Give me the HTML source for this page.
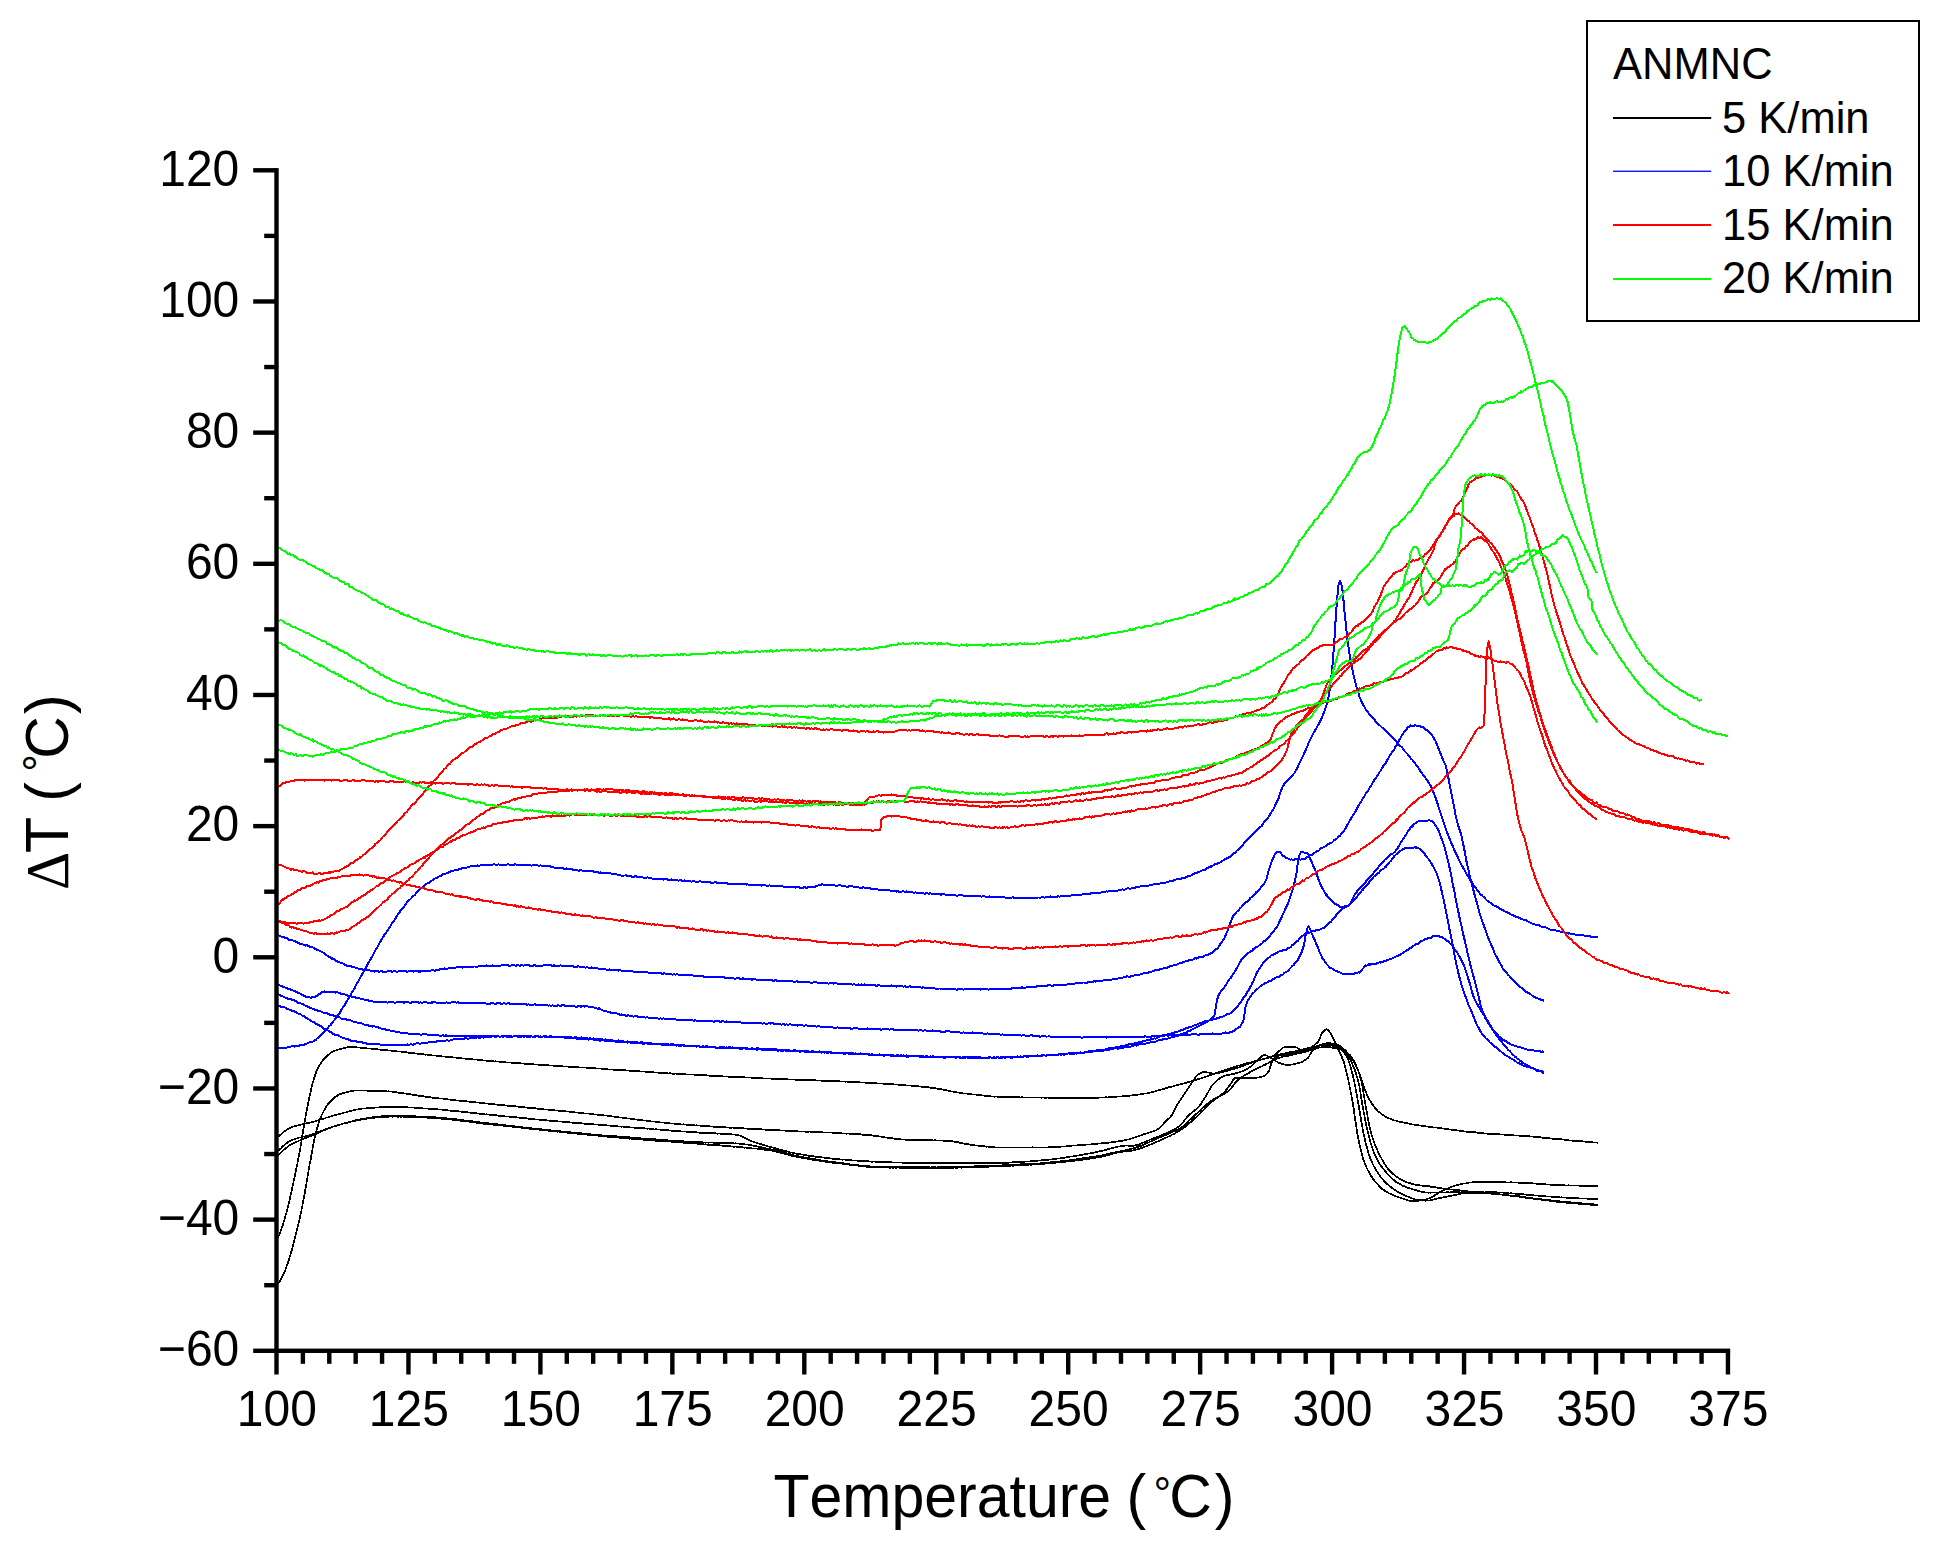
<!DOCTYPE html>
<html lang="en">
<head>
<meta charset="utf-8">
<title>ANMNC DTA curves</title>
<style>
html,body{margin:0;padding:0;background:#fff;}
body{width:1939px;height:1550px;overflow:hidden;}
svg{display:block;font-family:"Liberation Sans",Arial,sans-serif;font-kerning:none;}
text{fill:#000;font-kerning:none;}
.tick text{font-size:48px;}
.curves path{fill:none;stroke-linejoin:round;}
.legend text{font-size:43.5px;}
.title text{font-size:59.0px;}
</style>
</head>
<body>
<svg width="1939" height="1550" viewBox="0 0 1939 1550">
<rect x="0" y="0" width="1939" height="1550" fill="#ffffff"/>
<g class="curves" shape-rendering="crispEdges">
<path d="M278.1,1237.7 279.6,1234.1 281.1,1229.8 282.6,1225.6 284.1,1220.6 285.6,1215.5 286.3,1213.4 287.1,1210.1 288.6,1204.2 290.1,1197.6 291.6,1191.0 293.1,1184.0 294.4,1178.1 294.6,1177.1 296.1,1169.8 297.6,1162.4 299.1,1154.6 299.8,1151.0 300.6,1146.3 302.1,1137.1 303.6,1127.9 305.1,1119.0 305.2,1118.5 306.6,1111.0 308.1,1103.2 309.6,1095.9 310.7,1091.4 311.1,1089.3 312.6,1083.3 314.1,1078.1 315.6,1073.5 316.1,1072.3 317.1,1070.1 318.6,1067.1 320.1,1064.4 321.6,1062.2 323.1,1059.9 324.2,1058.9 324.6,1058.4 326.1,1056.8 327.6,1055.5 329.1,1054.3 330.6,1053.1 332.1,1052.0 333.6,1051.4 335.0,1050.7 335.1,1050.7 336.6,1050.3 338.1,1049.6 339.6,1049.3 341.1,1048.8 342.6,1048.5 344.1,1048.0 345.6,1047.8 347.1,1047.4 348.6,1047.2 350.1,1047.3 351.3,1047.3 351.6,1047.3 353.1,1047.2 354.6,1047.2 356.1,1047.2 357.6,1047.4 359.1,1047.6 360.6,1047.7 362.1,1047.7 363.6,1047.8 365.1,1048.1 366.6,1048.3 368.1,1048.5 369.6,1048.4 371.1,1048.6 372.6,1048.9 374.1,1048.9 375.6,1049.1 377.1,1049.1 378.4,1049.4 378.6,1049.5 380.1,1049.6 381.6,1049.8 383.1,1049.9 384.6,1049.9 386.1,1050.2 387.6,1050.2 389.1,1050.5 390.6,1050.5 392.1,1050.9 393.6,1050.8 395.1,1051.1 396.6,1051.2 398.1,1051.5 399.6,1051.5 401.1,1051.7 402.6,1051.8 404.1,1052.1 405.6,1052.3 407.1,1052.4 408.6,1052.7 410.1,1052.8 411.6,1053.1 413.1,1053.2 414.6,1053.3 416.1,1053.6 417.6,1053.7 419.1,1054.0 420.6,1054.0 422.1,1054.2 423.6,1054.3 425.1,1054.7 426.6,1054.6 428.1,1054.8 429.6,1054.9 431.1,1055.1 432.6,1055.4 432.6,1055.4 434.1,1055.4 435.6,1055.6 437.1,1055.8 438.6,1056.0 440.1,1056.1 441.6,1056.3 443.1,1056.5 444.6,1056.6 446.1,1056.7 447.6,1056.8 449.1,1057.0 450.6,1057.0 452.1,1057.2 453.6,1057.4 455.1,1057.6 456.6,1057.7 458.1,1057.9 459.6,1058.2 461.1,1058.3 462.6,1058.4 464.1,1058.6 465.6,1058.7 467.1,1058.9 468.6,1059.0 470.1,1059.1 471.6,1059.1 473.1,1059.4 474.6,1059.4 476.1,1059.5 477.6,1059.8 479.1,1060.0 480.6,1060.0 482.1,1060.3 483.6,1060.4 485.1,1060.4 486.6,1060.8 488.1,1060.7 489.6,1060.8 491.1,1061.1 492.6,1061.0 494.1,1061.4 495.6,1061.3 497.1,1061.5 498.6,1061.6 500.1,1061.9 501.6,1061.9 503.1,1062.2 504.6,1062.2 506.1,1062.4 507.6,1062.4 509.1,1062.5 510.6,1062.6 512.1,1062.9 513.6,1062.8 513.9,1063.1 515.1,1063.1 516.6,1063.1 518.1,1063.3 519.6,1063.3 521.1,1063.4 522.6,1063.6 524.1,1063.6 525.6,1063.8 527.1,1064.1 528.6,1064.0 530.1,1064.2 531.6,1064.2 533.1,1064.2 534.6,1064.6 536.1,1064.4 537.6,1064.6 539.1,1064.9 540.6,1064.8 542.1,1065.0 543.6,1065.1 545.1,1065.2 546.6,1065.3 548.1,1065.3 549.6,1065.5 551.1,1065.4 552.6,1065.6 554.1,1065.7 555.6,1065.8 557.1,1065.8 558.6,1065.9 560.1,1066.1 561.6,1066.2 563.1,1066.4 564.6,1066.4 566.1,1066.6 567.6,1066.6 569.1,1066.7 570.6,1066.7 572.1,1066.9 573.6,1066.9 575.1,1066.9 576.6,1067.3 578.1,1067.3 579.6,1067.4 581.1,1067.4 582.6,1067.6 584.1,1067.5 585.6,1067.6 587.1,1067.9 588.6,1067.9 590.1,1067.9 591.6,1068.2 593.1,1068.1 594.6,1068.3 595.2,1068.2 596.1,1068.5 597.6,1068.4 599.1,1068.5 600.6,1068.6 602.1,1068.7 603.6,1068.8 605.1,1069.0 606.6,1069.1 608.1,1069.4 609.6,1069.5 611.1,1069.5 612.6,1069.6 614.1,1069.7 615.6,1069.9 617.1,1069.7 618.6,1069.8 620.1,1070.0 621.6,1070.0 623.1,1070.3 624.6,1070.3 626.1,1070.4 627.6,1070.5 629.1,1070.6 630.6,1070.9 632.1,1070.9 633.6,1071.0 635.1,1070.9 636.6,1071.2 638.1,1071.3 639.6,1071.3 641.1,1071.5 642.6,1071.5 644.1,1071.6 645.6,1071.7 647.1,1071.9 648.6,1072.0 650.1,1072.2 651.6,1072.1 653.1,1072.2 654.6,1072.5 656.1,1072.4 657.6,1072.5 659.1,1072.8 660.6,1072.9 662.1,1072.8 663.6,1072.9 665.1,1073.0 666.6,1073.1 668.1,1073.4 669.6,1073.3 671.1,1073.3 672.6,1073.7 674.1,1073.7 675.6,1073.6 676.5,1073.7 677.1,1073.8 678.6,1073.8 680.1,1074.0 681.6,1074.1 683.1,1074.0 684.6,1074.3 686.1,1074.4 687.6,1074.5 689.1,1074.5 690.6,1074.6 692.1,1074.6 693.6,1074.6 695.1,1074.7 696.6,1075.1 698.1,1075.0 699.6,1075.2 701.1,1075.1 702.6,1075.3 704.1,1075.2 705.6,1075.3 707.1,1075.4 708.6,1075.6 710.1,1075.7 711.6,1075.7 713.1,1075.8 714.6,1075.9 716.1,1076.1 717.6,1076.1 719.1,1076.2 720.6,1076.1 722.1,1076.3 723.6,1076.4 725.1,1076.5 726.6,1076.5 728.1,1076.6 729.6,1076.8 731.1,1076.8 732.6,1076.9 734.1,1076.8 735.6,1076.9 737.1,1077.0 738.6,1077.0 740.1,1077.4 741.6,1077.2 743.1,1077.3 744.6,1077.3 746.1,1077.6 747.6,1077.5 749.1,1077.5 750.6,1077.6 752.1,1077.7 753.6,1077.9 755.1,1078.0 756.6,1078.0 758.1,1078.0 759.6,1078.3 761.1,1078.3 762.6,1078.2 764.1,1078.5 765.6,1078.5 767.1,1078.4 768.6,1078.6 770.0,1078.6 770.1,1078.6 771.6,1078.7 773.1,1078.8 774.6,1078.8 776.1,1078.9 777.6,1078.9 779.1,1079.1 780.6,1079.0 782.1,1079.3 783.6,1079.2 785.1,1079.2 786.6,1079.2 788.1,1079.4 789.6,1079.4 791.1,1079.5 792.6,1079.6 794.1,1079.5 795.6,1079.8 797.1,1079.6 798.6,1079.9 800.1,1079.9 801.6,1080.0 803.1,1080.0 804.6,1079.9 806.1,1080.0 807.6,1080.1 809.1,1080.2 810.6,1080.2 812.1,1080.3 813.6,1080.2 815.1,1080.3 816.6,1080.4 818.1,1080.5 819.6,1080.4 821.1,1080.7 822.6,1080.7 824.1,1080.8 825.6,1080.7 827.1,1080.9 828.6,1081.0 830.1,1081.1 831.6,1080.9 833.1,1081.1 834.6,1081.1 836.1,1081.2 837.6,1081.2 839.1,1081.2 840.6,1081.4 842.1,1081.5 843.6,1081.5 845.1,1081.7 846.6,1081.6 848.1,1081.7 849.6,1081.9 851.1,1081.9 851.3,1081.8 852.6,1081.9 854.1,1082.2 855.6,1082.3 857.1,1082.2 858.6,1082.2 860.1,1082.4 861.6,1082.4 863.1,1082.5 864.6,1082.6 866.1,1082.7 867.6,1082.7 869.1,1083.0 870.6,1082.8 872.1,1083.1 873.6,1083.0 875.1,1083.1 876.6,1083.2 878.1,1083.5 879.6,1083.5 881.1,1083.7 882.6,1083.5 884.1,1083.8 885.6,1083.8 887.1,1083.9 888.6,1084.1 890.1,1084.1 891.6,1084.2 893.1,1084.3 894.6,1084.4 896.1,1084.6 897.6,1084.6 899.1,1084.7 900.6,1084.9 902.1,1085.0 903.6,1085.2 905.1,1085.3 906.6,1085.4 908.1,1085.6 909.6,1085.5 911.1,1085.6 912.6,1085.8 914.1,1085.9 915.6,1086.2 917.1,1086.3 918.6,1086.3 920.1,1086.6 921.6,1086.7 923.1,1086.8 924.6,1087.1 926.1,1087.3 927.6,1087.2 929.1,1087.4 930.6,1087.8 932.1,1087.7 932.6,1087.9 933.6,1087.9 935.1,1088.1 936.6,1088.4 938.1,1088.8 939.6,1088.8 941.1,1089.1 942.6,1089.6 944.1,1089.8 945.6,1090.1 947.1,1090.6 948.6,1090.7 950.1,1091.1 951.6,1091.5 953.1,1091.7 954.6,1092.0 956.1,1092.3 957.6,1092.5 959.1,1092.6 959.7,1092.8 960.6,1092.9 962.1,1093.2 963.6,1093.4 965.1,1093.6 966.6,1093.5 968.1,1093.8 969.6,1094.0 971.1,1094.3 972.6,1094.4 974.1,1094.5 975.6,1094.6 977.1,1094.9 978.6,1095.2 980.1,1095.1 981.6,1095.3 983.1,1095.5 984.6,1095.7 986.1,1095.8 987.6,1096.1 989.1,1096.1 990.6,1096.3 992.1,1096.5 993.6,1096.6 995.1,1096.7 996.6,1096.5 998.1,1096.8 999.6,1096.8 1000.4,1096.8 1001.1,1096.7 1002.6,1096.8 1004.1,1097.0 1005.6,1096.8 1007.1,1096.9 1008.6,1097.0 1010.1,1097.2 1011.6,1097.1 1013.1,1097.0 1014.6,1097.1 1016.1,1097.2 1017.6,1097.3 1019.1,1097.2 1020.6,1097.4 1022.1,1097.3 1023.6,1097.5 1025.1,1097.4 1026.6,1097.4 1028.1,1097.4 1029.6,1097.4 1031.1,1097.6 1032.6,1097.4 1034.1,1097.5 1035.6,1097.5 1037.1,1097.5 1038.6,1097.6 1040.1,1097.6 1041.0,1097.6 1041.6,1097.7 1043.1,1097.6 1044.6,1097.7 1046.1,1097.8 1047.6,1097.6 1049.1,1097.7 1050.6,1097.9 1052.1,1097.9 1053.6,1098.0 1055.1,1097.7 1056.6,1098.0 1058.1,1098.0 1059.6,1098.1 1061.1,1098.0 1062.6,1098.0 1064.1,1098.1 1065.6,1098.1 1067.1,1098.1 1068.6,1098.1 1070.1,1098.0 1071.6,1098.0 1073.1,1098.2 1074.6,1098.2 1076.1,1098.0 1077.6,1098.2 1079.1,1098.1 1080.6,1098.2 1081.7,1098.1 1082.1,1098.1 1083.6,1098.1 1085.1,1098.0 1086.6,1098.0 1088.1,1098.0 1089.6,1097.9 1091.1,1098.1 1092.6,1098.0 1094.1,1097.8 1095.6,1097.9 1097.1,1097.8 1098.6,1097.7 1100.1,1097.6 1101.6,1097.6 1103.1,1097.6 1104.6,1097.4 1106.1,1097.3 1107.6,1097.4 1109.1,1097.1 1110.6,1097.1 1112.1,1096.9 1113.6,1096.9 1115.1,1096.7 1116.6,1096.7 1118.1,1096.5 1119.6,1096.6 1121.1,1096.5 1122.3,1096.3 1122.6,1096.4 1124.1,1096.2 1125.6,1096.1 1127.1,1096.0 1128.6,1095.7 1130.1,1095.7 1131.6,1095.4 1133.1,1095.3 1134.6,1095.0 1136.1,1095.0 1137.6,1094.7 1139.1,1094.6 1140.6,1094.2 1142.1,1094.0 1143.6,1093.8 1145.1,1093.5 1145.5,1093.4 1146.6,1093.4 1148.1,1093.2 1149.6,1092.7 1151.1,1092.3 1152.6,1092.0 1154.1,1091.5 1155.6,1091.2 1157.1,1090.7 1158.6,1090.3 1160.1,1090.0 1161.6,1089.5 1163.1,1089.1 1164.6,1088.6 1166.1,1088.1 1167.6,1087.6 1168.7,1087.2 1169.1,1087.1 1170.6,1086.9 1172.1,1086.6 1173.6,1086.0 1175.1,1085.5 1176.6,1085.2 1178.1,1085.0 1179.6,1084.4 1181.1,1084.0 1182.6,1083.7 1184.1,1083.4 1185.6,1083.0 1187.1,1082.4 1188.6,1082.1 1190.1,1081.7 1191.6,1081.2 1191.9,1081.2 1193.1,1080.9 1194.6,1080.3 1196.1,1079.9 1197.6,1079.3 1199.1,1078.9 1200.6,1078.5 1202.1,1078.0 1203.6,1077.4 1205.1,1076.8 1206.6,1076.4 1208.1,1075.8 1209.6,1075.2 1211.1,1074.8 1212.6,1074.4 1214.1,1073.9 1215.1,1073.6 1215.6,1073.2 1217.1,1072.7 1218.6,1072.1 1220.1,1071.7 1221.6,1071.3 1223.1,1070.6 1224.6,1070.3 1226.1,1069.7 1227.6,1069.1 1229.1,1068.7 1230.6,1068.2 1232.1,1067.8 1233.6,1067.0 1235.1,1066.8 1236.6,1066.3 1238.1,1065.7 1238.3,1065.6 1239.6,1065.5 1241.1,1064.8 1242.6,1064.4 1244.1,1064.1 1245.6,1063.5 1247.1,1063.2 1248.6,1062.8 1250.1,1062.5 1251.6,1062.1 1253.1,1061.7 1254.6,1061.3 1256.1,1061.0 1257.6,1060.6 1259.1,1060.3 1260.6,1059.7 1261.5,1059.6 1262.1,1059.3 1263.6,1058.9 1265.1,1058.6 1266.6,1058.2 1268.1,1057.8 1269.6,1057.2 1271.1,1056.8 1272.6,1056.5 1274.1,1056.1 1275.6,1055.7 1277.1,1055.1 1278.6,1054.9 1280.1,1054.4 1281.6,1054.0 1283.1,1053.6 1284.6,1053.5 1284.7,1053.5 1286.1,1052.9 1287.6,1052.6 1289.1,1052.5 1290.6,1052.0 1292.1,1051.7 1293.6,1051.4 1295.1,1051.4 1296.6,1050.9 1298.1,1050.6 1299.6,1050.4 1300.2,1050.2 1301.1,1050.1 1302.6,1049.6 1304.1,1049.2 1305.6,1048.9 1307.1,1048.5 1308.6,1048.0 1310.1,1047.9 1311.6,1047.5 1313.1,1047.0 1314.6,1046.7 1315.7,1046.5 1316.1,1046.2 1317.6,1045.9 1319.1,1045.4 1320.6,1044.7 1322.1,1044.2 1323.6,1044.0 1325.1,1043.6 1326.6,1043.2 1328.1,1043.4 1328.1,1043.4 1329.6,1043.3 1331.1,1043.4 1332.6,1043.6 1334.1,1044.0 1335.6,1044.2 1337.1,1044.8 1337.3,1044.9 1338.6,1045.3 1340.1,1046.0 1341.6,1047.2 1343.1,1048.5 1344.6,1049.7 1346.1,1051.3 1346.6,1051.9 1347.6,1052.7 1349.1,1054.8 1350.6,1056.8 1352.1,1059.0 1353.6,1061.5 1354.4,1062.5 1355.1,1064.1 1356.6,1067.2 1358.1,1070.4 1359.6,1074.3 1360.5,1076.5 1361.1,1078.2 1362.6,1082.9 1364.1,1087.7 1365.2,1090.4 1365.6,1091.5 1367.1,1095.1 1368.6,1097.9 1370.1,1100.7 1371.4,1103.0 1371.6,1103.3 1373.1,1105.3 1374.6,1107.5 1376.1,1109.1 1377.6,1110.9 1379.1,1112.3 1379.5,1112.3 1380.6,1113.2 1382.1,1114.4 1383.6,1115.5 1385.1,1116.4 1386.6,1117.1 1388.1,1118.0 1389.6,1118.5 1391.1,1119.1 1391.9,1119.4 1392.6,1119.8 1394.1,1120.3 1395.6,1120.6 1397.1,1121.0 1398.6,1121.6 1400.1,1121.8 1401.6,1122.1 1403.1,1122.5 1404.6,1122.9 1406.1,1123.2 1407.4,1123.2 1407.6,1123.5 1409.1,1123.7 1410.6,1123.8 1412.1,1124.3 1413.6,1124.6 1415.1,1124.8 1416.6,1124.8 1418.1,1125.2 1419.6,1125.4 1421.1,1125.7 1422.6,1125.8 1424.1,1125.9 1425.6,1126.4 1427.1,1126.6 1428.6,1126.7 1430.1,1126.8 1431.6,1127.2 1433.1,1127.4 1434.6,1127.6 1436.1,1127.5 1437.6,1127.9 1438.3,1127.9 1439.1,1128.0 1440.6,1128.3 1442.1,1128.4 1443.6,1128.5 1445.1,1128.8 1446.6,1129.2 1448.1,1129.3 1449.6,1129.4 1451.1,1129.7 1452.6,1129.7 1454.1,1130.1 1455.6,1130.3 1457.1,1130.3 1458.6,1130.6 1460.1,1130.8 1461.6,1131.0 1463.1,1131.2 1464.6,1131.4 1466.1,1131.6 1467.6,1131.8 1469.1,1131.8 1470.6,1131.9 1472.1,1132.1 1473.6,1132.3 1475.1,1132.3 1476.6,1132.5 1478.1,1132.8 1479.6,1132.8 1481.1,1133.0 1482.6,1133.3 1484.1,1133.4 1484.7,1133.5 1485.6,1133.4 1487.1,1133.6 1488.6,1133.8 1490.1,1133.7 1491.6,1133.8 1493.1,1134.1 1494.6,1134.1 1496.1,1134.1 1497.6,1134.3 1499.1,1134.3 1500.6,1134.5 1502.1,1134.5 1503.6,1134.6 1505.1,1134.7 1506.6,1134.8 1508.1,1134.8 1509.6,1135.0 1511.1,1135.2 1512.6,1135.2 1514.1,1135.4 1515.6,1135.5 1517.1,1135.4 1518.6,1135.5 1520.1,1135.8 1521.6,1135.7 1523.1,1135.8 1524.6,1136.0 1526.1,1136.2 1527.6,1136.1 1529.1,1136.3 1530.6,1136.5 1531.1,1136.5 1532.1,1136.5 1533.6,1136.7 1535.1,1136.8 1536.6,1137.0 1538.1,1137.0 1539.6,1137.1 1541.1,1137.5 1542.6,1137.7 1544.1,1137.8 1545.6,1138.0 1547.1,1138.2 1548.6,1138.2 1550.1,1138.4 1551.6,1138.6 1553.1,1138.7 1554.6,1138.9 1556.1,1138.9 1557.6,1139.2 1559.1,1139.3 1560.6,1139.3 1562.1,1139.4 1562.1,1139.6 1563.6,1139.6 1565.1,1140.0 1566.6,1139.9 1568.1,1140.1 1569.6,1140.4 1571.1,1140.4 1572.6,1140.7 1574.1,1140.8 1575.6,1140.7 1577.1,1140.8 1578.6,1141.0 1580.1,1141.3 1581.6,1141.3 1583.1,1141.4 1584.6,1141.6 1586.1,1141.7 1587.6,1141.9 1589.1,1141.8 1590.6,1142.0 1592.1,1142.3 1593.6,1142.4 1595.1,1142.5 1596.6,1142.5 1597.7,1142.7" stroke="#000000" stroke-width="1.7"/>
<path d="M278.1,1283.8 279.6,1281.5 281.1,1279.0 282.6,1275.8 284.1,1272.7 285.6,1269.2 286.3,1267.4 287.1,1265.1 288.6,1260.8 290.1,1256.0 291.6,1250.7 293.1,1245.1 294.4,1240.4 294.6,1239.6 296.1,1233.6 297.6,1227.5 299.1,1221.2 300.6,1214.3 302.1,1207.1 302.5,1205.1 303.6,1199.4 305.1,1191.1 306.6,1182.4 308.1,1173.5 309.6,1164.7 310.7,1159.3 311.1,1156.6 312.6,1148.5 314.1,1140.5 315.6,1133.6 316.1,1131.9 317.1,1128.3 318.6,1123.4 320.1,1119.1 321.5,1115.8 321.6,1115.4 323.1,1112.3 324.6,1109.5 326.1,1107.0 327.6,1104.6 329.1,1102.9 329.6,1102.3 330.6,1101.3 332.1,1099.7 333.6,1098.4 335.1,1097.1 336.6,1096.1 338.1,1095.1 339.6,1094.3 340.5,1094.0 341.1,1093.9 342.6,1093.3 344.1,1093.0 345.6,1092.5 347.1,1092.0 348.6,1091.8 350.1,1091.3 351.6,1091.1 353.1,1090.8 354.6,1090.6 356.1,1090.5 356.7,1090.5 357.6,1090.6 359.1,1090.5 360.6,1090.4 362.1,1090.7 363.6,1090.5 365.1,1090.6 366.6,1090.6 368.1,1090.7 369.6,1090.7 371.1,1090.8 372.6,1090.8 374.1,1090.8 375.6,1090.8 377.1,1090.8 378.4,1091.0 378.6,1090.8 380.1,1090.9 381.6,1091.0 383.1,1090.9 384.6,1091.1 386.1,1091.3 387.6,1091.4 389.1,1091.3 390.6,1091.6 392.1,1091.6 393.6,1092.0 395.1,1092.0 396.6,1092.2 398.1,1092.7 399.6,1092.7 401.1,1092.9 402.6,1093.0 404.1,1093.3 405.6,1093.6 407.1,1093.8 408.6,1093.9 410.1,1094.2 411.6,1094.5 413.1,1094.8 414.6,1095.0 416.1,1095.3 417.6,1095.4 419.1,1095.9 420.6,1096.1 422.1,1096.1 423.6,1096.3 425.1,1096.7 426.6,1096.9 428.1,1096.9 429.6,1097.2 431.1,1097.4 432.6,1097.7 432.6,1097.7 434.1,1097.9 435.6,1098.1 437.1,1098.0 438.6,1098.4 440.1,1098.5 441.6,1098.5 443.1,1098.7 444.6,1099.0 446.1,1099.1 447.6,1099.3 449.1,1099.6 450.6,1099.7 452.1,1099.8 453.6,1100.1 455.1,1100.1 456.6,1100.4 458.1,1100.5 459.6,1100.8 461.1,1100.7 462.6,1101.1 464.1,1101.1 465.6,1101.3 467.1,1101.3 468.6,1101.6 470.1,1101.7 471.6,1101.8 473.1,1101.9 474.6,1102.3 476.1,1102.4 477.6,1102.4 479.1,1102.6 480.6,1102.8 482.1,1103.1 483.6,1103.0 485.1,1103.5 486.6,1103.6 488.1,1103.6 489.6,1103.8 491.1,1103.9 492.6,1104.2 494.1,1104.1 495.6,1104.4 497.1,1104.6 498.6,1104.8 500.1,1104.9 501.6,1105.1 503.1,1105.1 504.6,1105.2 506.1,1105.5 507.6,1105.7 509.1,1105.9 510.6,1106.0 512.1,1106.2 513.6,1106.4 513.9,1106.2 515.1,1106.3 516.6,1106.5 518.1,1106.7 519.6,1106.9 521.1,1107.2 522.6,1107.1 524.1,1107.3 525.6,1107.5 527.1,1107.6 528.6,1107.9 530.1,1108.0 531.6,1108.2 533.1,1108.1 534.6,1108.3 536.1,1108.4 537.6,1108.8 539.1,1108.9 540.6,1108.8 542.1,1109.2 543.6,1109.3 545.1,1109.5 546.6,1109.5 548.1,1109.7 549.6,1109.7 551.1,1109.8 552.6,1110.2 554.1,1110.1 555.6,1110.5 557.1,1110.5 558.6,1110.7 560.1,1111.0 561.6,1110.9 563.1,1111.1 564.6,1111.2 566.1,1111.3 567.6,1111.6 569.1,1111.6 570.6,1112.0 572.1,1112.1 573.6,1112.1 575.1,1112.5 576.6,1112.4 578.1,1112.7 579.6,1112.9 581.1,1112.9 582.6,1112.9 584.1,1113.4 585.6,1113.5 587.1,1113.5 588.6,1113.6 590.1,1113.9 591.6,1114.1 593.1,1114.3 594.6,1114.5 595.2,1114.6 596.1,1114.4 597.6,1114.7 599.1,1114.8 600.6,1114.9 602.1,1115.1 603.6,1115.3 605.1,1115.5 606.6,1115.6 608.1,1115.8 609.6,1115.9 611.1,1116.3 612.6,1116.5 614.1,1116.6 615.6,1116.8 617.1,1117.0 618.6,1117.3 620.1,1117.5 621.6,1117.5 623.1,1117.8 624.6,1117.9 626.1,1118.3 627.6,1118.4 629.1,1118.4 630.6,1118.7 632.1,1118.8 633.6,1119.0 635.1,1119.3 636.6,1119.6 638.1,1119.7 639.6,1119.8 641.1,1120.1 642.6,1120.2 644.1,1120.5 645.6,1120.5 647.1,1120.8 648.6,1120.9 650.1,1121.1 651.6,1121.4 653.1,1121.4 654.6,1121.6 656.1,1121.7 657.6,1122.1 659.1,1122.2 660.6,1122.4 662.1,1122.4 663.6,1122.5 665.1,1122.8 666.6,1123.1 668.1,1123.2 669.6,1123.2 671.1,1123.5 672.6,1123.4 674.1,1123.7 675.6,1123.8 676.5,1123.9 677.1,1123.9 678.6,1124.2 680.1,1124.1 681.6,1124.5 683.1,1124.3 684.6,1124.5 686.1,1124.7 687.6,1124.8 689.1,1124.9 690.6,1125.0 692.1,1125.0 693.6,1125.2 695.1,1125.4 696.6,1125.3 698.1,1125.5 699.6,1125.6 701.1,1125.7 702.6,1125.8 704.1,1126.1 705.6,1126.1 707.1,1126.1 708.6,1126.2 710.1,1126.4 711.6,1126.5 713.1,1126.7 714.6,1126.8 716.1,1126.7 717.6,1126.9 719.1,1126.9 720.6,1127.0 722.1,1127.1 723.6,1127.3 725.1,1127.3 726.6,1127.4 728.1,1127.5 729.6,1127.7 731.1,1127.7 732.6,1127.6 734.1,1127.9 735.6,1128.0 737.1,1128.1 738.6,1128.0 740.1,1128.1 741.6,1128.2 743.1,1128.2 744.6,1128.4 746.1,1128.6 747.6,1128.7 749.1,1128.7 750.6,1128.9 752.1,1128.9 753.6,1128.9 755.1,1129.1 756.6,1129.1 758.1,1129.3 759.6,1129.2 761.1,1129.2 762.6,1129.5 764.1,1129.4 765.6,1129.7 767.1,1129.7 768.6,1129.9 770.0,1129.7 770.1,1129.9 771.6,1130.0 773.1,1129.9 774.6,1130.2 776.1,1130.1 777.6,1130.2 779.1,1130.3 780.6,1130.5 782.1,1130.4 783.6,1130.5 785.1,1130.7 786.6,1130.8 788.1,1130.8 789.6,1130.8 791.1,1131.0 792.6,1131.0 794.1,1131.0 795.6,1131.2 797.1,1131.1 798.6,1131.4 800.1,1131.4 801.6,1131.4 803.1,1131.5 804.6,1131.6 806.1,1131.7 807.6,1131.8 809.1,1131.6 810.6,1131.7 812.1,1132.0 813.6,1131.8 815.1,1131.9 816.6,1132.1 818.1,1132.2 819.6,1132.3 821.1,1132.2 822.6,1132.3 824.1,1132.5 825.6,1132.5 827.1,1132.6 828.6,1132.4 830.1,1132.6 831.6,1132.6 833.1,1132.9 834.6,1132.8 836.1,1132.9 837.6,1133.1 839.1,1133.0 840.6,1133.2 842.1,1133.4 843.6,1133.5 845.1,1133.4 846.6,1133.7 848.1,1133.6 849.6,1133.7 851.1,1133.7 852.6,1134.0 854.1,1133.9 855.6,1134.2 857.1,1134.2 858.6,1134.3 860.1,1134.3 861.6,1134.5 863.1,1134.8 864.6,1134.7 864.9,1134.7 866.1,1134.7 867.6,1134.9 869.1,1135.2 870.6,1135.2 872.1,1135.3 873.6,1135.7 875.1,1136.0 876.6,1136.1 878.1,1136.3 879.6,1136.4 881.1,1136.7 882.6,1137.0 884.1,1137.1 885.6,1137.4 887.1,1137.5 888.6,1138.0 890.1,1138.1 891.6,1138.2 893.1,1138.4 894.6,1138.8 896.1,1138.8 897.6,1138.9 899.1,1139.0 900.6,1139.4 902.1,1139.4 903.6,1139.6 905.1,1139.5 905.5,1139.7 906.6,1139.8 908.1,1139.8 909.6,1139.9 911.1,1139.8 912.6,1139.7 914.1,1140.0 915.6,1139.8 917.1,1139.9 918.6,1140.0 920.1,1139.9 921.6,1140.1 923.1,1140.2 924.6,1140.0 926.1,1140.2 927.6,1140.3 929.1,1140.1 930.6,1140.2 932.1,1140.3 933.6,1140.4 935.1,1140.3 936.6,1140.5 938.1,1140.4 939.6,1140.4 941.1,1140.5 942.6,1140.6 944.1,1140.7 945.6,1140.7 946.2,1140.6 947.1,1140.8 948.6,1140.8 950.1,1141.1 951.6,1141.1 953.1,1141.5 954.6,1141.8 956.1,1141.8 957.6,1142.1 959.1,1142.6 960.6,1142.9 962.1,1143.0 963.6,1143.6 965.1,1143.7 966.6,1144.0 968.1,1144.3 969.6,1144.5 971.1,1144.9 972.6,1145.0 973.3,1145.2 974.1,1145.2 975.6,1145.4 977.1,1145.5 978.6,1145.7 980.1,1145.9 981.6,1145.9 983.1,1146.3 984.6,1146.3 986.1,1146.7 987.6,1146.6 989.1,1146.9 990.6,1147.1 992.1,1147.2 993.6,1147.1 995.1,1147.4 996.6,1147.4 998.1,1147.4 999.6,1147.5 1000.4,1147.6 1001.1,1147.4 1002.6,1147.5 1004.1,1147.5 1005.6,1147.4 1007.1,1147.6 1008.6,1147.5 1010.1,1147.4 1011.6,1147.4 1013.1,1147.4 1014.6,1147.5 1016.1,1147.6 1017.6,1147.4 1019.1,1147.4 1020.6,1147.4 1022.1,1147.5 1023.6,1147.5 1025.1,1147.5 1026.6,1147.4 1028.1,1147.6 1029.6,1147.5 1031.1,1147.6 1032.6,1147.3 1034.1,1147.5 1035.6,1147.4 1037.1,1147.6 1038.6,1147.5 1040.1,1147.5 1041.0,1147.4 1041.6,1147.5 1043.1,1147.6 1044.6,1147.5 1046.1,1147.6 1047.6,1147.4 1049.1,1147.3 1050.6,1147.2 1052.1,1147.3 1053.6,1147.2 1055.1,1147.1 1056.6,1147.0 1058.1,1146.9 1059.6,1146.9 1061.1,1146.7 1062.6,1146.5 1064.1,1146.5 1065.6,1146.4 1067.1,1146.1 1068.6,1146.2 1070.1,1146.1 1071.6,1145.7 1073.1,1145.6 1074.6,1145.5 1076.1,1145.6 1077.6,1145.3 1079.1,1145.3 1080.6,1145.1 1081.7,1144.9 1082.1,1144.9 1083.6,1144.8 1085.1,1144.9 1086.6,1144.6 1088.1,1144.4 1089.6,1144.6 1091.1,1144.3 1092.6,1144.0 1094.1,1144.2 1095.6,1144.0 1097.1,1143.8 1098.6,1143.5 1100.1,1143.6 1101.6,1143.2 1103.1,1143.3 1104.6,1143.1 1106.1,1142.9 1107.6,1142.8 1109.1,1142.7 1110.6,1142.4 1112.1,1142.3 1113.6,1141.9 1115.1,1141.8 1116.6,1141.6 1118.1,1141.3 1119.6,1141.0 1121.1,1141.0 1122.3,1140.8 1122.6,1140.5 1124.1,1140.4 1125.6,1140.0 1127.1,1139.6 1128.6,1139.4 1130.1,1138.9 1131.6,1138.5 1133.1,1137.9 1134.6,1137.6 1136.1,1137.1 1137.6,1136.4 1139.1,1136.0 1140.6,1135.4 1142.1,1135.0 1143.6,1134.3 1145.1,1133.9 1145.5,1133.9 1146.6,1133.5 1148.1,1133.0 1149.6,1132.4 1151.1,1132.1 1152.6,1131.5 1154.1,1131.0 1155.6,1130.4 1157.1,1129.7 1157.9,1129.2 1158.6,1128.7 1160.1,1127.2 1161.6,1125.7 1163.1,1124.2 1164.6,1122.5 1165.6,1121.5 1166.1,1120.8 1167.6,1119.5 1169.1,1118.3 1170.6,1116.7 1171.8,1115.3 1172.1,1114.7 1173.6,1111.9 1175.1,1108.6 1176.4,1106.1 1176.6,1105.5 1178.1,1103.3 1179.6,1100.9 1181.1,1098.8 1182.6,1096.8 1182.6,1096.7 1184.1,1094.4 1185.6,1092.1 1187.1,1089.9 1188.6,1087.6 1188.8,1087.4 1190.1,1085.3 1191.6,1082.8 1193.1,1080.5 1194.6,1078.7 1195.0,1078.1 1196.1,1076.6 1197.6,1075.0 1199.1,1073.8 1199.6,1073.4 1200.6,1073.1 1202.1,1072.3 1203.6,1072.0 1204.3,1071.9 1205.1,1071.8 1206.6,1072.3 1208.1,1072.6 1209.6,1072.7 1211.1,1073.2 1212.6,1073.4 1213.6,1073.4 1214.1,1073.4 1215.6,1073.3 1217.1,1073.2 1218.6,1072.9 1220.1,1072.5 1221.6,1072.2 1223.1,1071.8 1224.6,1071.5 1226.1,1071.1 1227.6,1070.7 1229.0,1070.4 1229.1,1070.4 1230.6,1069.8 1232.1,1069.4 1233.6,1069.2 1235.1,1068.4 1236.6,1068.0 1238.1,1067.6 1239.6,1067.1 1241.1,1066.3 1242.6,1065.9 1244.1,1065.5 1245.6,1064.7 1247.1,1064.2 1247.6,1064.2 1248.6,1063.9 1250.1,1063.2 1251.6,1062.8 1253.1,1062.3 1254.6,1061.8 1256.1,1061.3 1257.6,1060.9 1259.1,1060.4 1260.6,1059.7 1261.5,1059.4 1262.1,1059.3 1263.6,1058.8 1265.1,1058.5 1266.6,1058.2 1268.1,1058.0 1269.6,1057.3 1271.1,1056.8 1272.3,1056.5 1272.6,1056.2 1274.1,1055.2 1275.6,1054.0 1277.1,1052.9 1278.6,1051.3 1280.1,1050.3 1280.1,1050.2 1281.6,1049.0 1283.1,1047.7 1284.6,1047.1 1284.7,1047.0 1286.1,1047.1 1287.6,1047.1 1289.1,1047.1 1290.6,1047.1 1292.1,1047.2 1293.6,1047.1 1295.1,1047.0 1295.6,1047.1 1296.6,1047.5 1298.1,1048.4 1299.6,1049.3 1301.1,1050.0 1301.7,1050.2 1302.6,1050.1 1304.1,1050.0 1305.6,1050.0 1307.1,1049.6 1308.6,1049.1 1310.1,1048.8 1311.6,1048.4 1313.1,1047.9 1314.6,1047.5 1315.7,1047.2 1316.1,1047.0 1317.6,1046.4 1319.1,1046.0 1320.6,1045.4 1322.1,1044.6 1323.6,1044.0 1325.1,1043.7 1326.6,1043.3 1328.1,1043.4 1328.1,1043.2 1329.6,1043.4 1331.1,1043.7 1332.6,1044.1 1334.1,1044.7 1335.6,1045.5 1337.1,1046.2 1337.3,1046.2 1338.6,1047.0 1340.1,1048.3 1341.6,1049.6 1343.1,1051.5 1344.6,1053.4 1346.1,1055.6 1346.6,1056.3 1347.6,1058.5 1349.1,1062.1 1350.6,1067.2 1352.1,1072.5 1352.8,1075.1 1353.6,1078.4 1355.1,1085.7 1356.6,1094.0 1358.1,1102.5 1358.2,1102.8 1359.6,1110.9 1361.1,1120.0 1362.6,1128.7 1363.6,1133.8 1364.1,1136.0 1365.6,1142.6 1367.1,1148.2 1368.6,1153.5 1369.8,1156.9 1370.1,1157.7 1371.6,1161.4 1373.1,1164.8 1374.6,1167.5 1376.1,1170.1 1377.6,1172.5 1377.6,1172.6 1379.1,1174.6 1380.6,1176.8 1382.1,1178.7 1383.6,1180.4 1385.1,1182.1 1386.6,1183.6 1388.1,1184.8 1389.6,1186.2 1389.9,1186.4 1391.1,1187.2 1392.6,1188.4 1394.1,1189.6 1395.6,1190.5 1397.1,1191.3 1398.6,1192.3 1400.1,1193.1 1401.6,1193.8 1403.1,1194.6 1404.6,1195.4 1405.4,1195.6 1406.1,1196.0 1407.6,1196.5 1409.1,1197.2 1410.6,1198.0 1412.1,1198.4 1413.6,1199.0 1415.1,1199.4 1416.2,1199.6 1416.6,1199.5 1418.1,1199.9 1419.6,1200.2 1421.1,1200.4 1422.6,1200.4 1424.1,1200.6 1425.6,1200.7 1425.9,1200.7 1427.1,1200.6 1428.6,1200.6 1430.1,1200.3 1431.6,1200.0 1433.1,1199.7 1434.6,1199.3 1436.1,1198.9 1437.6,1198.4 1438.3,1198.2 1439.1,1198.1 1440.6,1197.9 1442.1,1197.5 1443.6,1197.2 1445.1,1197.1 1446.6,1196.7 1448.1,1196.3 1449.6,1196.1 1451.1,1195.9 1452.6,1195.6 1453.8,1195.4 1454.1,1195.1 1455.6,1195.0 1457.1,1194.6 1458.6,1194.2 1460.1,1193.9 1461.6,1193.6 1463.1,1193.5 1464.6,1193.1 1466.1,1192.9 1467.6,1192.7 1469.1,1192.7 1469.3,1192.7 1470.6,1192.5 1472.1,1192.6 1473.6,1192.5 1475.1,1192.3 1476.6,1192.4 1478.1,1192.5 1479.6,1192.4 1481.1,1192.3 1482.6,1192.2 1484.1,1192.4 1485.6,1192.3 1487.1,1192.3 1488.6,1192.2 1490.1,1192.3 1491.6,1192.1 1492.5,1192.3 1493.1,1192.3 1494.6,1192.2 1496.1,1192.2 1497.6,1192.4 1499.1,1192.4 1500.6,1192.5 1502.1,1192.5 1503.6,1192.8 1505.1,1192.7 1506.6,1193.0 1508.1,1193.1 1509.6,1193.4 1511.1,1193.2 1512.6,1193.5 1514.1,1193.5 1515.6,1193.9 1515.7,1193.6 1517.1,1194.0 1518.6,1194.0 1520.1,1194.0 1521.6,1194.2 1523.1,1194.3 1524.6,1194.5 1526.1,1194.7 1527.6,1194.7 1529.1,1195.0 1530.6,1195.1 1532.1,1195.1 1533.6,1195.2 1535.1,1195.5 1536.6,1195.5 1538.1,1195.6 1539.6,1195.9 1541.1,1196.0 1542.6,1196.0 1544.1,1196.2 1545.6,1196.3 1546.6,1196.4 1547.1,1196.4 1548.6,1196.5 1550.1,1196.5 1551.6,1196.8 1553.1,1196.9 1554.6,1196.7 1556.1,1197.1 1557.6,1197.2 1559.1,1197.3 1560.6,1197.4 1562.1,1197.3 1563.6,1197.6 1565.1,1197.5 1566.6,1197.7 1568.1,1197.8 1569.6,1197.8 1571.1,1198.0 1572.6,1198.1 1574.1,1198.0 1575.6,1198.1 1577.1,1198.3 1578.6,1198.3 1580.1,1198.5 1581.6,1198.4 1583.1,1198.5 1584.6,1198.6 1586.1,1198.6 1587.6,1198.7 1589.1,1198.7 1590.6,1198.8 1592.1,1198.9 1593.6,1198.9 1595.1,1199.0 1596.6,1199.1 1597.7,1199.1" stroke="#000000" stroke-width="1.7"/>
<path d="M278.1,1136.9 279.6,1135.5 281.1,1134.3 282.6,1133.0 284.1,1131.6 285.6,1130.6 287.1,1129.5 288.6,1128.5 290.1,1127.9 291.6,1127.1 291.7,1127.1 293.1,1126.6 294.6,1126.2 296.1,1125.8 297.6,1125.4 299.1,1125.2 300.6,1124.6 302.1,1124.4 303.6,1124.2 305.1,1123.7 306.6,1123.3 308.1,1123.3 309.6,1122.7 310.7,1122.5 311.1,1122.5 312.6,1122.0 314.1,1121.6 315.6,1121.2 317.1,1120.5 318.6,1120.3 320.1,1119.7 321.6,1119.1 323.1,1118.8 324.6,1118.4 326.1,1117.7 327.6,1117.4 329.1,1116.8 330.6,1116.5 332.1,1116.0 333.6,1115.5 335.1,1115.2 336.6,1114.8 337.8,1114.5 338.1,1114.4 339.6,1113.9 341.1,1113.6 342.6,1113.3 344.1,1112.6 345.6,1112.5 347.1,1111.9 348.6,1111.6 350.1,1111.1 351.6,1110.9 353.1,1110.4 354.6,1110.2 356.1,1109.7 357.6,1109.5 359.1,1109.2 360.6,1109.0 362.1,1108.7 363.6,1108.5 364.9,1108.5 365.1,1108.5 366.6,1108.3 368.1,1108.3 369.6,1107.9 371.1,1108.0 372.6,1107.7 374.1,1107.8 375.6,1107.6 377.1,1107.4 378.6,1107.4 380.1,1107.3 381.6,1107.2 383.1,1106.9 384.6,1106.9 386.1,1106.8 387.6,1106.8 389.1,1106.8 390.6,1106.9 392.0,1106.7 392.1,1106.8 393.6,1106.8 395.1,1107.0 396.6,1107.0 398.1,1107.0 399.6,1106.9 401.1,1107.0 402.6,1107.1 404.1,1107.0 405.6,1107.2 407.1,1107.2 408.6,1107.4 410.1,1107.5 411.6,1107.6 413.1,1107.6 414.6,1107.7 416.1,1107.7 417.6,1107.9 419.1,1107.9 420.6,1108.1 422.1,1108.3 423.6,1108.4 425.1,1108.4 426.6,1108.4 428.1,1108.7 429.6,1108.7 431.1,1109.0 432.6,1109.0 432.6,1109.0 434.1,1109.2 435.6,1109.2 437.1,1109.3 438.6,1109.4 440.1,1109.6 441.6,1109.6 443.1,1109.8 444.6,1110.1 446.1,1110.1 447.6,1110.3 449.1,1110.5 450.6,1110.7 452.1,1110.8 453.6,1110.9 455.1,1111.1 456.6,1111.1 458.1,1111.3 459.6,1111.4 461.1,1111.6 462.6,1111.8 464.1,1111.9 465.6,1112.2 467.1,1112.3 468.6,1112.4 470.1,1112.6 471.6,1112.8 473.1,1113.0 474.6,1113.0 476.1,1113.2 477.6,1113.5 479.1,1113.6 480.6,1113.8 482.1,1113.9 483.6,1114.0 485.1,1114.4 486.6,1114.3 486.8,1114.3 488.1,1114.5 489.6,1114.7 491.1,1114.8 492.6,1115.0 494.1,1115.3 495.6,1115.2 497.1,1115.4 498.6,1115.7 500.1,1115.9 501.6,1116.1 503.1,1116.0 504.6,1116.2 506.1,1116.5 507.6,1116.4 509.1,1116.7 510.6,1116.8 512.1,1117.1 513.6,1117.3 515.1,1117.3 516.6,1117.3 518.1,1117.5 519.6,1117.7 521.1,1118.0 522.6,1118.0 524.1,1118.3 525.6,1118.3 527.1,1118.4 528.6,1118.7 530.1,1118.8 531.6,1118.9 533.1,1119.2 534.6,1119.2 536.1,1119.5 537.6,1119.5 539.1,1119.6 540.6,1119.8 541.0,1119.9 542.1,1120.0 543.6,1120.2 545.1,1120.1 546.6,1120.3 548.1,1120.6 549.6,1120.7 551.1,1120.8 552.6,1120.9 554.1,1121.1 555.6,1121.2 557.1,1121.3 558.6,1121.4 560.1,1121.6 561.6,1121.6 563.1,1121.8 564.6,1122.0 566.1,1122.1 567.6,1122.2 569.1,1122.2 570.6,1122.4 572.1,1122.7 573.6,1122.7 575.1,1122.8 576.6,1122.9 578.1,1123.0 579.6,1123.2 581.1,1123.2 582.6,1123.5 584.1,1123.7 585.6,1123.8 587.1,1123.7 588.6,1123.8 590.1,1124.2 591.6,1124.1 593.1,1124.2 594.6,1124.4 596.1,1124.6 597.6,1124.5 599.1,1124.8 600.6,1124.9 602.1,1125.1 603.6,1125.0 605.1,1125.3 606.6,1125.3 608.1,1125.5 609.6,1125.6 611.1,1125.7 612.6,1126.0 614.1,1125.9 615.6,1126.1 617.1,1126.1 618.6,1126.4 620.1,1126.6 621.6,1126.7 622.3,1126.5 623.1,1126.7 624.6,1126.9 626.1,1126.8 627.6,1127.0 629.1,1127.2 630.6,1127.4 632.1,1127.4 633.6,1127.6 635.1,1127.7 636.6,1127.7 638.1,1127.9 639.6,1128.0 641.1,1128.2 642.6,1128.3 644.1,1128.3 645.6,1128.5 647.1,1128.7 648.6,1128.6 650.1,1128.8 651.6,1128.8 653.1,1129.2 654.6,1129.4 656.1,1129.3 657.6,1129.4 659.1,1129.5 660.6,1129.7 662.1,1129.8 663.6,1130.0 665.1,1130.0 666.6,1130.3 668.1,1130.3 669.6,1130.5 671.1,1130.6 672.6,1130.8 674.1,1130.7 675.6,1130.9 677.1,1131.0 678.6,1131.0 680.1,1131.2 681.6,1131.4 683.1,1131.5 684.6,1131.4 686.1,1131.7 687.6,1131.7 689.1,1131.7 690.6,1131.9 692.1,1132.2 693.6,1132.3 695.1,1132.3 696.6,1132.3 698.1,1132.5 699.6,1132.7 701.1,1132.8 702.6,1132.7 703.6,1132.8 704.1,1133.0 705.6,1133.0 707.1,1133.1 708.6,1133.2 710.1,1133.2 711.6,1133.3 713.1,1133.3 714.6,1133.3 716.1,1133.4 717.6,1133.7 719.1,1133.4 720.6,1133.7 722.1,1133.8 723.6,1133.7 725.1,1133.7 726.6,1133.9 728.1,1134.0 729.6,1134.1 731.1,1134.2 732.6,1134.5 734.1,1134.4 735.6,1134.8 736.1,1134.6 737.1,1135.0 738.6,1135.2 740.1,1135.8 741.6,1136.2 743.1,1137.1 744.6,1137.9 746.1,1138.6 747.6,1139.5 749.1,1140.0 750.6,1140.8 752.1,1141.5 752.4,1141.4 753.6,1142.1 755.1,1142.4 756.6,1142.9 758.1,1143.4 759.6,1144.0 761.1,1144.2 762.6,1144.8 764.1,1145.2 765.6,1145.6 767.1,1146.2 768.6,1146.6 770.0,1147.1 770.1,1147.0 771.6,1147.3 773.1,1147.8 774.6,1148.1 776.1,1148.6 777.6,1149.1 779.1,1149.5 780.6,1149.8 782.1,1150.2 783.6,1150.8 785.1,1151.2 786.6,1151.3 788.1,1151.7 789.6,1152.2 791.1,1152.5 792.6,1152.8 794.1,1153.2 795.6,1153.5 797.1,1153.6 797.1,1153.9 798.6,1154.1 800.1,1154.2 801.6,1154.5 803.1,1154.7 804.6,1155.0 806.1,1155.1 807.6,1155.5 809.1,1155.8 810.6,1155.9 812.1,1156.2 813.6,1156.3 815.1,1156.7 816.6,1156.7 818.1,1156.9 819.6,1157.2 821.1,1157.3 822.6,1157.4 824.1,1157.6 825.6,1158.0 827.1,1157.9 828.6,1158.1 830.1,1158.5 831.6,1158.6 833.1,1158.7 834.6,1158.8 836.1,1159.1 837.6,1159.2 837.8,1159.2 839.1,1159.3 840.6,1159.4 842.1,1159.7 843.6,1159.6 845.1,1159.6 846.6,1159.8 848.1,1160.0 849.6,1160.2 851.1,1160.3 852.6,1160.4 854.1,1160.4 855.6,1160.5 857.1,1160.6 858.6,1160.8 860.1,1160.8 861.6,1161.1 863.1,1161.0 864.6,1161.1 866.1,1161.3 867.6,1161.3 869.1,1161.4 870.6,1161.6 872.1,1161.7 873.6,1161.6 875.1,1161.6 876.6,1161.8 878.1,1161.9 878.4,1161.8 879.6,1161.9 881.1,1162.0 882.6,1162.1 884.1,1162.0 885.6,1162.2 887.1,1162.0 888.6,1162.1 890.1,1162.1 891.6,1162.2 893.1,1162.5 894.6,1162.4 896.1,1162.5 897.6,1162.5 899.1,1162.5 900.6,1162.5 902.1,1162.6 903.6,1162.8 905.1,1162.7 906.6,1162.8 908.1,1162.8 909.6,1163.0 911.1,1163.0 912.6,1162.9 914.1,1163.0 915.6,1163.0 917.1,1163.1 918.6,1163.1 920.1,1163.1 921.6,1163.2 923.1,1163.3 924.6,1163.0 926.1,1163.1 927.6,1163.0 929.1,1163.2 930.6,1163.3 932.1,1163.3 932.6,1163.2 933.6,1163.1 935.1,1163.3 936.6,1163.2 938.1,1163.1 939.6,1163.3 941.1,1163.1 942.6,1163.1 944.1,1163.3 945.6,1163.1 947.1,1163.1 948.6,1163.2 950.1,1163.3 951.6,1163.2 953.1,1163.1 954.6,1163.1 956.1,1163.3 957.6,1163.2 959.1,1163.1 960.6,1163.0 962.1,1163.1 963.6,1163.3 965.1,1163.1 966.6,1163.2 968.1,1163.3 969.6,1163.3 971.1,1163.1 972.6,1163.2 974.1,1163.1 975.6,1163.2 977.1,1163.1 978.6,1163.3 980.1,1163.3 981.6,1163.3 983.1,1163.2 984.6,1163.3 986.1,1163.3 986.8,1163.2 987.6,1163.2 989.1,1163.1 990.6,1163.1 992.1,1163.2 993.6,1163.0 995.1,1163.1 996.6,1163.0 998.1,1163.1 999.6,1163.1 1001.1,1163.1 1002.6,1162.9 1004.1,1162.8 1005.6,1162.7 1007.1,1162.8 1008.6,1162.7 1010.1,1162.4 1011.6,1162.4 1013.1,1162.3 1014.6,1162.2 1016.1,1162.3 1017.6,1162.3 1019.1,1162.2 1020.6,1161.8 1022.1,1161.8 1023.6,1161.9 1025.1,1161.6 1026.6,1161.5 1028.1,1161.5 1029.6,1161.4 1031.1,1161.1 1032.6,1161.1 1034.1,1160.9 1035.6,1160.8 1037.1,1160.8 1038.6,1160.6 1040.1,1160.6 1041.0,1160.4 1041.6,1160.3 1043.1,1160.4 1044.6,1160.1 1046.1,1159.9 1047.6,1160.0 1049.1,1159.6 1050.6,1159.5 1052.1,1159.4 1053.6,1159.1 1055.1,1159.1 1056.6,1158.7 1058.1,1158.5 1059.6,1158.5 1061.1,1158.2 1062.6,1158.1 1064.1,1157.9 1065.6,1157.6 1067.1,1157.1 1068.6,1157.1 1070.1,1156.6 1071.6,1156.4 1073.1,1156.4 1074.6,1156.0 1076.1,1155.8 1077.6,1155.5 1079.1,1155.3 1080.6,1155.0 1082.1,1154.8 1083.6,1154.4 1085.1,1154.3 1086.6,1154.0 1088.1,1153.6 1089.6,1153.4 1091.1,1153.1 1092.6,1152.9 1094.1,1152.5 1095.2,1152.3 1095.6,1152.3 1097.1,1151.9 1098.6,1151.6 1100.1,1151.2 1101.6,1151.0 1103.1,1150.7 1104.6,1150.2 1106.1,1149.8 1107.6,1149.3 1109.1,1148.8 1110.6,1148.6 1112.1,1148.1 1113.6,1147.7 1115.1,1147.2 1116.6,1147.0 1118.1,1146.5 1119.6,1146.5 1121.1,1146.2 1122.6,1145.9 1124.1,1145.8 1125.6,1145.6 1127.1,1145.6 1127.7,1145.5 1128.6,1145.7 1130.0,1146.1 1130.1,1146.1 1131.6,1146.1 1133.1,1145.8 1134.6,1145.5 1136.1,1145.2 1137.6,1145.0 1139.1,1144.4 1140.6,1143.8 1142.1,1143.1 1143.6,1142.5 1145.1,1141.9 1146.6,1141.3 1148.1,1140.7 1149.6,1139.9 1151.1,1139.4 1152.6,1138.7 1153.2,1138.5 1154.1,1138.0 1155.6,1137.5 1157.1,1136.8 1158.6,1136.4 1160.1,1135.7 1161.6,1135.2 1163.1,1134.5 1164.6,1134.0 1166.1,1133.3 1167.6,1132.6 1169.1,1132.1 1170.6,1131.3 1172.1,1130.6 1173.6,1129.7 1175.1,1128.9 1176.6,1127.9 1178.1,1126.9 1179.5,1126.0 1179.6,1126.0 1181.1,1124.5 1182.6,1123.0 1184.1,1121.0 1185.6,1118.8 1187.1,1117.0 1188.6,1115.3 1188.8,1115.2 1190.1,1114.0 1191.6,1112.8 1193.1,1111.6 1194.6,1110.5 1196.1,1109.2 1197.6,1108.0 1198.1,1107.5 1199.1,1106.2 1200.6,1104.4 1202.1,1101.9 1203.6,1099.5 1205.1,1097.2 1206.6,1094.8 1207.4,1093.7 1208.1,1092.3 1209.6,1089.4 1211.1,1087.0 1212.0,1085.7 1212.6,1085.2 1214.1,1083.3 1215.6,1081.7 1217.1,1080.3 1218.6,1079.2 1220.1,1078.1 1221.6,1077.0 1222.8,1076.7 1223.1,1076.5 1224.6,1075.9 1226.1,1075.4 1227.6,1075.0 1229.1,1074.8 1230.6,1074.4 1232.1,1074.1 1233.6,1073.8 1235.1,1073.6 1235.2,1073.3 1236.6,1073.1 1238.1,1072.5 1239.6,1072.1 1241.1,1071.6 1242.6,1071.1 1244.1,1070.3 1245.6,1069.7 1247.1,1069.0 1247.6,1068.8 1248.6,1068.1 1250.1,1067.0 1251.6,1065.7 1253.1,1064.4 1254.6,1063.0 1256.1,1061.6 1257.6,1060.1 1258.4,1059.7 1259.1,1059.0 1260.6,1057.4 1262.1,1055.9 1263.6,1055.2 1264.6,1055.0 1265.1,1055.0 1266.6,1055.5 1268.1,1056.3 1269.6,1057.3 1270.8,1057.8 1271.1,1058.1 1272.6,1059.2 1274.1,1060.0 1275.6,1061.0 1277.1,1061.8 1278.5,1062.6 1278.6,1062.7 1280.1,1063.2 1281.6,1063.8 1283.1,1064.2 1284.6,1064.6 1286.1,1064.8 1287.6,1064.9 1287.8,1064.8 1289.1,1064.8 1290.6,1064.8 1292.1,1064.5 1293.6,1064.3 1295.1,1064.0 1296.6,1063.6 1298.1,1063.1 1299.6,1062.7 1300.2,1062.5 1301.1,1062.3 1302.6,1061.7 1304.1,1060.7 1305.6,1059.8 1307.1,1058.6 1307.9,1058.0 1308.6,1057.1 1310.1,1054.5 1311.6,1051.4 1312.6,1050.3 1313.1,1049.8 1314.6,1048.6 1316.1,1047.5 1317.6,1046.7 1319.1,1045.9 1320.3,1045.4 1320.6,1045.5 1322.1,1045.3 1323.6,1045.0 1325.1,1044.9 1326.5,1044.7 1326.6,1044.9 1328.1,1044.9 1329.6,1045.2 1331.1,1045.3 1332.6,1045.9 1334.1,1046.5 1335.6,1047.0 1335.8,1047.1 1337.1,1048.1 1338.6,1050.1 1340.1,1053.0 1341.6,1056.5 1343.1,1060.1 1343.5,1061.0 1344.6,1064.5 1346.1,1070.6 1347.6,1077.3 1348.2,1079.5 1349.1,1083.9 1350.6,1091.4 1352.1,1099.0 1352.8,1102.9 1353.6,1108.0 1355.1,1118.7 1356.6,1128.9 1357.4,1133.9 1358.1,1137.4 1359.6,1144.6 1361.1,1151.4 1362.6,1156.8 1363.6,1160.2 1364.1,1161.4 1365.6,1165.3 1367.1,1168.8 1368.6,1171.6 1370.1,1174.5 1371.6,1176.7 1372.9,1178.5 1373.1,1178.9 1374.6,1180.8 1376.1,1182.8 1377.6,1184.3 1379.1,1186.0 1380.6,1187.5 1382.1,1188.9 1383.6,1189.9 1385.1,1190.9 1385.3,1191.1 1386.6,1191.9 1388.1,1192.8 1389.6,1193.5 1391.1,1194.2 1392.6,1194.9 1394.1,1195.6 1395.6,1196.2 1397.1,1196.6 1398.6,1197.2 1400.1,1197.7 1400.8,1198.0 1401.6,1198.2 1403.1,1198.7 1404.6,1199.3 1406.1,1199.8 1407.6,1200.2 1409.1,1200.7 1410.6,1200.8 1412.1,1200.9 1413.2,1201.1 1413.6,1201.1 1415.1,1201.1 1416.6,1201.0 1418.1,1200.7 1419.6,1200.6 1421.1,1200.3 1422.6,1200.0 1424.1,1199.6 1425.6,1199.4 1427.1,1198.8 1428.6,1198.4 1429.0,1198.4 1430.1,1198.0 1431.6,1197.2 1433.1,1196.6 1434.6,1195.4 1436.1,1194.6 1437.6,1193.6 1439.1,1192.7 1440.6,1191.8 1441.4,1191.4 1442.1,1190.9 1443.6,1190.3 1445.1,1189.7 1446.6,1188.9 1448.1,1188.4 1449.6,1187.6 1451.1,1187.0 1452.6,1186.5 1454.1,1186.1 1455.6,1185.4 1456.9,1185.1 1457.1,1185.0 1458.6,1184.7 1460.1,1184.3 1461.6,1184.3 1463.1,1183.7 1464.6,1183.5 1466.1,1183.4 1467.6,1183.0 1469.1,1182.7 1470.6,1182.5 1472.1,1182.3 1473.6,1182.2 1475.1,1182.2 1476.6,1182.1 1477.0,1182.0 1478.1,1182.2 1479.6,1182.3 1481.1,1182.1 1482.6,1182.0 1484.1,1182.2 1485.6,1182.1 1487.1,1182.1 1488.6,1182.0 1490.1,1182.2 1491.6,1182.2 1493.1,1182.1 1494.6,1182.1 1496.1,1182.1 1497.6,1182.1 1499.1,1182.2 1500.2,1182.3 1500.6,1182.0 1502.1,1182.2 1503.6,1182.3 1505.1,1182.1 1506.6,1182.4 1508.1,1182.4 1509.6,1182.4 1511.1,1182.2 1512.6,1182.4 1514.1,1182.6 1515.6,1182.6 1517.1,1182.5 1518.6,1182.8 1520.1,1182.8 1521.6,1182.8 1523.1,1182.9 1524.6,1182.9 1526.1,1183.1 1527.6,1183.0 1529.1,1183.4 1530.6,1183.2 1531.1,1183.3 1532.1,1183.3 1533.6,1183.5 1535.1,1183.5 1536.6,1183.8 1538.1,1183.7 1539.6,1184.0 1541.1,1183.9 1542.6,1184.2 1544.1,1184.1 1545.6,1184.2 1547.1,1184.5 1548.6,1184.4 1550.1,1184.7 1551.6,1184.8 1553.1,1184.7 1554.6,1184.8 1556.1,1185.0 1557.6,1185.1 1559.1,1185.2 1560.6,1185.2 1562.1,1185.2 1562.1,1185.3 1563.6,1185.2 1565.1,1185.4 1566.6,1185.5 1568.1,1185.3 1569.6,1185.5 1571.1,1185.6 1572.6,1185.6 1574.1,1185.5 1575.6,1185.5 1577.1,1185.6 1578.6,1185.6 1580.1,1185.7 1581.6,1185.9 1583.1,1185.8 1584.6,1186.0 1586.1,1185.9 1587.6,1185.9 1589.1,1185.8 1590.6,1186.1 1592.1,1186.0 1593.6,1186.1 1595.1,1186.1 1596.6,1185.9 1597.7,1186.0" stroke="#000000" stroke-width="1.7"/>
<path d="M278.1,1151.0 279.6,1149.5 281.1,1148.2 282.6,1146.5 284.1,1145.3 285.6,1144.0 287.1,1142.9 288.6,1141.7 290.1,1141.0 291.6,1140.2 291.7,1140.3 293.1,1139.6 294.6,1139.0 296.1,1138.6 297.6,1138.2 299.1,1137.6 300.6,1137.4 302.1,1137.1 303.6,1136.5 305.1,1136.3 306.6,1135.9 308.1,1135.6 309.6,1135.1 310.7,1134.6 311.1,1134.6 312.6,1134.1 314.1,1133.6 315.6,1133.2 317.1,1132.5 318.6,1131.9 320.1,1131.5 321.6,1130.9 323.1,1130.5 324.6,1129.8 326.1,1129.1 327.6,1128.8 329.1,1128.1 330.6,1127.6 332.1,1127.0 333.6,1126.5 335.1,1126.1 336.6,1125.7 337.8,1125.2 338.1,1125.1 339.6,1124.7 341.1,1124.2 342.6,1123.7 344.1,1123.5 345.6,1123.1 347.1,1122.5 348.6,1122.2 350.1,1121.5 351.6,1121.4 353.1,1120.9 354.6,1120.6 356.1,1120.1 357.6,1119.8 359.1,1119.4 360.6,1119.3 362.1,1118.9 363.6,1118.7 364.9,1118.6 365.1,1118.6 366.6,1118.2 368.1,1118.0 369.6,1117.9 371.1,1117.5 372.6,1117.3 374.1,1117.3 375.6,1117.1 377.1,1116.7 378.6,1116.5 380.1,1116.5 381.6,1116.3 383.1,1116.1 384.6,1116.1 386.1,1115.8 387.6,1115.9 389.1,1115.8 390.6,1115.8 392.0,1115.6 392.1,1115.8 393.6,1115.7 395.1,1115.8 396.6,1115.7 398.1,1115.9 399.6,1115.9 401.1,1115.9 402.6,1115.8 404.1,1115.9 405.6,1115.8 407.1,1116.0 408.6,1116.1 410.1,1116.0 411.6,1116.2 413.1,1116.2 414.6,1116.3 416.1,1116.4 417.6,1116.5 419.1,1116.5 420.6,1116.4 422.1,1116.5 423.6,1116.7 425.1,1116.7 426.6,1116.9 428.1,1116.9 429.6,1116.9 431.1,1117.1 432.6,1117.0 432.6,1117.1 434.1,1117.1 435.6,1117.3 437.1,1117.5 438.6,1117.6 440.1,1117.7 441.6,1117.8 443.1,1117.7 444.6,1117.9 446.1,1118.2 447.6,1118.4 449.1,1118.4 450.6,1118.6 452.1,1118.9 453.6,1118.9 455.1,1119.2 456.6,1119.3 458.1,1119.5 459.6,1119.7 461.1,1119.9 462.6,1119.9 464.1,1120.4 465.6,1120.6 467.1,1120.7 468.6,1120.8 470.1,1121.1 471.6,1121.3 473.1,1121.3 474.6,1121.7 476.1,1121.7 477.6,1122.1 479.1,1122.1 480.6,1122.5 482.1,1122.5 483.6,1122.7 485.1,1123.0 486.6,1123.2 486.8,1123.2 488.1,1123.3 489.6,1123.4 491.1,1123.7 492.6,1123.7 494.1,1124.1 495.6,1124.2 497.1,1124.2 498.6,1124.5 500.1,1124.5 501.6,1124.9 503.1,1125.0 504.6,1125.1 506.1,1125.4 507.6,1125.6 509.1,1125.7 510.6,1126.0 512.1,1126.0 513.6,1126.2 515.1,1126.4 516.6,1126.5 518.1,1126.8 519.6,1127.0 521.1,1127.2 522.6,1127.3 524.1,1127.5 525.6,1127.8 527.1,1127.9 528.6,1127.9 530.1,1128.2 531.6,1128.2 533.1,1128.5 534.6,1128.8 536.1,1128.8 537.6,1129.1 539.1,1129.0 540.6,1129.4 541.0,1129.2 542.1,1129.5 543.6,1129.5 545.1,1129.7 546.6,1129.8 548.1,1129.9 549.6,1130.3 551.1,1130.4 552.6,1130.4 554.1,1130.7 555.6,1130.8 557.1,1131.1 558.6,1131.0 560.1,1131.3 561.6,1131.5 563.1,1131.6 564.6,1131.8 566.1,1132.0 567.6,1132.1 569.1,1132.3 570.6,1132.2 572.1,1132.6 573.6,1132.6 575.1,1132.9 576.6,1133.0 578.1,1133.1 579.6,1133.3 581.1,1133.2 582.6,1133.6 584.1,1133.6 585.6,1133.9 587.1,1133.8 588.6,1134.0 590.1,1134.1 591.6,1134.4 593.1,1134.4 594.6,1134.6 596.1,1134.8 597.6,1134.8 599.1,1135.1 600.6,1135.1 602.1,1135.4 603.6,1135.5 605.1,1135.7 606.6,1135.7 608.1,1135.7 609.6,1135.9 611.1,1136.1 612.6,1136.3 614.1,1136.2 615.6,1136.3 617.1,1136.4 618.6,1136.7 620.1,1136.6 621.6,1136.9 622.3,1136.9 623.1,1137.1 624.6,1137.0 626.1,1137.3 627.6,1137.3 629.1,1137.3 630.6,1137.5 632.1,1137.8 633.6,1137.7 635.1,1137.8 636.6,1138.2 638.1,1138.1 639.6,1138.3 641.1,1138.4 642.6,1138.5 644.1,1138.7 645.6,1138.6 647.1,1138.8 648.6,1138.9 650.1,1139.1 651.6,1139.2 653.1,1139.1 654.6,1139.3 656.1,1139.4 657.6,1139.6 659.1,1139.8 660.6,1139.9 662.1,1140.1 663.6,1140.0 665.1,1140.1 666.6,1140.1 668.1,1140.5 669.6,1140.6 671.1,1140.7 672.6,1140.7 674.1,1140.8 675.6,1140.8 677.1,1141.0 678.6,1141.0 680.1,1141.2 681.6,1141.3 683.1,1141.3 684.6,1141.5 686.1,1141.5 687.6,1141.5 689.1,1141.5 690.6,1141.7 692.1,1141.7 693.6,1142.0 695.1,1141.9 696.6,1142.1 698.1,1142.2 699.6,1142.2 701.1,1142.3 702.6,1142.3 703.6,1142.4 704.1,1142.5 705.6,1142.4 707.1,1142.5 708.6,1142.7 710.1,1142.5 711.6,1142.5 713.1,1142.6 714.6,1142.8 716.1,1142.7 717.6,1142.7 719.1,1142.9 720.6,1142.8 722.1,1142.9 723.6,1142.8 725.1,1142.9 726.6,1143.2 728.1,1143.0 729.6,1143.2 731.1,1143.3 732.6,1143.1 734.1,1143.4 735.6,1143.3 736.1,1143.4 737.1,1143.6 738.6,1143.5 740.1,1143.8 741.6,1143.8 743.1,1144.1 744.6,1144.3 746.1,1144.5 747.6,1144.6 749.1,1145.0 750.6,1145.1 752.1,1145.4 753.6,1145.8 755.1,1146.0 756.6,1146.2 758.1,1146.7 759.6,1147.1 761.1,1147.2 762.6,1147.7 764.1,1147.7 765.6,1148.3 767.1,1148.5 768.6,1148.8 770.0,1149.0 770.1,1149.1 771.6,1149.4 773.1,1149.8 774.6,1150.1 776.1,1150.4 777.6,1150.8 779.1,1151.2 780.6,1151.8 782.1,1152.0 783.6,1152.6 785.1,1152.8 786.6,1153.4 788.1,1153.7 789.6,1154.1 791.1,1154.6 792.6,1154.8 794.1,1155.3 795.6,1155.7 797.1,1156.0 797.1,1155.9 798.6,1156.2 800.1,1156.6 801.6,1156.6 803.1,1157.2 804.6,1157.4 806.1,1157.8 807.6,1157.8 809.1,1158.1 810.6,1158.5 812.1,1158.8 813.6,1159.1 815.1,1159.2 816.6,1159.5 818.1,1159.8 819.6,1159.9 821.1,1160.4 822.6,1160.4 824.1,1160.6 825.6,1161.0 827.1,1161.1 828.6,1161.5 830.1,1161.5 831.6,1161.8 833.1,1162.1 834.6,1162.3 836.1,1162.3 837.6,1162.6 837.8,1162.5 839.1,1162.7 840.6,1163.1 842.1,1163.1 843.6,1163.3 845.1,1163.5 846.6,1163.9 848.1,1164.1 849.6,1164.3 851.1,1164.5 852.6,1164.5 854.1,1164.8 855.6,1165.0 857.1,1165.0 858.6,1165.4 860.1,1165.5 861.6,1165.6 863.1,1165.8 864.6,1165.8 866.1,1166.0 867.6,1166.1 869.1,1166.2 870.6,1166.5 872.1,1166.6 873.6,1166.4 875.1,1166.6 876.6,1166.6 878.1,1166.8 878.4,1166.9 879.6,1166.6 881.1,1166.7 882.6,1166.8 884.1,1166.9 885.6,1166.9 887.1,1166.7 888.6,1166.8 890.1,1166.9 891.6,1167.1 893.1,1167.0 894.6,1167.0 896.1,1167.1 897.6,1167.0 899.1,1167.1 900.6,1167.0 902.1,1167.0 903.6,1167.2 905.1,1167.2 906.6,1167.2 908.1,1167.0 909.6,1167.1 911.1,1167.3 912.6,1167.2 914.1,1167.1 915.6,1167.1 917.1,1167.2 918.6,1167.3 920.1,1167.2 921.6,1167.2 923.1,1167.3 924.6,1167.2 926.1,1167.2 927.6,1167.3 929.1,1167.3 930.6,1167.4 932.1,1167.2 932.6,1167.3 933.6,1167.2 935.1,1167.3 936.6,1167.4 938.1,1167.1 939.6,1167.3 941.1,1167.3 942.6,1167.1 944.1,1167.0 945.6,1167.1 947.1,1167.2 948.6,1167.0 950.1,1167.0 951.6,1167.0 953.1,1167.1 954.6,1167.0 956.1,1167.0 957.6,1166.9 959.1,1166.9 960.6,1166.8 962.1,1166.7 963.6,1166.6 965.1,1166.8 966.6,1166.5 968.1,1166.6 969.6,1166.5 971.1,1166.5 972.6,1166.4 974.1,1166.4 975.6,1166.2 977.1,1166.1 978.6,1166.2 980.1,1166.2 981.6,1166.0 983.1,1166.2 984.6,1166.1 986.1,1165.9 986.8,1165.9 987.6,1165.8 989.1,1165.9 990.6,1165.7 992.1,1165.7 993.6,1165.8 995.1,1165.5 996.6,1165.7 998.1,1165.5 999.6,1165.4 1001.1,1165.5 1002.6,1165.3 1004.1,1165.3 1005.6,1165.2 1007.1,1165.1 1008.6,1164.9 1010.1,1164.9 1011.6,1164.9 1013.1,1164.8 1014.6,1164.6 1016.1,1164.6 1017.6,1164.6 1019.1,1164.4 1020.6,1164.3 1022.1,1164.4 1023.6,1164.2 1025.1,1164.2 1026.6,1164.3 1028.1,1163.9 1029.6,1163.9 1031.1,1163.8 1032.6,1163.9 1034.1,1163.7 1035.6,1163.4 1037.1,1163.5 1038.6,1163.5 1040.1,1163.3 1041.0,1163.1 1041.6,1163.3 1043.1,1163.1 1044.6,1162.9 1046.1,1162.7 1047.6,1162.7 1049.1,1162.4 1050.6,1162.3 1052.1,1162.3 1053.6,1162.2 1055.1,1162.0 1056.6,1161.8 1058.1,1161.7 1059.6,1161.6 1061.1,1161.1 1062.6,1161.2 1064.1,1161.0 1065.6,1160.8 1067.1,1160.5 1068.6,1160.4 1070.1,1160.0 1071.6,1160.1 1073.1,1159.7 1074.6,1159.6 1076.1,1159.4 1077.6,1159.1 1079.1,1158.8 1080.6,1158.6 1082.1,1158.3 1083.6,1158.1 1085.1,1158.1 1086.6,1157.9 1088.1,1157.6 1089.6,1157.2 1091.1,1157.0 1092.6,1156.9 1094.1,1156.6 1095.2,1156.4 1095.6,1156.4 1097.1,1156.0 1098.6,1155.7 1100.1,1155.5 1101.6,1155.4 1103.1,1155.1 1104.6,1154.6 1106.1,1154.4 1107.6,1153.9 1109.1,1153.7 1110.6,1153.2 1112.1,1152.9 1113.6,1152.7 1115.1,1152.2 1116.6,1152.0 1118.1,1151.6 1119.6,1151.4 1121.1,1151.1 1122.6,1150.6 1124.1,1150.5 1125.6,1150.1 1127.1,1149.7 1127.7,1149.6 1128.6,1149.6 1130.0,1149.4 1130.1,1149.1 1131.6,1148.9 1133.1,1148.4 1134.6,1148.1 1136.1,1147.4 1137.6,1147.1 1139.1,1146.5 1140.6,1146.0 1142.1,1145.3 1143.6,1144.7 1145.1,1144.1 1146.6,1143.3 1148.1,1142.7 1149.6,1141.9 1151.1,1141.3 1152.6,1140.7 1154.1,1139.9 1155.6,1139.3 1157.1,1138.4 1158.6,1137.8 1160.1,1137.1 1160.9,1136.8 1161.6,1136.6 1163.1,1136.0 1164.6,1135.3 1166.1,1134.8 1167.6,1134.1 1169.1,1133.5 1170.6,1132.7 1172.1,1132.2 1173.6,1131.4 1175.1,1130.9 1176.6,1130.1 1178.1,1129.4 1179.6,1128.6 1181.1,1127.6 1181.1,1127.4 1182.6,1126.5 1184.1,1125.4 1185.6,1124.2 1187.1,1122.8 1188.6,1121.2 1190.1,1119.7 1191.6,1118.4 1193.1,1116.8 1194.6,1115.4 1196.1,1114.0 1196.5,1113.8 1197.6,1112.6 1199.1,1111.4 1200.6,1109.8 1202.1,1108.5 1203.6,1107.0 1205.1,1105.7 1206.6,1104.4 1208.1,1103.2 1209.6,1102.0 1210.5,1101.3 1211.1,1100.8 1212.6,1099.9 1214.1,1098.9 1215.6,1098.2 1217.1,1097.2 1218.6,1096.5 1220.1,1095.5 1221.6,1094.4 1222.8,1093.5 1223.1,1093.4 1224.6,1091.8 1226.1,1090.0 1227.6,1088.2 1229.1,1086.1 1230.6,1084.3 1230.6,1084.2 1232.1,1081.9 1233.6,1079.2 1235.1,1078.2 1235.2,1077.9 1236.6,1078.0 1238.1,1078.2 1239.6,1078.0 1241.1,1078.0 1242.6,1078.0 1244.1,1078.2 1245.6,1078.0 1247.1,1078.0 1248.6,1078.0 1250.1,1078.0 1250.7,1078.1 1251.6,1078.0 1253.1,1078.1 1254.6,1077.9 1256.1,1077.8 1257.6,1077.4 1259.1,1077.4 1260.6,1077.1 1262.1,1076.7 1263.1,1076.5 1263.6,1076.2 1265.1,1075.4 1266.6,1074.1 1268.1,1072.1 1269.3,1070.5 1269.6,1069.5 1271.1,1063.9 1271.6,1062.7 1272.6,1060.7 1274.1,1058.8 1275.6,1057.3 1277.0,1056.3 1277.1,1056.3 1278.6,1055.8 1280.1,1055.5 1281.6,1055.1 1283.1,1054.9 1284.6,1054.6 1286.1,1054.4 1287.6,1054.2 1289.1,1053.8 1290.6,1053.9 1292.1,1053.4 1292.5,1053.2 1293.6,1053.0 1295.1,1052.8 1296.6,1052.5 1298.1,1051.9 1299.6,1051.5 1301.1,1051.1 1302.6,1050.6 1304.1,1050.2 1305.6,1049.6 1307.1,1048.9 1307.9,1048.8 1308.6,1048.3 1310.1,1047.6 1311.6,1047.0 1313.1,1046.0 1314.6,1045.1 1316.1,1043.7 1317.6,1042.3 1318.8,1040.8 1319.1,1040.4 1320.6,1036.0 1321.9,1033.3 1322.1,1032.8 1323.6,1031.2 1325.1,1029.9 1326.6,1029.5 1326.8,1029.3 1328.1,1030.0 1329.6,1031.9 1331.1,1033.8 1331.1,1034.0 1332.6,1036.9 1334.1,1040.1 1335.6,1042.9 1335.8,1043.3 1337.1,1045.0 1338.6,1046.4 1340.1,1047.5 1341.6,1048.6 1343.1,1049.7 1344.6,1051.1 1346.1,1052.6 1346.6,1053.4 1347.6,1054.8 1349.1,1057.3 1350.6,1060.1 1352.1,1063.5 1353.6,1067.1 1354.4,1068.8 1355.1,1070.9 1356.6,1075.5 1358.1,1080.6 1359.0,1084.4 1359.6,1087.5 1361.1,1096.9 1362.1,1103.0 1362.6,1105.7 1364.1,1114.0 1365.6,1121.9 1367.1,1129.0 1368.3,1133.8 1368.6,1135.2 1370.1,1140.7 1371.6,1146.0 1373.1,1150.5 1374.5,1153.8 1374.6,1154.2 1376.1,1157.5 1377.6,1160.1 1379.1,1163.0 1380.6,1165.1 1382.1,1167.4 1383.6,1169.3 1383.8,1169.4 1385.1,1171.2 1386.6,1172.8 1388.1,1174.6 1389.6,1176.2 1391.1,1177.7 1392.6,1179.0 1394.1,1180.2 1395.6,1181.5 1396.1,1181.9 1397.1,1182.4 1398.6,1183.4 1400.1,1184.1 1401.6,1185.0 1403.1,1185.9 1404.6,1186.4 1406.1,1187.1 1407.6,1187.7 1408.5,1188.0 1409.1,1188.3 1410.6,1188.5 1412.1,1189.1 1413.6,1189.6 1415.1,1190.0 1416.6,1190.4 1418.1,1190.9 1419.6,1191.2 1421.1,1191.6 1422.6,1191.8 1424.1,1192.1 1425.6,1192.5 1427.1,1192.4 1428.6,1192.7 1429.9,1192.5 1430.1,1192.7 1431.6,1192.6 1433.1,1192.5 1434.6,1192.6 1436.1,1192.6 1437.6,1192.6 1439.1,1192.5 1440.6,1192.5 1442.1,1192.3 1443.6,1192.4 1445.1,1192.4 1446.6,1192.3 1448.1,1192.2 1449.6,1192.4 1451.1,1192.2 1452.6,1192.3 1453.8,1192.1 1454.1,1192.1 1455.6,1192.1 1457.1,1192.3 1458.6,1192.2 1460.1,1192.4 1461.6,1192.3 1463.1,1192.3 1464.6,1192.4 1466.1,1192.4 1467.6,1192.6 1469.1,1192.6 1470.6,1192.8 1472.1,1192.7 1473.6,1192.7 1475.1,1193.0 1476.6,1193.1 1477.0,1193.0 1478.1,1192.9 1479.6,1193.1 1481.1,1193.1 1482.6,1193.2 1484.1,1193.3 1485.6,1193.3 1487.1,1193.5 1488.6,1193.6 1490.1,1193.6 1491.6,1193.7 1493.1,1194.0 1494.6,1194.1 1496.1,1194.3 1497.6,1194.3 1499.1,1194.3 1500.2,1194.4 1500.6,1194.4 1502.1,1194.6 1503.6,1194.9 1505.1,1194.8 1506.6,1195.1 1508.1,1195.2 1509.6,1195.5 1511.1,1195.8 1512.6,1195.9 1514.1,1196.1 1515.6,1196.1 1517.1,1196.4 1518.6,1196.6 1520.1,1196.8 1521.6,1197.0 1523.1,1197.4 1524.6,1197.6 1526.1,1197.8 1527.6,1197.8 1529.1,1198.1 1530.6,1198.3 1531.1,1198.3 1532.1,1198.4 1533.6,1198.7 1535.1,1198.9 1536.6,1199.0 1538.1,1199.2 1539.6,1199.6 1541.1,1199.6 1542.6,1199.9 1544.1,1200.1 1545.6,1200.2 1547.1,1200.6 1548.6,1200.6 1550.1,1200.9 1551.6,1201.1 1553.1,1201.1 1554.6,1201.3 1556.1,1201.6 1557.6,1201.8 1559.1,1201.8 1560.6,1202.2 1562.1,1202.1 1562.1,1202.2 1563.6,1202.3 1565.1,1202.4 1566.6,1202.7 1568.1,1202.9 1569.6,1202.8 1571.1,1203.2 1572.6,1203.2 1574.1,1203.4 1575.6,1203.5 1577.1,1203.5 1578.6,1203.9 1580.1,1204.0 1581.6,1203.8 1583.1,1204.0 1584.6,1204.1 1586.1,1204.3 1587.6,1204.4 1589.1,1204.6 1590.6,1204.7 1592.1,1204.8 1593.6,1204.9 1595.1,1204.8 1596.6,1205.0 1597.7,1205.0" stroke="#000000" stroke-width="1.7"/>
<path d="M278.1,1155.1 279.6,1153.7 281.1,1152.3 282.6,1150.9 284.1,1149.5 285.6,1148.4 287.1,1147.2 288.6,1146.0 290.1,1145.0 291.6,1144.4 291.7,1144.3 293.1,1143.4 294.6,1142.6 296.1,1142.1 297.6,1141.4 299.1,1140.7 300.6,1140.0 302.1,1139.4 303.6,1138.9 305.1,1138.1 306.6,1137.7 308.1,1137.0 309.6,1136.6 310.7,1136.0 311.1,1136.0 312.6,1135.4 314.1,1134.5 315.6,1134.1 317.1,1133.4 318.6,1132.5 320.1,1132.1 321.6,1131.2 323.1,1130.7 324.6,1130.1 326.1,1129.4 327.6,1128.8 329.1,1128.3 330.6,1127.6 332.1,1127.0 333.6,1126.6 335.1,1126.1 336.6,1125.7 337.8,1125.2 338.1,1125.1 339.6,1124.8 341.1,1124.3 342.6,1123.9 344.1,1123.4 345.6,1122.9 347.1,1122.8 348.6,1122.1 350.1,1122.0 351.6,1121.5 353.1,1121.3 354.6,1120.8 356.1,1120.6 357.6,1120.2 359.1,1119.8 360.6,1119.7 362.1,1119.5 363.6,1119.2 364.9,1119.0 365.1,1118.9 366.6,1118.8 368.1,1118.5 369.6,1118.5 371.1,1118.3 372.6,1118.0 374.1,1117.9 375.6,1117.6 377.1,1117.5 378.6,1117.4 380.1,1117.2 381.6,1117.1 383.1,1117.0 384.6,1117.0 386.1,1116.9 387.6,1116.7 389.1,1116.7 390.6,1116.5 392.0,1116.6 392.1,1116.7 393.6,1116.6 395.1,1116.6 396.6,1116.6 398.1,1116.8 399.6,1116.6 401.1,1116.7 402.6,1116.6 404.1,1116.7 405.6,1116.8 407.1,1117.0 408.6,1117.0 410.1,1116.9 411.6,1117.1 413.1,1116.9 414.6,1117.2 416.1,1117.1 417.6,1117.2 419.1,1117.2 420.6,1117.5 422.1,1117.5 423.6,1117.4 425.1,1117.6 426.6,1117.6 428.1,1117.7 429.6,1117.8 431.1,1117.7 432.6,1118.0 432.6,1117.9 434.1,1118.0 435.6,1118.0 437.1,1118.1 438.6,1118.2 440.1,1118.4 441.6,1118.7 443.1,1118.8 444.6,1118.8 446.1,1119.0 447.6,1119.2 449.1,1119.4 450.6,1119.4 452.1,1119.7 453.6,1119.7 455.1,1120.0 456.6,1120.2 458.1,1120.3 459.6,1120.6 461.1,1120.8 462.6,1120.7 464.1,1120.9 465.6,1121.2 467.1,1121.4 468.6,1121.6 470.1,1121.7 471.6,1122.0 473.1,1122.3 474.6,1122.6 476.1,1122.6 477.6,1122.8 479.1,1123.0 480.6,1123.2 482.1,1123.5 483.6,1123.7 485.1,1123.7 486.6,1123.9 486.8,1123.9 488.1,1124.1 489.6,1124.1 491.1,1124.5 492.6,1124.5 494.1,1124.8 495.6,1124.9 497.1,1125.0 498.6,1125.2 500.1,1125.2 501.6,1125.4 503.1,1125.7 504.6,1125.9 506.1,1126.2 507.6,1126.1 509.1,1126.4 510.6,1126.5 512.1,1126.7 513.6,1127.0 515.1,1127.1 516.6,1127.2 518.1,1127.4 519.6,1127.6 521.1,1127.6 522.6,1127.9 524.1,1128.1 525.6,1128.1 527.1,1128.5 528.6,1128.6 530.1,1128.8 531.6,1128.8 533.1,1129.0 534.6,1129.1 536.1,1129.2 537.6,1129.4 539.1,1129.6 540.6,1129.9 541.0,1129.8 542.1,1130.0 543.6,1130.1 545.1,1130.2 546.6,1130.4 548.1,1130.7 549.6,1130.8 551.1,1130.9 552.6,1131.1 554.1,1131.2 555.6,1131.4 557.1,1131.7 558.6,1131.6 560.1,1131.9 561.6,1132.0 563.1,1132.1 564.6,1132.3 566.1,1132.4 567.6,1132.8 569.1,1132.8 570.6,1132.9 572.1,1133.0 573.6,1133.2 575.1,1133.4 576.6,1133.6 578.1,1133.8 579.6,1134.1 581.1,1134.2 582.6,1134.1 584.1,1134.4 585.6,1134.6 587.1,1134.6 588.6,1134.9 590.1,1134.9 591.6,1135.2 593.1,1135.2 594.6,1135.5 596.1,1135.6 597.6,1135.6 599.1,1135.9 600.6,1136.1 602.1,1136.1 603.6,1136.3 605.1,1136.6 606.6,1136.5 608.1,1136.8 609.6,1136.8 611.1,1137.0 612.6,1137.1 614.1,1137.1 615.6,1137.3 617.1,1137.5 618.6,1137.5 620.1,1137.8 621.6,1137.9 622.3,1137.9 623.1,1138.0 624.6,1138.3 626.1,1138.2 627.6,1138.4 629.1,1138.7 630.6,1138.6 632.1,1138.8 633.6,1139.0 635.1,1138.9 636.6,1139.0 638.1,1139.4 639.6,1139.5 641.1,1139.5 642.6,1139.6 644.1,1139.7 645.6,1140.0 647.1,1140.1 648.6,1140.0 650.1,1140.2 651.6,1140.2 653.1,1140.4 654.6,1140.6 656.1,1140.7 657.6,1140.7 659.1,1140.8 660.6,1140.9 662.1,1141.0 663.6,1141.2 665.1,1141.4 666.6,1141.3 668.1,1141.5 669.6,1141.5 671.1,1141.7 672.6,1142.0 674.1,1141.9 675.6,1142.1 677.1,1142.2 678.6,1142.3 680.1,1142.5 681.6,1142.4 683.1,1142.6 684.6,1142.8 686.1,1142.8 687.6,1143.1 689.1,1143.0 690.6,1143.3 692.1,1143.3 693.6,1143.4 695.1,1143.6 696.6,1143.5 698.1,1143.8 699.6,1143.8 701.1,1144.0 702.6,1144.2 703.6,1144.2 704.1,1144.4 705.6,1144.3 707.1,1144.7 708.6,1144.8 710.1,1144.8 711.6,1144.8 713.1,1145.0 714.6,1145.0 716.1,1145.2 717.6,1145.2 719.1,1145.3 720.6,1145.5 722.1,1145.6 723.6,1145.9 725.1,1145.8 726.6,1146.1 728.1,1146.0 729.6,1146.1 731.1,1146.3 732.6,1146.6 734.1,1146.7 735.6,1146.6 737.1,1147.0 738.6,1146.9 740.1,1147.1 741.6,1147.3 743.1,1147.3 744.6,1147.7 746.1,1147.6 747.6,1147.8 749.1,1148.0 750.6,1148.1 752.1,1148.3 753.6,1148.6 755.1,1148.6 756.6,1148.6 758.1,1149.0 759.6,1149.2 761.1,1149.3 762.6,1149.5 764.1,1149.6 765.6,1149.8 767.1,1150.1 768.6,1150.1 770.0,1150.5 770.1,1150.4 771.6,1150.6 773.1,1151.1 774.6,1151.3 776.1,1151.6 777.6,1152.0 779.1,1152.5 780.6,1152.9 782.1,1153.3 783.6,1153.5 785.1,1154.0 786.6,1154.4 788.1,1154.7 789.6,1155.3 791.1,1155.6 792.6,1156.0 794.1,1156.4 795.6,1156.5 797.1,1156.9 797.1,1157.1 798.6,1157.2 800.1,1157.5 801.6,1157.7 803.1,1158.0 804.6,1158.4 806.1,1158.5 807.6,1158.8 809.1,1159.0 810.6,1159.3 812.1,1159.7 813.6,1160.0 815.1,1160.2 816.6,1160.3 818.1,1160.4 819.6,1160.7 821.1,1161.0 822.6,1161.2 824.1,1161.5 825.6,1161.7 827.1,1162.0 828.6,1162.0 830.1,1162.2 831.6,1162.6 833.1,1162.7 834.6,1162.7 836.1,1162.9 837.6,1163.2 837.8,1163.3 839.1,1163.5 840.6,1163.4 842.1,1163.6 843.6,1163.9 845.1,1164.1 846.6,1164.4 848.1,1164.5 849.6,1164.7 851.1,1164.8 852.6,1165.1 854.1,1165.3 855.6,1165.6 857.1,1165.5 858.6,1165.7 860.1,1165.9 861.6,1166.0 863.1,1166.2 864.6,1166.3 866.1,1166.6 867.6,1166.8 869.1,1166.6 870.6,1167.0 872.1,1166.9 873.6,1167.0 875.1,1167.1 876.6,1167.2 878.1,1167.2 878.4,1167.3 879.6,1167.4 881.1,1167.3 882.6,1167.3 884.1,1167.4 885.6,1167.3 887.1,1167.6 888.6,1167.6 890.1,1167.7 891.6,1167.6 893.1,1167.7 894.6,1167.6 896.1,1167.7 897.6,1167.6 899.1,1167.6 900.6,1167.8 902.1,1167.7 903.6,1168.0 905.1,1167.9 906.6,1167.9 908.1,1168.0 909.6,1167.9 911.1,1167.8 912.6,1167.9 914.1,1168.0 915.6,1167.9 917.1,1167.9 918.6,1168.1 920.1,1168.0 921.6,1168.0 923.1,1168.0 924.6,1168.1 926.1,1168.2 927.6,1168.0 929.1,1168.2 930.6,1168.2 932.1,1168.1 932.6,1168.1 933.6,1168.1 935.1,1168.0 936.6,1168.1 938.1,1168.2 939.6,1168.1 941.1,1168.0 942.6,1168.0 944.1,1168.1 945.6,1167.8 947.1,1167.8 948.6,1168.0 950.1,1167.9 951.6,1167.9 953.1,1167.8 954.6,1167.6 956.1,1167.7 957.6,1167.7 959.1,1167.5 960.6,1167.6 962.1,1167.7 963.6,1167.4 965.1,1167.3 966.6,1167.3 968.1,1167.4 969.6,1167.4 971.1,1167.2 972.6,1167.3 974.1,1167.1 975.6,1167.1 977.1,1167.1 978.6,1166.9 980.1,1166.9 981.6,1167.0 983.1,1166.8 984.6,1166.9 986.1,1166.7 986.8,1166.9 987.6,1166.7 989.1,1166.7 990.6,1166.5 992.1,1166.5 993.6,1166.4 995.1,1166.4 996.6,1166.3 998.1,1166.2 999.6,1166.2 1001.1,1166.2 1002.6,1166.1 1004.1,1166.0 1005.6,1166.1 1007.1,1166.0 1008.6,1165.8 1010.1,1165.8 1011.6,1165.6 1013.1,1165.8 1014.6,1165.5 1016.1,1165.4 1017.6,1165.6 1019.1,1165.3 1020.6,1165.2 1022.1,1165.1 1023.6,1165.1 1025.1,1165.0 1026.6,1164.9 1028.1,1164.9 1029.6,1164.6 1031.1,1164.8 1032.6,1164.6 1034.1,1164.5 1035.6,1164.4 1037.1,1164.2 1038.6,1164.3 1040.1,1164.1 1041.0,1163.9 1041.6,1163.9 1043.1,1163.9 1044.6,1163.7 1046.1,1163.5 1047.6,1163.6 1049.1,1163.3 1050.6,1163.3 1052.1,1163.1 1053.6,1163.0 1055.1,1162.9 1056.6,1162.5 1058.1,1162.5 1059.6,1162.4 1061.1,1162.2 1062.6,1161.9 1064.1,1161.8 1065.6,1161.7 1067.1,1161.6 1068.6,1161.3 1070.1,1161.1 1071.6,1161.0 1073.1,1160.9 1074.6,1160.8 1076.1,1160.5 1077.6,1160.1 1079.1,1160.0 1080.6,1159.9 1082.1,1159.8 1083.6,1159.5 1085.1,1159.3 1086.6,1159.1 1088.1,1158.7 1089.6,1158.8 1091.1,1158.4 1092.6,1158.2 1094.1,1157.9 1095.2,1157.9 1095.6,1157.9 1097.1,1157.4 1098.6,1157.2 1100.1,1156.8 1101.6,1156.7 1103.1,1156.3 1104.6,1155.8 1106.1,1155.6 1107.6,1155.2 1109.1,1154.9 1110.6,1154.5 1112.1,1153.9 1113.6,1153.6 1115.1,1153.4 1116.6,1152.8 1118.1,1152.5 1119.6,1152.5 1121.1,1152.1 1122.6,1151.7 1124.1,1151.4 1125.6,1151.1 1127.1,1151.0 1127.7,1150.9 1128.6,1150.9 1130.0,1150.8 1130.1,1150.7 1131.6,1150.7 1133.1,1150.3 1134.6,1150.0 1136.1,1149.7 1137.6,1149.1 1139.1,1148.9 1140.6,1148.3 1142.1,1147.8 1143.6,1147.1 1145.1,1146.6 1146.6,1146.1 1148.1,1145.5 1149.6,1144.8 1151.1,1144.2 1152.6,1143.6 1154.1,1142.9 1155.6,1142.1 1157.1,1141.6 1158.6,1141.1 1160.1,1140.2 1160.9,1140.0 1161.6,1139.7 1163.1,1139.0 1164.6,1138.3 1166.1,1137.7 1167.6,1136.9 1169.1,1136.2 1170.6,1135.6 1172.1,1134.7 1173.6,1134.1 1175.1,1133.4 1176.6,1132.3 1178.1,1131.7 1179.5,1130.6 1179.6,1130.7 1181.1,1129.6 1182.6,1128.7 1184.1,1127.6 1185.6,1126.4 1187.1,1125.0 1188.6,1124.0 1190.1,1122.5 1191.6,1121.4 1193.1,1119.8 1194.6,1118.6 1195.0,1118.2 1196.1,1117.3 1197.6,1115.7 1199.1,1114.3 1200.6,1112.6 1202.1,1111.1 1203.6,1109.7 1205.1,1108.1 1206.6,1106.6 1207.4,1106.0 1208.1,1105.4 1209.6,1103.9 1211.1,1102.5 1212.6,1101.2 1214.1,1100.0 1215.6,1098.9 1216.6,1098.3 1217.1,1097.9 1218.6,1096.8 1220.1,1095.9 1221.6,1095.1 1223.1,1094.4 1224.6,1093.5 1226.1,1092.6 1227.6,1091.5 1229.0,1090.5 1229.1,1090.4 1230.6,1088.8 1232.1,1087.1 1233.6,1085.2 1235.1,1083.1 1236.6,1081.3 1238.1,1079.7 1238.3,1079.6 1239.6,1078.4 1241.1,1077.4 1242.6,1076.4 1244.1,1075.7 1245.6,1074.8 1247.1,1073.9 1248.6,1073.1 1250.1,1072.1 1250.7,1071.8 1251.6,1071.4 1253.1,1070.7 1254.6,1069.8 1256.1,1068.9 1257.6,1068.2 1259.1,1067.4 1260.6,1066.9 1262.1,1066.2 1263.6,1065.3 1265.1,1064.8 1266.2,1064.0 1266.6,1064.0 1268.1,1063.2 1269.6,1062.3 1271.1,1061.4 1272.6,1060.5 1274.1,1060.0 1275.6,1059.0 1277.1,1058.4 1278.5,1058.0 1278.6,1058.0 1280.1,1057.5 1281.6,1057.1 1283.1,1056.7 1284.6,1056.3 1286.1,1056.3 1287.6,1055.9 1289.1,1055.6 1290.6,1055.3 1292.1,1054.9 1292.5,1054.8 1293.6,1054.6 1295.1,1054.1 1296.6,1053.7 1298.1,1053.4 1299.6,1053.1 1301.1,1052.9 1302.6,1052.3 1304.1,1051.9 1305.6,1051.7 1307.1,1051.1 1307.9,1051.0 1308.6,1050.8 1310.1,1050.3 1311.6,1049.8 1313.1,1049.3 1314.6,1049.0 1316.1,1048.4 1317.6,1048.1 1319.1,1047.6 1320.6,1047.4 1322.1,1047.3 1323.4,1047.1 1323.6,1047.0 1325.1,1047.2 1326.6,1047.1 1328.1,1047.3 1329.6,1047.3 1331.1,1047.4 1332.6,1047.7 1334.1,1047.8 1335.6,1048.0 1335.8,1048.0 1337.1,1048.2 1338.6,1048.6 1340.1,1048.9 1341.6,1049.5 1343.1,1050.2 1344.6,1051.2 1346.1,1052.0 1347.6,1053.1 1349.1,1054.4 1349.7,1054.8 1350.6,1055.9 1352.1,1057.8 1353.6,1060.5 1355.1,1063.3 1356.6,1066.9 1357.4,1068.9 1358.1,1070.4 1359.6,1074.9 1361.1,1080.3 1362.1,1084.2 1362.6,1087.0 1364.1,1096.5 1365.2,1102.9 1365.6,1105.3 1367.1,1113.8 1368.6,1121.8 1370.1,1129.0 1371.4,1133.7 1371.6,1134.7 1373.1,1139.3 1374.6,1143.8 1376.1,1147.3 1377.6,1150.8 1379.1,1153.9 1379.1,1153.9 1380.6,1156.8 1382.1,1159.6 1383.6,1162.3 1385.1,1164.7 1386.6,1167.0 1388.1,1168.9 1389.6,1170.7 1389.9,1170.8 1391.1,1172.2 1392.6,1173.6 1394.1,1174.7 1395.6,1176.1 1397.1,1177.2 1398.6,1178.0 1400.1,1179.1 1401.6,1179.8 1402.3,1180.2 1403.1,1180.7 1404.6,1181.3 1406.1,1181.9 1407.6,1182.5 1409.1,1183.0 1410.6,1183.4 1412.1,1184.1 1413.6,1184.2 1415.1,1184.8 1416.2,1185.0 1416.6,1184.9 1418.1,1185.0 1419.6,1185.3 1421.1,1185.5 1422.6,1185.7 1424.1,1185.9 1425.6,1185.8 1427.1,1185.9 1428.6,1186.4 1429.9,1186.2 1430.1,1186.6 1431.6,1186.8 1433.1,1187.0 1434.6,1187.1 1436.1,1187.3 1437.6,1187.7 1439.1,1187.9 1440.6,1188.3 1441.4,1188.2 1442.1,1188.4 1443.6,1188.7 1445.1,1188.8 1446.6,1189.1 1448.1,1189.2 1449.6,1189.2 1451.1,1189.6 1452.6,1189.6 1454.1,1189.7 1455.6,1190.0 1457.1,1190.0 1458.6,1190.2 1460.1,1190.4 1461.5,1190.5 1461.6,1190.7 1463.1,1190.7 1464.6,1190.9 1466.1,1191.1 1467.6,1191.3 1469.1,1191.5 1470.6,1191.7 1472.1,1191.8 1473.6,1191.7 1475.1,1191.9 1476.6,1192.2 1478.1,1192.3 1479.6,1192.3 1481.1,1192.6 1482.6,1192.7 1484.1,1192.8 1484.7,1193.0 1485.6,1193.1 1487.1,1193.1 1488.6,1193.4 1490.1,1193.4 1491.6,1193.7 1493.1,1193.7 1494.6,1193.9 1496.1,1194.0 1497.6,1194.2 1499.1,1194.3 1500.6,1194.6 1502.1,1194.5 1503.6,1194.8 1505.1,1194.9 1506.6,1195.2 1508.1,1195.3 1509.6,1195.4 1511.1,1195.4 1512.6,1195.6 1514.1,1195.9 1515.6,1196.2 1515.7,1195.9 1517.1,1196.2 1518.6,1196.3 1520.1,1196.4 1521.6,1196.8 1523.1,1196.9 1524.6,1197.1 1526.1,1197.4 1527.6,1197.6 1529.1,1197.7 1530.6,1198.1 1532.1,1198.3 1533.6,1198.4 1535.1,1198.4 1536.6,1198.8 1538.1,1198.8 1539.6,1199.0 1541.1,1199.3 1542.6,1199.5 1544.1,1199.7 1545.6,1199.8 1546.6,1200.0 1547.1,1200.0 1548.6,1200.2 1550.1,1200.2 1551.6,1200.6 1553.1,1200.7 1554.6,1200.9 1556.1,1201.0 1557.6,1201.1 1559.1,1201.1 1560.6,1201.5 1562.1,1201.6 1563.6,1201.7 1565.1,1201.7 1566.6,1202.1 1568.1,1202.0 1569.6,1202.1 1571.1,1202.4 1572.6,1202.6 1574.1,1202.6 1575.6,1202.7 1577.1,1203.0 1578.6,1203.1 1580.1,1203.2 1581.6,1203.3 1583.1,1203.5 1584.6,1203.6 1586.1,1203.6 1587.6,1203.8 1589.1,1204.1 1590.6,1204.1 1592.1,1204.2 1593.6,1204.2 1595.1,1204.5 1596.6,1204.4 1597.7,1204.6" stroke="#000000" stroke-width="1.7"/>
<path d="M278.1,1048.0 279.6,1047.8 281.1,1047.8 282.6,1047.7 284.1,1048.1 285.6,1047.6 287.1,1047.5 288.6,1047.0 290.1,1047.1 291.6,1046.3 293.1,1046.0 294.6,1046.6 296.1,1045.5 297.1,1046.3 297.6,1046.1 299.1,1045.8 300.6,1044.8 302.1,1044.6 303.6,1044.9 305.1,1044.1 306.6,1043.8 308.1,1042.9 309.6,1042.4 311.1,1042.2 312.6,1041.8 313.4,1041.3 314.1,1040.5 315.6,1040.3 317.1,1038.4 318.6,1037.3 320.1,1036.0 321.6,1034.2 323.1,1032.8 324.2,1032.1 324.6,1031.3 326.1,1029.8 327.6,1028.6 329.1,1026.2 330.6,1025.1 332.1,1022.7 333.6,1020.8 335.1,1019.4 336.6,1016.6 337.8,1015.9 338.1,1015.3 339.6,1013.2 341.1,1010.1 342.6,1008.0 344.1,1006.1 345.6,1003.3 347.1,1000.4 348.6,998.5 350.1,996.1 351.3,994.3 351.6,992.9 353.1,990.4 354.6,988.4 356.1,984.9 357.6,982.4 359.1,979.8 360.6,977.0 362.1,974.4 363.6,972.0 364.9,969.6 365.1,969.1 366.6,966.3 368.1,963.2 369.6,960.7 371.1,958.5 372.6,955.6 374.1,952.8 375.6,949.9 377.1,947.6 378.4,945.2 378.6,944.6 380.1,942.2 381.6,939.3 383.1,937.2 384.6,934.6 386.1,932.6 387.6,930.3 389.1,928.1 390.6,925.7 392.0,922.9 392.1,923.3 393.6,921.2 395.1,919.0 396.6,916.4 398.1,914.2 399.6,912.1 401.1,909.6 402.6,908.4 404.1,906.5 405.5,904.2 405.6,904.7 407.1,902.2 408.6,900.4 410.1,899.4 411.6,898.0 413.1,895.8 414.6,895.1 416.1,893.1 417.6,891.5 419.1,890.2 420.6,888.7 421.8,888.4 422.1,887.6 423.6,886.8 425.1,885.3 426.6,883.8 428.1,883.1 429.6,882.4 431.1,880.6 432.6,880.5 432.6,879.6 434.1,879.2 435.6,877.9 437.1,877.9 438.6,876.7 440.1,876.2 441.6,875.3 443.1,874.3 444.6,873.5 446.1,873.5 447.6,872.9 449.1,872.3 450.6,871.8 450.6,871.0 452.1,870.8 453.6,870.7 455.1,869.7 456.6,869.8 458.1,869.8 459.6,868.8 461.1,868.7 462.6,867.9 464.1,868.1 465.6,867.9 467.1,867.5 468.6,866.8 470.1,866.5 471.6,866.0 473.1,866.5 474.6,866.4 476.1,865.9 476.4,866.1 477.6,865.5 479.1,865.9 480.6,865.3 482.1,865.6 483.6,864.8 485.1,865.1 486.6,864.8 488.1,864.5 489.6,864.7 491.1,865.3 492.6,864.6 494.1,864.3 495.6,864.8 497.1,864.9 498.6,864.4 500.1,865.0 501.6,864.7 502.2,864.6 503.1,864.9 504.6,864.9 506.1,864.7 507.6,864.3 509.1,864.6 510.6,864.7 512.1,865.0 513.6,865.1 515.1,864.3 516.6,864.8 518.1,865.2 519.6,864.8 521.1,865.1 522.6,864.6 524.1,865.3 525.6,864.7 527.1,864.8 528.0,864.8 528.6,864.7 530.1,865.3 531.6,865.6 533.1,864.9 534.6,865.1 536.1,865.4 537.6,865.4 539.1,865.8 540.6,865.4 542.1,866.0 543.6,866.1 545.1,865.9 546.6,866.3 548.1,866.4 549.6,866.3 551.1,866.7 552.6,867.2 554.1,867.6 555.6,867.8 557.1,867.8 558.6,867.7 560.1,867.6 561.6,868.3 563.1,868.4 564.6,868.8 566.1,868.4 567.6,869.0 569.1,868.6 570.6,869.0 572.1,869.3 573.6,869.9 575.1,869.6 576.6,870.0 578.1,870.6 579.6,870.7 579.6,870.2 581.1,870.1 582.6,870.7 584.1,871.0 585.6,871.0 587.1,871.3 588.6,870.9 590.1,871.2 591.6,871.2 593.1,871.3 594.6,871.9 596.1,872.3 597.6,872.1 599.1,872.9 600.6,872.5 602.1,872.7 603.6,873.3 605.1,873.3 606.6,873.4 608.1,873.2 609.6,873.3 611.1,873.5 612.6,873.7 614.1,874.1 615.6,874.2 617.1,874.6 618.6,874.5 620.1,875.1 621.6,875.6 623.1,875.6 624.6,875.5 626.1,875.4 627.6,876.1 629.1,876.3 630.6,875.7 632.1,876.7 633.6,876.9 635.1,876.3 636.6,876.5 638.1,877.2 639.6,877.1 641.1,876.9 642.6,877.5 644.1,877.9 645.6,878.0 647.1,877.4 648.6,877.6 650.1,878.2 651.6,878.4 653.1,878.8 654.6,878.8 656.1,878.8 657.0,879.1 657.6,878.7 659.1,878.6 660.6,878.6 662.1,879.0 663.6,879.6 665.1,879.4 666.6,879.0 668.1,880.0 669.6,880.0 671.1,879.4 672.6,880.2 674.1,879.7 675.6,879.7 677.1,880.2 678.6,880.6 680.1,880.2 681.6,880.5 683.1,881.0 684.6,880.4 686.1,881.0 687.6,880.8 689.1,880.7 690.6,881.5 692.1,881.5 693.6,881.4 695.1,881.5 696.6,881.5 698.1,881.9 699.6,881.3 701.1,881.5 702.6,881.6 704.1,881.7 705.6,882.2 707.1,882.2 708.6,882.5 710.1,882.4 711.6,882.8 713.1,882.8 714.6,882.2 716.1,882.4 717.6,883.0 719.1,883.3 720.6,883.4 722.1,882.7 723.6,883.3 725.1,883.0 726.6,883.2 728.1,883.8 729.6,883.7 731.1,884.0 732.6,883.8 734.1,884.2 735.6,883.7 737.1,883.9 738.6,884.5 740.1,884.4 741.6,883.8 743.1,884.0 744.6,884.2 746.1,884.6 747.6,884.3 749.1,885.0 750.6,885.0 752.1,884.7 753.6,884.6 755.1,884.7 756.6,884.7 758.1,885.1 759.6,885.2 761.1,885.6 762.6,885.3 764.1,885.5 765.6,885.2 767.1,886.0 768.6,885.6 770.0,885.4 770.1,885.5 771.6,886.0 773.1,885.6 774.6,886.5 776.1,886.1 777.6,886.4 779.1,886.3 780.6,886.5 782.1,886.3 783.6,886.8 785.1,886.9 786.6,887.0 788.1,886.9 789.6,887.2 791.1,887.3 792.6,886.8 794.1,886.7 795.6,887.6 797.1,887.1 798.6,886.9 800.1,887.7 801.6,887.8 803.1,887.6 804.6,887.1 806.1,887.9 807.6,887.5 808.7,887.1 809.1,887.2 810.6,887.0 812.1,887.4 813.6,887.1 815.1,886.7 816.6,885.6 818.1,885.5 819.6,885.2 821.1,884.8 821.6,884.4 822.6,884.5 824.1,884.5 825.6,884.9 827.1,884.9 828.6,884.6 830.1,884.7 831.6,885.1 833.1,885.4 834.6,885.4 836.1,885.7 837.6,885.6 839.1,885.3 840.6,885.4 842.1,885.7 843.6,886.1 845.1,886.4 846.6,886.6 847.4,886.7 848.1,886.6 849.6,886.3 851.1,886.5 852.6,886.2 854.1,887.2 855.6,887.0 857.1,886.5 858.6,887.5 860.1,887.5 861.6,887.9 863.1,887.2 864.6,887.7 866.1,887.5 867.6,888.5 869.1,887.9 870.6,888.6 872.1,888.8 873.6,888.9 875.1,888.9 876.6,889.0 878.1,889.6 879.6,889.6 881.1,889.5 882.6,890.0 884.1,890.1 885.6,890.1 887.1,890.5 888.6,890.1 890.1,890.5 891.6,891.0 893.1,891.2 894.6,891.3 896.1,891.6 897.6,891.2 899.0,891.8 899.1,891.7 900.6,891.8 902.1,891.4 903.6,891.3 905.1,892.1 906.6,891.5 908.1,892.2 909.6,891.7 911.1,892.0 912.6,892.3 914.1,892.8 915.6,892.4 917.1,893.1 918.6,893.2 920.1,893.2 921.6,892.8 923.1,893.1 924.6,893.7 926.1,893.4 927.6,893.5 929.1,893.6 930.6,893.2 932.1,894.2 933.6,893.9 935.1,894.0 936.6,894.3 938.1,894.0 939.6,893.9 941.1,894.7 942.6,894.0 944.1,894.3 945.6,894.7 947.1,894.5 948.6,894.7 950.1,894.5 951.6,895.2 953.1,895.3 954.6,894.9 956.1,895.5 957.6,895.5 959.1,895.4 960.6,895.0 962.1,894.9 963.6,895.9 965.1,895.9 966.6,895.7 968.1,895.7 969.6,896.0 971.1,895.7 972.6,895.7 974.1,895.8 975.6,895.8 976.4,896.1 977.1,895.6 978.6,895.9 980.1,896.3 981.6,896.6 983.1,896.4 984.6,896.2 986.1,896.9 987.6,896.9 989.1,896.4 990.6,897.2 992.1,897.0 993.6,896.6 995.1,897.0 996.6,896.8 998.1,897.5 999.6,897.2 1001.1,896.7 1002.6,897.2 1004.1,897.3 1005.6,897.7 1007.1,897.8 1008.6,897.6 1010.1,897.6 1011.6,897.6 1013.1,897.3 1014.6,897.9 1016.1,897.7 1017.6,897.6 1019.1,898.0 1020.6,897.6 1022.1,898.0 1023.6,897.6 1025.1,897.5 1026.6,897.9 1028.0,898.2 1028.1,897.5 1029.6,897.5 1031.1,897.6 1032.6,898.2 1034.1,897.7 1035.6,897.6 1037.1,897.6 1038.6,897.5 1040.1,897.6 1041.6,897.4 1043.1,897.1 1044.6,897.6 1046.1,896.9 1047.6,897.3 1049.1,897.1 1050.6,896.5 1052.1,896.7 1053.6,897.1 1055.1,897.1 1056.6,897.0 1058.1,896.1 1059.6,896.6 1061.1,896.1 1062.6,895.9 1064.1,895.7 1065.6,896.3 1067.1,896.3 1068.6,895.7 1070.1,896.0 1071.6,895.0 1073.1,894.8 1074.6,895.1 1076.1,895.4 1077.6,894.9 1079.1,894.5 1079.6,895.2 1080.6,894.8 1082.1,894.4 1083.6,894.5 1085.1,894.4 1086.6,893.7 1088.1,894.0 1089.6,893.9 1091.1,893.2 1092.6,893.2 1094.1,892.9 1095.6,892.9 1097.1,892.5 1098.6,892.9 1100.1,893.0 1101.6,892.1 1103.1,892.6 1104.6,891.8 1106.1,891.4 1107.6,891.6 1109.1,891.3 1110.6,891.1 1112.1,890.9 1113.6,891.2 1115.1,890.5 1116.6,890.8 1118.1,890.4 1119.6,890.2 1121.1,890.1 1122.6,889.3 1124.1,889.8 1125.6,889.2 1127.1,888.4 1128.6,888.4 1130.1,888.9 1131.2,888.4 1131.6,887.7 1133.1,887.6 1134.6,888.2 1136.1,887.2 1137.6,887.2 1139.1,887.1 1140.6,886.3 1142.1,886.5 1143.6,886.4 1145.1,885.6 1146.6,885.8 1148.1,885.8 1149.6,885.4 1151.1,884.7 1152.6,884.7 1154.1,884.1 1155.6,884.1 1157.1,883.7 1158.6,883.5 1160.1,883.5 1161.6,882.7 1163.1,883.1 1164.6,882.6 1166.1,882.5 1167.6,881.6 1169.1,881.5 1170.6,881.2 1172.1,881.1 1173.6,880.5 1175.1,880.0 1176.6,879.2 1178.1,879.5 1179.6,879.2 1181.1,878.6 1182.6,878.0 1182.8,877.5 1184.1,878.1 1185.6,877.5 1187.1,876.7 1188.6,876.1 1190.1,875.7 1191.6,875.3 1193.1,874.2 1194.6,873.4 1195.5,873.3 1196.1,872.8 1197.6,872.5 1199.1,872.1 1200.6,871.1 1202.1,870.5 1203.6,869.6 1205.1,869.7 1206.6,868.2 1208.1,868.2 1209.6,866.8 1211.0,866.8 1211.1,866.0 1212.6,865.8 1214.1,865.0 1215.6,863.9 1217.1,863.7 1218.6,862.9 1220.1,862.5 1221.6,861.0 1223.1,860.6 1224.6,859.3 1226.1,859.2 1226.4,858.3 1227.6,858.3 1229.1,857.2 1230.6,856.4 1232.1,854.9 1233.6,853.4 1235.1,852.8 1236.6,850.9 1238.1,849.7 1238.8,849.2 1239.6,848.7 1241.1,846.7 1242.6,845.4 1244.1,843.2 1245.6,841.5 1247.1,840.3 1248.6,838.2 1249.7,837.5 1250.1,836.8 1251.6,835.0 1253.1,834.0 1254.6,832.6 1256.1,830.8 1257.6,829.5 1259.1,828.1 1260.6,826.6 1261.7,826.0 1262.1,825.5 1263.6,822.8 1265.1,821.3 1266.6,819.0 1268.1,817.6 1269.6,815.1 1271.1,812.7 1272.6,810.5 1274.1,808.0 1275.6,804.4 1276.1,803.6 1277.1,801.3 1278.6,798.2 1280.1,793.4 1281.6,789.3 1283.1,786.0 1283.4,785.5 1284.6,783.6 1286.1,781.9 1287.6,780.8 1289.1,778.9 1290.6,777.1 1292.1,775.7 1293.6,773.9 1294.2,773.5 1295.1,771.9 1296.6,769.2 1298.1,766.1 1299.6,762.8 1301.1,759.7 1302.6,756.6 1304.1,753.8 1305.0,751.0 1305.6,750.1 1307.1,747.0 1308.6,742.9 1310.1,739.8 1311.6,736.8 1312.3,735.3 1313.1,733.5 1314.6,731.4 1316.1,728.6 1317.6,726.1 1319.1,723.2 1319.5,722.9 1320.6,720.1 1322.1,717.1 1323.6,713.3 1324.9,709.9 1325.1,709.1 1326.6,704.6 1328.1,699.2 1328.5,697.4 1329.6,690.2 1331.1,678.5 1331.2,677.8 1332.6,664.2 1333.0,659.5 1334.1,643.9 1334.9,632.4 1335.6,619.9 1336.7,604.8 1337.1,598.7 1338.5,585.3 1338.6,584.4 1340.1,580.5 1340.3,581.2 1341.6,585.2 1342.1,586.7 1343.1,595.8 1344.6,613.1 1344.8,614.6 1346.1,627.0 1347.6,640.5 1348.4,646.4 1349.1,651.1 1350.6,660.8 1352.1,668.6 1352.9,671.5 1353.6,675.7 1355.1,681.5 1356.6,687.2 1357.4,690.3 1358.1,691.9 1359.6,697.1 1361.1,700.5 1362.6,703.7 1362.9,704.4 1364.1,706.5 1365.6,709.1 1367.1,710.9 1368.6,713.2 1370.1,715.3 1371.6,716.7 1371.9,717.1 1373.1,718.4 1374.6,719.9 1376.1,722.1 1377.6,723.3 1379.1,724.9 1380.6,726.1 1382.1,727.6 1383.6,728.8 1384.5,729.8 1385.1,730.5 1386.6,731.7 1388.1,733.2 1389.6,734.4 1391.1,736.6 1392.6,737.4 1394.1,739.3 1395.6,740.7 1397.1,742.0 1397.2,742.4 1398.6,744.1 1400.1,745.9 1401.6,746.9 1403.1,748.9 1404.6,751.2 1406.1,752.5 1407.6,754.2 1409.1,756.1 1409.8,756.5 1410.6,758.4 1412.1,759.5 1413.6,762.0 1415.1,763.5 1416.6,765.9 1418.1,767.5 1419.6,769.6 1420.7,771.6 1421.1,771.6 1422.6,774.0 1424.1,776.0 1425.6,778.0 1427.1,780.2 1428.6,782.4 1429.7,784.1 1430.1,784.7 1431.6,788.2 1433.1,791.3 1434.6,795.2 1435.1,796.4 1436.1,799.2 1437.6,803.7 1439.1,808.7 1440.0,811.6 1440.6,813.1 1442.1,818.0 1443.6,822.2 1445.1,826.8 1446.6,831.1 1448.1,834.9 1449.1,838.0 1449.6,838.9 1451.1,842.7 1452.6,845.8 1454.1,849.5 1455.6,852.9 1457.1,855.7 1457.3,856.1 1458.6,859.1 1460.1,862.1 1461.6,865.0 1463.1,867.6 1464.6,870.3 1466.1,873.2 1467.6,875.5 1469.1,877.9 1469.7,879.2 1470.6,880.4 1472.1,882.3 1473.6,885.4 1475.1,887.0 1476.6,889.0 1478.1,891.1 1479.6,893.2 1481.1,894.8 1482.1,895.3 1482.6,896.2 1484.1,897.4 1485.6,899.1 1487.1,900.5 1488.6,901.7 1490.1,902.6 1491.6,903.4 1493.1,904.8 1494.6,905.9 1496.1,906.4 1497.6,907.1 1498.6,907.7 1499.1,908.1 1500.6,909.0 1502.1,909.9 1503.6,910.6 1505.1,911.6 1506.6,911.9 1508.1,913.1 1509.6,913.5 1511.1,914.5 1512.6,914.8 1514.1,915.9 1515.1,916.1 1515.6,916.8 1517.1,916.8 1518.6,917.6 1520.1,918.3 1521.6,918.9 1523.1,919.5 1524.6,920.4 1526.1,920.4 1527.6,921.4 1529.1,922.0 1530.6,923.0 1532.1,923.6 1533.6,924.0 1535.1,924.6 1535.8,925.0 1536.6,925.3 1538.1,925.4 1539.6,925.3 1541.1,926.6 1542.6,926.8 1544.1,926.8 1545.6,927.4 1547.1,928.2 1548.6,928.8 1550.1,929.5 1551.6,929.8 1553.1,930.2 1554.6,929.8 1556.1,930.5 1556.4,931.0 1557.6,931.3 1559.1,931.0 1560.6,931.7 1562.1,931.7 1563.6,932.0 1565.1,933.0 1566.6,932.8 1568.1,933.6 1569.6,933.1 1571.1,934.2 1572.6,934.4 1574.1,934.3 1575.6,934.6 1577.0,934.6 1577.1,934.8 1578.6,935.3 1580.1,935.4 1581.6,935.5 1583.1,935.3 1584.6,935.7 1586.1,936.5 1587.6,936.1 1589.1,936.3 1590.6,936.5 1592.1,937.1 1593.6,936.8 1595.1,937.1 1596.6,937.1 1597.7,937.3" stroke="#0000ff" stroke-width="2"/>
<path d="M278.1,935.0 279.6,936.0 281.1,936.5 282.6,936.5 284.1,937.2 285.6,938.3 287.1,938.1 288.6,939.5 290.1,940.0 291.6,940.2 293.1,940.6 294.6,941.2 296.1,941.7 297.1,942.3 297.6,942.5 299.1,943.1 300.6,944.1 302.1,944.4 303.6,944.7 305.1,945.6 306.6,945.3 308.1,945.7 309.6,946.7 311.1,946.7 312.6,947.2 314.1,948.3 315.6,948.9 316.1,949.5 317.1,949.7 318.6,950.4 320.1,951.2 321.6,951.9 323.1,952.6 324.6,953.7 326.1,955.2 327.6,955.6 329.1,956.7 330.6,957.2 332.1,958.8 332.3,958.2 333.6,959.0 335.1,960.4 336.6,960.8 338.1,961.8 339.6,962.4 341.1,963.2 342.6,963.2 344.1,964.3 345.6,964.9 347.1,965.8 348.6,965.8 350.1,966.5 351.3,966.3 351.6,966.7 353.1,967.0 354.6,967.2 356.1,968.2 357.6,968.2 359.1,969.1 360.6,969.1 362.1,969.4 363.6,969.8 365.1,970.1 366.6,969.8 368.1,970.4 369.6,970.4 371.1,970.8 372.6,970.6 374.1,971.6 375.6,971.0 377.1,971.5 378.4,971.1 378.6,971.7 380.1,971.5 381.6,971.0 383.1,971.7 384.6,971.8 386.1,971.7 387.6,971.4 389.1,971.0 390.6,971.0 392.1,971.8 393.6,971.4 395.1,971.0 396.6,971.7 398.1,971.5 399.6,971.4 401.1,971.2 402.6,971.2 404.1,971.1 405.6,970.9 407.1,971.7 408.6,971.3 410.1,971.4 411.6,971.2 413.1,971.6 414.6,970.9 416.1,971.2 417.6,970.9 419.1,971.0 419.1,971.8 420.6,971.5 422.1,971.2 423.6,971.2 425.1,971.5 426.6,970.9 428.1,971.0 429.6,970.9 431.1,970.5 432.6,970.4 434.1,970.5 435.6,970.5 437.1,969.5 438.6,970.1 440.1,969.0 441.6,969.5 443.1,969.4 444.6,968.5 446.1,968.6 447.6,968.8 449.1,967.8 450.6,968.2 452.1,968.2 453.6,967.8 455.1,967.8 456.6,967.2 458.1,967.1 459.6,967.1 459.7,966.9 461.1,967.0 462.6,967.6 464.1,967.1 465.6,966.8 467.1,966.6 468.6,967.2 470.1,966.7 471.6,967.1 473.1,966.6 474.6,966.5 476.1,966.8 477.6,966.6 479.1,966.4 480.6,966.1 482.1,966.5 483.6,966.0 485.1,966.4 486.6,965.5 488.1,965.8 489.6,965.9 491.1,966.2 492.6,965.5 494.1,966.0 495.6,965.8 497.1,965.8 498.6,965.7 500.1,966.0 501.6,965.3 503.1,965.4 504.6,965.1 506.1,965.0 507.6,965.1 509.1,965.8 510.6,965.7 512.1,965.0 513.6,965.5 513.9,965.3 515.1,965.5 516.6,965.5 518.1,965.2 519.6,965.8 521.1,965.3 522.6,965.5 524.1,965.5 525.6,965.1 527.1,965.0 528.6,965.3 530.1,965.7 531.6,965.8 533.1,965.7 534.6,965.1 536.1,965.9 537.6,965.8 539.1,965.9 540.6,965.6 542.1,966.0 543.6,965.1 545.1,965.1 546.6,965.2 548.1,965.4 549.6,965.4 551.1,965.4 552.6,965.8 554.1,965.3 555.6,965.9 557.1,965.5 558.6,966.0 560.1,965.4 561.6,965.7 562.7,966.3 563.1,966.0 564.6,966.3 566.1,966.2 567.6,966.2 569.1,965.8 570.6,966.3 572.1,965.8 573.6,966.7 575.1,966.9 576.6,966.9 578.1,966.2 579.6,966.6 581.1,966.7 582.6,966.6 584.1,967.3 585.6,967.6 587.1,967.2 588.6,967.9 590.1,968.0 591.6,967.5 593.1,968.3 594.6,968.5 596.1,968.0 597.6,968.5 599.1,968.8 600.6,968.9 602.1,968.5 603.6,969.2 605.1,969.4 606.6,969.7 608.1,969.8 609.6,969.5 611.1,970.0 612.6,970.3 614.1,970.5 615.6,969.9 617.1,969.9 618.6,970.6 620.1,970.3 621.6,970.8 622.3,971.2 623.1,970.7 624.6,970.7 626.1,971.0 627.6,971.3 629.1,970.9 630.6,971.3 632.1,971.1 633.6,971.8 635.1,972.0 636.6,971.7 638.1,971.8 639.6,972.1 641.1,971.8 642.6,972.0 644.1,972.2 645.6,972.4 647.1,972.1 648.6,972.9 650.1,972.8 651.6,972.6 653.1,972.5 654.6,973.3 656.1,972.8 657.6,972.9 659.1,973.0 660.6,973.0 662.1,974.0 663.6,973.4 665.1,973.5 666.6,974.2 668.1,974.1 669.6,973.7 671.1,974.1 672.6,974.6 674.1,974.2 675.6,974.6 677.1,974.1 678.6,974.8 680.1,975.0 681.6,975.1 683.1,975.1 684.6,974.9 686.1,974.7 687.6,975.2 689.1,975.5 690.6,975.1 692.1,975.2 693.6,975.6 695.1,975.9 696.6,976.2 698.1,975.5 699.6,975.6 701.1,976.3 702.6,976.3 703.6,976.4 704.1,976.7 705.6,976.8 707.1,976.8 708.6,976.8 710.1,976.5 711.6,976.9 713.1,976.5 714.6,977.2 716.1,977.3 717.6,977.3 719.1,977.1 720.6,977.2 722.1,977.3 723.6,977.0 725.1,977.9 726.6,977.7 728.1,977.7 729.6,977.9 731.1,978.2 732.6,977.9 734.1,978.5 735.6,978.7 737.1,978.2 738.6,978.1 740.1,978.8 741.6,979.1 743.1,978.3 744.6,979.0 746.1,979.2 747.6,979.4 749.1,978.7 750.6,978.7 752.1,979.7 753.6,978.9 755.1,979.1 756.6,979.6 758.1,979.5 759.6,979.9 761.1,979.5 762.6,980.3 764.1,979.7 765.6,980.3 767.1,979.7 768.6,980.2 770.0,979.8 770.1,980.1 771.6,980.2 773.1,980.7 774.6,980.5 776.1,980.2 777.6,981.2 779.1,981.2 780.6,981.3 782.1,980.7 783.6,980.9 785.1,980.8 786.6,980.8 788.1,980.8 789.6,981.3 791.1,981.0 792.6,981.2 794.1,981.9 795.6,981.6 797.1,981.4 798.6,982.0 800.1,981.6 801.6,982.0 803.1,981.8 804.6,982.1 806.1,982.3 807.6,982.3 809.1,982.2 810.6,982.7 812.1,982.9 813.6,982.2 815.1,982.3 816.6,982.3 818.1,983.3 819.6,983.3 821.1,982.7 822.6,983.5 824.1,982.8 825.6,983.2 827.1,983.2 828.6,983.7 830.1,982.9 831.6,983.3 833.1,983.6 834.6,983.1 836.1,983.4 837.6,983.7 839.1,984.2 840.6,984.1 842.1,984.3 843.6,984.3 845.1,984.3 846.6,984.5 848.1,984.4 849.6,984.5 851.1,984.1 851.3,984.0 852.6,984.7 854.1,984.1 855.6,984.9 857.1,984.7 858.6,984.5 860.1,985.1 861.6,984.4 863.1,984.8 864.6,984.5 866.1,985.4 867.6,985.1 869.1,985.4 870.6,984.9 872.1,985.5 873.6,985.4 875.1,985.4 876.6,985.8 878.1,985.3 879.6,985.4 881.1,985.7 882.6,985.9 884.1,985.5 885.6,985.9 887.1,985.5 888.6,985.9 890.1,986.1 891.6,985.5 893.1,986.2 894.6,985.6 896.1,986.6 897.6,986.1 899.1,986.1 900.6,986.5 902.1,986.4 903.6,986.7 905.1,986.1 905.5,986.6 906.6,986.6 908.1,987.1 909.6,986.2 911.1,986.7 912.6,987.0 914.1,987.0 915.6,986.6 917.1,987.2 918.6,987.0 920.1,987.0 921.6,987.8 923.1,987.2 924.6,987.6 926.1,988.0 927.6,988.0 929.1,988.0 930.6,988.3 932.1,988.1 933.6,988.3 935.1,988.6 936.6,988.6 938.1,988.6 939.6,988.5 941.1,988.7 942.6,988.6 944.1,989.1 945.6,988.8 947.1,988.9 948.6,989.3 950.1,989.1 951.6,988.9 953.1,989.5 954.6,989.0 956.1,989.5 957.6,989.5 959.1,989.2 959.7,989.4 960.6,988.7 962.1,989.1 963.6,989.6 965.1,989.3 966.6,989.3 968.1,989.4 969.6,989.4 971.1,989.3 972.6,989.1 974.1,988.9 975.6,989.0 977.1,989.0 978.6,989.1 980.1,989.6 981.6,989.0 983.1,989.1 984.6,989.0 986.1,989.2 987.6,989.5 989.1,989.5 990.6,988.9 992.1,988.8 993.6,989.4 995.1,989.0 996.6,989.2 998.1,988.5 999.6,989.3 1000.4,988.8 1001.1,988.9 1002.6,988.6 1004.1,988.8 1005.6,989.1 1007.1,989.1 1008.6,988.7 1010.1,988.9 1011.6,988.5 1013.1,988.3 1014.6,988.4 1016.1,987.9 1017.6,988.0 1019.1,988.2 1020.6,988.2 1022.1,987.3 1023.6,987.9 1025.1,987.9 1026.6,987.4 1028.1,986.9 1029.6,987.3 1031.1,986.8 1032.6,987.0 1034.1,986.7 1035.6,986.8 1037.1,986.3 1038.6,986.4 1040.1,986.3 1041.0,986.4 1041.6,985.9 1043.1,986.5 1044.6,985.8 1046.1,985.7 1047.6,985.5 1049.1,985.2 1050.6,985.4 1052.1,985.7 1053.6,985.5 1055.1,984.9 1056.6,984.7 1058.1,984.8 1059.6,985.1 1061.1,984.7 1062.6,985.1 1064.1,984.7 1065.6,984.5 1067.1,984.5 1068.6,984.4 1070.1,983.9 1071.6,983.7 1073.1,983.7 1074.6,983.6 1076.1,983.2 1077.6,983.3 1079.1,983.4 1080.6,982.8 1082.1,982.6 1083.6,982.5 1085.1,982.5 1086.6,983.0 1088.1,981.9 1089.6,981.9 1091.1,981.7 1092.6,981.9 1094.1,981.3 1095.2,981.6 1095.6,981.2 1097.1,981.2 1098.6,981.5 1100.1,980.7 1101.6,981.0 1103.1,980.5 1104.6,980.3 1106.1,980.5 1107.6,979.7 1109.1,980.2 1110.6,979.9 1112.1,979.5 1113.6,978.6 1115.1,979.0 1116.6,978.7 1118.1,978.6 1119.6,977.8 1121.1,978.3 1122.6,977.9 1124.1,976.9 1125.6,976.8 1127.1,976.3 1128.6,976.8 1130.1,976.6 1131.6,976.3 1133.1,975.7 1134.6,975.4 1136.1,975.1 1137.6,974.7 1139.1,974.8 1140.6,974.1 1142.1,973.6 1143.6,973.4 1145.1,972.6 1146.6,973.0 1148.1,972.6 1149.4,972.1 1149.6,972.4 1151.1,972.0 1152.6,971.2 1154.1,970.6 1155.6,970.3 1157.1,969.9 1158.6,969.7 1160.1,969.4 1161.6,969.4 1163.1,968.4 1164.6,968.5 1166.1,967.9 1167.6,967.6 1169.1,966.7 1170.6,965.9 1172.1,966.2 1173.6,965.2 1175.1,964.6 1176.5,964.9 1176.6,964.7 1178.1,963.8 1179.6,963.3 1181.1,963.5 1182.6,962.3 1184.1,962.2 1185.6,961.2 1187.1,961.3 1188.6,960.2 1190.1,960.1 1190.1,959.6 1191.6,959.7 1193.1,959.6 1194.6,958.4 1195.5,958.3 1196.1,958.6 1197.6,958.0 1199.1,957.3 1200.6,957.2 1202.1,956.5 1203.6,956.5 1205.1,955.4 1206.6,955.3 1208.1,954.6 1209.6,954.1 1211.1,953.0 1212.5,952.6 1212.6,952.5 1214.1,951.1 1215.6,949.4 1217.1,948.8 1218.6,946.8 1220.1,944.3 1221.6,942.8 1221.8,942.1 1223.1,940.1 1224.6,937.7 1226.1,934.1 1227.6,930.5 1228.0,929.7 1229.1,926.5 1230.6,922.2 1232.1,918.3 1232.6,917.2 1233.6,915.5 1235.1,913.9 1236.6,911.9 1238.1,910.8 1238.8,910.2 1239.6,908.7 1241.1,907.4 1242.6,905.8 1244.1,903.9 1245.6,902.5 1247.1,901.8 1248.6,899.9 1249.7,899.3 1250.1,898.0 1251.6,897.1 1253.1,896.0 1254.6,894.6 1256.1,892.3 1257.6,891.3 1259.1,889.6 1260.5,888.4 1260.6,887.5 1262.1,886.0 1263.6,884.6 1265.1,881.9 1265.9,880.3 1266.6,878.9 1268.1,872.5 1269.0,869.1 1269.6,867.5 1271.1,862.9 1272.6,858.9 1272.9,858.8 1274.1,856.0 1275.6,852.8 1276.0,852.7 1277.1,851.9 1278.6,851.8 1279.1,852.0 1280.1,852.3 1281.6,854.3 1283.1,856.0 1283.7,856.1 1284.6,857.0 1286.1,857.8 1287.6,858.2 1289.1,859.2 1290.6,859.7 1291.5,859.1 1292.1,859.5 1293.6,859.7 1295.1,859.4 1296.6,859.2 1298.1,859.3 1299.6,859.5 1300.7,859.7 1301.1,859.5 1302.6,858.8 1304.1,859.1 1305.6,858.5 1307.1,856.9 1308.6,856.2 1310.1,855.3 1311.6,855.2 1311.6,855.2 1313.1,853.5 1314.6,852.9 1316.1,851.8 1317.6,851.0 1319.1,850.5 1320.6,848.6 1322.1,847.7 1322.4,847.9 1323.6,847.1 1325.1,846.5 1326.6,845.3 1328.1,844.1 1329.6,843.5 1331.1,843.2 1332.6,842.0 1334.1,840.2 1334.8,840.4 1335.6,839.3 1337.1,838.5 1338.6,836.4 1340.1,835.8 1341.6,833.5 1343.1,832.0 1344.1,831.0 1344.6,830.1 1346.1,827.3 1347.6,824.5 1349.1,821.8 1350.3,819.6 1350.6,819.1 1352.1,816.5 1353.6,814.4 1355.1,811.8 1355.6,811.2 1356.6,809.2 1358.1,806.3 1359.6,803.9 1361.1,801.7 1362.6,798.6 1362.9,798.4 1364.1,796.6 1365.6,793.9 1367.1,792.0 1368.6,789.7 1370.1,786.7 1371.6,784.9 1373.1,782.1 1374.6,779.6 1375.5,778.5 1376.1,777.7 1377.6,775.7 1379.1,772.6 1380.6,770.8 1382.1,768.2 1383.6,765.5 1385.1,764.0 1386.6,761.3 1388.1,758.4 1388.1,759.1 1389.6,756.0 1391.1,753.6 1392.6,751.5 1394.1,749.7 1395.6,746.4 1397.1,744.8 1397.2,744.4 1398.6,741.2 1400.1,738.9 1401.6,735.9 1403.1,733.4 1404.4,731.9 1404.6,731.6 1406.1,730.1 1407.6,727.5 1409.1,726.7 1410.6,725.4 1411.6,725.6 1412.1,725.7 1413.6,725.9 1415.1,725.2 1416.6,725.6 1418.1,726.2 1419.6,726.5 1419.8,725.9 1421.1,726.8 1422.6,727.0 1424.1,727.9 1425.6,729.4 1427.1,730.3 1427.6,730.6 1428.6,731.5 1430.1,733.2 1431.6,734.7 1433.1,736.8 1434.6,739.9 1435.3,740.8 1436.1,742.5 1437.6,746.2 1439.1,749.7 1440.6,753.8 1441.5,756.0 1442.1,757.5 1443.6,761.0 1445.1,764.0 1446.1,766.9 1446.6,769.1 1448.1,776.3 1449.2,782.1 1449.6,784.8 1451.1,792.3 1452.3,797.8 1452.6,799.7 1454.1,807.1 1455.6,815.2 1457.0,821.3 1457.1,821.6 1458.6,826.7 1460.1,831.3 1461.5,835.8 1461.6,836.1 1463.1,843.5 1464.6,850.8 1466.1,859.7 1467.6,866.3 1467.6,866.4 1469.1,872.7 1470.6,879.6 1472.1,884.7 1473.6,890.8 1473.8,891.9 1475.1,896.9 1476.6,901.7 1478.1,907.7 1479.6,913.0 1480.0,914.4 1481.1,917.5 1482.6,922.1 1484.1,926.2 1485.6,930.5 1487.1,935.1 1488.6,938.5 1490.1,942.2 1490.4,942.9 1491.6,945.6 1493.1,949.0 1494.6,953.2 1496.1,955.9 1497.6,958.7 1499.1,962.0 1500.6,964.0 1502.1,966.7 1502.7,968.3 1503.6,969.5 1505.1,971.3 1506.6,972.7 1508.1,974.7 1509.6,976.1 1511.1,978.0 1512.6,979.3 1514.1,980.9 1515.1,982.4 1515.6,982.4 1517.1,983.9 1518.6,986.0 1520.1,986.8 1521.6,988.1 1523.1,989.0 1524.6,990.9 1526.1,991.9 1527.5,992.6 1527.6,992.8 1529.1,993.2 1530.6,994.3 1532.1,995.5 1533.6,996.7 1535.1,997.4 1536.6,998.0 1538.1,998.6 1539.6,998.7 1541.1,1000.2 1542.6,1000.0 1544.0,1000.8" stroke="#0000ff" stroke-width="2"/>
<path d="M278.1,984.3 279.6,985.5 281.1,985.5 282.6,986.7 284.1,987.4 285.6,987.6 287.1,988.3 288.6,988.9 290.1,989.2 291.6,990.2 293.1,990.6 294.6,991.2 296.1,991.8 297.1,992.2 297.6,993.0 299.1,993.3 300.6,993.8 302.1,994.9 303.6,995.6 305.1,996.3 306.6,997.2 308.1,996.9 309.6,997.5 311.1,997.6 312.0,997.4 312.6,997.5 314.1,997.3 315.6,996.5 317.1,995.7 318.6,994.5 320.1,993.6 321.6,992.3 323.1,991.7 324.2,991.8 324.6,991.5 326.1,991.8 327.6,991.9 329.1,992.1 330.6,992.3 332.1,991.5 332.3,992.4 333.6,992.2 335.1,992.6 336.6,992.0 338.1,992.6 339.6,993.1 341.1,993.7 342.6,993.8 344.1,994.4 345.6,994.7 347.1,995.4 348.6,995.9 350.1,996.3 351.3,996.7 351.6,996.3 353.1,997.1 354.6,996.9 356.1,997.8 357.6,998.0 359.1,998.1 360.6,998.6 362.1,998.8 363.6,999.5 365.1,999.9 366.6,1000.3 368.1,1000.2 369.6,1001.2 371.1,1001.0 372.6,1001.2 374.1,1002.0 375.6,1001.9 377.1,1002.1 378.4,1002.0 378.6,1001.7 380.1,1001.6 381.6,1001.7 383.1,1001.9 384.6,1001.7 386.1,1002.1 387.6,1002.6 389.1,1002.4 390.6,1002.0 392.1,1002.0 393.6,1002.5 395.1,1002.7 396.6,1002.3 398.1,1002.0 399.6,1002.2 401.1,1001.9 402.6,1002.2 404.1,1002.7 405.6,1002.0 407.1,1002.2 408.6,1002.4 410.1,1002.8 411.6,1002.5 413.1,1002.3 414.6,1002.5 416.1,1002.1 417.6,1002.0 419.1,1002.7 420.6,1002.3 422.1,1002.8 423.6,1002.1 425.1,1001.9 426.6,1002.4 428.1,1002.7 429.6,1002.9 431.1,1002.6 432.6,1002.1 432.6,1002.6 434.1,1002.4 435.6,1002.2 437.1,1002.9 438.6,1002.8 440.1,1002.9 441.6,1002.7 443.1,1002.8 444.6,1002.8 446.1,1002.4 447.6,1002.7 449.1,1003.1 450.6,1002.6 452.1,1002.4 453.6,1002.3 455.1,1002.4 456.6,1002.7 458.1,1002.3 459.6,1003.0 461.1,1003.1 462.6,1003.3 464.1,1003.2 465.6,1002.9 467.1,1003.2 468.6,1003.2 470.1,1002.6 471.6,1002.6 473.1,1002.7 474.6,1003.5 476.1,1003.0 477.6,1003.4 479.1,1003.0 480.6,1003.3 482.1,1003.1 483.6,1003.5 485.1,1003.3 486.6,1003.7 488.1,1003.6 489.6,1003.8 491.1,1003.2 492.6,1003.2 494.1,1003.6 495.6,1003.7 497.1,1003.4 498.6,1003.2 500.1,1003.3 501.6,1004.1 503.1,1003.4 504.6,1003.5 506.1,1003.7 507.6,1003.3 509.1,1003.4 510.6,1004.1 512.1,1003.8 513.6,1003.6 513.9,1004.3 515.1,1003.6 516.6,1004.1 518.1,1004.2 519.6,1003.6 521.1,1003.6 522.6,1004.4 524.1,1003.8 525.6,1003.9 527.1,1004.7 528.6,1004.4 530.1,1004.8 531.6,1004.9 533.1,1004.8 534.6,1004.2 536.1,1004.7 537.6,1004.5 539.1,1004.5 540.6,1004.8 542.1,1005.3 543.6,1005.5 545.1,1005.1 546.6,1005.2 548.1,1005.6 549.6,1005.4 551.1,1005.7 552.6,1005.4 554.1,1006.0 555.6,1005.8 557.1,1005.6 558.6,1005.3 560.1,1006.2 561.6,1005.4 563.1,1005.4 564.6,1005.4 566.1,1006.3 567.6,1006.2 568.1,1005.6 569.1,1005.6 570.6,1005.7 572.1,1006.3 573.6,1006.0 575.1,1006.5 576.6,1006.7 578.1,1006.4 579.6,1006.2 581.1,1006.7 582.6,1006.1 584.1,1006.6 585.6,1005.9 587.1,1006.2 588.6,1006.7 589.8,1006.8 590.1,1006.5 591.6,1006.7 593.1,1007.2 594.6,1007.6 596.1,1008.0 597.6,1008.7 599.1,1008.4 600.6,1009.1 602.1,1010.1 603.6,1010.8 605.1,1011.3 606.6,1011.4 608.1,1012.1 608.8,1012.1 609.6,1011.8 611.1,1012.9 612.6,1012.7 614.1,1012.7 615.6,1013.2 617.1,1013.5 618.6,1013.6 620.1,1014.8 621.6,1014.5 623.1,1014.9 624.6,1015.2 626.1,1015.7 627.6,1015.5 627.7,1015.3 629.1,1015.6 630.6,1015.7 632.1,1016.3 633.6,1016.6 635.1,1016.0 636.6,1016.0 638.1,1017.0 639.6,1017.0 641.1,1017.4 642.6,1016.9 644.1,1016.9 645.6,1017.8 647.1,1017.1 648.6,1017.9 650.1,1018.1 651.6,1018.2 653.1,1018.0 654.6,1017.8 656.1,1017.8 657.6,1018.3 659.1,1018.9 660.6,1018.4 662.1,1018.7 663.6,1018.4 665.1,1019.0 666.6,1019.3 668.1,1018.9 669.6,1019.2 671.1,1019.0 672.6,1019.1 674.1,1019.0 675.6,1019.4 676.5,1019.9 677.1,1019.9 678.6,1019.9 680.1,1019.7 681.6,1019.9 683.1,1020.1 684.6,1019.6 686.1,1020.4 687.6,1020.0 689.1,1020.1 690.6,1019.9 692.1,1020.4 693.6,1020.7 695.1,1020.4 696.6,1020.6 698.1,1020.8 699.6,1021.2 701.1,1021.2 702.6,1020.9 704.1,1020.8 705.6,1021.3 707.1,1021.1 708.6,1021.5 710.1,1020.9 711.6,1021.0 713.1,1021.5 714.6,1021.5 716.1,1021.3 717.6,1021.4 719.1,1021.4 720.6,1021.9 722.1,1021.2 723.6,1021.4 725.1,1022.0 726.6,1021.5 728.1,1022.0 729.6,1021.9 731.1,1022.3 732.6,1022.4 734.1,1021.9 735.6,1021.9 737.1,1021.8 738.6,1022.2 740.1,1022.3 741.6,1022.6 743.1,1022.7 744.6,1022.8 746.1,1022.8 747.6,1022.8 749.1,1022.6 750.6,1022.5 752.1,1023.1 753.6,1023.2 755.1,1022.6 756.6,1022.8 758.1,1023.1 759.6,1022.9 761.1,1023.2 762.6,1023.7 764.1,1023.2 765.6,1023.6 767.1,1023.6 768.6,1023.4 770.0,1023.5 770.1,1023.6 771.6,1023.2 773.1,1023.4 774.6,1024.2 776.1,1023.6 777.6,1023.8 779.1,1024.1 780.6,1024.5 782.1,1024.5 783.6,1024.3 785.1,1024.7 786.6,1024.3 788.1,1024.9 789.6,1024.3 791.1,1024.6 792.6,1024.7 794.1,1024.9 795.6,1024.7 797.1,1025.6 798.6,1025.1 800.1,1025.4 801.6,1025.0 803.1,1025.5 804.6,1025.6 806.1,1025.3 807.6,1025.8 809.1,1026.1 810.6,1026.3 812.1,1026.3 813.6,1026.5 815.1,1026.4 816.6,1026.6 818.1,1026.4 819.6,1026.5 821.1,1026.5 822.6,1026.9 824.1,1026.7 825.6,1027.0 827.1,1027.4 828.6,1027.2 830.1,1027.2 831.6,1027.2 833.1,1027.6 834.6,1027.7 836.1,1027.9 837.6,1027.4 839.1,1027.6 840.6,1027.8 842.1,1028.1 843.6,1027.9 845.1,1027.6 846.6,1028.3 848.1,1027.7 849.6,1028.2 851.1,1028.7 851.3,1028.6 852.6,1028.7 854.1,1028.1 855.6,1027.9 857.1,1028.1 858.6,1028.8 860.1,1029.0 861.6,1029.1 863.1,1028.6 864.6,1029.0 866.1,1029.1 867.6,1028.4 869.1,1029.0 870.6,1029.2 872.1,1028.9 873.6,1029.0 875.1,1028.6 876.6,1028.8 878.1,1028.8 879.6,1029.2 881.1,1029.7 882.6,1029.4 884.1,1029.4 885.6,1029.2 887.1,1029.1 888.6,1029.5 890.1,1029.5 891.6,1029.4 893.1,1029.2 894.6,1030.1 896.1,1029.9 897.6,1029.8 899.1,1029.9 900.6,1030.0 902.1,1030.0 903.6,1030.1 905.1,1029.8 906.6,1029.7 908.1,1030.2 909.6,1030.5 911.1,1030.1 912.6,1030.3 914.1,1029.8 915.6,1030.3 917.1,1030.2 918.6,1030.7 920.1,1030.1 921.6,1030.3 923.1,1030.9 924.6,1030.2 926.1,1030.5 927.6,1030.8 929.1,1030.8 930.6,1030.9 932.1,1031.4 932.6,1030.5 933.6,1031.2 935.1,1030.9 936.6,1030.9 938.1,1030.7 939.6,1031.0 941.1,1031.7 942.6,1031.8 944.1,1031.9 945.6,1031.5 947.1,1031.2 948.6,1031.2 950.1,1031.5 951.6,1031.8 953.1,1031.9 954.6,1032.3 956.1,1032.0 957.6,1032.4 959.1,1031.9 960.6,1032.7 962.1,1032.8 963.6,1032.3 965.1,1032.9 966.6,1032.7 968.1,1032.5 969.6,1032.6 971.1,1032.8 972.6,1032.5 974.1,1033.3 975.6,1032.8 977.1,1033.4 978.6,1032.9 980.1,1033.3 981.6,1033.0 983.1,1033.5 984.6,1033.8 986.1,1033.7 987.6,1033.4 989.1,1034.2 990.6,1034.3 992.1,1034.4 993.6,1034.0 995.1,1034.1 996.6,1033.9 998.1,1034.0 999.6,1034.5 1001.1,1034.6 1002.6,1034.4 1004.1,1034.7 1005.6,1034.8 1007.1,1034.7 1008.6,1034.7 1010.1,1035.3 1011.6,1034.6 1013.1,1034.8 1013.9,1035.4 1014.6,1035.2 1016.1,1035.2 1017.6,1035.2 1019.1,1035.1 1020.6,1035.5 1022.1,1035.5 1023.6,1035.3 1025.1,1035.6 1026.6,1035.7 1028.1,1035.9 1029.6,1035.5 1031.1,1035.4 1032.6,1035.5 1034.1,1036.0 1035.6,1036.2 1037.1,1036.5 1038.6,1036.2 1040.1,1036.7 1041.6,1036.4 1043.1,1036.1 1044.6,1036.1 1046.1,1036.6 1047.6,1036.5 1049.1,1036.4 1050.6,1036.7 1052.1,1037.2 1053.6,1037.4 1055.1,1036.5 1056.6,1036.6 1058.1,1036.6 1059.6,1036.9 1061.1,1037.0 1062.6,1036.9 1064.1,1037.4 1065.6,1036.9 1067.1,1037.0 1068.1,1037.0 1068.6,1037.1 1070.1,1036.9 1071.6,1037.4 1073.1,1037.2 1074.6,1037.3 1076.1,1037.1 1077.6,1037.0 1079.1,1037.2 1080.6,1037.5 1082.1,1037.6 1083.6,1037.4 1085.1,1036.9 1086.6,1037.1 1088.1,1037.4 1089.6,1037.5 1091.1,1036.9 1092.6,1036.9 1094.1,1036.8 1095.6,1037.4 1097.1,1036.9 1098.6,1037.4 1100.1,1037.2 1101.6,1037.5 1103.1,1037.1 1104.6,1037.3 1106.1,1037.6 1107.6,1036.9 1109.1,1037.1 1110.6,1037.2 1112.1,1037.5 1113.6,1037.1 1115.1,1037.0 1116.6,1037.3 1118.1,1037.1 1119.6,1037.1 1121.1,1037.2 1122.3,1036.9 1122.6,1036.7 1124.1,1037.1 1125.6,1037.2 1127.1,1037.0 1128.6,1037.0 1130.1,1037.1 1131.6,1036.7 1133.1,1036.6 1134.6,1036.9 1136.1,1036.6 1137.6,1036.7 1139.1,1036.7 1140.6,1036.5 1142.1,1036.7 1143.6,1036.8 1145.1,1036.2 1146.6,1036.9 1148.1,1036.6 1149.6,1036.9 1151.1,1036.6 1152.6,1036.3 1154.1,1036.3 1155.6,1036.2 1157.1,1035.6 1158.6,1036.4 1160.1,1035.6 1161.6,1035.6 1163.1,1035.2 1164.6,1035.5 1166.1,1035.3 1167.6,1035.7 1169.1,1035.4 1170.6,1035.5 1172.1,1035.0 1173.6,1035.1 1175.1,1035.0 1176.5,1034.7 1176.6,1035.0 1178.1,1035.0 1179.6,1035.1 1181.1,1034.7 1182.6,1034.6 1184.1,1034.8 1185.6,1035.1 1187.1,1034.4 1188.6,1034.9 1190.1,1034.9 1191.6,1034.1 1193.1,1034.4 1194.6,1034.0 1196.1,1034.4 1197.6,1034.7 1199.1,1034.7 1200.6,1033.8 1202.1,1033.7 1203.6,1034.4 1205.1,1033.6 1206.6,1034.3 1208.1,1033.8 1209.6,1034.0 1211.1,1034.2 1212.6,1033.4 1214.1,1033.8 1215.6,1033.6 1217.1,1033.8 1218.6,1033.5 1220.1,1033.5 1221.6,1033.6 1223.1,1032.9 1224.6,1032.8 1225.3,1032.4 1226.1,1033.1 1227.6,1032.6 1229.1,1032.7 1230.6,1031.7 1232.1,1031.9 1232.6,1031.2 1233.6,1031.3 1235.1,1029.9 1236.6,1028.8 1238.1,1027.8 1239.6,1027.0 1240.4,1026.2 1241.1,1024.7 1242.6,1022.7 1244.1,1018.7 1244.2,1017.9 1245.0,1009.2 1245.6,1006.7 1247.1,1001.8 1248.6,999.2 1249.7,997.9 1250.1,997.2 1251.6,994.9 1253.1,993.2 1254.6,991.9 1256.1,989.6 1257.4,989.2 1257.6,988.8 1259.1,987.4 1260.6,986.1 1262.1,985.0 1263.6,984.0 1265.1,983.1 1266.6,982.6 1268.1,981.8 1269.6,980.9 1269.8,981.3 1271.1,980.6 1272.6,979.1 1274.1,978.9 1275.6,977.8 1277.1,977.0 1278.6,977.2 1280.1,975.8 1281.6,975.0 1282.2,974.5 1283.1,974.5 1284.6,972.7 1286.1,972.0 1287.6,971.0 1289.1,969.6 1290.6,967.8 1291.5,967.2 1292.1,965.9 1293.6,965.3 1295.1,962.8 1296.6,961.6 1298.1,959.5 1299.2,957.3 1299.6,956.5 1301.1,953.4 1302.6,949.4 1303.8,945.6 1304.1,944.2 1305.6,935.9 1306.2,933.2 1307.1,929.3 1308.5,925.8 1308.6,926.3 1310.1,929.1 1311.6,933.2 1311.6,933.3 1313.1,936.6 1314.6,939.9 1316.1,943.3 1316.2,943.8 1317.6,946.8 1319.1,950.9 1320.6,954.0 1322.1,957.0 1322.4,958.3 1323.6,959.5 1325.1,962.2 1326.6,964.1 1328.1,965.6 1329.6,967.4 1331.1,968.4 1331.7,968.2 1332.6,969.0 1334.1,970.2 1335.6,970.8 1337.1,971.4 1338.6,972.1 1340.1,972.6 1341.6,973.3 1342.5,973.6 1343.1,973.6 1344.6,973.7 1346.1,974.0 1347.6,973.8 1349.1,974.3 1350.3,973.9 1350.6,974.4 1352.1,974.2 1353.6,973.8 1355.1,973.2 1356.6,973.4 1358.1,972.5 1359.6,972.3 1359.6,972.7 1361.1,971.3 1362.6,968.9 1364.1,967.4 1365.6,965.1 1365.8,965.8 1367.1,965.4 1368.6,964.3 1370.1,964.7 1371.6,963.7 1373.1,963.5 1374.6,963.6 1376.1,963.9 1377.6,963.0 1379.1,962.4 1380.6,962.7 1381.2,962.2 1382.1,962.6 1383.6,961.4 1385.1,961.4 1386.6,960.2 1388.1,960.2 1389.6,959.2 1391.1,959.2 1392.6,957.9 1394.1,957.5 1395.6,957.0 1396.7,955.8 1397.1,955.8 1398.6,955.6 1400.1,954.7 1401.6,953.8 1403.1,952.9 1404.6,951.8 1406.1,950.6 1407.6,950.2 1409.1,948.6 1410.6,948.2 1412.1,947.1 1412.2,946.8 1413.6,945.7 1415.1,944.7 1416.6,944.0 1418.1,943.6 1419.6,942.6 1421.1,941.2 1422.6,940.7 1424.1,939.6 1425.6,938.9 1427.1,938.8 1427.7,938.4 1428.6,938.3 1430.1,937.5 1431.6,937.5 1433.1,936.2 1434.6,936.3 1436.1,935.7 1437.0,935.6 1437.6,936.3 1439.1,935.9 1440.6,937.3 1442.1,937.2 1443.6,938.1 1445.1,939.4 1446.3,939.7 1446.6,940.4 1448.1,941.3 1449.6,943.1 1451.1,944.6 1452.6,946.2 1454.1,948.2 1455.5,950.4 1455.6,950.1 1457.1,952.5 1458.6,955.0 1460.1,957.5 1461.6,960.5 1463.1,963.8 1463.3,963.7 1464.6,967.0 1466.1,971.7 1467.6,976.6 1469.1,981.3 1469.5,982.6 1470.6,986.6 1472.1,992.2 1473.6,996.9 1474.1,998.4 1475.1,1000.5 1476.6,1003.0 1478.1,1005.8 1479.6,1007.8 1480.0,1009.0 1481.1,1011.2 1482.6,1013.2 1484.1,1014.8 1484.2,1015.3 1485.6,1017.2 1487.1,1020.3 1488.6,1022.1 1490.1,1025.2 1491.6,1027.0 1493.1,1030.1 1494.6,1032.4 1496.1,1034.8 1497.6,1037.0 1498.6,1038.0 1499.1,1039.1 1500.6,1040.8 1502.1,1042.5 1503.6,1044.3 1505.1,1046.1 1506.6,1047.9 1508.1,1049.9 1509.6,1050.8 1511.1,1052.6 1512.6,1054.7 1514.1,1055.6 1515.1,1056.8 1515.6,1056.7 1517.1,1058.6 1518.6,1059.1 1520.1,1060.8 1521.6,1061.4 1523.1,1062.9 1524.6,1064.0 1526.1,1064.5 1527.6,1065.5 1529.1,1066.2 1530.6,1067.3 1531.6,1067.6 1532.1,1067.8 1533.6,1068.6 1535.1,1069.2 1536.6,1070.6 1538.1,1071.0 1539.6,1070.9 1541.1,1071.5 1542.6,1072.7 1544.0,1072.7" stroke="#0000ff" stroke-width="2"/>
<path d="M278.1,994.4 279.6,994.7 281.1,995.7 282.6,996.4 284.1,997.0 285.6,997.8 287.1,998.3 288.6,999.0 290.1,998.7 291.6,999.7 293.1,1000.3 294.6,1000.5 296.1,1001.1 297.1,1002.3 297.6,1002.6 299.1,1003.1 300.6,1003.2 302.1,1004.2 303.6,1004.4 305.1,1005.5 306.6,1005.7 308.1,1006.8 309.6,1007.6 311.1,1008.2 312.6,1008.8 314.1,1009.4 315.6,1009.8 317.1,1010.2 318.6,1011.2 320.1,1010.9 321.6,1011.8 323.1,1012.5 324.2,1012.8 324.6,1013.2 326.1,1013.1 327.6,1013.5 329.1,1014.1 330.6,1015.4 332.1,1015.0 333.6,1015.6 335.1,1016.2 336.6,1016.9 338.1,1017.5 339.6,1017.2 341.1,1018.5 342.6,1018.8 344.1,1018.8 345.6,1019.0 347.1,1019.9 348.6,1020.3 350.1,1020.4 351.3,1020.6 351.6,1021.3 353.1,1021.6 354.6,1022.1 356.1,1021.9 357.6,1022.8 359.1,1022.6 360.6,1022.9 362.1,1023.5 363.6,1024.5 365.1,1024.6 366.6,1025.0 368.1,1025.4 369.6,1025.8 371.1,1025.8 372.6,1026.6 374.1,1026.2 375.6,1026.9 377.1,1027.0 378.4,1027.3 378.6,1028.2 380.1,1028.2 381.6,1028.7 383.1,1028.9 384.6,1029.2 386.1,1029.8 387.6,1030.0 389.1,1030.2 390.6,1030.6 392.1,1030.9 393.6,1031.0 395.1,1031.6 396.6,1031.7 398.1,1032.2 399.6,1032.3 401.1,1032.8 402.6,1033.0 404.1,1032.5 405.5,1033.4 405.6,1033.5 407.1,1033.1 408.6,1033.7 410.1,1033.9 411.6,1033.7 413.1,1033.5 414.6,1034.2 416.1,1034.4 417.6,1034.0 419.1,1034.0 420.6,1034.7 422.1,1034.5 423.6,1034.1 425.1,1034.4 426.6,1034.5 428.1,1034.9 429.6,1034.9 431.1,1035.0 432.6,1034.9 432.6,1034.9 434.1,1035.1 435.6,1035.2 437.1,1035.3 438.6,1035.5 440.1,1035.8 441.6,1035.6 443.1,1035.4 444.6,1035.9 446.1,1035.1 447.6,1036.0 449.1,1035.6 450.6,1035.7 452.1,1036.1 453.6,1035.9 455.1,1036.1 456.6,1035.7 458.1,1036.0 459.6,1036.1 461.1,1035.7 462.6,1036.3 464.1,1035.7 465.6,1035.7 467.1,1035.9 468.6,1036.5 470.1,1036.2 471.6,1035.8 473.1,1036.0 474.6,1036.3 476.1,1035.9 477.6,1036.1 479.1,1036.0 480.6,1036.5 482.1,1036.0 483.6,1036.2 485.1,1036.3 486.6,1036.8 486.8,1036.3 488.1,1036.0 489.6,1036.3 491.1,1036.2 492.6,1036.4 494.1,1036.0 495.6,1036.3 497.1,1036.5 498.6,1036.3 500.1,1036.8 501.6,1036.2 503.1,1036.7 504.6,1036.2 506.1,1036.3 507.6,1036.6 509.1,1036.4 510.6,1036.8 512.1,1036.8 513.6,1036.2 515.1,1036.2 516.6,1036.5 518.1,1036.7 519.6,1036.0 521.1,1036.8 522.6,1036.2 524.1,1036.0 525.6,1036.1 527.1,1036.7 528.6,1036.1 530.1,1036.0 531.6,1036.5 533.1,1036.8 534.6,1036.2 536.1,1036.4 537.6,1036.3 539.1,1036.8 540.6,1036.7 541.0,1036.4 542.1,1036.9 543.6,1036.1 545.1,1036.3 546.6,1036.5 548.1,1036.8 549.6,1036.7 551.1,1036.5 552.6,1037.1 554.1,1037.2 555.6,1037.2 557.1,1036.9 558.6,1037.3 560.1,1036.9 561.6,1036.9 563.1,1036.9 564.6,1037.7 566.1,1038.0 567.6,1037.4 569.1,1038.0 570.6,1037.7 572.1,1038.3 573.6,1037.8 575.1,1038.3 576.6,1038.7 578.1,1039.0 579.6,1038.8 581.1,1039.0 582.6,1038.8 584.1,1038.7 585.6,1039.5 587.1,1038.9 588.6,1039.7 590.1,1039.3 591.6,1039.2 593.1,1039.4 594.6,1039.9 595.2,1039.7 596.1,1039.6 597.6,1039.9 599.1,1040.5 600.6,1040.5 602.1,1040.3 603.6,1040.3 605.1,1041.1 606.6,1040.7 608.1,1040.9 609.6,1041.2 611.1,1041.0 612.6,1041.2 614.1,1041.1 615.6,1041.6 617.1,1041.7 618.6,1041.5 620.1,1041.9 621.6,1041.5 623.1,1041.7 624.6,1042.1 626.1,1041.7 627.6,1042.6 629.1,1041.8 630.6,1042.8 632.1,1042.3 633.6,1043.0 635.1,1042.5 636.6,1043.1 638.1,1042.9 639.6,1042.9 641.1,1043.1 642.6,1043.7 644.1,1043.7 645.6,1043.2 647.1,1043.3 648.6,1044.0 650.1,1043.3 651.6,1043.4 653.1,1044.1 654.6,1043.7 656.1,1043.6 657.6,1044.3 659.1,1043.9 660.6,1044.1 662.1,1044.7 663.6,1045.0 665.1,1044.6 666.6,1044.7 668.1,1044.4 669.6,1044.9 671.1,1044.7 672.6,1045.1 674.1,1044.8 675.6,1045.0 676.5,1045.7 677.1,1045.2 678.6,1045.7 680.1,1045.7 681.6,1045.2 683.1,1045.6 684.6,1045.7 686.1,1045.8 687.6,1045.6 689.1,1045.7 690.6,1046.3 692.1,1046.2 693.6,1046.1 695.1,1046.2 696.6,1046.2 698.1,1046.4 699.6,1046.5 701.1,1046.9 702.6,1046.1 704.1,1046.7 705.6,1046.3 707.1,1046.3 708.6,1047.3 710.1,1047.0 711.6,1046.9 713.1,1047.3 714.6,1047.1 716.1,1047.5 717.6,1047.6 719.1,1047.7 720.6,1046.9 722.1,1047.3 723.6,1047.1 725.1,1047.7 726.6,1047.7 728.1,1047.5 729.6,1047.3 731.1,1047.7 732.6,1047.4 734.1,1048.1 735.6,1047.9 737.1,1047.6 738.6,1048.3 740.1,1047.8 741.6,1048.2 743.1,1048.4 744.6,1048.2 746.1,1048.0 747.6,1048.5 749.1,1048.7 750.6,1048.9 752.1,1048.3 753.6,1048.6 755.1,1048.9 756.6,1048.4 758.1,1048.4 759.6,1049.3 761.1,1048.8 762.6,1049.4 764.1,1049.4 765.6,1049.4 767.1,1049.7 768.6,1049.0 770.0,1049.3 770.1,1049.1 771.6,1049.1 773.1,1049.3 774.6,1049.4 776.1,1049.4 777.6,1049.8 779.1,1050.2 780.6,1049.9 782.1,1049.6 783.6,1049.7 785.1,1050.4 786.6,1050.0 788.1,1049.8 789.6,1050.7 791.1,1050.9 792.6,1050.6 794.1,1050.1 795.6,1050.4 797.1,1050.9 798.6,1051.0 800.1,1050.5 801.6,1051.4 803.1,1050.7 804.6,1051.6 806.1,1051.3 807.6,1051.2 809.1,1051.7 810.6,1051.7 812.1,1051.1 813.6,1051.3 815.1,1052.1 816.6,1052.2 818.1,1052.2 819.6,1051.4 821.1,1052.0 822.6,1051.8 824.1,1052.2 825.6,1051.8 827.1,1052.5 828.6,1052.0 830.1,1052.2 831.6,1052.2 833.1,1053.0 834.6,1052.5 836.1,1052.5 837.6,1052.6 839.1,1052.8 840.6,1053.0 842.1,1053.2 843.6,1053.0 845.1,1053.4 846.6,1053.4 848.1,1053.3 849.6,1053.1 851.1,1053.7 851.3,1053.4 852.6,1053.4 854.1,1053.5 855.6,1054.0 857.1,1053.9 858.6,1054.2 860.1,1053.4 861.6,1053.7 863.1,1053.9 864.6,1053.9 866.1,1054.5 867.6,1053.7 869.1,1053.9 870.6,1054.7 872.1,1054.0 873.6,1055.0 875.1,1054.5 876.6,1055.0 878.1,1054.9 879.6,1054.9 881.1,1054.6 882.6,1055.1 884.1,1054.7 885.6,1054.6 887.1,1054.9 888.6,1055.1 890.1,1054.8 891.6,1055.2 893.1,1055.4 894.6,1055.6 896.1,1055.6 897.6,1055.1 899.1,1055.9 900.6,1055.2 902.1,1055.7 903.6,1055.4 905.1,1055.8 906.6,1055.5 908.1,1056.3 909.6,1056.4 911.1,1055.8 912.6,1055.7 914.1,1056.3 915.6,1056.3 917.1,1056.4 918.6,1056.1 920.1,1056.7 921.6,1056.0 923.1,1056.2 924.6,1057.0 926.1,1056.2 927.6,1056.3 929.1,1056.8 930.6,1056.4 932.1,1056.9 932.6,1056.3 933.6,1056.5 935.1,1057.1 936.6,1056.9 938.1,1056.8 939.6,1057.1 941.1,1056.5 942.6,1056.6 944.1,1056.7 945.6,1056.6 947.1,1056.8 948.6,1057.2 950.1,1056.9 951.6,1057.4 953.1,1056.8 954.6,1057.1 956.1,1057.5 957.6,1057.1 959.1,1057.4 960.6,1057.5 962.1,1057.6 963.6,1056.9 965.1,1057.6 966.6,1057.1 968.1,1056.9 969.6,1057.0 971.1,1057.6 972.6,1057.1 974.1,1057.6 975.6,1057.6 977.1,1057.3 978.6,1057.9 980.1,1057.1 981.6,1057.8 983.1,1057.5 984.6,1057.6 986.1,1057.8 986.8,1057.5 987.6,1057.8 989.1,1057.1 990.6,1057.4 992.1,1057.9 993.6,1057.2 995.1,1057.8 996.6,1057.6 998.1,1057.3 999.6,1057.6 1001.1,1057.2 1002.6,1057.1 1004.1,1057.4 1005.6,1057.2 1007.1,1056.8 1008.6,1056.9 1010.1,1057.0 1011.6,1056.7 1013.1,1056.7 1014.6,1056.6 1016.1,1057.1 1017.6,1056.3 1019.1,1056.8 1020.6,1056.5 1022.1,1056.9 1023.6,1056.1 1025.1,1056.0 1026.6,1056.7 1028.1,1056.4 1029.6,1056.3 1031.1,1056.2 1032.6,1056.2 1034.1,1055.7 1035.6,1056.1 1037.1,1055.4 1038.6,1055.6 1040.1,1055.6 1041.0,1055.5 1041.6,1055.1 1043.1,1055.0 1044.6,1055.5 1046.1,1055.5 1047.6,1055.3 1049.1,1055.1 1050.6,1054.8 1052.1,1054.9 1053.6,1055.1 1055.1,1055.2 1056.6,1054.6 1058.1,1054.8 1059.6,1054.0 1061.1,1054.1 1062.6,1054.3 1064.1,1054.4 1065.6,1054.4 1067.1,1053.7 1068.6,1053.4 1070.1,1054.0 1071.6,1053.8 1073.1,1053.6 1074.6,1052.9 1076.1,1053.6 1077.6,1053.3 1079.1,1053.1 1080.6,1052.6 1082.1,1052.5 1083.6,1052.7 1085.1,1052.4 1086.6,1051.7 1088.1,1052.4 1089.6,1051.8 1091.1,1051.5 1092.6,1051.9 1094.1,1050.9 1095.2,1051.5 1095.6,1051.0 1097.1,1050.9 1098.6,1051.2 1100.1,1050.7 1101.6,1051.0 1103.1,1050.6 1104.6,1050.5 1106.1,1050.4 1107.6,1049.8 1109.1,1049.7 1110.6,1049.3 1112.1,1049.1 1113.6,1048.7 1115.1,1048.2 1116.6,1048.3 1118.1,1048.7 1119.6,1048.1 1121.1,1048.1 1122.6,1047.8 1124.1,1047.5 1125.6,1046.7 1127.1,1046.5 1128.6,1046.8 1130.1,1046.6 1131.6,1046.5 1133.1,1045.6 1134.6,1045.0 1136.1,1045.6 1137.6,1045.0 1139.1,1044.5 1140.6,1044.0 1142.1,1043.7 1143.6,1043.5 1145.1,1043.7 1146.6,1043.4 1148.1,1042.8 1149.4,1043.0 1149.6,1042.9 1151.1,1041.9 1152.6,1042.3 1154.1,1041.5 1155.6,1041.6 1157.1,1041.1 1158.6,1040.2 1160.1,1040.0 1161.6,1040.4 1163.1,1039.2 1164.6,1039.3 1166.1,1039.0 1167.6,1038.9 1169.1,1037.8 1170.6,1037.7 1172.1,1036.9 1173.6,1036.6 1175.1,1036.6 1176.5,1035.6 1176.6,1036.1 1178.1,1035.7 1179.6,1034.8 1181.1,1034.1 1182.6,1034.1 1184.1,1033.0 1185.6,1033.0 1187.1,1031.6 1188.6,1031.3 1190.1,1030.6 1191.6,1029.7 1193.1,1028.9 1194.6,1028.3 1196.1,1027.4 1197.6,1026.7 1199.1,1025.7 1200.6,1025.4 1202.1,1024.3 1203.6,1024.1 1203.6,1023.4 1205.1,1022.6 1206.6,1022.1 1208.1,1020.9 1209.6,1020.4 1211.1,1019.1 1212.6,1017.5 1214.1,1015.5 1214.4,1015.3 1215.6,1008.7 1217.1,999.2 1217.2,999.6 1218.6,995.3 1220.1,992.4 1221.6,990.5 1223.1,988.7 1224.6,987.0 1225.3,985.7 1226.1,984.8 1227.6,981.7 1229.1,979.4 1230.6,978.1 1232.1,975.6 1233.6,973.1 1235.1,971.3 1236.1,969.0 1236.6,968.5 1238.1,965.8 1239.6,962.6 1241.1,960.4 1241.9,959.2 1242.6,958.8 1244.1,956.9 1245.6,955.9 1247.1,954.0 1248.6,952.7 1250.1,951.9 1251.6,951.0 1252.8,949.9 1253.1,949.3 1254.6,948.3 1256.1,947.1 1257.6,946.9 1259.1,945.4 1260.6,944.5 1262.1,943.5 1263.6,941.6 1265.1,940.4 1265.1,940.9 1266.6,939.2 1268.1,937.6 1269.6,936.1 1271.1,934.3 1272.6,932.7 1274.1,930.7 1275.6,928.7 1276.0,928.1 1277.1,926.6 1278.6,923.7 1280.1,920.2 1281.6,917.1 1282.2,915.9 1283.1,914.0 1284.6,910.7 1286.1,907.3 1287.6,904.2 1288.4,902.4 1289.1,900.0 1290.6,896.0 1292.1,891.3 1293.0,888.4 1293.6,886.2 1295.1,880.1 1296.1,875.6 1296.6,872.5 1298.1,860.2 1298.4,858.9 1299.6,855.0 1301.1,852.0 1301.5,851.6 1302.6,852.1 1304.1,852.5 1305.6,852.9 1306.9,853.3 1307.1,853.2 1308.6,855.1 1310.1,858.8 1311.6,861.7 1311.6,861.8 1313.1,865.5 1314.6,868.6 1316.1,872.4 1316.2,872.6 1317.6,876.7 1319.1,881.0 1320.6,884.6 1320.9,885.1 1322.1,887.9 1323.6,890.3 1325.1,893.0 1326.6,895.6 1327.1,895.4 1328.1,896.7 1329.6,898.8 1331.1,900.5 1332.6,901.6 1334.1,902.7 1334.8,903.4 1335.6,904.2 1337.1,904.7 1338.6,905.7 1340.1,906.7 1341.6,907.1 1343.1,907.2 1344.1,907.7 1344.6,907.7 1346.1,906.6 1347.6,906.4 1349.1,905.0 1350.3,903.4 1350.6,903.3 1352.1,900.1 1353.6,896.5 1354.9,894.4 1355.1,893.8 1356.6,892.2 1358.1,889.9 1359.6,888.9 1361.1,886.7 1362.6,885.1 1364.1,883.7 1365.6,882.5 1365.8,881.6 1367.1,880.3 1368.6,878.5 1370.1,876.9 1371.6,875.3 1373.1,873.5 1374.6,871.5 1375.0,871.1 1376.1,870.2 1377.6,868.2 1379.1,866.3 1380.6,864.0 1382.1,862.6 1383.6,861.3 1384.3,860.3 1385.1,859.4 1386.6,858.3 1388.1,856.6 1389.6,855.7 1391.1,854.3 1392.6,853.8 1394.1,852.5 1395.6,851.0 1396.7,849.2 1397.1,849.3 1398.6,846.4 1400.1,843.9 1401.6,841.4 1403.1,839.1 1404.5,836.9 1404.6,836.5 1406.1,834.8 1407.6,831.8 1409.1,830.2 1410.6,827.5 1412.1,826.3 1412.2,826.7 1413.6,824.6 1415.1,823.5 1416.6,822.7 1418.1,821.5 1419.6,821.2 1421.1,820.8 1421.5,821.0 1422.6,821.2 1424.1,821.1 1425.6,821.2 1427.1,820.9 1428.6,820.3 1430.1,820.5 1430.8,821.2 1431.6,820.6 1433.1,821.9 1434.6,824.2 1436.1,826.1 1437.0,828.2 1437.6,828.4 1439.1,832.1 1440.6,836.4 1442.1,839.7 1443.2,843.0 1443.6,844.3 1445.1,849.3 1446.6,855.7 1448.1,861.5 1449.3,866.4 1449.6,867.9 1451.1,874.6 1452.6,883.1 1454.0,889.7 1454.1,890.2 1455.6,898.1 1457.1,905.8 1458.6,913.0 1458.6,913.1 1460.1,920.2 1461.6,926.7 1463.1,933.7 1464.6,939.9 1464.8,941.0 1466.1,946.5 1467.6,953.0 1469.1,959.1 1470.6,965.8 1471.0,967.1 1472.1,971.3 1473.6,976.8 1475.1,982.6 1476.6,988.0 1477.2,990.6 1478.1,994.4 1479.6,1000.9 1480.0,1002.8 1481.1,1006.7 1482.6,1011.4 1484.1,1014.5 1485.6,1018.7 1486.2,1019.3 1487.1,1020.7 1488.6,1023.7 1490.1,1026.0 1491.6,1027.9 1493.1,1030.5 1494.6,1031.8 1496.1,1033.5 1497.6,1034.7 1498.6,1036.4 1499.1,1036.6 1500.6,1037.4 1502.1,1039.3 1503.6,1040.0 1505.1,1040.7 1506.6,1041.6 1508.1,1043.2 1509.6,1043.3 1511.0,1044.6 1511.1,1044.6 1512.6,1044.7 1514.1,1045.5 1515.6,1046.2 1517.1,1046.6 1518.6,1047.5 1520.1,1047.2 1521.6,1047.6 1523.1,1048.1 1524.6,1048.8 1526.1,1049.1 1527.5,1049.8 1527.6,1049.9 1529.1,1050.1 1530.6,1050.3 1532.1,1049.8 1533.6,1050.5 1535.1,1050.7 1536.6,1051.1 1538.1,1051.5 1539.6,1051.1 1541.1,1051.7 1542.6,1051.5 1544.0,1052.0" stroke="#0000ff" stroke-width="2"/>
<path d="M278.1,1005.5 279.6,1005.6 281.1,1006.7 282.6,1006.6 284.1,1007.4 285.6,1007.6 287.1,1008.7 288.6,1009.5 290.1,1009.7 291.6,1010.8 293.1,1011.3 294.6,1011.5 296.1,1012.4 297.1,1013.0 297.6,1013.4 299.1,1014.2 300.6,1014.2 302.1,1015.6 303.6,1015.8 305.1,1017.5 306.6,1017.7 308.1,1019.2 309.6,1019.6 311.1,1021.2 312.6,1021.6 314.1,1022.3 315.6,1023.2 316.1,1023.7 317.1,1024.1 318.6,1025.3 320.1,1025.7 321.6,1026.8 323.1,1028.3 324.6,1029.0 326.1,1029.5 327.6,1030.3 329.1,1031.1 330.6,1032.0 332.1,1032.9 332.3,1033.3 333.6,1034.1 335.1,1034.7 336.6,1034.9 338.1,1035.4 339.6,1036.4 341.1,1037.0 342.6,1037.7 344.1,1038.1 345.6,1038.9 347.1,1038.9 348.6,1039.5 350.1,1040.4 351.3,1040.9 351.6,1040.8 353.1,1041.2 354.6,1041.5 356.1,1041.4 357.6,1042.0 359.1,1042.1 360.6,1042.3 362.1,1042.4 363.6,1043.2 365.1,1042.6 366.6,1043.6 368.1,1043.8 369.6,1043.6 371.1,1044.1 372.6,1043.8 373.0,1044.0 374.1,1044.1 375.6,1043.9 377.1,1044.1 378.6,1044.2 380.1,1044.5 381.6,1044.8 383.1,1044.9 384.6,1044.9 386.1,1044.9 387.6,1045.0 389.1,1044.9 390.6,1044.8 392.1,1045.0 393.6,1045.4 395.1,1044.9 396.6,1045.4 397.4,1045.1 398.1,1045.0 399.6,1045.3 401.1,1045.1 402.6,1044.8 404.1,1045.3 405.6,1045.3 407.1,1044.4 408.6,1044.9 410.1,1044.4 411.6,1044.4 413.1,1044.6 414.6,1044.2 416.1,1043.5 417.6,1043.3 419.1,1043.5 420.6,1043.8 422.1,1043.0 423.6,1043.0 425.1,1042.5 426.6,1043.0 428.1,1042.4 429.6,1042.2 431.1,1042.0 432.6,1042.4 432.6,1042.0 434.1,1041.5 435.6,1042.0 437.1,1041.3 438.6,1041.1 440.1,1041.0 441.6,1041.1 443.1,1041.3 444.6,1040.5 446.1,1040.5 447.6,1040.4 449.1,1040.6 450.6,1040.4 452.1,1039.6 453.6,1039.4 455.1,1039.3 456.6,1038.8 458.1,1039.4 459.6,1039.3 461.1,1038.6 462.6,1038.8 464.1,1038.6 465.6,1038.2 467.1,1038.5 468.6,1038.5 470.1,1038.4 471.6,1037.7 473.1,1037.4 473.3,1038.0 474.6,1038.1 476.1,1037.6 477.6,1037.3 479.1,1037.8 480.6,1037.7 482.1,1037.3 483.6,1037.6 485.1,1037.0 486.6,1036.6 488.1,1036.6 489.6,1036.9 491.1,1036.7 492.6,1036.3 494.1,1036.5 495.6,1037.0 497.1,1036.3 498.6,1036.3 500.1,1037.0 501.6,1036.1 503.1,1036.4 504.6,1036.1 506.1,1036.6 507.6,1035.9 509.1,1036.7 510.6,1036.0 512.1,1036.7 513.6,1036.4 513.9,1036.3 515.1,1036.4 516.6,1036.3 518.1,1036.2 519.6,1036.8 521.1,1036.3 522.6,1036.4 524.1,1036.8 525.6,1036.0 527.1,1036.0 528.6,1036.9 530.1,1036.6 531.6,1036.3 533.1,1037.0 534.6,1036.5 536.1,1036.5 537.6,1036.3 539.1,1036.6 540.6,1036.4 542.1,1036.8 543.6,1036.4 545.1,1036.8 546.6,1036.6 548.1,1036.6 549.6,1036.4 551.1,1036.4 552.6,1036.7 554.1,1037.3 555.6,1037.0 557.1,1036.5 558.6,1037.0 560.1,1036.8 561.6,1036.6 563.1,1036.9 564.6,1036.8 566.1,1037.4 567.6,1037.4 568.1,1037.0 569.1,1037.5 570.6,1037.2 572.1,1037.8 573.6,1037.7 575.1,1037.3 576.6,1037.5 578.1,1037.6 579.6,1037.8 581.1,1037.4 582.6,1037.6 584.1,1037.8 585.6,1038.1 587.1,1037.9 588.6,1038.7 590.1,1038.1 591.6,1038.9 593.1,1038.4 594.6,1038.9 596.1,1038.6 597.6,1039.2 599.1,1038.9 600.6,1039.5 602.1,1039.2 603.6,1039.9 605.1,1039.4 606.6,1040.4 608.1,1040.1 609.6,1040.0 611.1,1039.9 612.6,1040.3 614.1,1041.1 615.6,1040.6 617.1,1041.2 618.6,1040.5 620.1,1040.9 621.6,1041.6 622.3,1041.1 623.1,1040.9 624.6,1041.7 626.1,1041.8 627.6,1041.4 629.1,1041.8 630.6,1042.3 632.1,1041.8 633.6,1041.7 635.1,1042.5 636.6,1042.3 638.1,1042.5 639.6,1042.7 641.1,1042.2 642.6,1042.4 644.1,1043.0 645.6,1043.2 647.1,1042.9 648.6,1043.1 650.1,1043.7 651.6,1043.5 653.1,1043.9 654.6,1043.8 656.1,1043.8 657.6,1043.6 659.1,1043.8 660.6,1043.9 662.1,1044.0 663.6,1044.3 665.1,1043.8 666.6,1044.0 668.1,1044.6 669.6,1044.6 671.1,1044.4 672.6,1044.3 674.1,1044.5 675.6,1045.4 677.1,1045.0 678.6,1044.8 680.1,1044.8 681.6,1045.6 683.1,1045.1 684.6,1045.5 686.1,1045.6 687.6,1045.8 689.1,1046.3 690.6,1045.9 692.1,1045.6 693.6,1046.3 695.1,1046.4 696.6,1046.6 698.1,1045.9 699.6,1046.9 701.1,1046.7 702.6,1046.8 703.6,1046.9 704.1,1046.8 705.6,1046.8 707.1,1046.4 708.6,1047.0 710.1,1047.2 711.6,1047.2 713.1,1047.0 714.6,1047.2 716.1,1047.7 717.6,1047.6 719.1,1047.9 720.6,1047.6 722.1,1047.7 723.6,1047.5 725.1,1047.9 726.6,1047.4 728.1,1048.0 729.6,1048.3 731.1,1048.3 732.6,1048.2 734.1,1048.2 735.6,1048.0 737.1,1048.2 738.6,1048.0 740.1,1048.8 741.6,1049.0 743.1,1048.5 744.6,1048.3 746.1,1048.9 747.6,1048.8 749.1,1049.4 750.6,1049.2 752.1,1048.6 753.6,1049.2 755.1,1049.1 756.6,1049.6 758.1,1049.5 759.6,1049.0 761.1,1049.5 762.6,1050.0 764.1,1049.7 765.6,1049.5 767.1,1049.3 768.6,1050.1 770.0,1049.5 770.1,1050.0 771.6,1050.4 773.1,1050.4 774.6,1049.6 776.1,1050.2 777.6,1050.8 779.1,1050.2 780.6,1050.6 782.1,1050.9 783.6,1050.5 785.1,1050.4 786.6,1051.1 788.1,1051.2 789.6,1050.8 791.1,1051.1 792.6,1051.3 794.1,1050.6 795.6,1051.3 797.1,1051.1 798.6,1051.4 800.1,1051.7 801.6,1051.2 803.1,1051.1 804.6,1051.6 806.1,1052.1 807.6,1051.5 809.1,1052.2 810.6,1052.3 812.1,1052.3 813.6,1052.1 815.1,1052.1 816.6,1052.3 818.1,1052.5 819.6,1051.9 821.1,1052.6 822.6,1052.1 824.1,1052.6 825.6,1052.5 827.1,1052.8 828.6,1052.5 830.1,1052.4 831.6,1053.0 833.1,1052.8 834.6,1053.2 836.1,1052.8 837.6,1053.1 839.1,1053.5 840.6,1052.9 842.1,1053.4 843.6,1053.7 845.1,1053.9 846.6,1053.1 848.1,1053.5 849.6,1053.9 851.1,1053.7 851.3,1054.0 852.6,1053.4 854.1,1053.6 855.6,1053.4 857.1,1054.3 858.6,1053.6 860.1,1053.8 861.6,1054.2 863.1,1053.7 864.6,1054.2 866.1,1054.4 867.6,1054.0 869.1,1054.8 870.6,1054.8 872.1,1054.4 873.6,1055.0 875.1,1054.8 876.6,1055.0 878.1,1055.4 879.6,1054.5 881.1,1055.1 882.6,1055.5 884.1,1055.6 885.6,1055.1 887.1,1055.4 888.6,1055.2 890.1,1055.5 891.6,1055.7 893.1,1055.9 894.6,1055.8 896.1,1055.6 897.6,1055.6 899.1,1056.1 900.6,1055.5 902.1,1055.6 903.6,1055.8 905.1,1055.7 906.6,1056.6 908.1,1056.7 909.6,1056.3 911.1,1056.4 912.6,1056.4 914.1,1056.1 915.6,1056.3 917.1,1056.5 918.6,1056.2 920.1,1057.0 921.6,1056.5 923.1,1056.7 924.6,1056.5 926.1,1056.6 927.6,1057.2 929.1,1056.7 930.6,1057.1 932.1,1057.3 932.6,1057.0 933.6,1057.3 935.1,1056.9 936.6,1057.3 938.1,1056.8 939.6,1057.4 941.1,1056.7 942.6,1057.1 944.1,1057.7 945.6,1057.6 947.1,1057.4 948.6,1057.2 950.1,1057.3 951.6,1057.5 953.1,1057.2 954.6,1057.5 956.1,1057.8 957.6,1057.2 959.1,1057.6 960.6,1057.9 962.1,1057.4 963.6,1057.9 965.1,1057.1 966.6,1057.4 968.1,1058.0 969.6,1057.8 971.1,1058.2 972.6,1057.7 974.1,1057.4 975.6,1057.3 977.1,1058.2 978.6,1057.3 980.1,1058.1 981.6,1057.9 983.1,1058.2 984.6,1058.3 986.1,1057.7 986.8,1057.5 987.6,1058.1 989.1,1057.7 990.6,1057.3 992.1,1058.2 993.6,1057.8 995.1,1057.9 996.6,1057.3 998.1,1057.6 999.6,1057.9 1001.1,1058.1 1002.6,1057.4 1004.1,1057.4 1005.6,1057.8 1007.1,1057.1 1008.6,1057.1 1010.1,1057.6 1011.6,1057.6 1013.1,1057.5 1014.6,1056.7 1016.1,1057.0 1017.6,1057.4 1019.1,1057.1 1020.6,1056.5 1022.1,1057.0 1023.6,1056.5 1025.1,1056.3 1026.6,1056.3 1028.1,1057.0 1029.6,1056.2 1031.1,1056.3 1032.6,1056.5 1034.1,1055.8 1035.6,1056.4 1037.1,1055.7 1038.6,1056.4 1040.1,1055.8 1041.0,1056.1 1041.6,1056.0 1043.1,1055.4 1044.6,1055.3 1046.1,1055.9 1047.6,1055.4 1049.1,1055.3 1050.6,1055.1 1052.1,1055.5 1053.6,1054.7 1055.1,1054.9 1056.6,1055.2 1058.1,1054.4 1059.6,1054.5 1061.1,1054.6 1062.6,1054.3 1064.1,1054.7 1065.6,1053.7 1067.1,1053.6 1068.6,1053.4 1070.1,1053.5 1071.6,1053.0 1073.1,1053.1 1074.6,1053.7 1076.1,1052.7 1077.6,1052.6 1079.1,1053.1 1080.6,1052.5 1082.1,1052.7 1083.6,1052.7 1085.1,1052.0 1086.6,1052.1 1088.1,1051.7 1089.6,1051.0 1091.1,1051.5 1092.6,1050.7 1094.1,1050.6 1095.2,1050.5 1095.6,1050.9 1097.1,1050.0 1098.6,1050.2 1100.1,1050.4 1101.6,1050.0 1103.1,1049.7 1104.6,1049.8 1106.1,1049.0 1107.6,1048.5 1109.1,1048.4 1110.6,1048.1 1112.1,1048.3 1113.6,1048.1 1115.1,1047.5 1116.6,1046.9 1118.1,1046.9 1119.6,1047.0 1121.1,1046.3 1122.6,1046.4 1124.1,1046.2 1125.6,1045.1 1127.1,1045.5 1128.6,1044.4 1130.1,1044.4 1131.6,1043.9 1133.1,1044.2 1134.6,1043.3 1136.1,1043.0 1137.6,1043.2 1139.1,1042.1 1140.6,1041.8 1142.1,1041.6 1143.6,1041.0 1145.1,1040.9 1146.6,1040.2 1148.1,1040.0 1149.4,1040.1 1149.6,1039.8 1151.1,1039.2 1152.6,1038.9 1154.1,1038.4 1155.6,1038.6 1157.1,1038.0 1158.6,1037.0 1160.1,1036.5 1161.6,1036.4 1163.1,1035.9 1164.6,1035.7 1166.1,1035.0 1167.6,1034.4 1169.1,1034.2 1170.6,1033.7 1172.1,1033.2 1173.6,1033.1 1175.1,1032.3 1176.5,1032.0 1176.6,1032.2 1178.1,1031.4 1179.6,1031.1 1181.1,1030.3 1182.6,1029.9 1184.1,1029.0 1185.6,1028.5 1187.1,1028.1 1188.6,1027.5 1190.1,1027.0 1191.6,1026.7 1193.1,1025.7 1194.6,1025.3 1196.1,1025.1 1197.6,1024.1 1199.1,1023.5 1200.6,1023.4 1202.1,1022.4 1203.6,1022.8 1203.6,1021.8 1205.1,1021.3 1206.6,1021.3 1208.1,1021.0 1209.6,1020.1 1211.1,1019.9 1212.6,1019.6 1214.1,1018.9 1215.6,1019.1 1217.1,1018.0 1218.6,1018.2 1220.1,1016.9 1221.6,1017.3 1223.1,1016.4 1224.6,1015.8 1226.1,1014.9 1227.6,1013.9 1229.1,1013.7 1230.6,1013.3 1230.7,1013.0 1232.1,1012.1 1233.6,1010.4 1235.1,1009.3 1236.6,1007.8 1238.1,1005.4 1238.8,1004.8 1239.6,1003.5 1241.1,1001.6 1242.6,999.2 1244.1,996.9 1245.6,995.3 1247.1,992.1 1248.6,990.2 1250.1,987.4 1251.6,984.7 1252.4,982.8 1253.1,981.8 1254.6,978.0 1256.1,974.3 1257.4,971.7 1257.6,971.4 1259.1,969.2 1260.6,966.9 1262.1,964.6 1263.6,962.6 1265.1,960.9 1266.6,959.4 1266.7,959.8 1268.1,957.8 1269.6,957.2 1271.1,955.4 1272.6,955.4 1274.1,954.3 1275.6,953.4 1276.0,953.5 1277.1,952.7 1278.6,951.6 1280.1,951.4 1281.6,951.5 1283.1,950.1 1284.6,949.6 1286.1,950.0 1287.6,948.4 1288.4,948.0 1289.1,947.6 1290.6,947.4 1292.1,945.3 1293.6,944.7 1295.1,943.2 1296.6,941.6 1297.6,940.7 1298.1,940.8 1299.6,938.5 1301.1,937.0 1302.6,935.6 1304.1,935.0 1305.4,934.0 1305.6,934.4 1307.1,933.5 1308.6,932.4 1310.1,932.6 1311.6,931.7 1313.1,931.1 1313.1,931.0 1314.6,930.7 1316.1,930.4 1317.6,930.4 1319.1,930.0 1320.6,929.2 1322.1,928.4 1322.4,928.1 1323.6,928.2 1325.1,927.0 1326.6,925.3 1328.1,924.1 1329.6,922.5 1331.1,921.7 1331.7,920.7 1332.6,919.6 1334.1,917.8 1335.6,916.3 1337.1,913.8 1338.6,912.7 1340.1,910.6 1341.6,909.0 1342.5,908.5 1343.1,908.2 1344.6,906.5 1346.1,905.7 1347.6,905.7 1349.1,904.8 1350.3,903.9 1350.6,903.3 1352.1,901.8 1353.6,901.0 1355.1,898.4 1356.6,897.5 1358.1,894.7 1359.6,893.8 1361.1,891.8 1362.6,889.4 1362.7,890.1 1364.1,888.3 1365.6,886.6 1367.1,884.9 1368.6,883.1 1370.1,880.8 1371.6,879.2 1373.1,877.5 1373.5,876.9 1374.6,876.2 1376.1,874.5 1377.6,873.4 1379.1,872.6 1380.6,870.6 1382.1,869.4 1383.6,868.9 1385.1,867.3 1385.9,866.8 1386.6,865.6 1388.1,864.2 1389.6,861.8 1391.1,860.6 1392.6,858.6 1394.1,856.3 1395.6,855.0 1396.7,853.7 1397.1,853.6 1398.6,852.7 1400.1,851.2 1401.6,850.0 1403.1,849.2 1404.6,848.4 1406.0,847.8 1406.1,848.0 1407.6,848.2 1409.1,847.8 1410.6,848.0 1412.1,848.0 1413.6,847.5 1415.1,847.4 1416.6,848.0 1416.8,847.3 1418.1,848.2 1419.6,848.9 1421.1,849.9 1422.6,851.6 1424.1,853.5 1424.6,853.7 1425.6,855.5 1427.1,857.5 1428.6,859.1 1430.1,861.2 1431.6,863.6 1432.3,865.1 1433.1,866.5 1434.6,869.1 1436.1,872.2 1437.6,876.4 1438.5,879.0 1439.1,881.0 1440.6,886.0 1442.1,893.3 1443.2,897.2 1443.6,899.3 1445.1,906.8 1446.6,914.2 1447.8,921.0 1448.1,922.2 1449.6,930.0 1451.1,937.2 1452.4,943.9 1452.6,944.3 1454.1,952.5 1455.6,960.6 1457.1,967.4 1457.1,967.1 1458.6,973.9 1460.1,979.7 1461.6,985.1 1463.1,990.1 1463.3,990.1 1464.6,994.6 1466.1,998.0 1467.6,1002.5 1469.1,1006.2 1470.6,1009.3 1471.0,1010.3 1472.1,1013.1 1473.6,1016.7 1475.1,1020.5 1476.6,1024.3 1478.1,1027.0 1479.6,1029.5 1480.0,1030.3 1481.1,1032.4 1482.6,1034.5 1484.1,1036.2 1485.6,1038.2 1487.1,1039.3 1488.6,1040.7 1490.1,1042.6 1491.6,1043.4 1493.1,1045.6 1494.5,1045.8 1494.6,1046.7 1496.1,1047.2 1497.6,1048.8 1499.1,1050.3 1500.6,1051.0 1502.1,1052.7 1503.6,1053.3 1505.1,1054.9 1506.6,1056.0 1508.1,1056.5 1509.6,1057.8 1511.0,1058.5 1511.1,1058.5 1512.6,1059.2 1514.1,1060.4 1515.6,1061.2 1517.1,1062.6 1518.6,1062.6 1520.1,1063.8 1521.6,1064.4 1523.1,1065.5 1524.6,1065.8 1526.1,1066.5 1527.5,1066.6 1527.6,1067.4 1529.1,1067.4 1530.6,1067.6 1532.1,1068.2 1533.6,1068.8 1535.1,1069.4 1536.6,1070.0 1538.1,1070.3 1539.6,1070.6 1541.1,1071.5 1542.6,1071.3 1544.0,1072.1" stroke="#0000ff" stroke-width="2"/>
<path d="M277.7,787.7 279.2,786.4 280.7,785.4 282.2,783.5 283.7,782.7 285.2,783.2 285.5,781.9 286.7,781.6 288.2,782.4 289.7,781.6 291.2,780.9 292.7,780.8 294.2,780.7 295.7,780.0 297.2,779.6 298.7,780.4 300.2,780.2 301.0,779.9 301.7,780.4 303.2,780.0 304.7,780.6 306.2,779.5 307.7,780.0 309.2,779.9 310.7,779.8 312.2,780.1 313.7,779.6 315.2,780.4 316.7,780.5 318.2,779.5 319.7,780.0 321.2,779.8 322.7,779.5 324.2,780.7 325.7,780.1 327.2,779.7 328.7,780.4 330.2,779.8 331.7,780.8 333.2,779.9 334.7,779.7 336.2,779.9 337.7,780.2 339.2,780.4 340.7,781.0 342.2,780.8 343.7,780.3 345.2,779.9 346.7,780.1 348.2,781.3 349.7,780.6 351.2,781.0 352.7,780.1 354.2,780.1 355.7,781.3 357.2,781.0 358.7,780.6 360.2,780.7 361.7,780.4 363.2,780.5 364.7,780.4 366.2,781.5 367.7,781.0 369.2,780.6 370.7,781.5 372.2,780.8 373.2,780.6 373.7,781.4 375.2,781.8 376.7,780.6 378.2,781.8 379.7,780.9 381.2,780.8 382.7,780.8 384.2,781.2 385.7,781.8 387.2,781.5 388.7,782.1 390.2,781.2 391.7,781.4 393.2,781.4 394.7,782.4 396.2,782.4 397.7,781.6 399.2,781.8 400.7,781.7 402.2,782.3 403.7,781.4 405.2,781.4 406.7,782.0 408.2,781.8 409.7,782.7 411.2,782.6 412.7,782.3 414.2,782.5 415.7,782.6 417.2,782.8 418.7,783.1 420.2,782.0 421.7,782.7 423.2,782.1 424.7,782.6 426.2,783.1 427.7,783.3 429.2,783.2 430.7,782.2 432.2,782.7 433.7,782.5 435.2,783.7 436.7,782.6 438.2,782.7 439.7,783.0 441.2,782.6 442.7,783.8 444.2,783.5 445.7,782.9 447.2,783.4 448.7,782.9 450.2,783.7 451.7,783.2 453.2,783.0 454.7,783.2 456.2,783.8 457.7,784.0 459.2,783.6 460.7,784.1 462.2,783.8 463.7,783.5 465.2,783.9 466.7,784.0 468.2,784.8 469.7,783.8 471.2,783.8 472.7,784.5 474.2,785.1 475.7,785.1 476.4,784.9 477.2,784.0 478.7,785.1 480.2,785.0 481.7,784.3 483.2,784.8 484.7,784.3 486.2,785.4 487.7,785.4 489.2,785.6 490.7,785.6 492.2,785.0 493.7,785.8 495.2,785.1 496.7,785.1 498.2,785.5 499.7,785.7 501.2,785.5 502.7,786.1 504.2,786.1 505.7,785.7 507.2,786.4 508.7,786.1 510.2,786.7 511.7,786.2 513.2,787.0 514.7,786.5 516.2,786.8 517.7,787.1 519.2,786.9 520.7,786.7 522.2,787.8 523.7,786.6 525.2,787.0 526.7,787.4 528.2,786.8 529.7,787.1 531.2,788.1 532.7,788.1 534.2,788.0 535.7,788.5 537.2,788.4 538.7,787.8 540.2,788.4 541.7,788.1 543.2,788.7 544.7,788.3 546.2,788.1 547.7,789.2 549.2,789.0 550.7,789.1 552.2,789.0 553.7,789.4 553.8,788.9 555.2,789.1 556.7,788.5 558.2,789.3 559.7,789.7 561.2,789.6 562.7,789.9 564.2,789.5 565.7,790.1 567.2,789.1 568.7,790.3 570.2,789.6 571.7,789.3 573.2,790.1 574.7,790.0 576.2,790.0 577.7,790.7 579.2,789.8 580.7,790.5 582.2,790.3 583.7,790.5 585.2,790.6 586.7,790.1 588.2,790.7 589.7,791.3 591.2,790.4 592.7,790.3 594.2,790.4 595.7,791.0 597.2,791.8 598.7,790.6 600.2,792.0 601.7,791.4 603.2,790.9 604.7,791.4 606.2,791.2 607.7,792.0 609.2,791.8 610.7,791.5 612.2,791.6 613.7,792.5 615.2,792.4 616.7,792.0 618.2,792.1 619.7,792.6 621.2,793.0 622.7,791.8 624.2,792.0 625.7,792.4 627.2,792.6 628.7,792.1 630.2,792.2 631.2,792.4 631.7,792.7 633.2,793.3 634.7,793.2 636.2,792.4 637.7,792.5 639.2,793.1 640.7,793.8 642.2,793.9 643.7,793.2 645.2,794.0 646.7,794.2 648.2,793.5 649.7,794.1 651.2,793.6 652.7,793.4 654.2,794.0 655.7,793.4 657.2,794.3 658.7,794.6 660.2,794.8 661.7,794.2 663.2,793.8 664.7,795.0 666.2,795.0 667.7,795.2 669.2,794.8 670.7,795.0 672.2,794.6 673.7,794.4 675.2,794.6 676.7,795.3 678.2,794.8 679.7,795.4 681.2,795.2 682.7,795.2 684.2,796.0 685.7,795.0 687.2,795.5 688.7,795.1 690.2,796.3 691.7,795.7 693.2,795.6 694.7,795.4 696.2,796.1 697.7,795.9 699.2,795.5 700.7,795.5 702.2,796.1 703.7,796.4 705.2,796.4 706.7,797.0 708.2,797.1 709.7,797.2 711.2,797.0 712.7,796.7 714.2,796.8 715.7,796.7 717.2,796.8 718.7,796.3 720.2,797.5 721.7,796.8 723.2,796.5 724.7,797.2 726.2,797.6 727.7,797.3 729.2,797.3 730.7,797.7 732.2,797.1 733.7,797.0 735.2,797.9 736.7,797.8 738.2,798.4 739.7,797.8 741.2,798.4 742.7,797.4 744.2,797.5 745.7,798.3 747.2,797.9 748.7,797.7 750.2,797.9 751.7,798.3 753.2,798.3 754.7,798.7 756.2,799.2 757.7,798.5 759.2,798.4 760.7,799.0 762.2,798.2 763.7,798.8 765.2,798.8 766.7,799.0 768.2,798.6 769.7,799.3 770.0,799.5 771.2,799.7 772.7,800.0 774.2,799.3 775.7,799.8 777.2,799.5 778.7,799.3 780.2,800.3 781.7,800.2 783.2,800.5 784.7,800.4 786.2,800.7 787.7,799.6 789.2,799.6 790.7,799.9 792.2,800.3 793.7,800.7 795.2,800.5 796.7,800.7 798.2,801.1 799.7,800.2 801.2,801.1 802.7,800.4 804.2,800.7 805.7,801.5 807.2,801.5 808.7,801.2 810.2,801.1 811.7,801.9 813.2,801.2 814.7,801.0 816.2,801.4 817.7,801.1 819.2,802.3 820.7,801.4 822.2,802.7 823.7,801.7 825.2,801.9 826.7,802.3 828.2,802.0 829.7,802.2 831.2,801.9 832.7,802.3 834.2,801.9 835.7,802.2 837.2,803.2 838.7,802.4 840.2,802.4 841.7,803.1 843.2,803.4 844.7,802.6 846.2,802.8 847.7,803.3 849.2,803.4 850.7,803.2 852.2,802.6 853.7,802.6 855.2,803.5 856.7,803.4 858.2,803.7 859.7,803.5 861.2,803.0 862.7,802.6 862.9,803.7 864.2,802.9 865.7,801.4 867.2,799.8 868.7,797.7 870.2,796.6 870.6,796.8 871.7,796.5 873.2,796.5 874.7,796.6 876.2,796.3 877.7,795.5 879.2,795.3 880.7,795.9 882.2,795.1 883.7,795.5 885.2,794.5 886.7,794.9 888.2,795.0 889.7,795.3 891.2,795.4 891.3,794.4 892.7,795.1 894.2,795.2 895.7,794.7 897.2,795.8 898.7,795.6 900.2,796.4 901.7,795.6 903.2,796.3 904.7,796.2 906.2,796.8 906.7,796.8 907.7,796.8 909.2,796.7 910.7,797.1 912.2,797.1 913.7,798.0 915.2,797.5 916.7,797.7 918.2,797.5 919.7,797.7 921.2,798.8 922.7,798.0 924.2,799.0 925.7,798.7 927.2,799.4 928.7,798.4 930.2,799.6 931.7,799.5 933.2,799.4 934.7,799.7 936.2,799.8 937.7,799.6 939.2,800.0 940.7,799.5 942.2,799.3 943.7,800.4 945.2,800.2 946.7,800.9 948.2,800.1 949.7,801.0 950.6,801.2 951.2,801.2 952.7,801.3 954.2,800.3 955.7,800.4 957.2,800.6 958.7,800.9 960.2,800.6 961.7,800.8 963.2,800.7 964.7,802.1 966.2,801.4 967.7,801.8 969.2,801.7 970.7,802.1 972.2,802.3 973.7,801.8 975.2,802.1 976.7,801.5 978.2,801.9 979.7,801.8 981.2,802.0 982.7,802.0 984.2,802.4 985.7,802.1 987.2,802.1 988.7,802.8 989.3,801.7 990.2,801.7 991.7,801.7 993.2,802.9 994.7,802.5 996.2,802.6 997.7,802.9 999.2,801.8 1000.7,802.7 1002.2,801.7 1003.7,802.1 1005.2,802.2 1006.7,802.3 1008.2,801.5 1009.7,801.7 1011.2,801.0 1012.7,801.3 1014.2,802.1 1015.7,801.9 1017.2,801.4 1018.7,801.6 1020.2,801.6 1021.7,800.8 1023.2,801.6 1024.7,800.7 1026.2,800.2 1027.7,800.6 1028.0,800.7 1029.2,800.8 1030.7,800.6 1032.2,799.6 1033.7,800.3 1035.2,800.6 1036.7,800.1 1038.2,800.4 1039.7,799.5 1041.2,799.8 1042.7,798.7 1044.2,799.6 1045.7,798.8 1047.2,799.2 1048.7,798.2 1050.2,798.4 1051.7,798.6 1053.2,798.2 1054.7,797.8 1056.2,798.1 1057.7,796.7 1059.2,796.5 1060.7,796.9 1062.2,797.2 1063.7,796.6 1065.2,795.9 1066.7,795.4 1068.2,795.7 1069.7,795.5 1071.2,795.3 1072.7,795.2 1074.2,794.5 1075.7,795.2 1077.2,794.1 1078.7,793.7 1079.6,793.9 1080.2,794.6 1081.7,793.3 1083.2,793.3 1084.7,794.0 1086.2,793.0 1087.7,793.5 1089.2,792.2 1090.7,793.1 1092.2,792.0 1093.7,791.7 1095.2,792.3 1096.7,792.4 1098.2,792.2 1099.7,791.7 1101.2,791.7 1102.7,791.5 1104.2,790.7 1105.7,789.9 1107.2,790.7 1108.7,789.8 1110.2,789.5 1111.7,789.5 1113.2,788.6 1114.7,788.4 1116.2,788.5 1117.7,788.7 1119.2,788.7 1120.7,788.8 1122.2,788.3 1123.7,788.2 1125.2,787.6 1126.7,787.5 1128.2,787.0 1129.7,786.0 1131.2,785.8 1131.2,786.7 1132.7,785.7 1134.2,786.3 1135.7,785.5 1137.2,784.6 1138.7,785.2 1140.2,784.7 1141.7,784.0 1143.2,784.0 1144.7,783.8 1146.2,783.5 1147.7,783.8 1149.2,782.8 1150.7,782.9 1152.2,782.8 1153.7,783.0 1155.2,781.6 1156.7,781.2 1158.2,781.1 1159.7,780.8 1161.2,780.5 1162.7,780.0 1164.2,779.9 1165.7,779.6 1167.2,779.7 1168.7,779.6 1170.2,778.9 1171.7,778.2 1173.2,777.8 1174.7,777.7 1176.2,777.2 1177.7,777.3 1179.2,777.5 1180.7,776.9 1182.2,775.8 1182.8,775.4 1183.7,775.2 1185.2,775.3 1186.7,774.8 1188.2,774.8 1189.7,773.5 1191.2,773.3 1192.7,773.4 1194.2,772.8 1195.7,772.2 1197.2,772.3 1198.7,770.6 1200.2,770.2 1201.7,770.2 1203.2,769.7 1204.7,769.7 1206.2,769.1 1207.7,768.0 1209.2,767.7 1210.7,767.0 1212.2,765.7 1213.7,765.7 1215.2,764.7 1216.7,764.2 1218.2,763.3 1219.7,762.5 1221.2,763.1 1222.7,762.3 1224.2,761.7 1225.7,760.5 1227.2,760.1 1228.7,759.1 1230.2,759.1 1231.7,758.8 1233.2,758.2 1234.7,757.8 1236.2,756.3 1237.7,756.3 1239.2,754.9 1240.0,755.2 1240.7,754.3 1242.2,754.3 1243.7,753.8 1245.2,753.0 1246.7,752.4 1248.2,752.4 1249.7,751.5 1251.2,750.8 1252.7,749.8 1254.2,749.4 1255.7,749.5 1257.2,749.0 1258.1,747.7 1258.7,748.1 1260.2,747.3 1261.7,745.6 1263.2,744.9 1264.7,744.6 1266.2,743.0 1267.7,742.6 1269.2,740.4 1270.7,739.2 1270.7,739.1 1272.2,735.0 1273.7,731.6 1274.3,729.6 1275.2,727.8 1276.7,725.4 1278.2,724.0 1279.7,722.6 1281.2,720.7 1281.6,721.3 1282.7,719.5 1284.2,719.3 1285.7,717.2 1287.2,716.7 1288.7,715.7 1290.2,715.4 1291.7,714.5 1293.2,713.9 1294.2,714.1 1294.7,713.4 1296.2,712.8 1297.7,711.9 1299.2,711.9 1300.7,711.0 1302.2,710.8 1303.7,710.5 1305.2,709.6 1306.7,708.8 1308.2,707.9 1309.7,708.2 1311.2,707.3 1312.3,706.8 1312.7,705.7 1314.2,705.1 1315.7,704.8 1317.2,702.9 1318.7,702.4 1320.2,700.4 1321.3,698.7 1321.7,698.2 1323.2,694.0 1324.7,690.1 1326.2,685.9 1326.7,684.0 1327.7,682.7 1329.2,681.2 1330.7,678.6 1332.2,677.4 1333.7,676.3 1333.9,675.7 1335.2,673.9 1336.7,673.7 1338.2,672.3 1339.7,670.9 1341.2,669.5 1342.7,668.7 1343.0,668.2 1344.2,666.9 1345.7,665.7 1347.2,664.5 1348.7,663.5 1350.2,662.4 1351.7,661.8 1353.2,660.5 1353.7,660.1 1354.7,659.6 1356.2,657.2 1357.7,656.3 1359.2,654.5 1360.7,653.6 1362.2,651.8 1363.0,651.1 1363.7,650.5 1365.2,649.7 1366.7,648.9 1368.2,647.0 1369.7,646.3 1371.2,644.1 1371.3,644.2 1372.7,642.9 1374.2,640.6 1375.7,639.3 1377.2,637.7 1378.5,636.7 1378.7,635.4 1380.2,635.0 1381.7,633.3 1383.2,632.1 1384.7,630.0 1386.2,629.9 1387.7,627.7 1387.8,628.0 1389.2,626.7 1390.7,625.8 1392.2,623.9 1393.7,622.8 1394.0,621.4 1395.2,620.3 1396.7,617.9 1398.1,615.6 1398.2,615.6 1399.7,613.0 1401.2,610.2 1402.7,608.1 1404.2,604.8 1404.3,605.2 1405.7,602.9 1407.2,600.1 1408.7,598.2 1410.2,595.7 1410.5,594.4 1411.7,592.1 1413.2,588.2 1414.7,585.6 1415.7,583.0 1416.2,582.2 1417.7,580.1 1419.2,577.9 1420.7,574.8 1420.8,576.0 1422.2,572.0 1423.7,569.1 1425.2,565.1 1426.0,564.1 1426.7,562.3 1428.2,559.6 1429.7,557.3 1431.2,554.8 1432.7,551.8 1433.2,550.8 1434.2,547.2 1435.7,542.1 1436.3,540.9 1437.2,539.3 1438.7,537.4 1440.2,535.2 1441.7,532.9 1442.5,531.4 1443.2,530.7 1444.7,526.9 1446.2,524.4 1446.6,524.0 1447.7,522.3 1449.2,520.1 1450.7,518.8 1452.2,517.4 1453.3,513.9 1453.7,512.7 1454.4,509.2 1455.2,507.6 1456.7,505.3 1458.2,503.4 1459.0,503.2 1459.7,501.5 1461.2,501.0 1461.6,500.4 1462.7,497.9 1464.2,494.8 1465.7,491.2 1467.2,488.3 1468.7,483.9 1470.2,482.0 1470.6,481.8 1471.7,481.5 1473.2,480.4 1474.7,479.1 1476.2,477.8 1477.7,478.0 1479.2,477.1 1480.7,476.3 1481.0,477.0 1482.2,476.4 1483.7,475.8 1485.2,475.4 1486.7,475.4 1488.2,474.8 1489.7,474.9 1491.2,475.6 1491.3,474.9 1492.7,474.7 1494.2,475.4 1495.7,476.3 1497.2,476.8 1498.7,477.1 1500.2,478.0 1501.6,478.4 1501.7,478.4 1503.2,478.8 1504.7,479.3 1506.2,481.2 1507.7,482.2 1509.2,483.9 1510.7,484.4 1511.9,486.3 1512.2,485.7 1513.7,488.3 1515.2,490.2 1516.7,490.8 1518.2,493.3 1519.7,496.5 1521.2,498.9 1522.3,500.2 1522.7,500.4 1524.2,503.2 1525.7,506.9 1527.2,511.5 1528.7,515.2 1530.0,518.0 1530.2,519.1 1531.7,523.4 1533.2,527.0 1534.7,532.4 1536.2,536.2 1537.7,541.0 1537.7,540.7 1539.2,545.5 1540.7,550.8 1542.2,555.0 1543.7,560.8 1545.2,565.7 1545.5,567.4 1546.7,571.6 1548.2,578.3 1549.7,585.3 1551.2,592.6 1552.7,599.2 1553.2,601.0 1554.2,604.7 1555.7,609.9 1557.2,614.7 1558.7,619.2 1560.2,623.7 1561.0,627.0 1561.7,628.8 1563.2,633.9 1564.7,637.8 1566.2,642.9 1567.7,647.0 1569.2,651.7 1570.7,656.3 1571.3,657.2 1572.2,660.1 1573.7,663.0 1575.2,667.0 1576.7,670.5 1578.2,673.9 1579.7,676.8 1581.2,680.5 1582.7,683.7 1584.2,686.2 1584.2,685.2 1585.7,688.5 1587.2,690.8 1588.7,693.6 1590.2,695.2 1591.7,698.4 1593.2,700.1 1594.7,703.0 1596.2,703.8 1597.7,706.4 1599.2,708.4 1599.7,709.5 1600.7,710.8 1602.2,711.9 1603.7,714.0 1605.2,716.4 1606.7,717.8 1608.2,719.4 1609.7,722.0 1611.2,723.5 1612.7,724.5 1614.2,726.3 1615.2,727.7 1615.7,727.3 1617.2,729.7 1618.7,731.1 1620.2,732.2 1621.7,733.5 1623.2,734.8 1624.7,735.9 1626.2,737.1 1627.7,737.7 1629.2,739.2 1630.6,740.2 1630.7,740.0 1632.2,741.2 1633.7,741.7 1635.2,743.0 1636.7,743.7 1638.2,743.5 1639.7,745.2 1641.2,745.2 1642.7,745.6 1644.2,746.3 1645.7,747.3 1647.2,748.2 1648.7,748.5 1650.2,748.9 1651.7,750.3 1653.2,750.3 1654.7,751.5 1656.2,751.2 1656.5,751.9 1657.7,751.9 1659.2,753.1 1660.7,753.3 1662.2,753.8 1663.7,753.5 1665.2,754.9 1666.7,754.8 1668.2,755.8 1669.7,756.4 1671.2,755.8 1672.7,756.1 1674.2,757.6 1675.7,758.3 1677.2,758.6 1678.7,758.3 1680.2,759.3 1681.7,758.6 1682.3,758.7 1683.2,759.7 1684.7,760.0 1686.2,760.8 1687.7,760.4 1689.2,761.1 1690.7,762.2 1692.2,761.6 1693.7,762.1 1695.2,762.7 1696.7,763.6 1698.2,762.8 1699.7,763.8 1701.2,763.8 1702.7,764.1 1704.2,764.5" stroke="#ff0000" stroke-width="2"/>
<path d="M277.7,864.3 279.2,865.5 280.7,865.1 282.2,865.6 283.7,866.5 285.2,866.8 286.7,868.0 288.2,867.7 289.7,869.3 291.2,869.7 292.7,868.9 294.2,870.0 295.7,869.7 295.8,869.9 297.2,870.4 298.7,870.7 300.2,871.0 301.7,871.9 303.2,871.3 304.7,871.4 306.2,872.4 307.7,873.0 309.2,873.2 310.7,873.3 312.2,872.4 313.7,873.8 315.2,873.5 316.7,873.9 318.2,873.4 319.7,873.2 321.2,874.0 321.6,873.8 322.7,873.9 324.2,873.0 325.7,872.8 327.2,873.4 328.7,872.1 330.2,873.1 331.7,871.6 333.2,872.0 334.5,871.4 334.7,871.2 336.2,870.6 337.7,871.0 339.2,870.6 340.7,869.7 342.2,868.8 343.7,868.2 345.2,867.2 346.7,866.4 348.2,866.0 349.7,864.1 351.2,863.1 352.7,863.1 354.2,862.1 355.7,860.4 357.2,859.9 358.7,858.7 360.2,858.0 360.3,856.7 361.7,856.9 363.2,855.2 364.7,854.0 366.2,853.1 367.7,851.7 369.2,850.2 370.7,848.6 372.2,848.1 373.7,846.6 375.2,844.1 376.7,843.1 378.2,842.1 379.7,840.7 381.2,839.3 382.7,836.7 384.2,836.1 385.7,834.2 387.2,831.8 388.7,830.4 390.2,828.7 391.7,827.0 393.2,826.2 394.7,824.1 396.2,823.1 397.7,820.6 399.0,820.4 399.2,819.9 400.7,818.5 402.2,816.7 403.7,814.9 405.2,812.9 406.7,812.3 408.2,809.5 409.7,808.4 411.2,806.1 412.7,804.5 414.2,803.6 415.7,802.2 417.2,799.9 418.7,798.7 420.2,797.1 421.7,795.0 423.2,793.6 424.7,791.3 424.8,791.0 426.2,789.5 427.7,787.6 429.2,785.9 430.7,785.1 432.2,783.6 433.7,780.7 435.2,779.8 436.7,778.2 438.2,776.3 439.7,774.3 441.2,772.6 442.7,771.3 444.2,769.0 445.7,768.2 447.2,765.9 448.7,764.2 450.2,764.1 450.6,762.6 451.7,761.7 453.2,760.2 454.7,758.9 456.2,757.8 457.7,757.7 459.2,756.1 460.7,754.6 462.2,752.8 463.7,752.9 465.2,751.3 466.7,750.7 468.2,749.2 469.7,747.5 471.2,746.5 472.7,746.5 474.2,744.8 475.7,743.7 476.4,743.7 477.2,743.0 478.7,742.1 480.2,741.9 481.7,740.6 483.2,740.4 484.7,738.3 486.2,737.8 487.7,737.8 489.2,736.4 490.7,736.0 492.2,734.8 493.7,734.0 495.2,734.0 496.7,732.5 498.2,732.1 499.7,731.5 501.2,730.1 502.2,729.8 502.7,729.8 504.2,728.9 505.7,729.2 507.2,728.5 508.7,727.6 510.2,727.2 511.7,726.1 513.2,726.1 514.7,726.2 516.2,724.5 517.7,724.9 519.2,724.5 520.7,723.4 522.2,723.1 523.7,722.5 525.2,722.6 526.7,722.0 528.0,721.4 528.2,721.5 529.7,721.1 531.2,721.8 532.7,721.0 534.2,720.5 535.7,720.2 537.2,720.0 538.7,720.3 540.2,719.2 541.7,718.5 543.2,718.4 544.7,717.9 546.2,717.9 547.7,718.3 549.2,717.6 550.7,718.3 552.2,718.3 553.7,717.0 553.8,717.9 555.2,717.6 556.7,717.9 558.2,716.7 559.7,717.4 561.2,716.6 562.7,716.3 564.2,716.3 565.7,717.2 567.2,716.4 568.7,716.2 570.2,716.8 571.7,716.6 573.2,716.6 574.7,715.3 576.2,716.6 577.7,716.1 579.2,716.3 580.7,716.1 582.2,716.2 583.7,716.1 585.2,715.7 586.7,715.0 588.2,715.7 589.7,714.8 591.2,715.2 592.5,715.1 592.7,715.1 594.2,715.9 595.7,716.0 597.2,716.0 598.7,715.6 600.2,715.9 601.7,715.0 603.2,715.3 604.7,715.9 606.2,715.5 607.7,715.6 609.2,716.0 610.7,715.3 612.2,716.2 613.7,716.0 615.2,715.2 616.7,715.7 618.2,716.4 619.7,715.5 621.2,715.2 622.7,715.5 624.2,716.1 625.7,715.5 627.2,715.5 628.7,715.6 630.2,716.6 631.2,716.9 631.7,715.7 633.2,716.4 634.7,716.6 636.2,715.8 637.7,717.0 639.2,716.9 640.7,716.9 642.2,716.7 643.7,717.2 645.2,717.3 646.7,716.7 648.2,716.7 649.7,717.9 651.2,717.3 652.7,717.3 654.2,718.1 655.7,718.0 657.2,718.1 658.7,718.3 660.2,718.5 661.7,718.4 663.2,719.0 664.7,718.8 666.2,719.0 667.7,719.1 669.2,718.1 670.7,719.6 672.2,719.4 673.7,718.5 675.2,719.6 676.7,719.7 678.2,719.5 679.7,719.3 681.2,719.8 682.7,719.3 682.8,719.7 684.2,720.1 685.7,720.3 687.2,720.2 688.7,720.8 690.2,720.9 691.7,721.0 693.2,720.7 694.7,720.3 696.2,720.1 697.7,721.0 699.2,721.0 700.7,720.4 702.2,720.7 703.7,722.0 705.2,721.8 706.7,722.1 708.2,721.4 709.7,721.7 711.2,722.0 712.7,721.9 714.2,721.4 715.7,722.2 717.2,722.6 718.7,722.2 720.2,723.1 721.7,723.3 723.2,722.1 724.7,722.8 726.2,723.1 727.7,723.0 729.2,723.9 730.7,723.0 732.2,724.0 733.7,723.3 735.2,724.2 736.7,723.2 738.2,724.4 739.7,724.4 741.2,724.2 742.7,723.9 744.2,724.1 745.7,723.9 747.2,724.2 748.7,724.6 750.2,724.7 751.7,724.8 753.2,725.4 754.7,724.6 756.2,725.5 757.7,725.7 759.2,725.1 760.7,724.8 762.2,726.0 763.7,725.9 765.2,725.7 766.7,726.4 768.2,725.6 769.7,726.3 770.0,726.2 771.2,725.9 772.7,726.6 774.2,725.7 775.7,726.1 777.2,726.5 778.7,727.2 780.2,727.0 781.7,726.1 783.2,727.0 784.7,726.4 786.2,726.9 787.7,727.8 789.2,726.9 790.7,726.8 792.2,728.0 793.7,727.1 795.2,727.7 796.7,727.4 798.2,728.4 799.7,728.2 801.2,728.4 802.7,727.5 804.2,728.0 805.7,728.8 807.2,728.1 808.7,727.9 810.2,729.0 811.7,728.3 813.2,728.9 814.7,728.4 816.2,728.4 817.7,729.0 819.2,729.3 820.7,729.6 822.2,729.9 823.7,729.4 825.2,729.7 826.7,729.3 828.2,730.2 829.7,729.5 831.2,729.1 832.7,729.5 834.2,729.5 835.7,730.2 837.2,729.6 838.7,730.1 840.2,730.0 841.7,730.8 843.2,730.1 844.7,730.1 846.2,730.3 847.7,730.2 849.2,730.9 850.7,730.8 852.2,731.1 853.7,730.4 855.2,731.4 856.7,731.1 858.2,731.8 859.7,731.9 861.2,730.6 862.7,731.5 864.2,731.0 865.7,731.7 867.2,731.0 868.7,731.6 870.2,732.0 871.7,731.7 873.2,731.4 873.2,732.0 874.7,732.3 876.2,731.5 877.7,731.3 879.2,731.7 880.7,731.8 882.2,731.8 883.7,732.7 885.2,731.7 886.7,731.5 888.2,731.5 889.7,732.1 891.2,731.9 892.7,732.2 893.8,732.5 894.2,731.9 895.7,731.0 897.2,731.3 898.7,729.7 899.0,729.9 900.2,729.5 901.7,730.3 903.2,729.8 904.7,730.5 906.2,730.1 907.7,730.7 909.2,730.1 910.7,730.7 912.2,729.8 913.7,730.3 915.2,730.3 916.7,730.5 918.2,730.3 919.7,730.5 921.2,731.5 922.7,730.4 924.2,731.0 925.7,731.7 927.2,731.2 928.7,731.3 930.2,731.5 931.7,731.1 933.2,731.3 934.7,732.1 936.2,732.1 937.7,731.7 939.2,732.1 940.7,733.0 942.2,732.0 943.7,732.9 945.2,733.3 946.7,732.8 948.2,732.4 949.7,733.0 951.2,733.5 952.7,733.5 954.2,733.8 955.7,733.5 957.2,732.9 958.7,733.1 960.2,734.2 961.7,734.0 963.2,734.6 964.7,734.6 966.2,734.4 967.7,734.5 969.2,734.8 970.7,734.0 972.2,734.4 973.7,734.9 975.2,734.8 976.4,734.3 976.7,734.5 978.2,734.3 979.7,735.4 981.2,734.5 982.7,735.3 984.2,734.7 985.7,734.7 987.2,734.6 988.7,735.2 990.2,735.9 991.7,736.1 993.2,735.6 994.7,736.1 996.2,735.9 997.7,736.4 999.2,735.4 1000.7,735.6 1002.2,735.6 1003.7,736.5 1005.2,736.7 1006.7,736.5 1008.2,736.8 1009.7,735.6 1011.2,735.8 1012.7,735.9 1014.2,736.1 1015.7,736.2 1017.2,736.3 1018.7,736.0 1020.2,736.6 1021.7,736.8 1023.2,737.0 1024.7,736.1 1026.2,737.3 1027.7,736.2 1028.0,736.5 1029.2,737.1 1030.7,736.1 1032.2,736.5 1033.7,736.4 1035.2,736.0 1036.7,735.9 1038.2,736.1 1039.7,736.5 1041.2,735.9 1042.7,736.1 1044.2,737.1 1045.7,736.4 1047.2,736.1 1048.7,737.0 1050.2,736.6 1051.7,736.1 1053.2,736.8 1054.7,735.6 1056.2,736.0 1057.7,736.8 1059.2,736.2 1060.7,735.5 1062.2,735.5 1063.7,736.6 1065.2,735.8 1066.7,736.5 1068.2,735.5 1069.7,736.0 1071.2,735.4 1072.7,736.2 1074.2,736.1 1075.7,736.3 1077.2,735.6 1078.7,735.9 1079.6,735.0 1080.2,735.7 1081.7,735.8 1083.2,735.8 1084.7,735.1 1086.2,734.6 1087.7,735.4 1089.2,735.5 1090.7,735.1 1092.2,734.6 1093.7,734.8 1095.2,734.5 1096.7,735.3 1098.2,734.9 1099.7,734.7 1101.2,734.8 1102.7,735.0 1104.2,734.9 1105.7,733.5 1107.2,733.4 1108.7,734.6 1110.2,733.7 1111.7,734.1 1113.2,733.4 1114.7,733.9 1116.2,733.7 1117.7,733.0 1119.2,733.5 1120.7,732.4 1122.2,732.3 1123.7,732.8 1125.2,733.3 1126.7,733.2 1128.2,731.8 1129.7,732.1 1131.2,731.7 1131.2,732.7 1132.7,731.9 1134.2,731.7 1135.7,731.7 1137.2,731.5 1138.7,731.6 1140.2,730.9 1141.7,730.8 1143.2,730.9 1144.7,730.5 1146.2,731.6 1147.7,730.3 1149.2,731.2 1150.7,730.2 1152.2,731.1 1153.7,729.7 1155.2,730.2 1156.7,730.2 1158.2,729.1 1159.7,729.7 1161.2,729.5 1162.7,729.8 1164.2,729.0 1165.7,729.0 1167.2,728.2 1168.7,729.0 1170.2,729.2 1171.7,728.8 1173.2,728.6 1174.7,728.4 1176.2,727.5 1177.7,728.3 1179.2,726.9 1180.7,727.3 1182.2,727.6 1182.8,727.4 1183.7,726.6 1185.2,726.4 1186.7,726.6 1188.2,726.2 1189.7,725.6 1191.2,725.6 1192.7,726.0 1194.2,725.4 1195.7,725.3 1197.2,724.5 1198.7,724.1 1200.2,725.1 1201.7,724.8 1203.2,724.1 1204.7,724.0 1206.2,723.8 1207.7,723.2 1209.2,722.5 1210.7,722.1 1212.2,722.8 1213.7,722.6 1215.2,721.3 1216.7,722.0 1218.2,720.6 1219.7,721.5 1221.2,720.6 1221.5,720.6 1222.7,721.0 1224.2,720.3 1225.7,719.6 1227.2,719.6 1228.7,718.7 1230.2,718.0 1231.7,718.3 1233.2,717.9 1234.7,717.1 1236.2,716.2 1237.7,716.7 1239.2,716.0 1240.0,714.9 1240.7,715.4 1242.2,714.9 1243.7,713.7 1245.2,714.2 1246.7,713.0 1248.2,713.4 1249.7,713.0 1251.2,712.9 1252.7,711.6 1254.2,711.5 1255.7,711.2 1257.2,709.7 1258.1,709.5 1258.7,709.8 1260.2,709.5 1261.7,708.2 1263.2,708.2 1264.7,707.4 1266.2,705.7 1267.7,704.6 1269.2,704.0 1270.7,702.8 1272.2,701.8 1273.7,699.4 1275.2,698.9 1276.1,697.3 1276.7,696.2 1278.2,693.5 1279.7,689.9 1281.2,686.8 1281.6,686.8 1282.7,684.2 1284.2,682.3 1285.7,679.4 1287.2,676.6 1288.7,674.4 1290.2,672.6 1290.6,672.2 1291.7,670.3 1293.2,668.2 1294.7,667.4 1296.2,665.6 1297.7,664.8 1299.2,663.5 1300.7,661.4 1302.2,660.1 1303.2,660.0 1303.7,659.3 1305.2,657.8 1306.7,655.6 1308.2,655.1 1309.7,653.2 1311.2,651.7 1312.7,650.1 1314.2,649.7 1315.7,649.0 1315.9,648.4 1317.2,648.2 1318.7,647.4 1320.2,646.2 1321.7,646.2 1323.2,644.9 1324.7,645.1 1326.2,644.9 1326.7,645.3 1327.7,645.4 1329.2,645.5 1330.0,644.8 1330.7,644.9 1332.2,645.1 1333.7,644.6 1335.2,642.4 1336.7,642.2 1338.2,640.6 1339.7,639.9 1340.3,638.7 1341.2,638.8 1342.7,638.9 1344.2,637.3 1345.7,636.8 1347.2,636.3 1347.5,636.2 1348.7,634.7 1350.2,633.1 1351.7,631.9 1353.2,629.1 1354.7,627.6 1355.8,626.6 1356.2,626.2 1357.7,625.9 1359.2,623.9 1360.7,623.5 1362.2,621.7 1363.7,621.6 1364.1,621.1 1365.2,619.3 1366.7,618.5 1368.2,617.1 1369.7,614.8 1371.2,614.1 1371.3,613.2 1372.7,611.2 1374.2,607.1 1375.4,605.2 1375.7,604.5 1377.2,602.4 1378.7,599.3 1380.2,596.2 1380.6,595.6 1381.7,591.9 1383.2,588.3 1383.7,586.5 1384.7,585.3 1386.2,582.7 1387.7,581.5 1389.2,579.1 1389.9,578.0 1390.7,577.0 1392.2,575.4 1393.7,573.4 1394.0,574.0 1395.2,572.3 1396.7,572.0 1398.2,571.4 1399.7,571.3 1401.2,569.7 1402.2,569.7 1402.7,568.7 1404.2,567.4 1405.7,566.0 1407.2,564.0 1408.4,563.6 1408.7,563.3 1410.2,561.7 1411.7,561.5 1412.6,560.4 1413.2,560.3 1414.7,560.8 1416.2,559.7 1417.7,560.3 1418.8,558.9 1419.2,559.1 1420.7,557.8 1422.2,557.4 1423.7,556.0 1424.9,554.4 1425.2,554.0 1426.7,553.7 1428.2,551.9 1429.7,550.3 1431.1,548.8 1431.2,547.7 1432.7,545.6 1434.2,544.0 1435.7,540.6 1437.2,538.7 1437.3,538.7 1438.7,536.7 1440.2,534.7 1441.7,532.5 1443.2,529.5 1444.6,528.3 1444.7,527.9 1446.2,524.7 1447.7,522.4 1449.2,519.2 1450.7,517.1 1450.7,517.7 1452.2,515.9 1453.7,516.0 1455.2,514.0 1456.7,513.8 1458.0,513.8 1458.2,513.4 1459.7,514.3 1461.2,515.3 1462.7,515.8 1464.2,517.0 1464.2,517.6 1465.7,518.5 1467.2,520.5 1468.7,520.7 1470.2,523.4 1471.7,523.7 1473.2,525.1 1474.5,526.8 1474.7,527.6 1476.2,528.5 1477.7,529.2 1479.2,531.0 1480.7,532.2 1482.2,532.9 1482.7,534.1 1483.7,535.5 1485.2,537.2 1486.7,538.4 1488.2,540.2 1488.9,541.2 1489.7,542.3 1491.2,543.4 1492.7,545.2 1494.2,547.0 1495.7,549.7 1497.2,551.7 1497.2,552.2 1498.7,553.9 1500.2,556.8 1501.7,560.9 1503.2,563.4 1503.4,564.2 1504.7,567.2 1506.2,572.6 1507.5,575.8 1507.7,577.6 1509.2,582.7 1510.7,589.3 1511.6,593.2 1512.2,595.1 1513.7,601.9 1515.2,608.5 1515.8,611.3 1516.7,615.8 1518.2,622.9 1519.7,628.9 1519.9,629.7 1521.2,635.3 1522.7,641.6 1524.0,646.3 1524.2,647.8 1525.7,654.0 1527.1,660.3 1527.2,660.9 1528.7,666.9 1530.2,674.5 1531.7,681.0 1533.2,688.4 1534.7,694.6 1536.2,701.2 1537.7,706.5 1537.7,705.9 1539.2,711.6 1540.7,715.9 1542.2,721.5 1543.7,726.0 1545.2,729.2 1546.7,734.2 1548.1,737.4 1548.2,738.1 1549.7,742.1 1551.2,745.6 1552.7,750.4 1554.2,753.1 1555.7,758.2 1557.2,760.9 1558.7,764.8 1560.2,766.7 1561.0,768.9 1561.7,769.3 1563.2,772.7 1564.7,774.8 1566.2,777.3 1567.7,779.2 1569.2,780.4 1570.7,782.3 1572.2,785.0 1573.7,786.8 1575.2,788.6 1576.7,789.8 1578.2,791.6 1579.0,791.3 1579.7,792.0 1581.2,792.8 1582.7,795.0 1584.2,795.3 1585.7,797.0 1587.2,797.9 1588.7,799.0 1590.2,799.6 1591.7,799.9 1593.2,801.9 1594.7,802.8 1596.2,802.4 1597.7,804.4 1599.2,804.7 1600.7,805.7 1602.2,806.5 1603.7,807.0 1604.8,807.0 1605.2,807.5 1606.7,807.3 1608.2,808.4 1609.7,809.0 1611.2,809.0 1612.7,810.6 1614.2,811.1 1615.7,811.1 1617.2,811.4 1618.7,811.6 1620.2,813.3 1621.7,812.6 1623.2,813.0 1624.7,813.9 1626.2,815.2 1627.7,814.5 1629.2,815.0 1630.6,815.8 1630.7,816.1 1632.2,817.1 1633.7,817.0 1635.2,817.8 1636.7,818.9 1638.2,818.6 1639.0,818.8 1639.7,819.9 1641.2,820.2 1642.7,820.9 1644.2,821.1 1645.7,821.3 1647.2,820.8 1648.7,821.1 1650.2,821.7 1651.7,822.8 1653.2,822.5 1654.7,822.4 1656.2,824.0 1657.7,823.4 1659.2,823.3 1660.7,824.6 1662.2,824.8 1663.7,824.5 1665.2,824.5 1666.7,825.6 1668.2,825.0 1669.7,826.2 1671.2,826.1 1672.7,827.0 1674.2,826.5 1675.7,827.5 1677.2,827.4 1678.7,827.3 1680.2,828.1 1680.2,827.7 1681.7,828.0 1683.2,828.1 1684.7,828.9 1686.2,829.0 1687.7,829.3 1689.2,829.1 1690.7,830.6 1692.2,830.0 1693.7,831.3 1695.2,830.6 1696.7,830.6 1698.2,832.3 1699.7,832.1 1701.2,832.6 1702.7,832.4 1704.2,832.1 1705.7,833.5 1707.2,834.0 1708.7,833.7 1710.2,833.5 1711.7,834.1 1713.2,835.3 1714.7,834.3 1716.2,835.1 1717.7,835.1 1719.2,836.2 1720.7,836.6 1722.2,836.5 1723.7,837.1 1725.2,837.8 1726.7,837.1 1728.2,837.7 1728.7,837.8" stroke="#ff0000" stroke-width="2"/>
<path d="M278.1,920.7 279.6,921.9 281.1,922.6 282.6,922.6 284.1,923.1 285.6,925.0 287.1,925.2 288.6,925.0 290.1,926.9 291.6,927.6 293.1,927.2 294.6,928.5 296.1,927.9 297.1,928.7 297.6,929.4 299.1,929.2 300.6,929.8 302.1,929.7 303.6,931.1 305.1,931.0 306.6,931.1 308.1,932.2 309.6,932.9 311.1,932.6 312.6,933.2 314.1,933.9 315.6,932.8 317.1,933.8 318.6,934.5 320.1,933.5 321.6,933.7 323.1,934.3 324.2,934.5 324.6,934.3 326.1,934.2 327.6,933.4 329.1,934.3 330.6,933.5 332.1,932.9 333.6,933.9 335.1,933.2 336.6,932.5 338.1,932.6 339.6,931.8 341.1,931.0 342.6,931.2 344.1,931.0 345.6,930.6 345.9,930.2 347.1,930.3 348.6,929.8 350.1,928.9 351.6,927.4 353.1,926.4 354.6,925.8 356.1,925.0 357.6,923.3 359.1,922.8 360.6,921.6 362.1,920.0 362.1,920.5 363.6,919.5 365.1,919.1 366.6,916.7 368.1,916.7 369.6,915.4 371.1,913.7 372.6,911.8 374.1,911.3 375.6,909.1 377.1,908.0 378.4,907.3 378.6,906.8 380.1,905.5 381.6,904.0 383.1,902.2 384.6,901.3 386.1,900.5 387.6,899.2 389.1,896.7 390.6,896.0 392.1,894.3 393.6,893.0 394.7,892.9 395.1,892.2 396.6,890.4 398.1,889.1 399.6,888.3 401.1,886.2 402.6,885.4 404.1,884.0 405.6,882.7 407.1,880.9 408.2,880.3 408.6,880.1 410.1,878.0 411.6,877.3 411.9,876.7 413.1,875.5 414.6,873.9 416.1,872.1 417.6,871.0 419.1,868.8 420.6,866.8 422.1,865.9 423.6,863.6 425.1,862.1 426.6,860.9 428.1,858.7 429.6,856.8 431.1,854.8 432.6,853.7 434.1,852.5 435.6,850.6 437.1,849.2 437.7,848.0 438.6,847.2 440.1,845.9 441.6,844.7 443.1,844.0 444.6,842.2 446.1,840.5 447.6,839.8 449.1,838.2 450.6,837.6 452.1,836.0 453.6,835.7 455.1,833.8 456.6,832.9 458.1,831.8 459.6,830.4 461.1,830.1 462.6,827.7 463.5,828.0 464.1,826.9 465.6,825.4 467.1,824.5 468.6,824.1 470.1,823.2 471.6,821.8 473.1,820.0 474.6,819.2 476.1,817.5 477.6,816.8 479.1,815.6 480.6,814.2 482.1,813.5 483.6,813.5 485.1,812.0 486.6,810.7 488.1,809.7 489.3,810.2 489.6,808.9 491.1,808.0 492.6,807.4 494.1,807.6 495.6,807.1 497.1,805.3 498.6,805.4 500.1,804.7 501.6,803.9 503.1,802.6 504.6,803.0 506.1,802.1 507.6,802.2 509.1,801.8 510.6,800.8 512.1,799.6 513.6,799.4 515.1,799.5 515.1,799.8 516.6,798.8 518.1,798.3 519.6,798.2 521.1,798.2 522.6,796.8 524.1,797.0 525.6,796.7 527.1,796.1 528.6,795.6 530.1,796.0 531.6,795.5 533.1,794.2 534.6,793.7 536.1,793.7 537.6,793.7 539.1,793.0 540.6,793.0 542.1,793.2 543.6,793.0 545.1,792.9 546.6,792.7 548.1,791.8 549.6,792.0 551.1,792.1 552.6,791.8 553.8,791.6 554.1,792.0 555.6,792.0 557.1,791.9 558.6,790.9 560.1,790.6 561.6,790.7 563.1,791.3 564.6,790.6 566.1,791.1 567.6,790.8 569.1,791.3 570.6,790.0 572.1,790.9 573.6,789.7 575.1,790.5 576.6,790.2 578.1,789.8 579.6,789.7 581.1,789.8 582.6,789.9 584.1,789.4 585.6,789.7 587.1,789.2 588.6,789.7 590.1,789.7 591.6,789.5 593.1,789.6 594.6,789.7 596.1,789.6 597.6,789.1 599.1,789.1 600.6,789.2 602.1,790.2 603.6,789.5 605.1,789.8 605.4,789.1 606.6,789.5 608.1,789.4 609.6,789.1 611.1,789.2 612.6,789.2 614.1,790.0 615.6,790.0 617.1,790.3 618.6,789.6 620.1,790.0 621.6,790.3 623.1,790.2 624.6,790.7 626.1,789.6 627.6,790.7 629.1,790.0 630.6,790.7 632.1,790.6 633.6,790.8 635.1,791.4 636.6,790.6 638.1,790.6 639.6,792.0 641.1,791.5 642.6,791.5 644.1,791.3 645.6,791.9 647.1,792.3 648.6,792.7 650.1,792.1 651.6,791.9 653.1,792.9 654.6,792.4 656.1,793.1 657.0,793.2 657.6,793.5 659.1,792.5 660.6,792.8 662.1,793.0 663.6,793.8 665.1,793.3 666.6,793.5 668.1,794.1 669.6,793.3 671.1,793.4 672.6,793.5 674.1,794.2 675.6,793.9 677.1,794.2 678.6,794.5 680.1,794.7 681.6,794.6 683.1,794.4 684.6,795.5 686.1,795.7 687.6,795.4 689.1,795.2 690.6,796.3 692.1,795.2 693.6,796.4 695.1,796.2 696.6,795.8 698.1,796.4 699.6,796.5 701.1,795.9 702.6,796.6 704.1,797.2 705.6,797.1 707.1,796.6 708.6,796.8 710.1,797.6 711.6,796.8 713.1,797.9 714.6,797.8 716.1,797.7 717.6,797.9 719.1,798.1 720.6,797.8 722.1,799.0 723.6,798.5 725.1,798.9 726.6,798.3 728.1,799.5 729.6,799.4 731.1,798.9 732.6,799.9 734.1,800.0 735.6,799.5 737.1,799.4 738.6,800.3 740.1,799.3 741.6,800.7 743.1,800.8 744.6,799.7 746.1,801.0 747.6,800.2 749.1,801.1 750.6,801.2 752.1,800.4 753.6,800.7 755.1,801.7 756.6,801.5 758.1,801.5 759.6,800.9 761.1,801.7 762.6,800.8 764.1,801.2 765.6,801.3 767.1,801.1 768.6,801.7 770.0,801.2 770.1,802.5 771.6,801.9 773.1,802.4 774.6,802.1 776.1,801.6 777.6,802.2 779.1,801.6 780.6,802.1 782.1,802.6 783.6,802.1 785.1,803.2 786.6,802.8 788.1,802.1 789.6,802.7 791.1,803.4 792.6,802.6 794.1,802.5 795.6,802.8 797.1,803.1 798.6,803.1 800.1,802.9 801.6,803.3 803.1,803.4 804.6,803.8 806.1,804.3 807.6,803.8 809.1,803.1 810.6,803.3 812.1,803.5 813.6,804.5 815.1,803.3 816.6,804.2 818.1,803.9 819.6,803.8 821.1,804.4 822.6,804.6 824.1,804.7 825.6,803.9 827.1,803.9 828.6,804.0 830.1,804.1 831.6,804.1 833.1,804.6 834.6,804.3 836.1,804.8 837.6,805.3 839.1,805.1 840.6,804.2 842.1,805.4 843.6,804.6 845.1,804.4 846.6,804.5 848.1,804.2 849.6,804.6 851.1,804.9 852.6,804.4 854.1,805.6 855.6,804.8 857.1,805.0 858.6,804.7 860.1,805.5 860.3,805.5 861.6,804.9 863.1,804.0 864.6,804.7 866.1,803.8 867.6,803.1 869.1,803.2 870.6,803.1 872.1,802.6 873.6,801.4 875.1,802.2 876.6,801.4 878.1,801.9 878.4,801.2 879.6,801.9 881.1,801.8 882.6,800.7 884.1,801.9 885.6,801.6 887.1,801.5 888.6,800.6 890.1,801.5 891.6,801.5 893.1,801.9 894.6,801.2 896.1,800.7 897.6,801.7 899.1,801.2 900.6,801.1 902.1,801.6 903.6,800.7 904.2,800.7 905.1,802.0 906.6,801.9 908.1,801.8 909.6,801.4 911.1,801.3 912.6,801.1 914.1,801.0 915.6,802.1 917.1,801.4 918.6,802.2 920.1,801.4 921.6,801.7 923.1,802.1 924.6,802.1 926.1,802.0 927.6,803.0 929.1,802.1 930.6,803.0 932.1,803.1 933.6,803.1 935.1,802.8 936.6,803.6 938.1,803.8 939.6,803.7 941.1,803.9 942.6,803.9 944.1,803.9 945.6,804.2 947.1,804.2 948.6,804.0 950.1,804.9 950.6,804.2 951.6,803.9 953.1,804.8 954.6,805.2 956.1,804.2 957.6,804.2 959.1,804.7 960.6,804.8 962.1,804.7 963.6,805.0 965.1,805.3 966.6,805.1 968.1,805.7 969.6,805.6 971.1,805.7 972.6,805.4 974.1,806.4 975.6,806.3 977.1,806.3 978.6,806.0 980.1,807.0 981.6,806.7 983.1,806.9 984.6,806.5 986.1,806.6 987.6,806.8 989.1,806.2 989.3,806.2 990.6,806.9 992.1,806.2 993.6,805.8 995.1,806.4 996.6,807.0 998.1,806.3 999.6,806.5 1001.1,807.0 1002.6,805.9 1004.1,805.9 1005.6,805.7 1007.1,806.1 1008.6,805.8 1010.1,806.3 1011.6,806.0 1013.1,805.6 1014.6,806.4 1016.1,806.4 1017.6,806.6 1019.1,805.8 1020.6,806.0 1022.1,806.1 1023.6,806.4 1025.1,806.4 1026.6,805.5 1028.0,805.3 1028.1,805.4 1029.6,805.3 1031.1,806.0 1032.6,805.7 1034.1,804.9 1035.6,805.5 1037.1,805.5 1038.6,805.1 1040.1,805.3 1041.6,804.3 1043.1,805.0 1044.6,804.0 1046.1,805.0 1047.6,804.4 1049.1,804.6 1050.6,803.5 1052.1,803.4 1053.6,804.1 1055.1,802.9 1056.6,803.1 1058.1,803.5 1059.6,803.5 1061.1,802.3 1062.6,802.0 1064.1,802.6 1065.6,801.8 1067.1,801.8 1068.6,801.2 1070.1,801.5 1071.6,801.9 1073.1,801.4 1074.6,800.5 1076.1,800.4 1077.6,801.3 1079.1,800.8 1079.6,800.1 1080.6,800.6 1082.1,800.7 1083.6,800.6 1085.1,800.1 1086.6,799.3 1088.1,800.1 1089.6,799.7 1091.1,799.7 1092.6,799.0 1094.1,799.4 1095.6,799.1 1097.1,798.3 1098.6,797.9 1100.1,798.3 1101.6,797.6 1103.1,797.6 1104.6,797.2 1106.1,797.3 1107.6,797.0 1109.1,797.3 1110.6,797.0 1112.1,796.2 1113.6,796.7 1115.1,796.6 1116.6,796.0 1118.1,795.2 1119.6,796.1 1121.1,795.8 1122.6,794.7 1124.1,794.8 1125.6,795.2 1127.1,794.9 1128.6,794.0 1130.1,794.0 1131.2,793.5 1131.6,794.6 1133.1,794.3 1134.6,793.3 1136.1,793.3 1137.6,793.6 1139.1,793.1 1140.6,792.3 1142.1,793.0 1143.6,792.7 1145.1,791.5 1146.6,792.5 1148.1,791.8 1149.6,791.7 1151.1,791.6 1152.6,791.7 1154.1,790.9 1155.6,790.4 1157.1,790.4 1158.6,790.8 1160.1,790.3 1161.6,789.9 1163.1,789.7 1164.6,789.4 1166.1,789.8 1167.6,789.6 1169.1,788.5 1170.6,787.8 1172.1,787.7 1173.6,787.6 1175.1,787.6 1176.6,787.7 1178.1,787.4 1179.6,786.9 1181.1,787.3 1182.6,785.9 1182.8,786.3 1184.1,786.6 1185.6,786.1 1187.1,785.6 1188.6,785.6 1190.1,784.3 1191.6,785.0 1193.1,784.4 1194.6,784.6 1196.1,783.3 1197.6,783.3 1199.1,783.8 1200.6,782.6 1202.1,782.8 1203.6,782.8 1205.1,781.9 1206.6,781.5 1208.1,781.2 1209.6,780.5 1211.1,780.5 1212.6,780.4 1214.1,779.8 1215.6,779.2 1217.1,778.9 1218.6,778.1 1220.1,777.7 1221.6,778.6 1223.1,777.4 1224.6,777.6 1226.1,777.1 1227.6,776.2 1229.1,775.8 1230.6,775.9 1232.1,775.3 1233.6,775.2 1234.4,774.9 1235.1,774.5 1236.6,774.4 1238.1,773.7 1239.6,772.7 1240.0,773.2 1241.1,773.4 1242.6,772.4 1244.1,771.0 1245.6,770.5 1247.1,769.1 1248.6,768.9 1250.1,767.5 1251.6,766.8 1253.1,766.3 1254.6,764.8 1256.1,764.0 1257.6,761.9 1258.1,762.1 1259.1,761.8 1260.6,760.2 1262.1,759.8 1263.6,758.5 1265.1,757.6 1266.6,756.1 1268.1,755.9 1269.6,754.2 1271.1,753.2 1272.6,751.9 1274.1,750.9 1275.6,749.6 1276.1,750.4 1277.1,749.4 1278.6,748.1 1280.1,746.0 1281.6,745.0 1283.1,744.6 1284.6,743.3 1286.1,741.0 1287.6,740.1 1289.1,738.8 1290.6,736.9 1290.6,736.8 1292.1,735.0 1293.6,733.8 1295.1,731.3 1296.6,729.9 1298.1,726.8 1299.6,725.5 1301.1,724.0 1302.6,721.0 1303.2,720.1 1304.1,720.0 1305.6,717.5 1307.1,716.4 1308.6,713.9 1310.1,713.0 1311.6,711.2 1313.1,708.9 1314.6,707.6 1315.9,706.3 1316.1,706.1 1317.6,703.9 1319.1,702.3 1320.6,700.4 1322.1,697.4 1323.6,696.5 1325.1,693.7 1326.6,692.1 1326.7,692.5 1328.1,690.4 1329.6,688.3 1331.1,687.0 1332.6,684.7 1334.1,682.6 1335.6,681.8 1337.1,679.8 1338.6,678.8 1340.1,676.1 1341.2,675.9 1341.6,675.1 1343.1,672.8 1344.6,671.6 1346.1,670.4 1347.6,668.8 1349.1,666.8 1350.6,665.3 1352.1,664.2 1353.6,663.0 1355.1,661.5 1355.6,660.5 1356.6,661.0 1358.1,659.7 1358.9,659.4 1359.6,659.5 1361.1,658.2 1362.6,655.7 1364.1,654.4 1365.6,652.6 1366.1,652.3 1367.1,650.5 1368.6,649.5 1370.1,646.7 1371.6,645.5 1373.1,643.4 1374.4,642.2 1374.6,641.8 1376.1,641.3 1377.6,639.8 1379.1,637.8 1380.6,635.6 1382.1,634.3 1383.6,632.7 1383.7,632.8 1385.1,631.4 1386.6,629.5 1388.1,627.7 1389.6,626.5 1391.1,624.4 1391.9,623.9 1392.6,623.3 1394.1,622.0 1395.6,621.6 1397.1,620.2 1398.6,619.2 1400.1,618.8 1400.2,619.0 1401.6,616.9 1403.1,616.0 1404.6,613.8 1406.1,612.5 1407.6,611.4 1408.4,610.7 1409.1,609.7 1410.6,609.0 1412.1,607.9 1413.6,605.8 1415.1,605.5 1416.6,603.1 1417.7,602.7 1418.1,601.7 1419.6,599.4 1420.8,596.8 1421.1,597.2 1422.6,595.4 1424.1,595.0 1425.6,594.3 1427.0,593.3 1427.1,592.9 1428.6,590.7 1430.1,587.6 1431.6,586.1 1433.1,583.8 1433.2,583.0 1434.6,582.5 1436.1,581.0 1437.6,580.3 1439.1,578.6 1439.4,578.8 1440.6,577.0 1442.1,574.5 1443.6,571.9 1444.6,569.5 1445.1,569.7 1446.6,569.0 1448.1,566.6 1449.6,566.7 1451.1,565.0 1452.6,564.2 1453.8,562.4 1454.1,562.8 1455.6,560.8 1457.1,557.9 1458.6,555.1 1460.0,553.2 1460.1,552.6 1461.6,550.4 1463.1,549.3 1464.6,548.2 1466.1,546.2 1467.3,545.3 1467.6,545.5 1469.1,543.0 1470.6,541.5 1472.1,540.5 1473.6,540.1 1474.5,538.7 1475.1,539.0 1476.6,538.6 1478.1,537.2 1479.6,538.1 1479.6,538.1 1481.1,537.3 1482.6,538.7 1484.1,539.7 1484.8,540.6 1485.6,540.3 1487.1,542.5 1488.6,544.2 1490.1,547.2 1491.0,547.9 1491.6,549.9 1493.1,551.6 1494.6,553.6 1496.1,556.6 1497.2,558.9 1497.6,559.3 1499.1,562.1 1500.6,566.2 1502.1,569.3 1503.4,571.6 1503.6,573.2 1505.1,576.6 1506.6,582.2 1507.5,585.1 1508.1,586.4 1509.6,591.1 1511.1,597.3 1511.6,599.2 1512.6,602.6 1514.1,608.7 1515.6,614.4 1515.8,616.2 1517.1,621.0 1518.6,628.3 1519.9,633.8 1520.1,635.5 1521.6,642.1 1523.0,648.0 1523.1,649.2 1524.6,654.2 1526.1,660.2 1526.1,659.9 1527.6,668.5 1529.1,676.5 1530.0,680.6 1530.6,683.3 1532.1,689.5 1533.6,695.0 1535.1,700.2 1536.6,704.7 1538.1,710.3 1539.6,714.4 1540.3,716.4 1541.1,719.4 1542.6,724.1 1544.1,728.3 1545.6,733.3 1547.1,736.9 1548.6,740.8 1550.1,745.0 1551.6,749.5 1553.1,752.2 1553.2,753.1 1554.6,756.1 1556.1,759.3 1557.6,762.1 1559.1,765.2 1560.6,768.7 1562.1,770.8 1563.6,773.0 1565.1,776.0 1566.6,777.8 1568.1,780.0 1568.7,780.9 1569.6,782.5 1571.1,784.4 1572.6,786.1 1574.1,787.3 1575.6,789.1 1577.1,791.4 1578.6,792.2 1580.1,794.7 1581.6,795.9 1583.1,797.2 1584.6,798.9 1586.1,799.1 1587.6,800.9 1589.1,801.7 1589.4,802.3 1590.6,802.9 1592.1,803.8 1593.6,804.6 1595.1,806.1 1596.6,806.5 1598.1,806.9 1599.6,807.5 1601.1,809.5 1602.6,810.2 1604.1,810.6 1605.6,811.4 1607.1,812.3 1608.6,812.7 1610.1,812.7 1611.6,813.9 1613.1,814.3 1614.6,814.2 1615.2,814.9 1616.1,815.8 1617.6,816.3 1619.1,816.0 1620.6,817.2 1622.1,816.7 1623.6,817.3 1625.1,817.5 1626.6,818.1 1628.1,819.3 1629.6,818.6 1631.1,819.0 1632.6,819.5 1634.1,820.7 1635.6,820.2 1637.1,820.7 1638.6,821.2 1639.0,821.7 1640.1,821.4 1641.6,822.2 1643.1,822.7 1644.6,821.9 1646.1,823.4 1647.6,822.9 1649.1,823.5 1650.6,823.2 1652.1,824.7 1653.6,823.9 1655.1,825.4 1656.6,825.1 1658.1,825.7 1659.6,825.9 1661.1,825.3 1662.6,826.5 1664.1,826.1 1665.6,826.2 1667.1,827.7 1668.6,827.0 1670.1,828.2 1671.6,827.6 1673.1,828.5 1674.6,828.9 1676.1,828.6 1677.6,829.0 1679.1,829.9 1680.2,829.1 1680.6,829.0 1682.1,830.3 1683.6,830.7 1685.1,830.3 1686.6,830.3 1688.1,830.6 1689.6,831.3 1691.1,832.2 1692.6,832.2 1694.1,832.5 1695.6,832.2 1697.1,832.3 1698.6,833.1 1700.1,833.8 1701.6,833.6 1703.1,834.4 1704.6,833.9 1706.1,834.0 1707.6,833.9 1709.1,834.4 1710.6,835.3 1712.1,835.6 1713.6,835.1 1715.1,835.5 1716.6,835.5 1718.1,836.2 1719.6,836.4 1721.1,837.4 1722.6,837.4 1724.1,837.8 1725.6,837.0 1727.1,837.5 1728.6,838.5 1728.7,838.0" stroke="#ff0000" stroke-width="2"/>
<path d="M278.1,920.7 279.6,920.8 281.1,921.7 282.6,922.2 284.1,922.2 285.6,922.4 287.1,922.9 288.6,923.1 290.1,922.9 291.6,923.2 293.1,923.6 294.6,922.7 296.1,923.6 297.1,923.7 297.6,923.2 299.1,923.3 300.6,922.9 302.1,923.4 303.6,923.7 305.1,922.6 306.6,922.7 308.1,923.1 309.6,922.4 311.1,922.0 312.6,922.0 314.1,920.9 315.6,920.8 317.1,921.5 318.6,920.2 318.8,920.0 320.1,920.9 321.6,920.2 323.1,920.0 324.6,919.1 326.1,918.6 327.6,917.1 329.1,916.8 330.6,915.1 332.1,915.2 333.6,914.2 335.1,912.5 336.6,911.6 338.1,910.7 339.6,910.7 340.5,910.0 341.1,909.1 342.6,908.8 344.1,908.0 345.6,907.1 347.1,906.6 348.6,905.4 350.1,903.9 351.6,902.4 353.1,901.7 354.6,900.5 356.1,900.6 357.6,899.6 359.1,897.8 360.6,897.9 362.1,896.0 362.1,896.2 363.6,895.4 365.1,895.0 366.6,893.9 368.1,891.8 369.6,891.9 371.1,889.9 372.6,889.7 374.1,888.5 375.6,886.8 377.1,885.6 378.6,885.8 380.1,883.5 381.6,882.7 383.1,882.9 384.6,881.5 386.1,880.3 386.5,879.9 387.6,879.4 389.1,878.3 390.6,876.8 392.1,876.0 393.6,875.2 395.1,874.5 396.6,873.4 398.1,872.9 399.6,872.1 401.1,871.1 402.6,869.8 404.1,868.8 404.2,868.3 405.6,867.9 407.1,867.6 408.6,866.1 410.1,865.2 411.6,864.2 413.1,864.0 414.6,863.0 416.1,861.6 417.6,861.0 419.1,859.9 420.6,859.2 422.1,858.5 423.6,857.4 424.8,858.0 425.1,857.3 426.6,855.7 428.1,855.4 429.6,854.3 431.1,853.1 432.6,852.4 434.1,851.7 435.6,850.1 437.1,850.4 438.6,848.8 440.1,847.3 441.6,847.2 443.1,846.7 444.6,844.5 446.1,844.5 447.6,843.9 449.1,842.5 450.6,841.3 450.6,842.2 452.1,840.8 453.6,840.0 455.1,839.9 456.6,838.1 458.1,837.7 459.6,837.9 461.1,836.2 462.6,835.3 464.1,834.7 465.6,834.6 467.1,833.8 468.6,833.3 470.1,833.2 471.6,831.7 473.1,831.8 474.6,831.0 476.1,830.5 476.4,829.6 477.6,829.2 479.1,828.8 480.6,828.6 482.1,828.0 483.6,827.4 485.1,827.7 486.6,826.8 488.1,825.9 489.6,825.9 491.1,825.8 492.6,824.4 494.1,824.2 495.6,823.6 497.1,823.6 498.6,822.7 500.1,822.7 501.6,823.3 502.2,823.1 503.1,821.6 504.6,821.8 506.1,822.2 507.6,822.0 509.1,821.0 510.6,821.2 512.1,821.1 513.6,820.4 515.1,819.8 516.6,820.5 518.1,820.2 519.6,819.7 521.1,819.8 522.6,819.9 524.1,818.6 525.6,818.1 527.1,818.8 528.6,818.0 530.1,818.8 531.6,818.4 533.1,817.9 534.6,818.1 536.1,818.2 537.6,817.7 539.1,817.0 540.6,817.1 542.1,816.4 543.6,817.0 545.1,816.5 546.6,816.1 548.1,816.1 549.6,816.1 551.1,816.7 552.6,815.5 553.8,815.6 554.1,815.7 555.6,816.4 557.1,815.3 558.6,816.4 560.1,816.0 561.6,815.4 563.1,815.6 564.6,815.6 566.1,815.6 567.6,814.8 569.1,815.6 570.6,815.3 572.1,814.4 573.6,814.2 575.1,815.0 576.6,815.2 578.1,815.0 579.6,815.2 579.6,814.1 581.1,815.4 582.6,814.6 584.1,814.6 585.6,815.2 587.1,814.9 588.6,814.7 590.1,814.3 591.6,815.4 593.1,815.0 594.6,814.3 596.1,815.0 597.6,815.2 599.1,815.0 600.6,815.2 602.1,814.7 603.6,815.8 605.1,815.2 606.6,814.6 608.1,814.9 609.6,815.8 611.1,815.7 612.6,815.5 614.1,815.1 615.6,815.8 617.1,816.0 618.6,815.1 620.1,815.1 621.6,816.1 623.1,816.0 624.6,816.2 626.1,815.4 627.6,816.5 629.1,815.9 630.6,816.4 631.2,815.7 632.1,815.9 633.6,815.9 635.1,816.1 636.6,816.8 638.1,816.4 639.6,816.8 641.1,816.6 642.6,816.9 644.1,816.6 645.6,816.0 647.1,816.7 648.6,816.3 650.1,816.2 651.6,817.4 653.1,817.1 654.6,817.2 656.1,817.3 657.6,817.2 659.1,817.0 660.6,817.4 662.1,817.5 663.6,817.9 665.1,817.6 666.6,817.4 668.1,818.0 669.6,818.2 671.1,817.6 672.6,818.7 674.1,818.6 675.6,818.0 677.1,818.8 678.6,818.7 680.1,818.1 681.6,818.2 682.8,819.3 683.1,819.2 684.6,818.1 686.1,818.3 687.6,819.5 689.1,819.2 690.6,819.2 692.1,818.5 693.6,819.5 695.1,819.3 696.6,819.5 698.1,819.7 699.6,819.6 701.1,819.7 702.6,820.2 704.1,820.0 705.6,819.6 707.1,820.3 708.6,820.2 710.1,820.0 711.6,819.8 713.1,819.9 714.6,820.7 716.1,820.4 717.6,820.4 719.1,820.3 720.6,820.7 722.1,821.1 723.6,820.1 725.1,820.6 726.6,820.9 728.1,820.4 729.6,820.6 731.1,820.4 732.6,820.4 734.1,821.0 735.6,820.9 737.1,821.6 738.6,821.5 740.1,821.7 741.6,821.2 743.1,822.2 744.6,821.7 746.1,821.4 747.6,822.2 749.1,822.0 750.6,822.5 752.1,821.7 753.6,822.6 755.1,822.0 756.6,821.6 758.1,821.6 759.6,822.3 761.1,822.6 762.6,822.2 764.1,822.1 765.6,822.3 767.1,822.4 768.6,822.3 770.0,822.5 770.1,822.5 771.6,823.0 773.1,823.3 774.6,823.5 776.1,823.3 777.6,823.4 779.1,823.4 780.6,824.3 782.1,824.4 783.6,824.1 785.1,824.4 786.6,824.1 788.1,824.7 789.6,825.2 791.1,825.4 792.6,825.1 794.1,824.9 795.6,825.7 797.1,825.1 798.6,825.2 800.1,825.6 801.6,826.0 803.1,826.1 804.6,826.2 806.1,826.4 807.6,825.8 809.1,827.2 810.6,827.4 812.1,826.2 813.6,826.6 815.1,827.1 816.6,827.7 818.1,826.9 819.6,827.6 821.1,827.6 821.6,828.0 822.6,827.7 824.1,827.6 825.6,827.8 827.1,828.4 828.6,828.1 830.1,828.9 831.6,828.6 833.1,828.3 834.6,828.6 836.1,828.2 837.6,829.4 839.1,829.5 840.6,828.9 842.1,829.0 843.6,829.1 845.1,829.3 846.6,829.9 848.1,829.8 849.6,830.3 851.1,829.9 852.6,830.3 854.1,830.3 855.6,829.6 857.1,829.6 858.6,829.8 860.1,830.1 861.6,829.5 863.1,829.7 864.6,830.4 865.5,830.1 866.1,830.3 867.6,830.3 869.1,830.2 870.6,829.7 872.1,830.8 873.6,830.7 875.1,829.7 876.6,829.9 878.1,830.0 879.6,830.1 880.4,829.8 880.9,820.3 881.1,820.0 882.6,818.0 884.1,817.1 885.6,816.8 887.1,816.2 888.6,816.0 890.1,815.8 891.3,816.7 891.6,815.7 893.1,816.2 894.6,816.0 896.1,815.8 897.6,816.5 899.1,815.9 900.6,817.1 902.1,816.7 903.6,817.4 905.1,816.8 906.6,817.3 908.1,818.3 909.6,817.7 911.1,818.8 912.6,818.6 914.1,819.3 915.6,818.8 917.1,820.1 918.6,819.6 920.1,819.5 921.6,820.8 923.1,820.7 924.6,820.6 924.8,821.3 926.1,820.3 927.6,821.0 929.1,821.5 930.6,821.6 932.1,822.2 933.6,821.3 935.1,822.3 936.6,821.7 938.1,822.0 939.6,823.0 941.1,822.3 942.6,822.4 944.1,822.4 945.6,823.2 947.1,823.9 948.6,823.2 950.1,823.1 951.6,823.6 953.1,823.7 954.6,823.6 956.1,823.7 957.6,824.5 959.1,824.5 960.6,824.4 962.1,825.2 963.5,825.5 963.6,825.2 965.1,824.6 966.6,825.9 968.1,825.8 969.6,825.4 971.1,826.0 972.6,825.5 974.1,825.6 975.6,826.7 977.1,826.8 978.6,826.2 980.1,826.9 981.6,826.1 983.1,826.5 984.6,827.3 986.1,826.6 987.6,826.5 989.1,827.4 990.6,827.8 992.1,827.6 993.6,828.2 995.1,827.0 996.6,827.3 998.1,827.9 999.6,827.4 1001.1,828.1 1002.2,827.4 1002.6,828.2 1004.1,827.3 1005.6,827.6 1007.1,827.4 1008.6,827.9 1010.1,827.5 1011.6,826.9 1013.1,827.3 1014.6,826.1 1016.1,826.8 1017.6,827.0 1019.1,826.5 1020.6,826.3 1022.1,825.3 1023.6,825.3 1025.1,826.1 1026.6,824.7 1028.0,824.7 1028.1,825.4 1029.6,824.8 1031.1,825.4 1032.6,824.9 1034.1,824.8 1035.6,824.1 1037.1,824.6 1038.6,824.3 1040.1,824.1 1041.6,824.2 1043.1,823.9 1044.6,823.0 1046.1,823.4 1047.6,822.9 1049.1,822.0 1050.6,822.0 1052.1,822.6 1053.6,822.3 1055.1,821.2 1056.6,821.5 1058.1,822.0 1059.6,821.6 1061.1,820.9 1062.6,821.5 1064.1,820.7 1065.6,821.1 1067.1,820.3 1068.6,819.5 1070.1,819.7 1071.6,820.0 1073.1,819.3 1074.6,819.6 1076.1,818.7 1077.6,819.4 1079.1,818.8 1079.6,818.3 1080.6,818.7 1082.1,819.0 1083.6,818.2 1085.1,817.2 1086.6,817.0 1088.1,817.3 1089.6,816.5 1091.1,817.7 1092.6,816.5 1094.1,816.9 1095.6,815.9 1097.1,816.1 1098.6,816.0 1100.1,816.3 1101.6,815.7 1103.1,815.2 1104.6,814.3 1106.1,814.2 1107.6,814.3 1109.1,813.8 1110.6,814.8 1112.1,813.9 1113.6,813.2 1115.1,814.0 1116.6,813.5 1118.1,813.0 1119.6,813.2 1121.1,812.9 1122.6,812.1 1124.1,812.1 1125.6,811.4 1127.1,811.6 1128.6,811.0 1130.1,811.7 1131.2,810.8 1131.6,810.4 1133.1,810.9 1134.6,810.8 1136.1,809.8 1137.6,809.2 1139.1,809.6 1140.6,808.8 1142.1,809.5 1143.6,809.4 1145.1,808.4 1146.6,809.1 1148.1,808.5 1149.6,807.6 1151.1,807.5 1152.6,807.0 1154.1,806.9 1155.6,807.6 1157.1,806.6 1158.6,806.8 1160.1,805.7 1161.6,806.4 1163.1,805.1 1164.6,805.2 1166.1,805.5 1167.6,805.5 1169.1,804.4 1170.6,803.8 1172.1,804.7 1173.6,803.3 1175.1,802.8 1176.6,802.7 1178.1,803.1 1179.6,802.4 1181.1,802.7 1182.6,802.3 1182.8,802.0 1184.1,801.3 1185.6,801.5 1187.1,801.3 1188.6,800.3 1190.1,800.5 1191.6,799.8 1193.1,799.4 1194.6,798.1 1196.1,798.1 1197.6,797.5 1199.1,796.6 1200.6,797.0 1202.1,796.1 1203.6,795.8 1205.1,794.8 1206.6,794.5 1208.1,793.7 1209.6,793.7 1211.1,792.9 1212.6,792.1 1214.1,791.9 1215.6,791.5 1217.1,791.1 1218.6,790.3 1220.1,789.8 1221.6,789.7 1223.1,789.3 1224.6,788.1 1226.1,788.5 1227.6,788.1 1229.1,787.7 1230.6,787.6 1232.1,786.7 1233.6,786.8 1234.4,785.9 1235.1,786.4 1236.6,785.6 1238.1,785.7 1239.6,785.3 1240.0,785.6 1241.1,786.1 1242.6,785.2 1244.1,785.5 1245.6,784.2 1247.1,783.2 1248.6,783.7 1250.1,782.6 1251.6,781.5 1253.1,780.9 1254.6,780.6 1256.1,780.0 1257.6,778.8 1258.1,778.5 1259.1,778.7 1260.6,777.9 1262.1,776.7 1263.6,775.0 1265.1,775.0 1266.6,773.9 1268.1,772.0 1269.6,771.8 1271.1,770.9 1272.6,769.7 1274.1,767.9 1275.6,767.0 1276.1,766.4 1277.1,764.9 1278.6,763.3 1280.1,761.5 1281.6,760.2 1283.1,757.6 1284.6,755.3 1286.1,751.5 1287.0,750.3 1287.6,747.4 1289.1,741.1 1290.6,735.6 1290.6,734.9 1292.1,731.6 1293.6,730.3 1295.1,727.6 1296.6,725.3 1298.1,724.2 1299.6,722.3 1301.1,720.7 1302.6,720.0 1303.2,719.6 1304.1,718.2 1305.6,715.6 1307.1,714.3 1308.6,711.9 1310.1,709.5 1311.6,707.5 1313.1,707.0 1314.6,705.8 1315.9,704.2 1316.1,704.2 1317.6,704.3 1319.1,702.7 1320.6,703.3 1322.1,703.0 1323.6,702.4 1325.1,702.4 1326.6,701.7 1328.1,702.0 1329.6,700.6 1330.3,701.5 1331.1,701.0 1332.6,699.9 1334.1,699.1 1335.6,698.8 1337.1,699.1 1338.6,697.2 1340.1,697.2 1341.6,696.6 1343.1,696.5 1344.6,695.8 1346.1,695.0 1347.6,693.8 1348.4,693.4 1349.1,693.2 1350.6,693.4 1352.1,692.8 1353.6,691.3 1355.1,691.6 1356.6,690.0 1358.1,689.4 1359.6,688.4 1361.1,688.6 1362.6,688.0 1364.1,686.8 1365.6,686.3 1366.5,685.8 1367.1,685.6 1368.6,685.9 1370.1,685.4 1371.6,685.3 1373.1,683.6 1374.6,683.2 1376.1,683.9 1377.6,682.7 1379.1,682.7 1380.6,682.0 1382.1,682.2 1383.6,682.0 1384.5,680.5 1385.1,680.4 1386.6,680.7 1388.1,679.9 1389.6,679.6 1391.1,679.2 1392.6,679.0 1394.1,678.4 1395.6,678.0 1397.1,677.9 1398.6,678.1 1399.0,676.9 1400.1,677.2 1401.6,676.6 1403.1,675.9 1404.6,674.4 1406.1,673.3 1407.6,673.2 1409.1,671.5 1410.6,670.2 1411.6,670.6 1412.1,669.8 1413.6,669.4 1415.1,667.4 1416.6,666.6 1418.1,666.4 1419.6,664.9 1421.1,663.2 1422.6,662.9 1424.1,660.7 1424.3,661.0 1425.6,660.4 1427.1,658.6 1428.6,657.3 1430.1,656.6 1431.6,655.7 1433.1,654.2 1434.6,652.9 1435.3,652.2 1436.1,651.5 1437.6,651.4 1439.1,650.3 1440.6,649.6 1442.1,649.7 1443.6,648.4 1444.6,648.1 1445.1,648.7 1446.6,647.3 1448.1,648.2 1449.6,646.9 1450.8,647.0 1451.1,646.6 1452.6,647.6 1454.1,647.8 1455.6,647.7 1457.1,648.7 1458.6,649.3 1460.1,649.0 1461.6,649.9 1463.1,649.5 1463.2,650.8 1464.6,651.2 1466.1,651.1 1467.6,652.0 1469.1,652.4 1470.6,654.0 1472.1,654.3 1473.6,654.7 1475.1,655.9 1475.5,655.3 1476.6,655.7 1478.1,656.3 1479.6,657.1 1481.1,656.1 1482.6,656.8 1484.1,657.6 1485.6,656.9 1487.1,657.3 1487.9,658.6 1488.6,657.4 1490.1,658.1 1491.6,659.5 1493.1,659.9 1494.6,660.9 1496.1,661.0 1497.6,661.8 1499.1,661.6 1500.0,661.7 1500.6,661.5 1502.1,661.9 1503.6,661.6 1505.1,662.5 1506.6,662.5 1506.8,661.7 1508.1,661.6 1509.6,663.1 1511.1,664.2 1512.6,664.5 1514.1,666.5 1514.5,666.2 1515.6,668.0 1517.1,669.9 1518.6,671.1 1520.1,673.5 1521.6,677.1 1522.3,678.6 1523.1,679.2 1524.6,682.4 1526.1,686.6 1527.6,689.6 1529.1,693.3 1530.0,696.2 1530.6,697.4 1532.1,702.5 1533.6,708.1 1535.1,713.1 1536.6,718.6 1537.7,722.5 1538.1,723.3 1539.6,728.6 1541.1,732.1 1542.6,736.7 1544.1,742.2 1545.6,746.7 1547.1,750.0 1548.1,752.7 1548.6,754.6 1550.1,758.0 1551.6,762.4 1553.1,765.7 1554.6,769.0 1556.1,771.8 1557.6,775.2 1559.1,778.2 1560.6,780.3 1561.0,781.5 1562.1,782.7 1563.6,786.0 1565.1,787.9 1566.6,789.5 1568.1,791.3 1569.6,794.1 1571.1,796.1 1572.6,797.9 1574.1,798.7 1575.6,800.4 1577.1,803.0 1578.6,804.0 1579.0,804.8 1580.1,805.1 1581.6,807.6 1583.1,809.0 1584.6,809.3 1586.1,811.7 1587.6,812.5 1589.1,814.0 1590.6,814.5 1592.1,815.8 1593.6,817.3 1595.1,818.3 1596.6,819.1 1597.1,819.5" stroke="#ff0000" stroke-width="2"/>
<path d="M278.1,904.4 279.6,903.3 281.1,901.2 282.6,899.5 282.9,900.0 284.1,898.5 285.6,898.2 287.1,896.7 288.6,895.9 290.1,895.6 291.6,894.5 293.1,893.7 294.6,892.4 296.1,892.1 297.6,890.0 299.1,890.5 300.6,889.0 302.1,888.1 303.6,887.9 305.1,887.8 306.6,886.3 308.1,886.5 308.7,885.7 309.6,886.0 311.1,885.1 312.6,884.6 314.1,883.5 315.6,883.3 317.1,882.3 318.6,882.6 320.1,881.3 321.6,881.4 323.1,880.2 324.6,880.0 326.1,879.7 327.6,879.1 329.1,878.8 330.6,878.4 332.1,877.8 333.6,877.9 334.5,877.9 335.1,877.7 336.6,878.1 338.1,876.7 339.6,877.1 341.1,876.4 342.6,875.7 344.1,876.5 345.6,875.7 347.1,876.2 348.6,875.7 350.1,875.6 351.6,875.0 353.1,874.6 354.6,875.2 356.1,874.5 357.6,875.1 357.7,875.2 359.1,874.4 360.6,875.0 362.1,875.2 363.6,875.6 365.1,875.1 366.6,874.9 368.1,875.2 369.6,875.6 371.1,875.5 372.6,876.7 374.1,876.1 375.6,877.0 377.1,878.0 378.6,877.5 380.1,877.6 381.6,878.2 383.1,878.3 384.6,878.5 386.1,878.9 386.1,879.0 387.6,879.5 389.1,879.6 390.6,880.4 392.1,881.1 393.6,880.2 395.1,881.2 396.6,881.8 398.1,882.0 399.6,882.6 401.1,882.4 402.6,883.8 404.1,884.3 405.6,884.5 407.1,884.5 408.6,885.3 410.1,885.4 411.6,886.1 413.1,886.0 414.6,886.1 416.1,886.8 417.6,887.1 419.1,887.1 420.6,888.1 421.8,888.5 422.1,887.9 423.6,888.1 425.1,889.0 426.6,889.2 428.1,889.9 429.6,890.3 431.1,889.6 432.6,890.2 434.1,891.4 435.6,891.5 437.1,892.0 438.6,892.3 440.1,892.4 441.6,892.3 443.1,892.6 444.6,893.4 446.1,893.7 447.6,894.4 449.1,894.3 450.6,894.6 452.1,894.1 453.6,895.3 455.1,895.9 456.6,895.9 458.1,896.0 459.6,896.0 459.7,897.0 461.1,896.2 462.6,897.2 464.1,897.1 465.6,897.5 467.1,897.0 468.6,898.4 470.1,898.1 471.6,899.1 473.1,899.4 474.6,899.6 476.1,899.6 477.6,899.1 479.1,899.4 480.6,899.9 482.1,899.9 483.6,901.2 485.1,900.8 486.6,901.4 488.1,900.9 489.6,901.8 491.1,901.3 492.6,901.8 494.1,902.9 495.6,902.6 497.1,903.4 498.6,903.2 500.1,903.4 501.6,903.6 503.1,903.7 504.6,904.2 506.1,904.1 507.6,905.1 509.1,904.5 510.6,905.5 512.1,905.2 513.6,905.7 515.1,905.4 516.6,906.7 518.1,906.1 519.6,907.2 521.1,906.3 522.6,906.8 524.1,907.4 525.6,907.6 527.1,908.2 528.6,907.3 530.1,908.1 531.6,908.5 533.1,908.7 534.6,908.9 536.1,908.9 537.6,910.0 539.1,909.1 540.6,909.5 541.0,909.7 542.1,910.6 543.6,909.8 545.1,910.0 546.6,910.7 548.1,910.9 549.6,911.0 551.1,911.3 552.6,911.9 554.1,912.1 555.6,912.5 557.1,912.0 558.6,912.6 560.1,912.7 561.6,912.4 563.1,913.0 564.6,913.1 566.1,914.0 567.6,913.7 569.1,914.2 570.6,913.9 572.1,914.7 573.6,915.0 575.1,914.1 576.6,915.0 578.1,915.2 579.6,915.2 581.1,915.9 582.6,915.5 584.1,916.3 585.6,916.4 587.1,916.4 588.6,916.0 590.1,916.3 591.6,916.6 593.1,917.6 594.6,917.7 596.1,916.7 597.6,918.2 599.1,917.9 600.6,918.5 602.1,917.9 603.6,917.9 605.1,918.5 606.6,919.2 608.1,918.9 609.6,919.1 611.1,918.6 612.6,919.3 614.1,919.8 615.6,919.8 617.1,920.1 618.6,920.6 620.1,920.8 621.6,920.0 622.3,920.4 623.1,920.2 624.6,921.2 626.1,921.3 627.6,921.2 629.1,922.0 630.6,922.3 632.1,921.8 633.6,922.3 635.1,922.6 636.6,922.7 638.1,922.3 639.6,923.5 641.1,922.5 642.6,923.0 644.1,923.9 645.6,923.3 647.1,924.1 648.6,923.8 650.1,924.0 651.6,924.7 653.1,924.1 654.6,924.5 656.1,925.1 657.6,924.2 659.1,924.9 660.6,925.4 662.1,925.1 663.6,925.8 665.1,926.0 666.6,926.3 668.1,926.4 669.6,926.5 671.1,926.2 672.6,926.5 674.1,926.4 675.6,926.7 677.1,927.8 678.6,926.7 680.1,927.7 681.6,927.6 683.1,928.5 684.6,927.9 686.1,927.9 687.6,928.2 689.1,928.7 690.6,929.4 692.1,928.4 693.6,928.8 695.1,929.5 696.6,930.0 698.1,929.9 699.6,929.9 701.1,929.3 702.6,929.3 703.6,930.5 704.1,930.2 705.6,929.9 707.1,931.1 708.6,930.3 710.1,931.4 711.6,931.1 713.1,931.1 714.6,931.5 716.1,932.1 717.6,931.4 719.1,932.3 720.6,932.4 722.1,932.3 723.6,932.0 725.1,932.6 726.6,932.7 728.1,932.3 729.6,933.3 731.1,933.0 732.6,932.5 734.1,933.4 735.6,933.1 737.1,933.2 738.6,934.4 740.1,933.6 741.6,933.6 743.1,934.2 744.6,933.9 746.1,934.3 747.6,934.3 749.1,935.2 750.6,934.9 752.1,934.8 753.6,934.8 755.1,935.8 756.6,936.3 758.1,935.9 759.6,935.5 761.1,936.2 762.6,936.9 764.1,935.9 765.6,936.4 767.1,936.3 768.6,936.3 770.0,937.1 770.1,937.1 771.6,936.4 773.1,937.8 774.6,937.8 776.1,937.4 777.6,937.8 779.1,937.9 780.6,937.8 782.1,937.6 783.6,938.7 785.1,938.5 786.6,937.9 788.1,938.0 789.6,939.0 791.1,938.8 792.6,939.3 794.1,938.9 795.6,939.1 797.1,939.0 798.6,940.1 800.1,939.3 801.6,940.3 803.1,939.6 804.6,939.9 806.1,939.8 807.6,940.2 809.1,940.0 810.6,940.1 812.1,941.2 813.6,941.2 815.1,940.8 816.6,941.5 818.1,942.0 819.6,941.7 821.1,941.8 822.6,942.0 824.1,942.0 825.6,942.2 827.1,942.5 828.6,942.6 830.1,942.7 831.6,943.1 833.1,943.1 834.6,942.6 836.1,942.6 837.6,943.5 837.8,942.9 839.1,943.1 840.6,942.9 842.1,943.5 843.6,943.2 845.1,942.7 846.6,942.9 848.1,943.2 849.6,944.3 851.1,943.4 852.6,943.6 854.1,944.5 855.6,943.9 857.1,943.8 858.6,944.3 860.1,944.2 861.6,943.7 863.1,944.0 864.6,944.6 866.1,944.8 867.6,944.9 869.1,945.1 870.6,945.0 872.1,944.4 873.6,944.6 875.1,945.5 876.6,945.0 878.1,945.8 879.6,945.4 881.1,945.2 882.6,945.1 884.1,945.5 885.6,944.9 887.1,945.0 888.6,945.5 890.1,945.4 891.6,945.1 893.1,945.4 894.6,945.0 894.7,945.9 896.1,945.5 897.6,945.4 899.1,944.5 900.6,943.4 902.1,943.3 903.6,942.6 905.1,941.8 905.5,941.9 906.6,942.0 908.1,942.0 909.6,941.0 911.1,941.5 912.6,940.8 914.1,941.9 915.6,941.7 917.1,941.4 918.6,940.4 920.1,941.5 921.6,940.5 923.1,940.9 924.5,940.9 924.6,940.3 926.1,941.1 927.6,941.5 929.1,940.6 930.6,941.8 932.1,941.8 933.6,941.7 935.1,941.0 936.6,941.9 938.1,941.8 939.6,942.1 941.1,942.8 942.6,942.6 944.1,942.1 945.6,942.4 947.1,942.8 948.6,942.7 950.1,943.7 951.6,943.2 953.1,944.0 954.6,944.5 956.1,943.6 957.6,944.5 959.1,944.4 959.7,945.1 960.6,944.5 962.1,944.3 963.6,945.1 965.1,944.3 966.6,945.5 968.1,945.4 969.6,945.0 971.1,945.8 972.6,945.7 974.1,946.4 975.6,946.4 977.1,946.4 978.6,946.6 980.1,946.8 981.6,946.9 983.1,947.0 984.6,946.8 986.1,947.1 987.6,947.5 989.1,946.8 990.6,947.9 992.1,948.0 993.6,947.6 995.1,947.1 996.6,947.5 998.1,947.8 999.6,948.0 1001.1,948.3 1002.6,948.6 1004.1,947.5 1005.6,948.2 1007.1,947.8 1008.6,948.7 1010.1,948.8 1011.6,948.9 1013.1,948.8 1013.9,947.7 1014.6,947.9 1016.1,947.8 1017.6,948.1 1019.1,948.1 1020.6,947.9 1022.1,948.5 1023.6,948.6 1025.1,948.8 1026.6,947.5 1028.1,948.0 1029.6,947.8 1031.1,948.6 1032.6,947.3 1034.1,948.4 1035.6,947.2 1037.1,947.2 1038.6,947.4 1040.1,947.7 1041.6,947.3 1043.1,947.9 1044.6,946.8 1046.1,947.5 1047.6,947.4 1049.1,947.4 1050.6,946.9 1052.1,947.1 1053.6,947.1 1055.1,946.4 1056.6,946.9 1058.1,946.7 1059.6,946.2 1061.1,946.6 1062.6,946.8 1064.1,946.1 1065.6,946.0 1067.1,946.0 1068.1,946.7 1068.6,946.0 1070.1,946.3 1071.6,945.6 1073.1,946.0 1074.6,945.9 1076.1,946.3 1077.6,946.5 1079.1,946.3 1080.6,945.5 1082.1,945.3 1083.6,945.4 1085.1,945.1 1086.6,946.0 1088.1,944.9 1089.6,945.6 1091.1,944.9 1092.6,944.8 1094.1,945.2 1095.6,945.6 1097.1,945.0 1098.6,945.4 1100.1,944.8 1101.6,945.3 1103.1,944.6 1104.6,945.1 1106.1,945.4 1107.6,944.5 1109.1,943.9 1110.6,944.7 1112.1,944.9 1113.6,943.6 1115.1,944.8 1116.6,943.7 1118.1,944.1 1119.6,944.5 1121.1,943.4 1122.3,943.7 1122.6,943.5 1124.1,943.3 1125.6,943.3 1127.1,943.2 1128.6,943.6 1130.1,943.2 1131.6,943.4 1133.1,942.4 1134.6,942.6 1136.1,942.5 1137.6,942.1 1139.1,942.5 1140.6,942.2 1142.1,941.0 1143.6,941.6 1145.1,940.7 1146.6,940.5 1148.1,941.2 1149.6,940.6 1151.1,940.1 1152.6,940.9 1154.1,940.5 1155.6,940.2 1157.1,939.4 1158.6,938.8 1160.1,939.0 1161.6,939.5 1163.1,938.4 1164.6,938.5 1166.1,937.6 1167.6,937.6 1169.1,937.8 1170.6,937.3 1172.1,938.1 1173.6,937.1 1175.1,936.5 1176.5,936.4 1176.6,936.3 1178.1,936.3 1179.6,937.2 1181.1,936.9 1182.6,935.5 1184.1,936.1 1185.6,935.8 1187.1,935.3 1188.6,935.9 1190.1,935.8 1191.6,935.5 1193.1,935.1 1194.6,934.1 1195.5,934.3 1196.1,934.1 1197.6,934.6 1199.1,933.8 1200.6,933.7 1202.1,933.5 1203.6,932.0 1205.1,932.6 1206.6,931.9 1208.1,931.4 1209.6,931.4 1211.0,930.4 1211.1,930.2 1212.6,930.0 1214.1,929.7 1215.6,930.0 1217.1,929.6 1218.6,928.6 1220.1,928.5 1221.6,929.2 1223.1,928.2 1224.6,927.8 1226.1,927.5 1227.6,927.9 1229.1,926.4 1229.5,927.3 1230.6,926.2 1232.1,926.7 1233.6,925.6 1235.1,925.3 1236.6,925.1 1238.1,924.5 1239.6,923.7 1241.1,923.9 1242.6,923.3 1244.1,922.0 1245.6,922.7 1247.1,921.2 1248.1,921.2 1248.6,921.3 1250.1,921.0 1251.6,920.3 1253.1,920.3 1254.6,919.6 1256.1,918.4 1257.6,918.8 1259.1,916.8 1260.5,917.1 1260.6,917.0 1262.1,916.0 1263.6,914.5 1265.1,912.6 1266.6,912.1 1268.1,910.2 1268.2,910.0 1269.6,907.8 1271.1,905.1 1272.6,902.6 1274.1,899.1 1275.6,897.3 1276.0,897.6 1277.1,896.6 1278.6,895.5 1280.1,894.6 1281.6,893.4 1283.1,891.8 1284.6,892.4 1286.1,891.2 1287.6,889.5 1288.4,890.2 1289.1,889.8 1290.6,887.8 1292.1,886.9 1293.6,886.9 1295.1,885.2 1296.6,884.1 1298.1,884.1 1299.6,883.5 1301.1,881.4 1302.6,880.5 1303.8,881.0 1304.1,880.6 1305.6,878.8 1307.1,878.0 1308.6,877.8 1310.1,876.4 1311.6,875.3 1313.1,874.0 1314.6,874.1 1316.1,872.3 1317.6,871.6 1319.1,870.5 1319.3,870.5 1320.6,869.9 1322.1,870.2 1323.6,868.7 1325.1,868.2 1326.6,866.8 1328.1,865.9 1329.6,865.5 1331.1,864.8 1332.6,863.7 1334.1,863.8 1334.8,863.1 1335.6,863.1 1337.1,862.5 1338.6,861.0 1340.1,861.3 1341.6,860.0 1343.1,859.5 1344.6,858.5 1346.1,857.8 1347.6,856.6 1349.1,855.5 1350.3,855.7 1350.6,854.9 1352.1,853.9 1353.6,854.0 1355.1,853.1 1356.6,852.2 1358.1,851.7 1359.6,850.9 1361.1,849.3 1362.6,847.9 1364.1,847.0 1365.6,846.4 1365.8,846.5 1367.1,844.8 1368.6,844.4 1370.1,842.9 1371.6,842.3 1373.1,841.4 1374.6,838.9 1376.1,838.2 1377.6,837.7 1379.1,836.0 1380.6,835.0 1381.2,834.3 1382.1,833.9 1383.6,831.9 1385.1,830.8 1386.6,829.4 1388.1,827.9 1389.6,826.3 1391.1,825.3 1392.6,823.4 1394.1,822.6 1395.6,821.1 1396.7,819.4 1397.1,819.9 1398.6,817.9 1400.1,815.9 1401.6,815.0 1403.1,813.4 1404.6,812.2 1406.1,810.0 1407.6,807.9 1409.1,806.7 1410.6,805.7 1412.1,804.3 1413.6,802.2 1413.6,803.2 1415.1,802.1 1416.6,800.8 1418.1,798.9 1419.6,797.7 1421.1,797.0 1422.6,796.8 1424.1,795.0 1425.6,794.9 1427.1,793.1 1428.6,792.2 1429.1,791.6 1430.1,790.5 1431.6,790.2 1433.1,788.1 1434.6,788.0 1436.1,785.6 1437.6,784.6 1439.1,783.8 1440.6,782.4 1442.1,780.9 1443.6,779.6 1445.1,776.9 1446.6,775.3 1447.7,774.4 1448.1,773.7 1449.6,772.7 1451.1,771.1 1452.6,768.6 1454.1,767.3 1455.6,764.9 1457.1,762.4 1458.6,759.7 1460.1,757.8 1461.6,755.7 1463.1,752.5 1463.2,753.4 1464.6,750.6 1466.1,748.1 1467.6,744.8 1469.1,742.8 1469.3,742.4 1470.6,740.3 1472.1,737.6 1473.6,734.6 1475.1,732.3 1476.6,729.9 1478.1,728.4 1478.6,728.5 1479.6,727.3 1481.1,727.8 1482.6,727.0 1484.1,725.4 1484.1,724.2 1484.8,707.1 1485.6,682.1 1485.6,681.1 1486.4,658.4 1487.1,649.8 1488.6,641.4 1488.7,641.3 1490.1,647.4 1491.6,658.2 1491.8,658.3 1493.1,668.7 1494.6,680.8 1495.7,689.2 1496.1,693.0 1497.6,704.3 1499.1,713.8 1500.0,719.3 1500.6,723.4 1502.1,731.4 1503.6,739.3 1504.2,742.2 1505.1,747.6 1506.6,755.5 1508.1,761.8 1509.6,770.1 1511.1,777.1 1511.9,781.5 1512.6,784.7 1514.1,794.3 1515.6,804.1 1517.1,813.8 1518.4,818.9 1518.6,820.5 1520.1,826.2 1521.6,831.0 1523.1,834.6 1524.6,838.5 1525.4,841.7 1526.1,844.3 1527.6,850.3 1529.1,857.4 1530.6,862.9 1531.6,867.0 1532.1,868.4 1533.6,872.5 1535.1,877.5 1536.6,881.3 1538.1,884.8 1539.6,888.9 1539.9,889.6 1541.1,891.8 1542.6,895.7 1544.1,898.3 1545.6,901.9 1547.1,904.7 1548.6,907.3 1550.1,910.0 1551.6,912.9 1552.3,914.4 1553.1,916.3 1554.6,918.0 1556.1,920.1 1557.6,922.6 1559.1,925.7 1560.6,927.0 1562.1,928.8 1563.6,931.3 1564.7,932.9 1565.1,932.9 1566.6,935.6 1568.1,936.7 1569.6,938.4 1571.1,939.3 1572.6,941.0 1574.1,943.1 1575.6,943.5 1577.0,944.5 1577.1,945.1 1578.6,946.0 1580.1,948.1 1581.6,948.5 1583.1,950.0 1584.6,950.5 1586.1,951.7 1587.6,953.3 1589.1,953.9 1590.6,955.1 1592.1,956.7 1593.6,956.9 1595.1,958.7 1596.6,959.4 1597.7,960.2 1598.1,959.5 1599.6,960.3 1601.1,961.3 1602.6,961.3 1604.1,962.9 1605.6,963.5 1607.1,963.2 1608.6,964.3 1610.1,965.0 1611.6,965.2 1613.1,965.7 1614.6,966.6 1616.1,966.5 1617.6,967.3 1618.3,967.5 1619.1,968.1 1620.6,969.2 1622.1,969.4 1623.6,969.2 1625.1,969.9 1626.6,970.1 1628.1,971.3 1629.6,972.3 1631.1,972.7 1632.6,973.0 1634.1,973.3 1635.6,973.9 1637.1,974.6 1638.6,974.1 1640.1,975.5 1641.6,975.9 1643.1,976.1 1644.6,976.6 1646.1,977.3 1647.6,977.1 1649.1,977.0 1650.6,978.6 1652.1,979.0 1653.6,978.2 1655.1,978.9 1656.6,979.6 1658.1,979.4 1659.6,980.1 1659.6,980.9 1661.1,981.1 1662.6,980.8 1664.1,981.6 1665.6,982.1 1667.1,982.6 1668.6,982.6 1670.1,983.3 1671.6,982.7 1673.1,982.9 1674.6,983.5 1676.1,983.8 1677.6,984.3 1679.1,984.7 1680.6,984.2 1682.1,985.6 1683.6,985.6 1685.1,986.2 1686.6,985.6 1688.1,986.6 1689.6,986.1 1691.1,986.1 1692.6,987.2 1694.1,986.9 1695.6,987.8 1697.1,987.8 1698.6,988.5 1700.1,988.9 1700.9,987.8 1701.6,988.9 1703.1,988.8 1704.6,988.5 1706.1,989.6 1707.6,990.2 1709.1,990.1 1710.6,990.7 1712.1,990.6 1713.6,990.9 1715.1,991.4 1716.6,991.1 1718.1,991.0 1719.6,991.8 1721.1,992.5 1722.6,992.6 1724.1,992.0 1725.6,992.9 1727.1,992.1 1728.6,993.2 1728.7,993.0" stroke="#ff0000" stroke-width="2"/>
<path d="M277.7,547.7 279.2,548.4 280.7,548.5 282.2,549.8 283.7,551.0 285.2,550.7 286.7,553.0 288.2,553.8 289.7,553.1 291.2,555.2 292.7,554.9 294.2,556.6 295.7,556.4 297.2,558.2 298.7,559.4 300.2,560.3 301.7,560.5 303.2,560.3 304.7,561.5 306.2,562.1 307.7,564.1 309.2,563.7 310.7,565.0 312.2,565.5 313.7,565.8 315.2,567.0 316.7,568.5 318.2,568.6 319.7,569.9 321.2,570.5 322.7,570.4 324.2,572.4 325.7,573.1 327.2,574.1 328.7,573.7 330.2,576.0 331.7,576.6 333.2,577.5 334.5,578.2 334.7,577.7 336.2,578.1 337.7,578.3 339.2,580.3 340.7,581.0 342.2,581.9 343.7,581.6 345.2,584.1 346.7,583.9 348.2,584.2 349.7,586.7 351.2,587.1 352.7,587.6 354.2,588.9 355.7,589.8 357.2,590.5 358.7,590.8 360.2,591.6 361.7,593.1 363.2,593.0 364.7,593.9 366.2,594.8 367.7,596.1 369.2,597.2 370.7,597.9 372.2,599.2 373.7,600.4 375.2,599.6 376.7,600.6 378.2,602.5 379.7,602.6 381.2,603.9 382.7,603.6 384.2,604.5 385.7,606.6 387.2,606.6 388.7,606.8 390.2,609.0 391.7,608.4 393.2,608.9 394.7,610.4 396.2,611.1 397.7,610.9 399.0,612.5 399.2,612.0 400.7,613.9 402.2,613.3 403.7,614.6 405.2,615.1 406.7,615.7 408.2,615.3 409.7,617.3 411.2,617.1 412.7,618.1 414.2,619.2 415.7,619.5 417.2,619.3 418.7,621.3 420.2,621.5 421.7,621.6 423.2,622.6 424.7,622.4 426.2,623.0 427.7,623.7 429.2,624.0 430.7,624.6 432.2,625.8 433.7,626.0 435.2,626.2 436.7,627.3 438.2,627.4 439.7,628.1 441.2,629.0 442.7,629.4 444.2,630.5 445.7,629.8 447.2,630.8 448.7,631.7 450.2,631.2 451.7,631.8 453.2,632.5 454.7,633.7 456.2,632.6 457.7,634.1 459.2,634.2 460.7,635.1 462.2,635.9 463.5,634.6 463.7,636.1 465.2,636.8 466.7,636.1 468.2,637.1 469.7,638.0 471.2,637.6 472.7,637.6 474.2,639.2 475.7,638.6 477.2,638.9 478.7,639.9 480.2,639.9 481.7,639.5 483.2,639.9 484.7,641.2 486.2,641.3 487.7,642.1 489.2,641.8 490.7,642.8 492.2,643.7 493.7,642.5 495.2,643.2 496.7,644.6 498.2,644.6 499.7,644.0 501.2,645.1 502.7,645.7 504.2,645.6 505.7,645.8 507.2,645.3 508.7,645.9 510.2,647.3 511.7,647.0 513.2,647.2 514.7,648.4 516.2,647.3 517.7,647.3 519.2,648.1 520.7,647.9 522.2,648.3 523.7,649.5 525.2,648.6 526.7,650.2 528.0,649.4 528.2,649.0 529.7,649.5 531.2,649.5 532.7,650.1 534.2,650.0 535.7,651.2 537.2,651.4 538.7,651.0 540.2,650.8 541.7,651.6 543.2,650.8 544.7,652.3 546.2,651.4 547.7,651.1 549.2,651.7 550.7,651.7 552.2,651.8 553.7,652.1 555.2,653.1 556.7,652.7 558.2,653.0 559.7,652.5 561.2,653.5 562.7,652.9 564.2,653.5 565.7,653.1 567.2,654.1 568.7,653.3 570.2,653.3 571.7,654.0 573.2,654.4 574.7,654.0 576.2,654.1 577.7,654.0 579.2,655.0 580.7,654.4 582.2,654.4 583.7,654.3 585.2,654.4 586.7,655.7 588.2,654.4 589.7,654.5 591.2,655.2 592.5,655.2 592.7,654.5 594.2,655.3 595.7,654.5 597.2,655.0 598.7,654.8 600.2,655.0 601.7,656.2 603.2,654.7 604.7,655.6 606.2,655.8 607.7,655.2 609.2,655.2 610.7,655.1 612.2,655.7 613.7,656.2 615.2,655.5 616.7,655.7 618.2,656.5 619.7,655.7 621.2,656.4 622.7,656.6 624.2,655.7 625.7,655.3 627.2,655.9 628.7,655.0 630.2,655.1 631.2,656.6 631.7,655.5 633.2,656.1 634.7,655.5 636.2,655.1 637.7,656.6 639.2,656.3 640.7,655.8 642.2,656.5 643.7,655.7 645.2,655.4 646.7,655.6 648.2,656.2 649.7,655.3 651.2,655.2 652.7,655.1 654.2,655.3 655.7,656.0 657.2,655.1 658.7,655.3 660.2,655.5 661.7,655.9 663.2,655.3 664.7,654.8 666.2,655.0 667.7,654.6 669.2,655.4 670.7,654.9 672.2,655.5 673.7,654.9 675.2,654.9 676.7,654.1 678.2,654.8 679.7,655.3 681.2,654.2 682.7,653.5 682.8,654.8 684.2,654.1 685.7,654.5 687.2,654.8 688.7,654.7 690.2,654.7 691.7,654.1 693.2,653.8 694.7,654.5 696.2,654.3 697.7,653.8 699.2,654.3 700.7,653.8 702.2,653.5 703.7,654.1 705.2,653.5 706.7,654.0 708.2,652.8 709.7,652.5 711.2,652.8 712.7,653.0 714.2,653.1 715.7,653.8 717.2,652.2 718.7,652.4 720.2,653.3 721.7,653.6 723.2,652.2 724.7,652.0 726.2,653.1 727.7,653.0 729.2,652.9 730.7,653.2 732.2,651.7 733.7,652.6 735.2,652.5 736.7,652.5 738.2,652.8 739.7,651.2 741.2,652.8 742.7,652.0 744.2,651.3 745.7,651.9 747.2,651.2 748.7,652.2 750.2,652.1 751.7,652.0 753.2,651.9 754.7,652.0 756.2,650.9 757.7,651.3 759.2,652.1 760.7,651.5 762.2,651.3 763.7,651.7 765.2,650.7 766.7,651.7 768.2,651.1 769.7,651.6 770.0,650.5 771.2,650.2 772.7,651.7 774.2,650.9 775.7,651.4 777.2,650.2 778.7,650.8 780.2,650.5 781.7,650.1 783.2,649.7 784.7,650.4 786.2,650.1 787.7,650.7 789.2,649.8 790.7,650.8 792.2,650.2 793.7,650.8 795.2,649.5 796.7,650.1 798.2,650.2 799.7,650.7 801.2,650.2 802.7,649.7 804.2,650.2 805.7,650.7 807.2,649.5 808.7,649.6 810.2,649.2 811.7,650.7 813.2,650.4 814.7,650.4 816.2,650.6 817.7,650.6 819.2,650.2 820.7,650.6 822.2,650.5 823.7,649.1 825.2,650.7 826.7,650.0 828.2,650.1 829.7,650.3 831.2,650.5 832.7,650.4 834.2,648.8 835.7,649.2 837.2,650.2 838.7,648.9 840.2,648.8 841.7,648.8 843.2,649.6 844.7,650.0 846.2,649.9 847.7,648.7 849.2,648.9 850.7,649.9 852.2,649.3 853.7,648.5 855.2,648.9 856.7,649.8 858.2,649.9 859.7,649.5 861.2,648.6 862.7,648.8 864.2,648.3 865.7,649.2 867.2,648.9 868.7,648.0 870.2,649.2 871.7,649.1 873.2,649.1 873.2,649.1 874.7,648.2 876.2,647.9 877.7,648.4 879.2,647.1 880.7,646.6 882.2,647.5 883.7,646.8 885.2,647.5 886.7,646.2 888.2,646.4 889.7,645.2 891.2,645.6 892.7,644.9 894.2,645.3 895.7,645.1 897.2,644.6 898.7,643.3 900.2,644.5 901.7,643.7 903.2,643.0 904.2,643.9 904.7,644.2 906.2,644.0 907.7,644.1 909.2,643.3 910.7,643.6 912.2,642.9 913.7,643.4 915.2,644.1 916.7,642.8 918.2,643.8 919.7,643.1 921.2,643.3 922.7,642.8 924.2,644.1 925.7,644.5 927.2,644.2 928.7,643.0 930.2,643.2 931.7,644.1 933.2,643.1 934.7,642.8 936.2,643.5 937.7,644.6 939.2,643.0 940.3,644.1 940.7,643.1 942.2,643.8 943.7,643.5 945.2,643.9 946.7,643.1 948.2,644.5 949.7,644.1 951.2,645.1 952.7,645.3 954.2,645.4 955.7,645.3 957.2,645.4 958.7,645.7 960.2,645.5 961.7,644.4 963.2,645.3 964.7,645.4 966.1,644.4 966.2,645.5 967.7,645.5 969.2,645.2 970.7,645.1 972.2,645.5 973.7,645.3 975.2,645.3 976.7,645.1 978.2,645.1 979.7,644.8 981.2,644.7 982.7,645.9 984.2,645.6 985.7,644.8 987.2,644.2 988.7,644.2 990.2,645.7 991.7,644.4 993.2,645.4 994.7,645.0 996.2,644.4 997.7,645.0 999.2,644.9 1000.7,645.5 1002.2,643.8 1003.7,644.8 1005.2,643.7 1006.7,644.5 1008.2,645.1 1009.7,644.9 1011.2,643.8 1012.7,643.8 1014.2,644.1 1015.7,644.9 1017.2,644.1 1018.7,643.6 1020.2,643.2 1021.7,643.6 1023.2,644.2 1024.7,643.4 1026.2,643.8 1027.7,643.3 1028.0,644.1 1029.2,643.5 1030.7,643.9 1032.2,643.5 1033.7,643.7 1035.2,644.2 1036.7,642.9 1038.2,643.7 1039.7,643.6 1041.2,642.7 1042.7,642.7 1044.2,642.7 1045.7,641.6 1047.2,642.0 1048.7,642.5 1050.2,642.0 1051.7,642.6 1053.2,642.3 1054.7,642.2 1056.2,640.7 1057.7,641.8 1059.2,641.5 1060.7,640.4 1062.2,641.3 1063.7,640.1 1065.2,640.7 1066.7,640.5 1068.2,640.8 1069.7,640.5 1071.2,639.1 1072.7,638.6 1074.2,639.2 1075.7,638.2 1077.2,638.1 1078.7,639.1 1079.6,638.2 1080.2,638.7 1081.7,638.6 1083.2,637.2 1084.7,638.0 1086.2,638.0 1087.7,638.2 1089.2,636.6 1090.7,636.9 1092.2,635.9 1093.7,636.1 1095.2,636.9 1096.7,636.9 1098.2,635.7 1099.7,636.5 1101.2,635.0 1102.7,634.5 1104.2,634.1 1105.7,635.4 1107.2,633.7 1108.7,633.5 1110.2,633.5 1111.7,633.1 1113.2,632.7 1114.7,632.6 1116.2,633.0 1117.7,632.0 1119.2,632.0 1120.7,632.2 1122.2,631.9 1123.7,631.0 1125.2,631.0 1126.7,630.6 1128.2,630.5 1129.7,629.4 1131.2,629.6 1131.2,630.5 1132.7,628.8 1134.2,629.6 1135.7,628.1 1137.2,627.7 1138.7,627.3 1140.2,627.6 1141.7,627.7 1143.2,627.3 1144.7,626.1 1146.2,626.0 1147.7,626.1 1149.2,626.1 1150.7,625.9 1152.2,625.5 1153.7,624.6 1155.2,624.4 1156.7,623.3 1158.2,623.9 1159.7,624.2 1161.2,623.3 1162.7,623.1 1164.2,622.1 1165.7,621.1 1167.2,621.6 1168.7,620.6 1170.2,620.9 1171.7,619.8 1173.2,619.7 1174.7,619.4 1176.2,619.0 1177.7,619.4 1179.2,617.5 1180.7,617.5 1182.2,618.4 1182.8,617.5 1183.7,617.1 1185.2,617.0 1186.7,615.7 1188.2,615.0 1189.7,615.4 1191.2,615.5 1192.7,614.9 1194.2,614.3 1195.7,612.9 1197.2,613.7 1198.7,613.0 1200.2,611.3 1201.7,611.3 1203.2,611.4 1204.7,609.9 1206.2,610.1 1207.7,608.8 1209.2,609.0 1210.7,609.1 1212.2,607.7 1213.7,607.1 1215.2,606.1 1216.7,606.2 1218.2,604.8 1219.7,605.3 1221.2,605.3 1222.7,603.7 1224.2,603.0 1225.7,603.5 1227.2,602.7 1228.7,601.3 1230.2,601.8 1231.7,601.1 1233.2,600.0 1234.4,598.5 1234.7,600.0 1236.2,598.8 1237.7,598.9 1239.2,597.8 1240.7,597.3 1242.2,597.1 1243.7,596.0 1245.2,595.0 1246.7,595.2 1248.2,593.4 1249.7,593.1 1251.2,592.4 1252.7,592.0 1254.2,591.2 1255.7,589.8 1257.2,590.4 1258.7,589.7 1260.2,587.6 1261.7,587.4 1263.2,586.5 1264.7,586.5 1266.2,584.2 1267.7,583.6 1269.2,583.5 1270.0,583.4 1270.7,582.3 1272.2,581.2 1273.7,579.2 1275.2,577.4 1276.7,576.6 1278.2,575.5 1279.7,573.6 1281.0,571.5 1281.2,572.1 1282.7,569.1 1284.2,566.7 1285.7,564.4 1287.2,563.0 1288.7,559.8 1290.2,557.2 1291.7,555.7 1293.2,551.9 1294.7,549.5 1296.2,546.6 1297.7,545.1 1299.2,541.2 1300.7,539.7 1301.6,538.9 1302.2,537.6 1303.7,536.1 1305.2,534.1 1306.7,531.3 1308.2,529.9 1309.7,527.1 1311.2,525.8 1312.7,524.0 1314.2,521.1 1315.7,519.8 1317.2,518.8 1318.7,516.7 1320.2,513.5 1321.7,513.0 1323.2,509.6 1324.7,507.6 1326.2,507.0 1327.4,505.1 1327.7,504.4 1329.2,502.7 1330.7,500.8 1332.2,498.4 1333.7,495.5 1335.2,494.0 1336.7,491.4 1338.2,488.0 1339.7,485.9 1341.2,484.4 1342.7,481.9 1344.2,479.5 1345.7,477.9 1347.2,474.7 1348.0,474.7 1348.7,472.0 1350.2,470.8 1351.7,467.9 1353.2,464.5 1354.7,463.2 1356.2,460.0 1357.7,457.2 1359.2,455.6 1360.7,454.3 1360.9,454.7 1362.2,453.3 1363.7,452.3 1365.2,452.5 1366.7,452.1 1368.2,451.5 1368.7,450.1 1369.7,450.2 1371.2,448.2 1372.7,445.3 1374.2,441.7 1375.7,437.0 1377.2,434.2 1378.7,430.5 1379.0,429.2 1380.2,427.7 1381.7,424.8 1383.2,420.2 1384.7,418.1 1386.2,414.0 1387.7,410.2 1389.2,405.0 1389.3,404.8 1390.7,398.4 1392.2,390.5 1393.7,381.0 1394.5,376.6 1395.2,370.9 1396.7,360.1 1398.2,347.8 1399.6,339.5 1399.7,338.9 1401.2,331.8 1402.2,328.3 1402.7,327.4 1404.2,326.9 1404.8,325.6 1405.7,327.3 1407.2,329.6 1408.7,331.6 1408.7,331.4 1410.2,334.1 1411.7,338.1 1413.2,338.5 1413.8,340.0 1414.7,340.4 1416.2,340.6 1417.7,341.7 1419.2,342.1 1420.7,341.6 1422.2,341.6 1423.7,341.8 1425.2,342.1 1426.7,342.7 1428.0,343.0 1428.2,342.5 1429.7,342.0 1431.2,342.3 1432.7,341.0 1434.2,340.2 1435.7,339.4 1437.2,339.1 1438.3,337.5 1438.7,336.7 1440.2,335.8 1441.7,334.7 1443.2,332.9 1444.7,332.7 1446.2,330.2 1447.7,328.1 1449.2,326.7 1450.7,325.8 1452.2,324.0 1453.7,322.6 1455.2,320.8 1456.4,321.2 1456.7,320.4 1458.2,318.1 1459.7,317.9 1461.2,316.6 1462.7,315.4 1464.2,314.2 1465.7,313.6 1467.2,311.2 1468.7,310.2 1470.2,309.4 1471.7,308.1 1471.9,308.1 1473.2,308.0 1474.7,305.8 1476.2,306.0 1477.7,305.0 1479.2,302.8 1480.7,301.7 1482.2,301.6 1483.7,301.0 1485.2,300.6 1486.7,300.4 1487.4,300.3 1488.2,298.9 1489.7,300.0 1491.2,298.4 1492.7,298.7 1494.2,299.1 1495.7,298.5 1497.2,298.0 1498.7,299.1 1499.0,299.0 1500.2,298.4 1501.7,299.2 1503.2,301.3 1504.7,301.8 1506.2,303.6 1507.7,306.5 1508.0,305.4 1509.2,307.5 1510.7,309.3 1512.2,313.1 1513.7,316.1 1515.2,319.0 1516.7,321.6 1518.2,325.9 1518.3,326.2 1519.7,328.6 1521.2,333.4 1522.7,336.0 1524.2,342.0 1525.7,345.0 1527.2,350.3 1528.6,355.1 1528.7,356.3 1530.2,361.3 1531.7,366.6 1533.2,372.9 1534.7,379.1 1536.2,385.2 1537.7,391.0 1539.0,395.6 1539.2,398.0 1540.7,404.0 1542.2,411.2 1543.7,416.3 1545.2,424.2 1546.7,430.1 1548.2,435.8 1549.3,441.1 1549.7,442.7 1551.2,448.8 1552.7,454.5 1554.2,459.0 1555.7,464.9 1557.2,470.7 1558.7,476.2 1559.6,478.8 1560.2,482.0 1561.7,485.6 1563.2,491.0 1564.7,494.6 1566.2,500.5 1567.7,504.7 1569.2,509.6 1570.7,512.3 1572.2,516.5 1572.5,517.6 1573.7,520.6 1575.2,525.0 1576.7,528.5 1578.2,533.0 1579.7,536.2 1581.2,539.4 1582.7,542.3 1584.2,545.2 1585.4,549.4 1585.7,549.5 1587.2,552.3 1588.7,556.0 1590.2,560.1 1591.7,561.7 1593.2,565.7 1594.7,569.5 1596.2,572.1 1597.0,573.1" stroke="#00ff00" stroke-width="2"/>
<path d="M277.7,749.7 279.2,749.7 280.7,751.0 282.2,751.2 283.7,751.4 285.2,752.2 286.7,752.7 288.2,753.4 289.7,754.0 291.2,753.1 292.7,753.9 294.2,754.8 295.7,754.1 297.2,756.0 298.7,755.9 300.2,754.6 301.7,755.7 303.2,755.9 304.7,754.9 306.2,755.3 307.7,755.3 308.7,755.9 309.2,756.1 310.7,755.8 312.2,756.6 313.7,756.2 315.2,755.3 316.7,754.7 318.2,754.8 319.7,755.4 321.2,754.2 322.7,755.0 324.2,754.0 325.7,753.0 327.2,753.4 328.7,753.1 330.2,752.5 331.7,751.7 333.2,752.0 334.5,751.5 334.7,751.8 336.2,751.3 337.7,750.2 339.2,751.3 340.7,749.3 342.2,749.5 343.7,748.9 345.2,748.8 346.7,748.9 348.2,748.4 349.7,748.3 351.2,747.5 352.7,747.7 354.2,746.4 355.7,746.3 357.2,745.8 358.7,744.5 360.2,744.4 361.7,743.7 363.2,743.6 364.7,742.7 366.2,742.7 367.7,742.4 369.2,742.5 370.7,742.4 372.2,741.1 373.7,741.1 375.2,740.4 376.7,739.4 378.2,738.9 379.7,738.9 381.2,739.1 382.7,738.2 384.2,738.0 385.7,737.6 387.2,737.0 388.7,735.8 390.2,735.8 391.7,735.5 393.2,734.2 394.7,734.3 396.2,734.0 397.7,732.9 399.0,733.6 399.2,733.5 400.7,732.3 402.2,732.2 403.7,733.0 405.2,731.7 406.7,731.0 408.2,731.7 409.7,730.6 411.2,730.5 412.7,730.6 414.2,729.5 415.7,728.5 417.2,729.1 418.7,729.1 420.2,727.7 421.7,727.8 423.2,727.8 424.7,726.1 426.2,726.8 427.7,725.9 429.2,725.6 430.7,725.9 432.2,725.3 433.7,723.7 435.2,723.9 436.7,724.0 438.2,723.8 439.7,722.3 441.2,722.9 442.7,722.2 444.2,721.1 445.7,721.6 447.2,721.1 448.7,720.8 450.2,720.1 451.7,720.0 453.2,720.4 454.7,719.3 456.2,720.0 457.7,719.4 459.2,719.2 460.7,718.3 462.2,717.6 463.5,717.1 463.7,717.8 465.2,717.7 466.7,717.3 468.2,716.5 469.7,716.2 471.2,717.5 472.7,716.3 474.2,717.0 475.7,716.7 477.2,716.0 478.7,716.3 480.2,716.3 481.7,715.5 483.2,714.2 484.7,715.1 486.2,714.7 487.7,715.0 489.2,714.1 490.7,714.5 492.2,713.7 493.7,713.9 495.2,713.5 496.7,712.9 498.2,712.9 499.7,712.3 501.2,713.2 502.2,713.6 502.7,713.0 504.2,712.0 505.7,712.5 507.2,711.9 508.7,711.9 510.2,711.1 511.7,712.6 513.2,711.7 514.7,711.6 516.2,710.6 517.7,710.5 519.2,711.7 520.7,711.5 522.2,711.0 523.7,710.9 525.2,711.1 526.7,710.5 528.2,710.3 529.7,709.3 531.2,709.3 532.7,709.2 534.2,708.7 535.7,709.2 537.2,708.5 538.7,709.9 540.2,709.3 541.7,708.7 543.2,708.5 544.7,709.2 546.2,709.4 547.7,709.5 549.2,707.8 550.7,708.4 552.2,709.3 553.7,708.6 553.8,709.0 555.2,708.2 556.7,709.1 558.2,709.2 559.7,707.9 561.2,708.0 562.7,708.2 564.2,709.1 565.7,707.5 567.2,708.4 568.7,708.4 570.2,708.7 571.7,707.4 573.2,707.5 574.7,708.7 576.2,708.9 577.7,708.2 579.2,708.1 580.7,708.5 582.2,707.5 583.7,708.6 585.2,707.2 586.7,708.3 588.2,708.6 589.7,707.3 591.2,707.7 592.7,707.6 594.2,708.5 595.7,707.4 597.2,707.8 598.7,708.1 600.2,707.1 601.7,707.7 603.2,707.4 604.7,707.5 605.4,707.4 606.2,707.7 607.7,707.1 609.2,707.5 610.7,707.5 612.2,708.3 613.7,708.3 615.2,707.9 616.7,707.3 618.2,708.1 619.7,708.1 621.2,708.1 622.7,707.9 624.2,707.8 625.7,707.3 627.2,707.6 628.7,707.6 630.2,708.0 631.7,708.0 633.2,708.3 634.7,709.1 636.2,709.2 637.7,708.3 639.2,708.7 640.7,709.4 642.2,709.0 643.7,707.9 645.2,708.6 646.7,709.3 648.2,708.7 649.7,709.7 651.2,708.4 652.7,709.5 654.2,709.3 655.7,709.4 657.2,708.8 658.7,708.8 660.2,709.0 661.7,709.6 663.2,709.0 664.7,710.1 666.2,709.5 667.7,709.2 669.2,709.6 670.7,708.7 672.2,709.8 673.7,708.8 675.2,710.0 676.7,708.7 678.2,709.8 679.7,709.9 681.2,709.0 682.7,708.8 682.8,710.0 684.2,709.1 685.7,709.5 687.2,709.2 688.7,708.9 690.2,710.3 691.7,709.1 693.2,709.4 694.7,709.1 696.2,709.9 697.7,709.9 699.2,709.9 700.7,708.8 702.2,709.4 703.7,708.3 705.2,708.7 706.7,709.1 708.2,708.7 709.7,709.8 711.2,709.1 712.7,709.6 714.2,708.2 715.7,708.9 717.2,708.4 718.7,708.9 720.2,708.9 721.7,708.8 723.2,707.9 724.7,709.0 726.2,708.0 727.7,708.3 729.2,708.9 730.7,708.5 732.2,707.3 733.7,708.4 735.2,707.4 736.7,707.4 738.2,707.4 739.7,707.4 741.2,708.2 742.7,707.6 744.2,707.0 745.7,706.8 747.2,707.9 748.7,706.3 750.2,706.4 751.7,707.8 753.2,707.3 754.7,707.2 756.2,707.0 757.7,706.0 759.2,706.5 760.7,706.4 762.2,706.4 763.7,706.5 765.2,706.9 766.7,705.6 768.2,706.6 769.7,706.8 770.0,706.8 771.2,705.6 772.7,705.7 774.2,705.6 775.7,706.0 777.2,705.8 778.7,705.8 780.2,705.8 781.7,705.7 783.2,706.3 784.7,705.8 785.5,705.9 786.2,705.9 787.7,706.6 789.2,706.2 790.7,706.3 792.2,706.3 793.7,705.7 795.2,706.2 796.7,706.7 798.2,705.9 799.7,705.8 801.2,706.0 802.7,705.7 804.2,706.6 805.7,706.4 807.2,706.9 808.7,705.7 810.2,706.3 811.7,706.2 813.2,705.3 814.7,705.3 816.2,706.5 817.7,705.5 819.2,706.4 820.7,706.1 822.2,706.5 823.7,705.4 825.2,706.3 826.7,706.2 828.2,705.4 829.7,707.0 831.2,705.4 832.7,707.0 834.2,705.2 835.7,705.5 837.2,706.3 838.7,706.8 840.2,706.9 841.7,705.9 843.2,705.4 844.7,706.4 846.2,706.8 847.7,707.0 849.2,705.7 850.7,705.3 852.2,706.1 853.7,706.9 855.2,706.3 856.7,706.1 858.2,707.0 859.7,705.6 861.2,705.4 862.7,706.1 864.2,706.8 865.7,705.7 867.2,706.2 868.7,706.9 870.2,705.4 871.7,706.9 873.2,705.5 874.7,705.3 876.2,705.9 877.7,706.7 879.2,706.2 880.7,705.3 882.2,706.3 883.7,705.5 885.2,705.5 886.7,706.6 888.2,706.3 889.7,706.5 891.2,705.3 892.7,705.6 894.2,707.0 895.7,706.9 897.2,706.1 898.7,706.8 900.2,706.4 901.7,706.9 903.2,706.1 904.7,706.3 906.2,706.1 907.7,705.3 909.2,706.2 910.7,706.1 912.2,706.0 913.7,705.6 915.2,706.1 916.7,706.8 918.2,706.0 919.7,705.3 921.2,706.4 922.7,706.8 924.2,706.0 925.7,705.9 927.2,706.2 928.7,705.6 929.4,706.9 930.2,705.3 931.7,703.6 933.2,700.9 934.0,701.2 934.7,701.3 936.2,700.6 937.7,699.9 939.2,700.3 940.2,700.0 940.7,700.4 942.2,700.1 943.7,699.9 945.2,701.0 946.7,700.6 948.2,701.2 949.7,700.1 951.2,701.5 952.7,701.9 954.2,700.4 955.7,701.7 957.2,702.1 958.7,700.9 960.2,700.8 961.7,701.4 963.2,701.9 964.7,701.9 966.2,701.4 967.7,703.2 969.2,702.8 970.7,703.3 971.1,702.4 972.2,703.0 973.7,702.5 975.2,702.1 976.7,703.7 978.2,703.8 979.7,702.2 981.2,703.7 982.7,703.2 984.2,702.7 985.7,704.2 987.2,703.1 988.7,703.2 990.2,704.5 991.7,703.5 993.2,704.6 994.7,703.0 996.2,703.3 997.7,704.2 999.2,704.2 1000.7,704.2 1002.2,704.8 1003.7,704.6 1005.2,704.4 1006.7,704.0 1008.2,703.7 1009.7,704.2 1011.2,704.0 1012.7,704.9 1014.2,705.3 1015.7,705.3 1017.2,705.4 1017.6,704.6 1018.7,705.7 1020.2,705.1 1021.7,705.6 1023.2,705.9 1024.7,705.5 1026.2,705.6 1027.7,705.7 1029.2,705.7 1030.7,706.1 1032.2,705.0 1033.7,705.5 1035.2,705.2 1036.7,705.7 1038.2,705.1 1039.7,706.2 1041.2,705.6 1042.7,706.6 1044.2,705.3 1045.7,706.3 1047.2,705.5 1048.7,706.0 1050.2,705.8 1051.7,705.2 1053.2,706.2 1054.7,706.8 1056.2,705.5 1057.7,705.3 1059.2,705.3 1060.7,706.4 1062.2,706.9 1063.7,705.4 1065.2,705.5 1066.7,706.6 1068.2,705.9 1069.7,706.9 1069.9,706.4 1071.2,706.6 1072.7,706.9 1074.2,705.9 1075.7,705.4 1077.2,705.5 1078.7,706.9 1080.2,706.2 1081.7,705.6 1083.2,707.0 1084.7,705.5 1085.5,705.4 1086.2,705.5 1087.7,705.3 1089.2,706.0 1090.7,705.8 1092.2,706.7 1093.7,705.5 1095.2,705.4 1096.7,706.3 1098.2,705.8 1099.7,706.6 1101.2,705.2 1102.7,705.1 1104.2,705.9 1105.7,705.6 1107.2,705.7 1108.7,705.6 1110.2,706.3 1111.7,705.3 1113.2,706.5 1114.7,705.1 1116.2,705.1 1117.7,705.2 1119.2,704.8 1120.7,704.6 1122.2,705.8 1123.7,705.8 1125.2,704.3 1126.7,704.6 1128.2,705.4 1129.7,704.6 1131.2,704.1 1131.9,705.0 1132.7,705.7 1134.2,704.1 1135.7,704.9 1137.2,704.6 1138.7,704.8 1140.2,703.2 1141.7,703.8 1143.2,702.8 1144.7,703.2 1146.2,702.1 1147.7,701.9 1149.2,702.7 1150.7,702.2 1152.2,700.7 1153.7,701.0 1155.2,700.7 1156.7,699.7 1158.2,699.9 1159.7,700.1 1161.2,699.7 1162.7,698.4 1162.8,698.2 1164.2,698.9 1165.7,698.7 1167.2,698.3 1168.7,697.4 1170.2,696.8 1171.7,697.0 1173.2,696.1 1174.7,695.7 1176.2,696.5 1177.7,696.2 1179.2,694.4 1180.7,695.3 1182.2,694.1 1183.7,693.8 1185.2,694.2 1186.0,693.0 1186.7,693.0 1188.2,692.9 1189.7,692.2 1191.2,692.1 1192.7,691.8 1194.2,690.9 1195.7,690.6 1197.2,689.5 1198.7,689.1 1200.2,688.1 1201.7,688.1 1203.2,688.2 1204.7,687.1 1206.2,687.6 1207.7,685.9 1209.2,686.0 1209.3,685.7 1210.7,686.0 1212.2,685.8 1213.7,686.2 1215.2,685.8 1215.5,684.7 1216.7,684.4 1218.2,684.9 1219.7,683.6 1221.2,683.6 1222.7,682.1 1224.2,681.9 1225.7,680.9 1227.2,680.9 1228.7,681.3 1230.2,679.9 1231.0,680.0 1231.7,678.6 1233.2,678.4 1234.7,678.5 1236.2,678.4 1237.7,678.2 1239.2,677.1 1240.7,676.8 1242.2,675.2 1243.7,675.6 1245.2,674.9 1246.4,674.1 1246.7,673.5 1248.2,674.0 1249.7,672.9 1251.2,671.1 1252.7,670.9 1254.2,670.2 1255.7,670.0 1257.2,668.2 1258.1,668.9 1258.7,667.2 1260.2,666.5 1261.7,666.7 1263.2,665.3 1264.7,664.9 1266.2,663.2 1267.7,662.0 1269.2,662.5 1270.7,660.5 1272.2,660.5 1273.7,659.4 1275.2,657.7 1276.1,658.1 1276.7,657.8 1278.2,656.4 1279.7,656.1 1281.2,653.8 1282.7,654.2 1284.2,652.8 1285.7,652.2 1287.2,651.7 1288.7,649.9 1290.2,650.0 1291.7,649.1 1293.2,647.4 1294.2,647.1 1294.7,646.1 1296.2,644.6 1297.7,645.0 1299.2,643.0 1300.7,642.9 1302.2,641.2 1303.7,639.7 1305.2,639.7 1306.7,637.2 1308.2,636.9 1308.7,635.2 1309.7,634.7 1311.2,633.1 1312.7,629.3 1314.2,626.2 1315.7,624.1 1317.2,622.3 1317.7,620.8 1318.7,619.8 1320.2,618.4 1321.7,615.4 1323.2,614.7 1324.7,612.6 1326.2,611.3 1327.7,609.8 1329.2,607.1 1330.3,607.5 1330.7,606.5 1332.2,605.8 1333.1,605.4 1333.7,605.2 1335.2,603.3 1336.7,601.2 1338.2,599.2 1339.7,598.3 1340.3,596.3 1341.2,595.7 1342.7,594.0 1344.2,592.0 1345.7,590.5 1347.2,590.4 1348.7,587.5 1350.2,585.4 1350.6,586.0 1351.7,584.7 1353.2,582.5 1354.7,579.6 1356.2,579.2 1357.7,575.6 1359.2,574.0 1360.7,572.4 1361.0,571.8 1362.2,571.0 1363.7,569.1 1365.2,567.8 1366.7,566.4 1368.2,564.5 1369.7,562.9 1371.2,560.6 1371.3,560.1 1372.7,559.9 1374.2,557.4 1375.7,554.9 1377.2,553.1 1378.7,551.2 1379.0,551.8 1380.2,549.6 1381.7,547.1 1383.2,544.3 1384.7,541.6 1386.2,538.2 1387.7,535.5 1389.2,532.9 1389.3,533.6 1390.7,530.7 1392.2,529.2 1393.7,527.5 1395.2,526.9 1396.7,525.6 1398.2,524.9 1399.7,522.3 1401.2,520.8 1402.7,519.5 1404.2,518.7 1404.8,517.5 1405.7,515.7 1407.2,514.3 1408.7,512.5 1410.2,511.9 1411.7,510.1 1413.2,507.3 1414.7,505.2 1415.1,505.1 1416.2,503.8 1417.7,501.3 1419.2,498.7 1420.7,497.2 1422.2,493.9 1423.7,491.4 1425.2,488.5 1426.7,486.8 1428.2,484.2 1429.7,483.1 1430.6,480.9 1431.2,480.1 1432.7,479.3 1434.2,477.8 1435.7,475.0 1437.2,473.5 1438.7,472.2 1440.2,469.6 1441.7,468.1 1443.2,466.8 1443.5,466.8 1444.7,465.0 1446.2,463.3 1447.7,460.3 1449.2,457.8 1450.7,457.2 1452.2,453.4 1453.7,451.7 1455.2,448.9 1456.4,448.0 1456.7,447.7 1458.2,445.7 1459.7,442.5 1461.2,440.1 1462.7,437.1 1464.1,435.4 1464.2,435.2 1465.7,433.4 1467.2,430.0 1468.7,428.6 1470.2,426.2 1471.7,424.6 1473.2,422.1 1474.5,420.6 1474.7,420.7 1476.2,418.0 1477.7,414.3 1479.2,410.7 1480.7,408.1 1482.2,405.9 1482.2,406.8 1483.7,405.2 1485.2,405.0 1486.7,403.4 1488.2,402.9 1489.7,402.0 1489.9,403.3 1491.2,403.0 1492.7,402.8 1494.2,402.6 1495.7,401.6 1497.2,401.3 1498.7,402.3 1500.2,402.0 1501.7,401.4 1502.8,401.7 1503.2,401.9 1504.7,400.8 1506.2,399.2 1507.7,399.7 1509.2,398.0 1510.7,397.3 1512.2,397.7 1513.7,396.7 1515.2,396.3 1516.7,394.7 1518.2,393.4 1518.3,393.5 1519.7,393.4 1521.2,391.2 1522.7,391.7 1524.2,390.3 1525.7,389.2 1527.2,388.5 1528.6,387.2 1528.7,387.9 1530.2,386.5 1531.7,387.0 1533.2,386.2 1534.7,384.6 1536.2,384.7 1537.7,384.5 1539.2,384.2 1540.7,383.6 1541.5,382.9 1542.2,382.7 1543.7,383.1 1545.2,382.3 1546.7,382.2 1548.2,380.8 1549.7,380.5 1550.6,381.3 1551.2,381.6 1552.7,380.8 1554.2,383.6 1555.7,384.6 1557.2,386.5 1558.7,388.1 1559.6,388.8 1560.2,388.6 1561.7,390.9 1563.2,392.9 1564.7,395.1 1566.2,398.1 1567.3,401.4 1567.7,402.1 1569.2,410.0 1570.7,419.3 1572.2,428.2 1572.5,430.5 1573.7,435.2 1575.2,441.1 1576.5,445.2 1576.7,446.6 1578.2,454.8 1579.7,463.2 1581.2,471.8 1582.7,479.8 1584.2,487.3 1584.2,486.4 1585.7,494.8 1587.2,501.9 1588.7,508.3 1590.2,514.4 1591.7,522.2 1593.2,527.3 1594.5,534.4 1594.7,535.2 1596.2,540.9 1597.7,548.0 1599.2,552.9 1600.7,559.6 1602.2,566.2 1603.7,570.7 1604.8,575.1 1605.2,576.2 1606.7,581.4 1608.2,585.4 1609.7,590.4 1611.2,593.9 1612.7,598.8 1614.2,602.9 1615.7,606.1 1617.2,609.1 1617.7,611.0 1618.7,613.4 1620.2,616.2 1621.7,619.1 1623.2,622.4 1624.7,625.9 1626.2,629.2 1627.7,632.2 1629.2,633.9 1630.6,636.9 1630.7,637.7 1632.2,639.6 1633.7,641.2 1635.2,643.6 1636.7,647.6 1638.2,648.6 1639.7,651.3 1641.2,653.7 1642.7,655.5 1644.2,657.2 1645.7,660.3 1646.1,660.8 1647.2,661.4 1648.7,663.9 1650.2,664.4 1651.7,665.9 1653.2,668.0 1654.7,670.4 1656.2,670.4 1657.7,672.6 1659.2,673.9 1660.7,675.6 1662.2,676.4 1663.7,678.1 1664.2,678.7 1665.2,678.7 1666.7,681.0 1668.2,681.5 1669.7,682.5 1671.2,683.1 1672.7,684.5 1674.2,686.0 1675.7,686.8 1677.2,687.3 1678.7,689.0 1680.2,690.1 1681.7,690.6 1682.3,690.6 1683.2,691.5 1684.7,691.9 1686.2,693.2 1687.7,694.9 1689.2,694.5 1690.7,696.1 1692.2,695.9 1693.7,698.0 1695.2,697.5 1696.7,698.0 1698.2,700.0 1699.7,700.7 1701.2,700.0 1701.6,700.8" stroke="#00ff00" stroke-width="2"/>
<path d="M277.7,724.5 279.2,725.5 280.7,725.4 282.2,725.8 283.7,728.1 285.2,728.0 286.7,728.9 288.2,729.4 289.7,729.9 291.2,730.0 292.7,731.0 294.2,732.5 295.7,733.5 297.2,734.1 298.7,734.9 300.2,733.9 301.7,735.9 303.2,736.5 304.7,737.1 306.2,737.8 307.7,737.5 309.2,739.1 310.7,740.1 312.2,739.3 313.7,741.7 315.2,740.9 316.7,742.0 318.2,743.0 319.7,743.8 321.2,744.4 322.7,744.8 324.2,746.3 325.7,746.1 327.2,747.7 328.7,747.4 330.2,748.6 331.7,749.7 333.2,749.0 334.5,749.7 334.7,750.8 336.2,750.4 337.7,750.8 339.2,751.8 340.7,752.9 342.2,754.1 343.7,754.8 345.2,754.6 346.7,755.3 348.2,755.7 349.7,756.4 351.2,757.3 352.7,759.1 354.2,759.0 355.7,759.7 357.2,760.4 358.7,760.9 360.2,762.9 361.7,763.6 363.2,764.2 364.7,764.5 366.2,765.1 367.7,765.7 369.2,766.0 370.7,767.2 372.2,767.6 373.7,768.7 375.2,769.3 376.7,769.8 378.2,770.2 379.7,771.3 381.2,772.0 382.7,772.5 384.2,772.2 385.7,773.0 387.2,774.3 388.7,775.0 390.2,775.4 391.7,776.1 393.2,777.2 394.7,776.3 396.2,777.6 397.7,777.9 399.0,777.8 399.2,779.1 400.7,778.5 402.2,779.0 403.7,780.0 405.2,780.2 406.7,781.9 408.2,781.1 409.7,782.8 411.2,782.8 412.7,784.5 414.2,784.3 415.7,785.0 417.2,785.9 418.7,785.3 420.2,785.8 421.7,787.4 423.2,788.2 424.7,787.8 426.2,788.0 427.7,789.7 429.2,788.7 430.7,789.1 432.2,790.8 433.7,791.1 435.2,791.1 436.7,791.5 438.2,792.3 439.7,793.4 441.2,792.8 442.7,793.7 444.2,793.3 445.7,794.8 447.2,794.8 448.7,794.8 450.2,796.4 451.7,795.4 453.2,797.5 454.7,797.1 456.2,798.1 457.7,798.4 459.2,798.5 460.7,799.1 462.2,798.6 463.5,798.6 463.7,798.5 465.2,798.9 466.7,799.3 468.2,800.2 469.7,801.6 471.2,801.4 472.7,801.0 474.2,801.8 475.7,803.0 477.2,801.8 478.7,802.4 480.2,802.4 481.7,802.8 483.2,803.2 484.7,803.4 486.2,805.0 487.7,804.9 489.2,804.9 490.7,805.1 492.2,805.6 493.7,804.9 495.2,805.8 496.7,805.5 498.2,807.3 499.7,805.8 501.2,806.5 502.2,806.9 502.7,806.8 504.2,807.4 505.7,806.7 507.2,808.5 508.7,807.5 510.2,808.2 511.7,808.7 513.2,809.2 514.7,809.7 516.2,808.5 517.7,808.8 519.2,808.9 520.7,809.6 522.2,810.4 523.7,810.8 525.2,810.5 526.7,809.6 528.2,811.1 529.7,809.9 531.2,810.7 532.7,810.4 534.2,811.2 535.7,811.0 537.2,810.6 538.7,811.6 540.2,811.1 541.7,812.3 543.2,811.9 544.7,811.9 546.2,811.6 547.7,813.2 549.2,812.0 550.7,812.7 552.2,812.8 553.7,813.0 553.8,812.2 555.2,812.5 556.7,813.7 558.2,813.8 559.7,813.7 561.2,813.2 562.7,812.5 564.2,814.1 565.7,814.2 567.2,813.9 568.7,813.7 570.2,813.8 571.7,814.5 573.2,814.2 574.7,814.5 576.2,813.4 577.7,813.7 579.2,813.6 580.7,814.4 582.2,814.3 583.7,813.6 585.2,813.5 586.7,814.1 588.2,815.1 589.7,814.9 591.2,814.3 592.7,814.1 594.2,815.3 595.7,815.0 597.2,815.0 598.7,815.6 600.2,814.7 601.7,814.0 603.2,815.0 604.7,814.0 605.4,814.1 606.2,815.3 607.7,814.1 609.2,815.5 610.7,815.2 612.2,815.5 613.7,814.5 615.2,814.4 616.7,815.5 618.2,814.2 619.7,814.6 621.2,815.4 622.7,813.7 624.2,814.0 625.7,815.3 627.2,813.9 628.7,814.7 630.2,814.3 631.7,814.9 633.2,814.9 634.7,814.3 636.2,814.6 637.7,814.0 639.2,814.1 640.7,813.5 642.2,814.3 643.7,814.8 645.2,813.7 646.7,814.3 648.2,814.6 649.7,814.1 651.2,814.3 652.7,813.0 654.2,813.6 655.7,813.3 657.0,813.2 657.2,813.5 658.7,812.9 660.2,813.5 661.7,813.3 663.2,813.2 664.7,813.7 666.2,813.6 667.7,812.4 669.2,812.6 670.7,813.2 672.2,812.3 673.7,813.7 675.2,812.2 676.7,812.0 678.2,811.7 679.7,812.3 681.2,813.0 682.7,811.7 684.2,812.4 685.7,812.9 687.2,812.7 688.7,812.5 690.2,811.4 691.7,812.3 693.2,812.2 694.7,811.8 696.2,811.4 697.7,810.8 699.2,811.9 700.7,811.8 702.2,811.0 703.7,811.4 705.2,810.4 706.7,811.1 708.2,811.1 709.7,810.8 711.2,811.1 712.7,810.3 714.2,809.9 715.7,809.6 717.2,809.5 718.7,809.6 720.2,810.5 721.7,809.2 723.2,809.3 724.7,809.8 726.2,809.5 727.7,809.3 729.2,809.5 730.7,809.5 732.2,809.9 733.7,808.4 735.2,810.0 736.7,808.8 738.2,808.3 739.7,809.4 741.2,808.5 742.7,808.2 744.2,808.6 745.7,808.9 747.2,808.7 748.7,808.2 750.2,807.6 751.7,808.5 753.2,808.8 754.7,808.8 756.2,808.3 757.7,806.8 759.2,808.0 760.7,807.5 762.2,807.7 763.7,807.0 765.2,806.4 766.7,806.7 768.2,806.6 769.7,807.4 770.0,807.1 771.2,806.6 772.7,807.5 774.2,807.0 775.7,807.5 777.2,807.3 778.7,805.9 780.2,806.8 781.7,805.9 783.2,806.3 784.7,805.8 786.2,805.9 787.7,806.3 789.2,806.0 790.7,805.7 792.2,806.6 793.7,805.6 795.2,805.5 796.7,804.8 798.2,805.2 799.7,806.2 801.2,805.5 802.7,806.0 804.2,805.0 805.7,804.5 807.2,805.5 808.7,804.2 810.2,805.8 811.7,805.1 813.2,804.2 814.7,804.1 816.2,804.0 817.7,804.0 819.2,804.8 820.7,804.8 821.6,804.8 822.2,804.9 823.7,803.8 825.2,803.9 826.7,804.3 828.2,804.9 829.7,803.6 831.2,803.7 832.7,803.9 834.2,803.9 835.7,804.1 837.2,803.1 838.7,804.4 840.2,802.9 841.7,804.3 843.2,804.0 844.7,803.3 846.2,802.9 847.7,803.6 849.2,804.1 850.7,803.0 852.2,803.6 853.7,803.4 855.2,802.6 856.7,803.2 858.2,802.3 859.7,803.2 861.2,803.1 862.7,803.2 864.2,802.9 865.7,803.2 867.2,802.0 868.7,803.0 870.2,802.7 871.7,801.5 873.2,802.7 873.2,802.5 874.7,801.6 876.2,802.4 877.7,801.9 879.2,801.4 880.7,801.6 882.2,801.5 883.7,801.3 885.2,802.3 886.7,802.7 888.2,801.6 889.7,801.7 891.2,800.9 892.7,801.7 894.2,802.0 895.7,802.3 897.2,800.7 898.7,801.4 900.2,800.7 901.7,801.2 903.2,800.7 904.2,801.2 904.7,799.7 906.2,798.0 907.7,792.9 909.2,790.4 910.6,787.7 910.7,787.9 912.2,788.5 913.7,787.6 915.2,788.3 916.7,787.2 918.2,787.9 919.6,787.0 919.7,787.9 921.2,787.2 922.7,786.8 924.2,786.5 925.7,787.9 927.2,787.9 928.7,787.2 930.2,787.8 931.7,788.9 933.2,788.8 934.7,788.3 936.2,789.9 937.7,789.5 939.2,788.9 940.7,789.6 942.2,791.0 943.7,789.9 945.2,791.3 946.7,791.2 948.2,791.8 949.7,790.8 950.6,792.1 951.2,792.1 952.7,791.9 954.2,791.4 955.7,792.3 957.2,791.6 958.7,792.6 960.2,793.3 961.7,791.9 963.2,792.0 964.7,793.1 966.2,793.7 967.7,792.6 969.2,793.9 970.7,793.2 972.2,793.0 973.7,793.2 975.2,794.1 976.7,793.3 978.2,794.4 979.7,793.3 981.2,793.4 982.7,793.8 984.2,793.9 985.7,793.4 987.2,794.6 988.7,793.6 989.3,793.4 990.2,794.4 991.7,793.4 993.2,793.6 994.7,794.2 996.2,794.2 997.7,793.2 999.2,794.9 1000.7,794.0 1002.2,794.5 1003.7,794.6 1005.2,794.5 1006.7,793.3 1008.2,794.5 1009.7,793.5 1011.2,794.2 1012.7,793.9 1014.2,793.9 1015.7,793.6 1017.2,792.9 1018.7,792.9 1020.2,792.9 1021.7,793.2 1023.2,792.3 1024.7,793.4 1026.2,793.2 1027.7,793.0 1028.0,792.4 1029.2,793.3 1030.7,792.8 1032.2,792.0 1033.7,791.8 1035.2,792.8 1036.7,791.7 1038.2,791.7 1039.7,791.6 1041.2,791.9 1042.7,790.9 1044.2,790.9 1045.7,791.7 1047.2,790.7 1048.7,791.9 1050.2,790.7 1051.7,791.5 1053.2,791.0 1054.7,790.1 1056.2,789.8 1057.7,790.8 1059.2,790.5 1060.7,790.5 1062.2,790.5 1063.7,789.7 1065.2,790.0 1066.7,790.1 1068.2,789.6 1069.7,789.3 1071.2,788.2 1072.7,788.8 1074.2,788.1 1075.7,787.4 1077.2,787.6 1078.7,788.5 1079.6,787.4 1080.2,788.3 1081.7,786.7 1083.2,787.7 1084.7,786.5 1086.2,787.1 1087.7,785.9 1089.2,785.7 1090.7,786.7 1092.2,786.3 1093.7,786.2 1095.2,785.4 1096.7,785.7 1098.2,785.7 1099.7,784.7 1101.2,785.2 1102.7,784.2 1104.2,784.9 1105.7,784.7 1107.2,783.1 1108.7,784.2 1110.2,784.0 1111.7,783.2 1113.2,782.7 1114.7,782.8 1116.2,781.9 1117.7,782.8 1119.2,782.1 1120.7,781.1 1122.2,780.7 1123.7,781.1 1125.2,780.4 1126.7,780.1 1128.2,781.1 1129.7,779.5 1131.2,780.2 1131.2,779.9 1132.7,779.4 1134.2,779.8 1135.7,778.6 1137.2,778.1 1138.7,779.1 1140.2,778.1 1141.7,778.6 1143.2,778.3 1144.7,778.1 1146.2,777.2 1147.7,777.8 1149.2,777.2 1150.7,776.4 1152.2,776.4 1153.7,777.1 1155.2,775.2 1156.7,775.0 1158.2,776.2 1159.7,774.5 1161.2,774.2 1162.7,774.6 1164.2,773.6 1165.7,774.6 1167.2,773.3 1168.7,773.9 1170.2,773.1 1171.7,772.7 1173.2,772.3 1174.7,772.6 1176.2,772.9 1177.7,771.7 1179.2,772.4 1180.7,770.6 1182.2,771.9 1182.8,770.2 1183.7,769.9 1185.2,770.1 1186.7,770.8 1188.2,769.4 1189.7,770.3 1191.2,769.4 1192.7,768.7 1194.2,769.2 1195.7,767.6 1197.2,768.4 1198.7,767.7 1200.2,767.7 1201.7,767.6 1203.2,765.6 1204.7,766.8 1206.2,766.3 1207.7,764.7 1209.2,765.3 1210.7,764.5 1212.2,764.5 1213.7,763.1 1215.2,764.0 1216.7,763.6 1218.2,763.5 1219.7,762.1 1221.2,762.5 1222.7,762.1 1224.2,761.6 1225.7,760.4 1227.2,760.8 1228.7,759.3 1230.2,758.9 1231.7,759.4 1233.2,757.6 1234.4,757.7 1234.7,758.2 1236.2,758.0 1237.7,756.1 1239.2,756.9 1240.7,755.6 1242.2,754.5 1243.7,755.4 1245.2,755.0 1246.7,753.6 1248.2,753.5 1249.7,752.2 1251.2,751.6 1252.7,751.5 1254.2,750.1 1255.7,749.5 1257.2,749.4 1258.7,749.0 1260.2,747.2 1261.7,747.0 1261.9,747.4 1263.2,746.9 1264.7,745.1 1266.2,745.2 1267.7,744.5 1269.2,743.8 1270.7,742.1 1272.2,742.7 1273.7,742.0 1275.2,741.2 1276.7,739.0 1277.4,738.6 1278.2,739.1 1279.7,738.2 1281.2,737.6 1282.7,736.2 1284.2,735.9 1285.7,734.1 1287.2,733.4 1288.7,731.6 1289.8,732.3 1290.2,732.0 1291.7,730.2 1293.2,728.8 1294.7,728.2 1296.2,726.8 1297.7,724.9 1299.2,724.9 1300.6,723.4 1300.7,723.2 1302.2,723.5 1303.7,722.4 1305.2,721.2 1306.7,719.4 1308.2,719.0 1308.4,718.7 1309.7,718.4 1311.2,716.7 1312.7,714.6 1314.2,712.0 1315.7,709.7 1315.9,710.4 1317.2,707.5 1318.7,706.8 1320.2,704.8 1321.3,702.9 1321.7,702.1 1323.2,699.5 1324.7,695.6 1326.2,692.2 1326.7,692.7 1327.7,689.2 1329.2,685.5 1330.3,683.0 1330.7,682.8 1332.2,678.2 1333.7,676.2 1335.2,672.7 1335.8,672.6 1336.7,671.5 1338.2,669.2 1339.7,665.9 1341.2,664.9 1342.7,663.0 1344.2,662.7 1345.7,661.3 1346.6,661.2 1347.2,661.1 1348.7,660.9 1350.2,661.1 1351.7,660.4 1351.7,659.7 1353.2,657.9 1354.7,653.5 1356.2,649.8 1356.8,649.5 1357.7,648.1 1359.2,647.4 1360.7,645.8 1362.2,645.2 1363.7,644.7 1364.1,643.7 1365.2,642.2 1366.7,639.9 1368.2,638.0 1369.7,635.2 1371.2,632.0 1371.3,632.2 1372.7,625.0 1373.3,623.7 1374.2,622.9 1375.7,620.9 1377.2,620.5 1378.5,618.8 1378.7,618.7 1380.2,615.7 1381.7,614.4 1382.6,613.8 1383.2,612.5 1384.7,611.8 1386.2,610.5 1387.7,610.7 1389.2,609.5 1390.7,608.4 1391.9,607.6 1392.2,607.8 1393.7,607.3 1395.2,606.1 1396.7,604.2 1398.1,600.8 1398.2,600.6 1399.1,592.1 1399.7,591.1 1401.2,588.0 1401.2,588.4 1402.7,587.9 1404.2,585.4 1405.7,584.5 1407.2,583.8 1408.4,581.7 1408.7,582.7 1410.2,581.6 1411.7,579.5 1413.2,578.6 1414.7,579.2 1416.2,577.6 1417.7,575.8 1417.7,575.9 1419.2,574.8 1420.3,574.2 1420.7,580.8 1420.8,582.8 1422.2,591.0 1422.4,590.3 1423.7,596.7 1424.4,599.2 1425.2,599.7 1426.7,602.4 1428.2,604.5 1429.1,605.1 1429.7,603.9 1431.2,602.6 1432.7,601.6 1434.2,599.6 1435.3,599.6 1435.7,598.2 1437.2,597.5 1438.7,594.8 1440.2,593.9 1440.4,593.4 1441.7,586.8 1442.0,587.6 1443.2,587.2 1444.7,586.4 1446.2,586.3 1446.6,585.2 1447.7,584.0 1449.2,581.4 1450.7,579.5 1450.7,579.8 1452.2,577.8 1453.7,573.6 1455.2,571.0 1455.9,568.3 1456.7,562.8 1458.0,551.4 1458.2,549.2 1459.7,543.4 1460.5,539.3 1461.2,530.0 1461.6,526.1 1462.6,510.5 1462.7,507.2 1463.1,500.0 1464.2,491.9 1465.7,483.5 1466.8,482.6 1467.2,481.5 1468.7,478.8 1470.2,477.5 1471.7,476.6 1473.2,475.8 1474.7,475.4 1475.8,475.7 1476.2,475.5 1477.7,476.0 1479.2,475.7 1480.7,474.4 1482.2,474.6 1483.7,475.6 1485.2,474.1 1486.7,474.9 1488.2,475.3 1488.7,474.5 1489.7,475.5 1491.2,475.0 1492.7,474.4 1494.2,474.5 1495.7,474.7 1497.2,475.9 1498.7,476.3 1499.0,474.6 1500.2,476.0 1501.7,476.0 1503.2,477.3 1504.7,478.4 1506.2,481.2 1507.7,482.5 1509.2,483.8 1509.4,484.1 1510.7,486.7 1512.2,490.5 1513.7,494.1 1515.2,499.4 1516.7,504.2 1517.1,504.9 1518.2,508.3 1519.7,512.9 1521.2,515.9 1522.7,520.3 1524.2,525.9 1524.8,527.7 1525.7,533.4 1527.2,543.6 1527.4,543.1 1528.7,548.5 1530.2,554.7 1531.7,559.2 1533.2,564.4 1534.7,569.1 1535.2,568.9 1536.2,573.9 1537.7,577.8 1539.2,584.1 1540.7,589.0 1542.2,595.7 1543.7,599.3 1545.2,605.8 1545.5,606.7 1546.7,609.9 1548.2,614.4 1549.7,618.5 1551.2,624.2 1552.7,628.6 1554.2,632.7 1555.7,637.0 1557.2,640.6 1558.4,643.7 1558.7,645.0 1560.2,650.4 1561.7,653.1 1563.2,657.5 1564.7,661.6 1566.2,666.6 1567.7,669.7 1569.2,673.8 1570.7,676.2 1571.3,678.1 1572.2,680.7 1573.7,683.9 1575.2,685.5 1576.7,687.8 1578.2,690.7 1579.7,692.9 1581.2,696.9 1582.7,698.0 1584.2,700.5 1584.2,701.9 1585.7,704.7 1587.2,706.0 1588.7,709.8 1590.2,710.6 1591.7,713.9 1593.2,717.0 1594.7,718.3 1596.2,720.8 1597.1,722.5" stroke="#00ff00" stroke-width="2"/>
<path d="M277.7,619.2 279.2,620.7 280.7,620.2 282.2,620.5 283.7,621.6 285.2,623.1 286.7,623.9 288.2,624.1 289.7,624.4 291.2,626.2 292.7,627.0 294.2,626.8 295.7,627.5 297.2,628.6 298.7,629.5 300.2,630.0 301.7,630.4 303.2,631.2 304.7,632.3 306.2,633.5 307.7,632.7 309.2,633.5 310.7,635.4 312.2,635.6 313.7,636.9 315.2,637.3 316.7,637.9 318.2,639.5 319.7,639.2 321.2,640.5 322.7,641.1 324.2,641.1 325.7,641.9 327.2,643.9 328.7,644.1 330.2,645.2 331.7,645.5 333.2,647.0 334.5,647.7 334.7,647.1 336.2,647.3 337.7,649.4 339.2,649.6 340.7,650.5 342.2,651.3 343.7,651.3 345.2,653.0 346.7,653.1 348.2,653.9 349.7,656.2 351.2,655.8 352.7,657.8 354.2,658.2 355.7,659.2 357.2,660.1 358.7,660.4 360.2,661.1 361.7,663.0 363.2,663.0 364.7,663.8 366.2,664.7 367.7,666.6 369.2,668.1 370.7,668.3 372.2,668.2 373.7,670.1 375.2,670.8 376.7,672.0 378.2,671.9 379.7,673.7 381.2,675.0 382.7,674.6 384.2,676.7 385.7,676.9 387.2,678.1 388.7,677.7 390.2,678.8 391.7,680.5 393.2,681.1 394.7,681.4 396.2,682.4 397.7,682.7 399.0,683.1 399.2,682.9 400.7,683.9 402.2,684.6 403.7,685.2 405.2,685.0 406.7,687.3 408.2,688.0 409.7,688.1 411.2,687.7 412.7,689.6 414.2,689.1 415.7,689.3 417.2,690.1 418.7,691.8 420.2,692.5 421.7,693.2 423.2,693.5 424.7,693.1 426.2,694.1 427.7,694.9 429.2,694.3 430.7,694.9 432.2,696.6 433.7,696.4 435.2,696.5 436.7,697.7 438.2,697.5 439.7,699.1 441.2,698.5 442.7,700.6 444.2,700.8 445.7,700.2 447.2,700.6 448.7,702.1 450.2,701.7 451.7,703.4 453.2,703.6 454.7,704.2 456.2,703.9 457.7,705.2 459.2,705.8 460.7,706.2 462.2,705.6 463.5,705.8 463.7,705.8 465.2,706.4 466.7,707.6 468.2,707.5 469.7,708.3 471.2,709.5 472.7,709.4 474.2,709.6 475.7,709.5 477.2,710.9 478.7,710.9 480.2,710.8 481.7,712.1 483.2,712.4 484.7,713.4 486.2,712.1 487.7,712.6 489.2,713.3 489.3,713.0 490.7,713.2 492.2,713.4 493.7,714.6 495.2,714.7 496.7,714.3 498.2,714.7 499.7,714.9 501.2,715.7 502.7,715.9 504.2,716.5 505.7,716.7 507.2,717.3 508.7,716.6 510.2,716.3 511.7,717.5 513.2,718.3 514.7,717.1 516.2,718.0 517.7,717.6 519.2,717.9 520.7,718.2 522.2,717.9 523.7,718.3 525.2,719.1 526.7,719.6 528.0,719.6 528.2,720.1 529.7,719.6 531.2,720.1 532.7,719.5 534.2,719.3 535.7,720.6 537.2,719.7 538.7,720.1 540.2,720.3 541.7,721.0 543.2,720.8 544.7,722.4 546.2,721.9 547.7,722.2 549.2,723.0 550.7,722.9 552.2,723.5 553.7,722.8 555.2,723.7 556.7,724.1 558.2,723.6 559.7,724.4 561.2,724.3 562.7,723.3 564.2,724.7 565.7,725.1 567.2,724.9 568.7,724.3 570.2,724.6 571.7,725.0 573.2,724.8 574.7,724.9 576.2,726.2 577.7,725.9 579.2,724.8 579.6,725.5 580.7,725.8 582.2,726.4 583.7,725.6 585.2,726.8 586.7,725.7 588.2,726.8 589.7,726.1 591.2,726.8 592.7,726.4 594.2,727.4 595.7,726.6 597.2,726.8 598.7,726.6 600.2,728.3 601.7,727.8 603.2,727.3 604.7,728.4 606.2,727.7 607.7,727.8 609.2,728.9 610.7,728.7 612.2,727.6 613.7,727.9 615.2,729.2 616.7,728.8 618.2,729.5 619.7,728.3 621.2,728.5 622.7,728.1 624.2,728.6 625.7,728.4 627.2,729.5 628.7,729.4 630.2,728.4 631.2,729.9 631.7,729.0 633.2,729.9 634.7,728.6 636.2,730.0 637.7,729.4 639.2,729.8 640.7,729.5 642.2,729.6 643.7,728.3 645.2,729.3 646.7,728.5 648.2,728.6 649.7,729.1 651.2,729.5 652.7,729.8 654.2,728.7 655.7,728.6 657.2,728.2 658.7,728.5 660.2,729.0 661.7,728.8 663.2,729.0 664.7,729.3 666.2,729.0 667.7,728.2 669.2,728.5 670.7,729.4 672.2,728.7 673.7,728.5 675.2,728.4 676.7,729.0 678.2,727.8 679.7,728.8 681.2,728.1 682.7,729.0 682.8,728.5 684.2,727.9 685.7,728.0 687.2,728.3 688.7,727.6 690.2,728.2 691.7,728.3 693.2,728.9 694.7,728.0 696.2,728.6 697.7,728.6 699.2,727.3 700.7,728.5 702.2,728.6 703.7,727.6 705.2,726.9 706.7,727.6 708.2,727.4 709.7,728.1 711.2,727.5 712.7,726.8 714.2,727.6 715.7,728.1 717.2,727.8 718.7,726.4 720.2,726.5 721.7,727.1 723.2,727.4 724.7,727.0 726.2,726.7 727.7,726.0 729.2,726.9 730.7,726.5 732.2,727.3 733.7,725.7 735.2,725.9 736.7,725.9 738.2,725.7 739.7,726.7 741.2,726.9 742.7,725.7 744.2,726.0 745.7,726.8 747.2,726.4 748.7,726.6 750.2,726.4 751.7,726.4 753.2,725.5 754.7,726.2 756.2,726.2 757.7,726.2 759.2,725.0 760.7,725.1 762.2,724.6 763.7,725.7 765.2,724.5 766.7,725.6 768.2,724.6 769.7,724.9 770.0,724.9 771.2,724.7 772.7,724.1 774.2,725.4 775.7,724.2 777.2,724.0 778.7,724.4 780.2,724.5 781.7,724.0 783.2,724.5 784.7,724.1 785.5,724.5 786.2,724.5 787.7,723.8 789.2,723.4 790.7,724.1 792.2,723.6 793.7,723.5 795.2,724.2 796.7,724.0 798.2,723.0 799.7,723.0 801.2,724.2 802.7,724.4 804.2,724.6 805.7,723.0 807.2,723.9 808.7,723.6 810.2,724.1 811.7,723.7 813.2,722.8 814.7,724.0 816.2,723.1 816.4,723.1 817.7,723.3 819.2,722.9 820.7,723.9 822.2,722.8 823.7,722.7 825.2,723.2 826.7,723.2 828.2,722.6 829.7,723.6 831.2,722.2 832.7,723.4 834.2,722.2 835.7,723.3 837.2,723.4 838.7,722.3 840.2,722.6 841.7,722.6 843.2,722.6 844.7,722.6 846.2,722.8 847.7,723.2 849.2,722.8 850.7,723.1 852.2,722.3 853.7,721.6 855.2,721.9 856.7,722.1 858.2,722.1 859.7,722.3 861.2,722.2 862.7,722.1 862.8,721.7 864.2,721.5 865.7,721.0 867.2,721.2 868.7,722.1 870.2,722.2 871.7,721.4 873.2,720.9 874.7,721.8 876.2,720.9 877.7,721.2 878.3,721.3 879.2,720.9 880.7,721.1 882.2,721.0 883.7,719.0 885.2,719.0 886.7,718.6 888.2,718.1 889.7,716.9 891.2,717.7 892.7,716.8 893.8,717.3 894.2,715.8 895.7,717.0 897.2,716.0 898.7,715.1 900.2,714.7 901.7,715.7 903.2,715.4 904.7,715.4 906.2,715.0 907.7,715.0 909.2,714.6 909.3,715.0 910.7,713.6 912.2,714.7 913.7,712.9 915.2,713.8 916.7,713.1 918.2,714.3 919.7,713.6 921.2,713.1 922.7,713.5 924.2,714.2 924.7,713.6 925.7,714.2 927.2,712.6 928.7,713.8 930.2,713.3 931.7,713.9 933.2,712.7 934.7,713.1 936.2,714.3 937.7,714.4 939.2,713.0 940.7,713.3 942.2,714.6 943.7,714.7 945.2,714.4 946.7,714.2 948.2,714.8 949.7,713.2 951.2,714.4 952.7,713.4 954.2,713.9 955.7,713.8 955.7,714.2 957.2,713.7 958.7,713.9 960.2,713.4 961.7,715.0 963.2,714.3 964.7,714.3 966.2,714.7 967.7,714.3 969.2,713.7 970.7,714.5 972.2,714.0 973.7,714.0 975.2,713.4 976.7,714.4 978.2,713.9 979.7,713.5 981.2,714.5 982.7,713.4 984.2,713.3 985.7,714.3 987.2,714.8 988.7,714.7 990.2,714.7 991.7,713.5 993.2,713.6 994.7,714.0 996.2,713.7 997.7,714.6 999.2,713.9 1000.7,713.0 1002.2,713.5 1003.7,714.4 1005.2,714.2 1006.7,713.2 1008.2,712.9 1009.7,713.8 1011.2,714.0 1012.7,713.4 1014.2,712.8 1015.7,713.9 1017.2,712.6 1018.7,713.6 1020.2,712.7 1021.7,713.3 1023.2,713.8 1024.7,714.0 1026.2,713.5 1027.7,712.3 1029.2,713.8 1030.7,713.3 1032.2,712.5 1033.7,713.6 1035.2,713.3 1036.7,712.6 1038.2,712.2 1039.7,713.7 1041.2,712.3 1042.7,712.9 1044.2,712.7 1045.7,712.5 1047.2,711.9 1048.7,712.4 1050.2,712.9 1051.7,711.8 1053.2,713.3 1054.7,712.0 1056.2,711.7 1057.7,712.0 1059.2,712.2 1060.7,712.5 1062.2,712.5 1063.7,712.8 1065.2,711.7 1066.7,712.6 1068.2,712.6 1069.7,712.2 1069.9,712.7 1071.2,711.4 1072.7,711.5 1074.2,712.3 1075.7,712.2 1077.2,711.8 1078.7,711.5 1080.2,710.5 1081.7,710.7 1083.2,710.6 1084.7,711.6 1085.5,711.1 1086.2,710.1 1087.7,709.9 1089.2,710.2 1090.7,710.6 1092.2,711.0 1093.7,710.8 1095.2,709.8 1096.7,709.0 1098.2,710.1 1099.7,709.2 1101.2,709.7 1102.7,709.6 1104.2,708.8 1105.7,708.4 1107.2,709.8 1108.7,709.8 1110.2,709.1 1111.7,709.6 1113.2,708.5 1114.7,708.0 1116.2,708.8 1117.7,708.9 1119.2,707.9 1120.7,708.7 1122.2,707.3 1123.7,708.0 1125.2,708.3 1126.7,706.8 1128.2,706.8 1129.7,707.8 1131.2,706.6 1132.7,707.2 1134.2,706.3 1135.7,706.7 1137.2,706.5 1138.7,707.4 1140.2,707.4 1141.7,706.2 1143.2,706.7 1144.7,706.5 1146.2,706.6 1147.7,705.8 1149.2,706.7 1150.7,706.4 1152.2,705.4 1153.7,706.2 1155.2,704.9 1156.7,704.7 1158.2,705.0 1159.7,705.0 1161.2,705.5 1162.7,704.8 1162.8,704.8 1164.2,705.2 1165.7,704.5 1167.2,704.0 1168.7,704.4 1170.2,704.2 1171.7,704.6 1173.2,704.1 1174.7,704.3 1176.2,703.1 1177.7,704.2 1179.2,704.2 1180.7,703.6 1182.2,703.7 1183.7,703.4 1185.2,703.2 1186.7,703.6 1188.2,703.9 1189.7,703.2 1191.2,703.5 1192.7,702.7 1194.2,703.7 1195.7,703.3 1197.2,702.1 1198.7,702.6 1200.2,703.2 1201.7,701.8 1203.2,702.5 1204.7,702.9 1206.2,702.7 1207.7,701.9 1209.2,701.8 1210.7,701.5 1212.2,701.1 1213.7,702.2 1215.2,701.1 1216.7,701.4 1218.2,702.0 1219.7,701.7 1221.2,701.7 1222.7,701.6 1224.2,701.5 1224.7,700.5 1225.7,700.6 1227.2,701.6 1228.7,701.4 1230.2,701.3 1231.7,700.3 1233.2,700.6 1234.7,700.5 1236.2,700.3 1237.7,700.6 1239.2,700.1 1240.7,700.9 1242.2,699.7 1243.7,699.2 1245.2,699.0 1246.7,699.2 1248.2,698.8 1249.7,699.9 1251.2,698.8 1252.7,699.0 1254.2,698.8 1255.7,699.9 1257.2,698.6 1258.7,698.3 1260.2,698.0 1261.7,698.7 1263.2,697.6 1264.7,697.5 1266.2,697.1 1267.7,697.1 1269.2,698.0 1270.7,697.4 1271.1,696.9 1272.2,696.2 1273.7,696.7 1275.2,695.8 1276.1,694.9 1276.7,696.0 1278.2,694.4 1279.7,693.7 1281.2,693.8 1282.7,693.3 1284.2,692.1 1285.7,692.5 1287.2,692.6 1288.7,690.9 1290.2,691.3 1291.7,690.1 1293.2,690.8 1294.7,690.0 1296.2,689.8 1297.7,688.6 1299.2,688.0 1300.7,687.3 1302.2,687.0 1303.7,687.8 1305.2,687.5 1306.7,685.8 1308.2,685.8 1309.7,684.8 1311.2,684.6 1312.3,684.3 1312.7,683.7 1314.2,683.8 1315.7,683.8 1317.2,683.4 1318.7,684.0 1320.2,683.3 1321.7,681.9 1323.2,683.2 1324.7,682.1 1326.2,681.2 1327.7,680.6 1329.2,680.1 1330.3,679.5 1330.7,679.0 1332.2,675.4 1333.7,668.7 1333.9,669.0 1335.2,663.5 1336.7,659.0 1338.2,653.2 1339.4,649.8 1339.7,649.6 1341.2,648.3 1342.7,646.2 1344.2,644.4 1345.7,641.9 1347.2,640.9 1348.7,639.3 1350.2,638.0 1350.6,638.4 1351.7,636.9 1353.2,636.7 1354.7,635.1 1356.2,634.0 1357.7,633.2 1359.2,633.1 1360.7,630.5 1362.2,630.9 1363.7,629.2 1364.1,628.8 1365.2,627.6 1366.7,627.6 1368.2,626.7 1369.7,626.6 1371.2,625.7 1372.7,623.1 1374.2,622.8 1375.4,621.5 1375.7,619.7 1377.2,613.6 1378.5,609.9 1378.7,609.3 1380.2,605.1 1381.7,601.9 1382.6,600.6 1383.2,600.0 1384.7,597.3 1386.2,595.7 1387.7,594.6 1387.8,595.7 1389.2,593.9 1390.7,593.8 1392.2,592.4 1393.7,592.6 1395.2,591.3 1396.0,590.9 1396.7,591.4 1398.2,590.6 1399.7,589.6 1401.2,589.8 1402.2,589.6 1402.7,588.5 1404.2,581.3 1404.3,580.1 1405.7,573.5 1406.4,571.9 1407.2,570.1 1408.7,566.0 1408.9,565.3 1410.2,554.2 1410.5,553.5 1411.7,550.4 1413.2,547.4 1414.7,547.0 1415.1,546.7 1416.2,546.8 1417.7,549.0 1418.8,551.7 1419.2,553.3 1420.7,555.8 1422.2,559.0 1422.9,560.5 1423.7,563.4 1425.2,566.2 1426.7,569.4 1427.0,569.2 1428.2,571.5 1429.7,573.5 1431.2,576.7 1432.7,578.2 1433.2,578.9 1434.2,579.4 1435.7,580.5 1437.2,582.4 1438.7,583.0 1439.4,583.9 1440.2,583.8 1441.7,585.7 1443.2,585.4 1443.5,586.2 1444.7,586.6 1446.2,586.4 1447.7,586.4 1449.2,585.2 1450.7,586.3 1452.2,585.3 1453.7,585.7 1453.8,585.6 1455.2,585.7 1456.7,584.8 1458.2,585.6 1459.7,584.7 1461.2,585.2 1462.7,585.6 1464.2,585.7 1464.2,584.5 1465.7,585.1 1467.2,586.3 1468.7,586.7 1470.2,587.2 1471.4,586.8 1471.7,586.4 1473.2,586.0 1474.7,585.7 1476.2,584.1 1477.7,582.5 1479.2,583.4 1479.6,583.1 1480.7,582.1 1482.2,583.5 1482.3,582.9 1483.7,582.8 1484.6,581.0 1485.2,579.9 1486.7,580.9 1487.7,579.4 1488.2,580.0 1489.7,577.1 1490.1,576.6 1491.2,574.1 1492.7,573.8 1493.2,573.3 1494.2,572.1 1495.7,572.6 1497.2,573.6 1497.8,574.0 1498.7,574.6 1500.2,573.8 1501.7,572.1 1502.5,570.4 1503.2,569.3 1504.7,566.5 1504.8,565.6 1506.2,565.2 1507.7,564.2 1509.2,562.0 1509.4,562.2 1510.7,561.5 1512.2,560.1 1512.5,558.8 1513.7,559.8 1515.2,558.9 1516.7,558.7 1517.2,559.6 1518.2,558.2 1519.7,555.4 1520.3,556.6 1521.2,556.0 1522.7,555.7 1524.1,555.0 1524.2,554.9 1525.7,551.0 1525.7,552.3 1527.2,551.9 1528.7,550.4 1530.2,551.6 1530.3,551.1 1531.7,551.0 1533.2,549.8 1534.7,550.4 1535.8,550.8 1536.2,550.5 1537.7,551.0 1538.9,552.4 1539.2,552.9 1540.7,553.4 1541.2,555.0 1542.2,554.8 1543.7,556.3 1544.3,555.6 1545.2,556.5 1546.7,558.0 1548.1,561.1 1548.2,560.4 1549.7,562.2 1551.2,564.5 1551.2,563.7 1552.7,568.6 1553.6,568.9 1554.2,571.3 1555.7,573.2 1556.7,574.6 1557.2,576.1 1558.7,579.3 1559.0,581.2 1560.2,583.2 1561.7,586.9 1562.1,586.9 1563.2,590.3 1564.4,592.3 1564.7,593.8 1566.2,596.3 1567.5,599.1 1567.7,599.7 1569.2,604.3 1570.6,606.5 1570.7,606.8 1572.2,610.7 1573.7,614.5 1573.7,614.1 1575.2,618.6 1576.0,620.9 1576.7,622.3 1578.2,625.4 1579.0,627.2 1579.7,628.3 1581.2,630.1 1582.7,633.1 1584.2,636.2 1585.7,639.5 1587.2,642.1 1588.7,644.0 1589.4,644.3 1590.2,645.1 1591.7,647.9 1593.2,650.8 1594.7,651.1 1596.2,653.4 1597.1,654.8" stroke="#00ff00" stroke-width="2"/>
<path d="M277.7,641.9 279.2,642.7 280.7,642.9 282.2,644.5 283.7,645.2 285.2,645.4 286.7,646.3 288.2,648.8 289.7,649.1 291.2,649.5 292.7,650.7 294.2,650.9 295.7,651.8 297.2,652.2 298.7,653.0 300.2,655.2 301.7,656.0 303.2,655.4 304.7,656.8 306.2,657.2 307.7,658.7 309.2,659.7 310.7,660.4 312.2,660.5 313.7,662.3 315.2,663.0 316.7,663.5 318.2,664.0 319.7,665.9 321.2,665.2 322.7,666.1 324.2,667.3 325.7,667.9 327.2,669.3 328.7,670.2 330.2,671.0 331.7,671.9 333.2,671.6 334.5,673.3 334.7,672.5 336.2,673.8 337.7,674.0 339.2,675.9 340.7,675.4 342.2,676.8 343.7,678.0 345.2,679.0 346.7,678.7 348.2,681.1 349.7,680.7 351.2,681.9 352.7,682.4 354.2,682.8 355.7,684.0 357.2,685.0 358.7,686.3 360.2,686.2 361.7,688.6 363.2,688.1 364.7,689.5 366.2,690.0 367.7,690.8 369.2,692.6 370.7,693.3 372.2,693.6 373.7,693.7 375.2,694.2 376.7,695.5 378.2,695.7 379.7,697.0 381.2,696.9 382.7,697.4 384.2,699.0 385.7,699.3 387.2,701.0 388.7,700.5 390.2,701.3 391.7,701.5 393.2,702.7 394.7,702.5 396.2,702.7 397.7,703.4 399.0,704.4 399.2,703.9 400.7,704.6 402.2,704.8 403.7,704.4 405.2,705.2 406.7,705.4 408.2,706.4 409.7,705.8 411.2,707.1 412.7,706.6 414.2,706.8 415.7,708.1 417.2,708.3 418.7,708.0 420.2,708.8 421.7,709.1 423.2,709.2 424.7,709.1 426.2,709.7 427.7,708.7 429.2,709.4 430.7,710.0 432.2,709.5 433.7,709.9 435.2,710.0 436.7,710.4 438.2,710.8 439.7,710.9 441.2,712.2 442.7,710.8 444.2,712.0 445.7,712.3 447.2,712.6 448.7,712.1 450.2,713.5 451.7,713.0 453.2,713.3 454.7,712.4 456.2,713.1 457.7,713.0 459.2,714.3 460.7,713.6 462.2,713.5 463.5,714.8 463.7,713.6 465.2,714.1 466.7,715.2 468.2,713.8 469.7,714.2 471.2,715.0 472.7,715.1 474.2,716.2 475.7,716.3 477.2,716.0 478.7,715.1 480.2,715.5 481.7,716.3 483.2,716.3 484.7,717.4 486.2,716.6 487.7,717.6 489.2,716.4 490.7,717.7 492.2,717.4 493.7,717.9 495.2,717.7 496.7,717.6 498.2,716.9 499.7,716.7 501.2,716.7 502.2,716.9 502.7,717.0 504.2,717.0 505.7,717.0 507.2,717.4 508.7,717.7 510.2,718.1 511.7,718.1 513.2,716.8 514.7,718.2 516.2,717.6 517.7,716.9 519.2,717.7 520.7,716.8 522.2,717.5 523.7,716.7 525.2,717.1 526.7,716.3 528.2,717.7 529.7,716.2 531.2,717.3 532.7,716.4 534.2,716.3 535.7,717.6 537.2,716.1 538.7,717.1 540.2,716.6 541.7,716.2 543.2,715.8 544.7,717.2 546.2,716.5 547.7,717.0 549.2,716.2 550.7,715.9 552.2,716.6 553.7,716.6 553.8,716.0 555.2,716.1 556.7,716.1 558.2,716.9 559.7,715.4 561.2,716.3 562.7,716.0 564.2,716.6 565.7,715.5 567.2,716.8 568.7,716.5 570.2,716.4 571.7,716.6 573.2,715.4 574.7,715.4 576.2,715.1 577.7,716.1 579.2,716.7 580.7,715.3 582.2,715.3 583.7,715.8 585.2,716.6 586.7,716.0 588.2,716.2 589.7,715.8 591.2,716.1 592.7,715.9 594.2,716.1 595.7,715.2 597.2,716.3 598.7,716.0 600.2,715.2 601.7,715.1 603.2,716.1 604.7,715.3 605.4,715.4 606.2,716.1 607.7,715.2 609.2,715.4 610.7,715.6 612.2,715.0 613.7,714.8 615.2,715.5 616.7,715.4 618.2,715.0 619.7,715.3 621.2,715.2 622.7,714.9 624.2,715.3 625.7,715.1 627.2,714.9 628.7,715.2 630.2,713.5 631.7,714.8 633.2,713.6 634.7,713.3 636.2,713.3 637.7,713.0 639.2,713.1 640.7,714.4 642.2,713.8 643.7,714.1 645.2,713.3 646.7,713.7 648.2,713.7 649.7,712.7 651.2,712.3 652.7,712.3 654.2,712.7 655.7,712.4 657.2,713.3 658.7,713.4 660.2,712.0 661.7,713.4 663.2,713.3 664.7,713.2 666.2,712.3 667.7,712.2 669.2,712.1 670.7,713.0 672.2,711.4 673.7,712.0 675.2,712.9 676.7,712.6 678.2,712.7 679.7,712.7 681.2,711.7 682.7,712.2 682.8,711.6 684.2,712.0 685.7,711.9 687.2,711.2 688.7,712.9 690.2,711.2 691.7,711.7 693.2,712.9 694.7,713.0 696.2,712.5 697.7,712.0 699.2,712.0 700.7,712.0 702.2,712.3 703.7,712.6 705.2,711.7 706.7,712.3 708.2,712.4 709.7,711.8 711.2,711.8 712.7,712.5 714.2,711.7 715.7,712.2 717.2,713.1 718.7,712.1 720.2,712.5 721.7,713.1 723.2,713.6 724.7,713.5 726.2,712.3 727.7,712.3 729.2,712.8 730.7,713.0 732.2,712.2 733.7,713.3 735.2,713.8 736.7,712.4 738.2,712.9 739.7,713.7 741.2,713.9 742.7,714.0 744.2,714.1 745.7,713.7 747.2,713.3 748.7,713.0 750.2,713.4 751.7,713.9 753.2,713.2 754.7,713.6 756.2,714.0 757.7,713.5 759.2,713.4 760.7,713.5 762.2,714.5 763.7,713.8 765.2,714.2 766.7,714.5 768.2,714.2 769.7,714.1 770.0,714.9 771.2,715.0 772.7,714.6 774.2,715.8 775.7,714.2 777.2,714.8 778.7,715.6 780.2,716.0 781.7,716.5 783.2,715.3 784.7,715.4 785.5,715.9 786.2,715.2 787.7,715.7 789.2,715.9 790.7,716.9 792.2,715.7 793.7,717.1 795.2,716.5 796.7,716.0 798.2,716.5 799.7,716.7 801.2,717.3 802.7,717.4 804.2,716.6 805.7,716.6 807.2,718.1 808.7,717.3 810.2,718.0 811.7,717.2 813.2,717.3 814.7,717.6 816.2,718.0 816.4,717.6 817.7,718.6 819.2,719.1 820.7,718.7 822.2,718.5 823.7,719.2 825.2,719.2 826.7,717.9 828.2,718.3 829.7,718.2 831.2,719.1 832.7,719.7 834.2,718.1 835.7,719.4 837.2,718.7 838.7,718.9 840.2,718.6 841.7,718.7 843.2,719.9 844.7,720.1 846.2,718.7 847.7,719.8 849.2,719.0 850.7,720.5 852.2,719.3 853.7,719.1 855.2,719.3 856.7,719.7 858.2,719.5 859.7,720.3 861.2,721.1 862.7,720.9 862.8,720.7 864.2,719.8 865.7,720.4 867.2,721.7 868.7,720.9 870.2,721.4 871.7,720.9 873.2,720.8 874.7,721.7 876.2,721.0 877.7,721.9 878.3,722.5 879.2,722.4 880.7,721.7 882.2,722.3 883.7,721.2 885.2,721.7 886.7,722.1 888.2,721.2 889.7,721.7 891.2,722.7 892.7,722.3 893.8,722.0 894.2,722.2 895.7,722.8 897.2,722.4 898.7,722.1 900.2,721.9 901.7,721.1 903.2,722.5 904.7,722.4 906.2,722.2 907.7,722.0 909.2,721.3 910.7,721.5 912.2,720.5 913.7,721.2 915.2,721.5 916.7,720.9 918.2,721.3 919.7,720.6 921.2,720.3 922.7,719.9 924.2,720.0 924.7,720.6 925.7,719.9 927.2,718.8 928.7,719.2 930.2,717.9 931.7,718.1 933.2,717.3 934.7,716.1 936.2,715.9 937.1,715.7 937.7,715.8 939.2,715.8 940.7,716.2 942.2,715.3 943.7,715.0 945.2,715.9 946.7,714.6 948.2,714.9 949.7,714.2 951.2,714.6 952.7,715.4 954.2,715.3 955.7,715.0 955.7,715.8 957.2,715.1 958.7,714.4 960.2,714.7 961.7,715.6 963.2,715.0 964.7,715.7 966.2,715.6 967.7,715.7 969.2,714.7 970.7,715.6 972.2,715.5 973.7,715.4 975.2,715.3 976.7,714.7 978.2,715.2 979.7,715.9 981.2,716.0 982.7,715.2 984.2,715.6 985.7,716.0 987.2,714.8 988.7,715.2 990.2,715.9 991.7,714.4 993.2,714.7 994.7,716.0 996.2,715.0 997.7,715.1 999.2,716.0 1000.7,716.2 1002.2,714.6 1003.7,714.7 1005.2,715.8 1006.7,714.9 1008.2,714.9 1009.7,715.4 1011.2,715.4 1012.7,716.0 1014.2,715.2 1015.7,715.2 1017.2,716.1 1017.6,715.6 1018.7,715.1 1020.2,715.6 1021.7,715.1 1023.2,715.7 1024.7,716.2 1026.2,716.6 1027.7,715.4 1029.2,715.5 1030.7,716.1 1032.2,715.7 1033.7,715.2 1035.2,715.3 1036.7,716.5 1038.2,716.2 1039.7,715.7 1041.2,716.5 1042.7,715.7 1044.2,715.6 1045.7,716.0 1047.2,716.3 1048.7,716.5 1050.2,716.4 1051.7,716.2 1053.2,716.0 1054.7,717.5 1056.2,715.9 1057.7,716.3 1059.2,717.3 1060.7,716.7 1062.2,717.7 1063.7,716.9 1065.2,716.2 1066.7,716.4 1068.2,716.9 1069.7,716.8 1069.9,717.2 1071.2,716.5 1072.7,716.5 1074.2,718.3 1075.7,717.0 1077.2,718.5 1078.7,718.8 1080.2,717.3 1081.7,718.5 1083.2,719.1 1084.7,718.5 1085.5,717.6 1086.2,718.1 1087.7,718.3 1089.2,717.9 1090.7,719.6 1092.2,719.2 1093.7,718.8 1095.2,718.4 1096.7,720.0 1098.2,719.7 1099.7,718.8 1101.2,718.6 1102.7,720.3 1104.2,719.7 1105.7,720.0 1107.2,720.6 1108.7,720.0 1110.2,719.2 1111.7,719.2 1113.2,719.3 1114.7,720.9 1116.2,720.5 1117.7,720.7 1119.2,719.7 1120.7,719.7 1122.2,720.3 1123.7,720.2 1125.2,721.0 1126.7,721.5 1128.2,719.9 1129.7,721.3 1131.2,720.2 1132.7,721.6 1134.2,720.5 1135.7,721.7 1137.2,721.4 1138.7,721.0 1140.2,721.2 1141.7,720.2 1143.2,721.5 1144.7,721.6 1146.2,720.2 1147.4,720.4 1147.7,722.0 1149.2,721.0 1150.7,721.1 1152.2,721.1 1153.7,720.5 1155.2,721.6 1156.7,720.7 1158.2,721.4 1159.7,721.9 1161.2,721.7 1162.7,721.2 1164.2,720.9 1165.7,720.2 1167.2,721.6 1168.7,721.5 1170.2,720.6 1171.7,721.3 1173.2,721.8 1174.7,720.9 1176.2,721.6 1177.7,721.5 1179.2,720.1 1180.7,720.0 1182.2,720.6 1183.7,720.1 1185.2,721.3 1186.7,720.3 1188.2,720.1 1189.7,720.6 1191.2,720.2 1192.7,719.9 1194.2,720.9 1195.7,720.2 1197.2,719.7 1198.7,719.7 1200.2,719.7 1201.7,721.3 1203.2,720.0 1204.7,720.2 1206.2,721.2 1207.7,720.1 1209.2,720.1 1209.3,719.8 1210.7,721.0 1212.2,719.8 1213.7,719.5 1215.2,719.5 1216.7,720.3 1218.2,718.9 1219.7,720.2 1221.2,719.0 1222.7,719.8 1224.2,719.2 1225.7,719.2 1227.2,718.1 1228.7,718.7 1230.2,717.5 1231.7,718.4 1233.2,718.1 1234.7,717.1 1236.2,716.3 1237.7,716.7 1239.2,716.2 1240.7,715.4 1242.2,716.8 1243.7,715.6 1245.2,716.1 1246.7,715.9 1248.2,715.9 1249.7,714.4 1251.2,715.2 1252.7,715.7 1254.2,714.2 1255.7,714.4 1255.7,714.3 1257.2,715.4 1258.7,715.6 1260.2,714.6 1261.7,714.4 1261.9,715.9 1263.2,714.5 1264.7,715.8 1266.2,714.1 1267.7,715.7 1269.2,714.7 1270.7,714.5 1272.2,714.4 1273.7,713.2 1275.2,713.0 1276.7,714.0 1278.2,713.1 1279.7,713.1 1281.2,712.8 1282.7,712.2 1284.2,711.7 1285.7,711.3 1287.2,710.6 1288.7,710.7 1290.2,710.0 1291.7,709.8 1292.9,708.5 1293.2,708.8 1294.7,708.7 1296.2,708.4 1297.7,707.6 1299.2,707.2 1300.7,707.5 1302.2,706.7 1303.7,706.0 1305.2,705.7 1306.7,705.4 1308.2,705.8 1309.7,704.7 1311.2,705.6 1312.7,705.5 1314.2,704.4 1315.7,704.4 1317.2,703.0 1317.6,703.2 1318.7,703.0 1320.2,703.4 1321.7,701.8 1323.2,702.5 1324.7,700.9 1326.2,700.8 1327.7,701.1 1329.2,700.9 1330.7,699.5 1332.2,700.0 1333.7,698.6 1335.2,698.5 1336.7,698.1 1338.2,697.5 1339.3,697.7 1339.7,697.4 1341.2,697.5 1342.7,695.9 1344.2,695.5 1345.7,695.8 1347.2,694.8 1348.7,695.5 1350.2,694.6 1351.7,693.5 1353.2,693.4 1354.7,692.9 1356.2,692.3 1357.7,692.4 1359.2,691.3 1360.7,690.4 1362.2,690.5 1362.5,691.1 1363.7,690.1 1365.2,688.9 1366.7,688.9 1368.2,688.5 1369.7,688.6 1371.2,687.9 1372.7,687.1 1374.2,685.7 1375.7,685.2 1377.2,684.6 1378.7,684.0 1380.2,682.8 1381.7,682.4 1383.2,681.5 1384.7,680.4 1385.8,681.2 1386.2,679.2 1387.7,678.0 1389.2,678.0 1390.7,676.0 1392.2,674.5 1393.5,673.3 1393.7,672.9 1395.2,670.9 1396.7,669.3 1398.2,668.2 1399.7,667.6 1401.2,665.6 1401.2,666.9 1402.7,664.7 1404.2,664.6 1405.7,664.2 1407.2,664.0 1408.7,661.9 1410.2,661.5 1411.7,661.3 1413.2,661.3 1414.7,660.2 1416.2,658.2 1416.7,657.9 1417.7,658.6 1419.2,657.6 1420.7,655.6 1422.2,656.0 1423.7,654.8 1425.2,653.2 1426.7,653.1 1428.2,651.1 1429.7,650.9 1431.2,650.0 1432.2,649.9 1432.7,648.4 1434.2,648.0 1435.7,647.4 1437.2,646.9 1438.7,646.5 1440.2,646.7 1441.7,644.6 1443.2,643.9 1444.6,642.9 1444.7,642.6 1446.2,641.3 1447.7,640.5 1449.2,636.5 1449.2,636.4 1450.7,629.7 1450.8,628.9 1452.2,625.6 1453.7,624.1 1455.2,622.6 1456.7,619.4 1457.0,619.9 1458.2,618.0 1459.7,617.4 1461.2,616.3 1462.7,615.0 1464.2,615.3 1464.2,615.4 1465.7,613.5 1467.2,612.8 1468.7,610.6 1470.2,610.7 1471.7,608.9 1473.2,608.1 1474.5,605.4 1474.7,606.1 1476.2,604.6 1477.7,603.9 1479.2,602.3 1480.0,600.9 1480.7,599.1 1482.2,596.3 1482.3,596.9 1483.7,595.8 1485.2,595.6 1486.2,595.2 1486.7,594.9 1488.2,590.8 1488.5,590.7 1489.7,590.4 1491.2,589.5 1491.6,589.5 1492.7,588.1 1493.2,587.0 1494.2,586.5 1495.7,584.4 1497.0,583.9 1497.2,584.2 1498.7,581.2 1499.4,581.1 1500.2,580.6 1501.7,580.1 1503.2,579.4 1503.2,578.9 1504.0,574.6 1504.7,574.2 1506.2,572.2 1507.7,570.8 1508.7,571.5 1509.2,570.4 1510.7,571.2 1512.2,571.9 1512.5,570.9 1513.7,570.7 1515.2,569.1 1516.4,567.9 1516.7,568.1 1518.2,563.8 1518.7,563.7 1519.7,564.5 1521.2,563.1 1522.7,562.9 1523.4,563.0 1524.2,563.9 1525.7,562.6 1527.2,560.9 1528.0,559.6 1528.7,559.8 1530.2,558.2 1531.7,558.2 1531.9,558.0 1533.2,555.9 1534.7,554.5 1535.8,554.2 1536.2,553.2 1537.7,552.2 1539.2,552.5 1539.6,552.5 1540.7,550.0 1541.9,548.4 1542.2,549.5 1543.7,548.8 1545.2,547.5 1545.8,546.8 1546.7,547.5 1548.2,547.2 1549.7,546.0 1549.7,546.4 1551.2,545.2 1552.0,543.5 1552.7,543.8 1554.2,544.5 1555.1,543.3 1555.7,543.4 1557.2,539.7 1557.4,539.8 1558.7,538.9 1560.2,537.4 1560.5,538.4 1561.7,536.8 1562.9,535.1 1563.2,536.0 1564.7,537.1 1566.0,537.5 1566.2,537.4 1567.7,538.5 1569.1,541.6 1569.2,541.6 1570.7,545.3 1571.4,546.2 1572.2,548.3 1573.7,552.2 1573.7,552.4 1575.2,556.2 1576.7,560.3 1576.8,561.2 1578.2,565.0 1579.1,568.8 1579.7,570.4 1581.2,573.8 1582.2,576.5 1582.7,577.8 1584.2,582.1 1584.5,582.9 1585.7,584.8 1587.2,587.1 1587.6,589.4 1588.4,596.2 1588.7,598.3 1590.2,599.2 1591.5,600.6 1591.7,603.9 1592.3,609.1 1593.2,611.5 1594.7,613.1 1595.4,614.6 1596.2,616.6 1597.7,620.9 1597.7,620.4 1599.2,622.9 1600.7,627.0 1602.2,628.8 1603.7,632.6 1605.2,634.9 1606.7,636.7 1608.2,639.3 1609.7,641.2 1610.0,642.8 1611.2,643.7 1612.7,645.6 1614.2,649.0 1615.7,651.5 1617.2,653.4 1618.7,656.7 1620.2,658.1 1621.7,661.2 1623.2,661.9 1624.7,664.4 1626.2,667.4 1627.7,668.3 1629.2,671.7 1630.6,672.0 1630.7,672.8 1632.2,675.0 1633.7,677.0 1635.2,679.3 1636.7,680.1 1638.2,682.8 1639.7,684.6 1641.2,685.9 1642.7,687.5 1644.2,689.8 1645.7,691.4 1647.2,693.0 1648.7,694.5 1650.2,695.1 1651.7,696.9 1653.2,698.1 1654.7,698.9 1656.2,700.6 1656.5,700.6 1657.7,701.6 1659.2,704.2 1660.7,705.4 1662.2,706.5 1663.7,707.5 1665.2,709.1 1666.7,709.4 1668.2,710.5 1669.7,711.9 1671.2,712.7 1672.7,713.5 1674.2,714.2 1675.7,715.3 1677.2,715.6 1678.7,718.2 1680.2,719.1 1681.7,719.5 1682.3,718.6 1683.2,719.0 1684.7,720.3 1686.2,720.7 1687.7,721.7 1689.2,722.8 1690.7,724.3 1692.2,725.2 1693.7,726.1 1695.2,725.7 1696.7,726.6 1698.2,728.1 1699.7,728.6 1701.2,728.3 1702.7,729.8 1704.2,729.9 1705.7,729.7 1707.2,731.6 1708.1,731.6 1708.7,731.8 1710.2,730.8 1711.7,732.0 1713.2,733.0 1714.7,732.4 1716.2,734.0 1717.7,734.3 1719.2,733.9 1720.7,734.0 1722.2,735.3 1723.7,734.9 1725.2,735.3 1726.7,736.3 1728.2,736.1" stroke="#00ff00" stroke-width="2"/>
</g>
<g class="axes" fill="#000">
<rect x="274.30" y="168.10" width="4.4" height="1184.89"/>
<rect x="274.30" y="1348.59" width="1455.85" height="4.4"/>
<rect x="253.2" y="1348.59" width="23.30" height="4.4"/>
<rect x="264.2" y="1283.01" width="12.30" height="4.4"/>
<rect x="253.2" y="1217.43" width="23.30" height="4.4"/>
<rect x="264.2" y="1151.85" width="12.30" height="4.4"/>
<rect x="253.2" y="1086.26" width="23.30" height="4.4"/>
<rect x="264.2" y="1020.68" width="12.30" height="4.4"/>
<rect x="253.2" y="955.10" width="23.30" height="4.4"/>
<rect x="264.2" y="889.51" width="12.30" height="4.4"/>
<rect x="253.2" y="823.93" width="23.30" height="4.4"/>
<rect x="264.2" y="758.35" width="12.30" height="4.4"/>
<rect x="253.2" y="692.76" width="23.30" height="4.4"/>
<rect x="264.2" y="627.18" width="12.30" height="4.4"/>
<rect x="253.2" y="561.60" width="23.30" height="4.4"/>
<rect x="264.2" y="496.02" width="12.30" height="4.4"/>
<rect x="253.2" y="430.43" width="23.30" height="4.4"/>
<rect x="264.2" y="364.85" width="12.30" height="4.4"/>
<rect x="253.2" y="299.27" width="23.30" height="4.4"/>
<rect x="264.2" y="233.68" width="12.30" height="4.4"/>
<rect x="253.2" y="168.10" width="23.30" height="4.4"/>
<rect x="274.30" y="1350.79" width="4.4" height="23.71"/>
<rect x="300.69" y="1350.79" width="4.4" height="13.01"/>
<rect x="327.08" y="1350.79" width="4.4" height="13.01"/>
<rect x="353.47" y="1350.79" width="4.4" height="13.01"/>
<rect x="379.86" y="1350.79" width="4.4" height="13.01"/>
<rect x="406.25" y="1350.79" width="4.4" height="23.71"/>
<rect x="432.64" y="1350.79" width="4.4" height="13.01"/>
<rect x="459.03" y="1350.79" width="4.4" height="13.01"/>
<rect x="485.42" y="1350.79" width="4.4" height="13.01"/>
<rect x="511.81" y="1350.79" width="4.4" height="13.01"/>
<rect x="538.20" y="1350.79" width="4.4" height="23.71"/>
<rect x="564.59" y="1350.79" width="4.4" height="13.01"/>
<rect x="590.98" y="1350.79" width="4.4" height="13.01"/>
<rect x="617.37" y="1350.79" width="4.4" height="13.01"/>
<rect x="643.76" y="1350.79" width="4.4" height="13.01"/>
<rect x="670.15" y="1350.79" width="4.4" height="23.71"/>
<rect x="696.54" y="1350.79" width="4.4" height="13.01"/>
<rect x="722.93" y="1350.79" width="4.4" height="13.01"/>
<rect x="749.32" y="1350.79" width="4.4" height="13.01"/>
<rect x="775.71" y="1350.79" width="4.4" height="13.01"/>
<rect x="802.10" y="1350.79" width="4.4" height="23.71"/>
<rect x="828.49" y="1350.79" width="4.4" height="13.01"/>
<rect x="854.88" y="1350.79" width="4.4" height="13.01"/>
<rect x="881.27" y="1350.79" width="4.4" height="13.01"/>
<rect x="907.66" y="1350.79" width="4.4" height="13.01"/>
<rect x="934.05" y="1350.79" width="4.4" height="23.71"/>
<rect x="960.44" y="1350.79" width="4.4" height="13.01"/>
<rect x="986.83" y="1350.79" width="4.4" height="13.01"/>
<rect x="1013.22" y="1350.79" width="4.4" height="13.01"/>
<rect x="1039.61" y="1350.79" width="4.4" height="13.01"/>
<rect x="1066.00" y="1350.79" width="4.4" height="23.71"/>
<rect x="1092.39" y="1350.79" width="4.4" height="13.01"/>
<rect x="1118.78" y="1350.79" width="4.4" height="13.01"/>
<rect x="1145.17" y="1350.79" width="4.4" height="13.01"/>
<rect x="1171.56" y="1350.79" width="4.4" height="13.01"/>
<rect x="1197.95" y="1350.79" width="4.4" height="23.71"/>
<rect x="1224.34" y="1350.79" width="4.4" height="13.01"/>
<rect x="1250.73" y="1350.79" width="4.4" height="13.01"/>
<rect x="1277.12" y="1350.79" width="4.4" height="13.01"/>
<rect x="1303.51" y="1350.79" width="4.4" height="13.01"/>
<rect x="1329.90" y="1350.79" width="4.4" height="23.71"/>
<rect x="1356.29" y="1350.79" width="4.4" height="13.01"/>
<rect x="1382.68" y="1350.79" width="4.4" height="13.01"/>
<rect x="1409.07" y="1350.79" width="4.4" height="13.01"/>
<rect x="1435.46" y="1350.79" width="4.4" height="13.01"/>
<rect x="1461.85" y="1350.79" width="4.4" height="23.71"/>
<rect x="1488.24" y="1350.79" width="4.4" height="13.01"/>
<rect x="1514.63" y="1350.79" width="4.4" height="13.01"/>
<rect x="1541.02" y="1350.79" width="4.4" height="13.01"/>
<rect x="1567.41" y="1350.79" width="4.4" height="13.01"/>
<rect x="1593.80" y="1350.79" width="4.4" height="23.71"/>
<rect x="1620.19" y="1350.79" width="4.4" height="13.01"/>
<rect x="1646.58" y="1350.79" width="4.4" height="13.01"/>
<rect x="1672.97" y="1350.79" width="4.4" height="13.01"/>
<rect x="1699.36" y="1350.79" width="4.4" height="13.01"/>
<rect x="1725.75" y="1350.79" width="4.4" height="23.71"/>
</g>
<g class="tick">
<text transform="translate(239.3,1366.1) scale(1,1.06)" text-anchor="end">−60</text>
<text transform="translate(239.3,1234.9) scale(1,1.06)" text-anchor="end">−40</text>
<text transform="translate(239.3,1103.8) scale(1,1.06)" text-anchor="end">−20</text>
<text transform="translate(239.3,972.6) scale(1,1.06)" text-anchor="end">0</text>
<text transform="translate(239.3,841.4) scale(1,1.06)" text-anchor="end">20</text>
<text transform="translate(239.3,710.3) scale(1,1.06)" text-anchor="end">40</text>
<text transform="translate(239.3,579.1) scale(1,1.06)" text-anchor="end">60</text>
<text transform="translate(239.3,447.9) scale(1,1.06)" text-anchor="end">80</text>
<text transform="translate(239.3,316.8) scale(1,1.06)" text-anchor="end">100</text>
<text transform="translate(239.3,185.6) scale(1,1.06)" text-anchor="end">120</text>
<text transform="translate(276.9,1426.2) scale(1,1.06)" text-anchor="middle">100</text>
<text transform="translate(408.8,1426.2) scale(1,1.06)" text-anchor="middle">125</text>
<text transform="translate(540.8,1426.2) scale(1,1.06)" text-anchor="middle">150</text>
<text transform="translate(672.7,1426.2) scale(1,1.06)" text-anchor="middle">175</text>
<text transform="translate(804.7,1426.2) scale(1,1.06)" text-anchor="middle">200</text>
<text transform="translate(936.6,1426.2) scale(1,1.06)" text-anchor="middle">225</text>
<text transform="translate(1068.6,1426.2) scale(1,1.06)" text-anchor="middle">250</text>
<text transform="translate(1200.6,1426.2) scale(1,1.06)" text-anchor="middle">275</text>
<text transform="translate(1332.5,1426.2) scale(1,1.06)" text-anchor="middle">300</text>
<text transform="translate(1464.5,1426.2) scale(1,1.06)" text-anchor="middle">325</text>
<text transform="translate(1596.4,1426.2) scale(1,1.06)" text-anchor="middle">350</text>
<text transform="translate(1728.3,1426.2) scale(1,1.06)" text-anchor="middle">375</text>
</g>
<g class="title" transform="translate(0,1517) scale(1,1.03)">
<text x="773.5" y="0">Temperature <tspan x="1126.5" y="0">(</tspan><tspan x="1153.6" y="-6.8" style="font-size:44px">°</tspan><tspan x="1169.2" y="0">C</tspan><tspan x="1214.7" y="0">)</tspan></text>
</g>
<g class="title" transform="translate(68,887.8) rotate(-90) scale(1,1.03)">
<text x="-2.3" y="0"><tspan style="font-family:'Liberation Serif',serif;font-size:59.6px">Δ</tspan><tspan x="34.85" y="0">T </tspan><tspan x="86.07" y="0">(</tspan><tspan x="116.0" y="-11.5" style="font-size:44px">°</tspan><tspan x="129.1" y="0">C</tspan><tspan x="173.8" y="0">)</tspan></text>
</g>
<g class="legend">
<rect x="1587" y="21" width="332" height="300" fill="#fff" stroke="#000" stroke-width="2" shape-rendering="crispEdges"/>
<text transform="translate(1613.1,79) scale(1,1.035)">ANMNC</text>
<rect x="1613" y="117" width="98.2" height="2" fill="#000"/>
<text transform="translate(1722.1,133.2) scale(1,1.035)">5 K/min</text>
<rect x="1613" y="170.6" width="98.2" height="1.3" fill="#0000ff"/>
<text transform="translate(1722.1,186.2) scale(1,1.035)">10 K/min</text>
<rect x="1613" y="224" width="98.2" height="2" fill="#ff0000"/>
<text transform="translate(1722.1,240.2) scale(1,1.035)">15 K/min</text>
<rect x="1613" y="278" width="98.2" height="2" fill="#00ff00"/>
<text transform="translate(1722.1,293) scale(1,1.035)">20 K/min</text>
</g>
</svg>
</body>
</html>
